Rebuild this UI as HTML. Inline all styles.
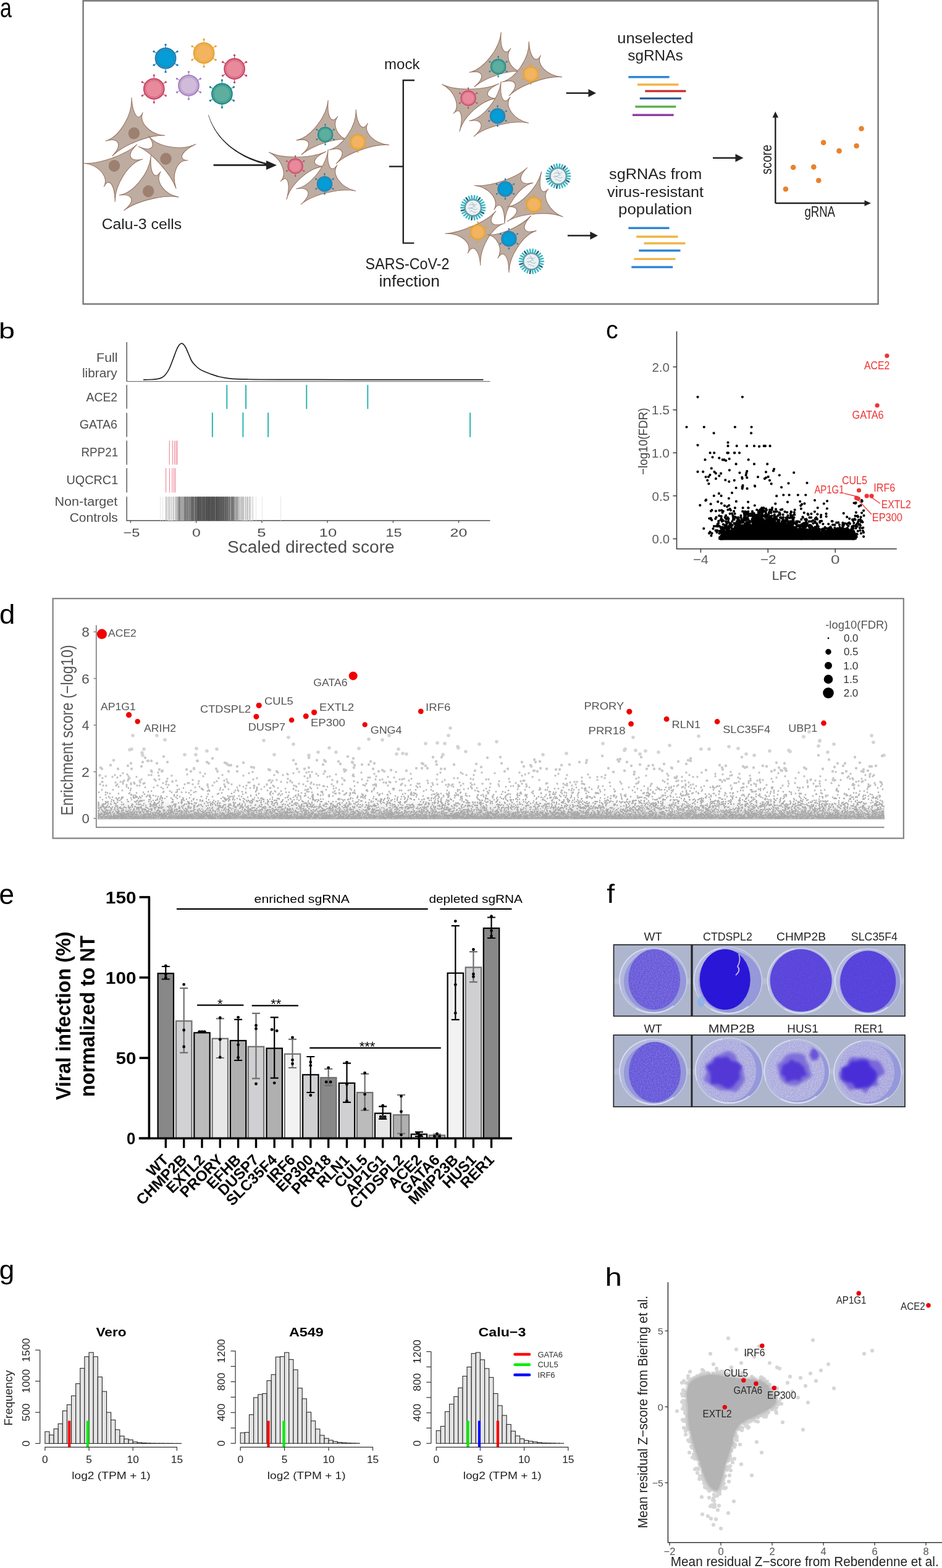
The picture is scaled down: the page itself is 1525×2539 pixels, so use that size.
<!DOCTYPE html><html><head><meta charset="utf-8"><title>Figure</title><style>html,body{margin:0;padding:0;background:#fff;}svg{display:block;font-family:"Liberation Sans",Arial,sans-serif;}</style></head><body><svg width="1525" height="2539" viewBox="0 0 1525 2539"><rect width="1525" height="2539" fill="#fff"/>
<text x="0.1" y="28.3" font-size="44.0" fill="#000" textLength="18.9" lengthAdjust="spacingAndGlyphs">a</text>
<rect x="134.6" y="1.3" width="1287" height="491" fill="none" stroke="#767676" stroke-width="2.4"/>
<g><line x1="268.1" y1="77.1" x2="268.1" y2="72.4" stroke="#1F7CB0" stroke-width="1.2"/><circle cx="268.1" cy="72.4" r="1.7" fill="#1F7CB0"/><line x1="283.1" y1="85.8" x2="287.1" y2="83.4" stroke="#1F7CB0" stroke-width="1.2"/><circle cx="287.1" cy="83.4" r="1.7" fill="#1F7CB0"/><line x1="283.1" y1="103.1" x2="287.1" y2="105.4" stroke="#1F7CB0" stroke-width="1.2"/><circle cx="287.1" cy="105.4" r="1.7" fill="#1F7CB0"/><line x1="268.1" y1="111.7" x2="268.1" y2="116.4" stroke="#1F7CB0" stroke-width="1.2"/><circle cx="268.1" cy="116.4" r="1.7" fill="#1F7CB0"/><line x1="253.1" y1="103.1" x2="249.1" y2="105.4" stroke="#1F7CB0" stroke-width="1.2"/><circle cx="249.1" cy="105.4" r="1.7" fill="#1F7CB0"/><line x1="253.1" y1="85.8" x2="249.1" y2="83.4" stroke="#1F7CB0" stroke-width="1.2"/><circle cx="249.1" cy="83.4" r="1.7" fill="#1F7CB0"/><circle cx="268.1" cy="94.4" r="16.1" fill="#049DD6" stroke="#1F7CB0" stroke-width="2.6"/><circle cx="268.1" cy="94.4" r="14.9" fill="none" stroke="#ffffff" stroke-opacity="0.3" stroke-width="0.9" stroke-dasharray="1.2 1.2"/><circle cx="268.1" cy="94.4" r="13.5" fill="none" stroke="#1F7CB0" stroke-opacity="0.7" stroke-width="1.0"/></g>
<g><line x1="330.1" y1="68.6" x2="330.1" y2="63.9" stroke="#E6A22E" stroke-width="1.2"/><circle cx="330.1" cy="63.9" r="1.7" fill="#E6A22E"/><line x1="345.1" y1="77.2" x2="349.1" y2="74.9" stroke="#E6A22E" stroke-width="1.2"/><circle cx="349.1" cy="74.9" r="1.7" fill="#E6A22E"/><line x1="345.1" y1="94.6" x2="349.1" y2="96.9" stroke="#E6A22E" stroke-width="1.2"/><circle cx="349.1" cy="96.9" r="1.7" fill="#E6A22E"/><line x1="330.1" y1="103.2" x2="330.1" y2="107.9" stroke="#E6A22E" stroke-width="1.2"/><circle cx="330.1" cy="107.9" r="1.7" fill="#E6A22E"/><line x1="315.1" y1="94.6" x2="311.1" y2="96.9" stroke="#E6A22E" stroke-width="1.2"/><circle cx="311.1" cy="96.9" r="1.7" fill="#E6A22E"/><line x1="315.1" y1="77.2" x2="311.1" y2="74.9" stroke="#E6A22E" stroke-width="1.2"/><circle cx="311.1" cy="74.9" r="1.7" fill="#E6A22E"/><circle cx="330.1" cy="85.9" r="16.1" fill="#F3B461" stroke="#E6A22E" stroke-width="2.6"/><circle cx="330.1" cy="85.9" r="14.9" fill="none" stroke="#ffffff" stroke-opacity="0.3" stroke-width="0.9" stroke-dasharray="1.2 1.2"/><circle cx="330.1" cy="85.9" r="13.5" fill="none" stroke="#E6A22E" stroke-opacity="0.7" stroke-width="1.0"/></g>
<g><line x1="379.6" y1="94.2" x2="379.6" y2="89.5" stroke="#C84868" stroke-width="1.2"/><circle cx="379.6" cy="89.5" r="1.7" fill="#C84868"/><line x1="394.6" y1="102.8" x2="398.6" y2="100.5" stroke="#C84868" stroke-width="1.2"/><circle cx="398.6" cy="100.5" r="1.7" fill="#C84868"/><line x1="394.6" y1="120.2" x2="398.6" y2="122.5" stroke="#C84868" stroke-width="1.2"/><circle cx="398.6" cy="122.5" r="1.7" fill="#C84868"/><line x1="379.6" y1="128.8" x2="379.6" y2="133.5" stroke="#C84868" stroke-width="1.2"/><circle cx="379.6" cy="133.5" r="1.7" fill="#C84868"/><line x1="364.6" y1="120.2" x2="360.6" y2="122.5" stroke="#C84868" stroke-width="1.2"/><circle cx="360.6" cy="122.5" r="1.7" fill="#C84868"/><line x1="364.6" y1="102.8" x2="360.6" y2="100.5" stroke="#C84868" stroke-width="1.2"/><circle cx="360.6" cy="100.5" r="1.7" fill="#C84868"/><circle cx="379.6" cy="111.5" r="16.1" fill="#E98A9C" stroke="#C84868" stroke-width="2.6"/><circle cx="379.6" cy="111.5" r="14.9" fill="none" stroke="#ffffff" stroke-opacity="0.3" stroke-width="0.9" stroke-dasharray="1.2 1.2"/><circle cx="379.6" cy="111.5" r="13.5" fill="none" stroke="#C84868" stroke-opacity="0.7" stroke-width="1.0"/></g>
<g><line x1="249.3" y1="126.6" x2="249.3" y2="121.9" stroke="#C84868" stroke-width="1.2"/><circle cx="249.3" cy="121.9" r="1.7" fill="#C84868"/><line x1="264.3" y1="135.2" x2="268.3" y2="132.9" stroke="#C84868" stroke-width="1.2"/><circle cx="268.3" cy="132.9" r="1.7" fill="#C84868"/><line x1="264.3" y1="152.6" x2="268.3" y2="154.9" stroke="#C84868" stroke-width="1.2"/><circle cx="268.3" cy="154.9" r="1.7" fill="#C84868"/><line x1="249.3" y1="161.2" x2="249.3" y2="165.9" stroke="#C84868" stroke-width="1.2"/><circle cx="249.3" cy="165.9" r="1.7" fill="#C84868"/><line x1="234.3" y1="152.6" x2="230.3" y2="154.9" stroke="#C84868" stroke-width="1.2"/><circle cx="230.3" cy="154.9" r="1.7" fill="#C84868"/><line x1="234.3" y1="135.2" x2="230.3" y2="132.9" stroke="#C84868" stroke-width="1.2"/><circle cx="230.3" cy="132.9" r="1.7" fill="#C84868"/><circle cx="249.3" cy="143.9" r="16.1" fill="#E98A9C" stroke="#C84868" stroke-width="2.6"/><circle cx="249.3" cy="143.9" r="14.9" fill="none" stroke="#ffffff" stroke-opacity="0.3" stroke-width="0.9" stroke-dasharray="1.2 1.2"/><circle cx="249.3" cy="143.9" r="13.5" fill="none" stroke="#C84868" stroke-opacity="0.7" stroke-width="1.0"/></g>
<g><line x1="305.5" y1="121.1" x2="305.5" y2="116.4" stroke="#A783C4" stroke-width="1.2"/><circle cx="305.5" cy="116.4" r="1.7" fill="#A783C4"/><line x1="320.5" y1="129.8" x2="324.5" y2="127.4" stroke="#A783C4" stroke-width="1.2"/><circle cx="324.5" cy="127.4" r="1.7" fill="#A783C4"/><line x1="320.5" y1="147.1" x2="324.5" y2="149.4" stroke="#A783C4" stroke-width="1.2"/><circle cx="324.5" cy="149.4" r="1.7" fill="#A783C4"/><line x1="305.5" y1="155.7" x2="305.5" y2="160.4" stroke="#A783C4" stroke-width="1.2"/><circle cx="305.5" cy="160.4" r="1.7" fill="#A783C4"/><line x1="290.5" y1="147.1" x2="286.5" y2="149.4" stroke="#A783C4" stroke-width="1.2"/><circle cx="286.5" cy="149.4" r="1.7" fill="#A783C4"/><line x1="290.5" y1="129.8" x2="286.5" y2="127.4" stroke="#A783C4" stroke-width="1.2"/><circle cx="286.5" cy="127.4" r="1.7" fill="#A783C4"/><circle cx="305.5" cy="138.4" r="16.1" fill="#D0BCD8" stroke="#A783C4" stroke-width="2.6"/><circle cx="305.5" cy="138.4" r="14.9" fill="none" stroke="#ffffff" stroke-opacity="0.3" stroke-width="0.9" stroke-dasharray="1.2 1.2"/><circle cx="305.5" cy="138.4" r="13.5" fill="none" stroke="#A783C4" stroke-opacity="0.7" stroke-width="1.0"/></g>
<g><line x1="359.4" y1="134.7" x2="359.4" y2="130.0" stroke="#1D8789" stroke-width="1.2"/><circle cx="359.4" cy="130.0" r="1.7" fill="#1D8789"/><line x1="374.4" y1="143.3" x2="378.4" y2="141.0" stroke="#1D8789" stroke-width="1.2"/><circle cx="378.4" cy="141.0" r="1.7" fill="#1D8789"/><line x1="374.4" y1="160.7" x2="378.4" y2="163.0" stroke="#1D8789" stroke-width="1.2"/><circle cx="378.4" cy="163.0" r="1.7" fill="#1D8789"/><line x1="359.4" y1="169.3" x2="359.4" y2="174.0" stroke="#1D8789" stroke-width="1.2"/><circle cx="359.4" cy="174.0" r="1.7" fill="#1D8789"/><line x1="344.4" y1="160.7" x2="340.4" y2="163.0" stroke="#1D8789" stroke-width="1.2"/><circle cx="340.4" cy="163.0" r="1.7" fill="#1D8789"/><line x1="344.4" y1="143.3" x2="340.4" y2="141.0" stroke="#1D8789" stroke-width="1.2"/><circle cx="340.4" cy="141.0" r="1.7" fill="#1D8789"/><circle cx="359.4" cy="152.0" r="16.1" fill="#5DAE9C" stroke="#1D8789" stroke-width="2.6"/><circle cx="359.4" cy="152.0" r="14.9" fill="none" stroke="#ffffff" stroke-opacity="0.3" stroke-width="0.9" stroke-dasharray="1.2 1.2"/><circle cx="359.4" cy="152.0" r="13.5" fill="none" stroke="#1D8789" stroke-opacity="0.7" stroke-width="1.0"/></g>
<path d="M212.9 158.4C214.8 186.0 224.3 198.4 231.1 182.3C224.3 198.4 242.6 217.7 266.4 219.4C242.6 217.7 198.7 234.8 181.9 252.4C198.7 234.8 193.1 222.2 171.1 228.2C193.1 222.2 214.8 186.0 212.9 158.4Z" fill="#BEACA0" stroke="#9A7764" stroke-width="1.1" stroke-linejoin="round"/><ellipse cx="216.9" cy="215.8" rx="9.2" ry="9.6" transform="rotate(15 216.9 215.8)" fill="#9E8070"/>
<path d="M135.5 264.3C159.3 266.4 204.0 250.7 221.6 234.2C204.0 250.7 209.0 263.0 231.1 257.8C209.0 263.0 185.7 298.7 186.3 326.5C185.7 298.7 176.4 286.1 168.4 302.3C176.4 286.1 159.3 266.4 135.5 264.3Z" fill="#BEACA0" stroke="#9A7764" stroke-width="1.1" stroke-linejoin="round"/><ellipse cx="185.0" cy="268.6" rx="9.2" ry="9.6" transform="rotate(15 185.0 268.6)" fill="#9E8070"/>
<path d="M224.3 237.3C245.5 246.8 253.9 237.8 240.5 220.0C253.9 237.8 293.6 244.9 316.7 233.6C293.6 244.9 286.9 258.5 303.9 259.8C286.9 258.5 277.1 282.0 285.0 305.0C277.1 282.0 245.5 246.8 224.3 237.3Z" fill="#BEACA0" stroke="#9A7764" stroke-width="1.1" stroke-linejoin="round"/><ellipse cx="268.5" cy="257.1" rx="9.2" ry="9.6" transform="rotate(15 268.5 257.1)" fill="#9E8070"/>
<path d="M244.3 252.4C242.3 279.9 250.5 293.2 260.0 278.0C250.5 293.2 265.6 314.6 289.0 319.1C265.6 314.6 219.7 325.8 200.8 340.7C219.7 325.8 215.7 313.0 193.1 316.0C215.7 313.0 242.3 279.9 244.3 252.4Z" fill="#BEACA0" stroke="#9A7764" stroke-width="1.1" stroke-linejoin="round"/><ellipse cx="240.2" cy="309.7" rx="9.2" ry="9.6" transform="rotate(15 240.2 309.7)" fill="#9E8070"/>
<text x="164.7" y="371.0" font-size="24.5" fill="#222" textLength="129.4" lengthAdjust="spacingAndGlyphs">Calu-3 cells</text>
<path d="M337.2 186.3L338.2 189.4L339.2 192.5L340.4 195.5L341.6 198.5L343.0 201.4L344.4 204.3L345.9 207.1L347.5 209.9L349.2 212.6L350.9 215.2L352.8 217.8L354.7 220.4L356.7 222.9L358.8 225.3L361.0 227.7L363.2 230.0L365.5 232.3L367.9 234.5L370.4 236.7L372.9 238.8L375.5 240.8L378.2 242.8L380.9 244.7L383.7 246.5L386.5 248.3L389.4 250.1L392.4 251.8L395.4 253.4L398.5 254.9L401.7 256.4L404.8 257.9L408.1 259.2L411.4 260.5L414.7 261.8L418.1 262.9L421.5 264.1L425.0 265.1L428.5 266.1L432.1 267.0L435.7 267.9L436.3 265.1L432.7 264.3L429.2 263.5L425.7 262.6L422.3 261.6L418.9 260.5L415.5 259.4L412.2 258.3L409.0 257.0L405.7 255.7L402.6 254.4L399.5 253.0L396.4 251.5L393.4 249.9L390.4 248.3L387.5 246.7L384.7 244.9L381.9 243.1L379.2 241.3L376.6 239.4L374.0 237.4L371.4 235.4L369.0 233.3L366.6 231.2L364.3 229.0L362.0 226.7L359.8 224.4L357.7 222.0L355.7 219.6L353.8 217.1L351.9 214.6L350.1 212.0L348.4 209.3L346.8 206.6L345.2 203.8L343.7 201.0L342.4 198.2L341.1 195.2L339.9 192.2L338.8 189.2L337.8 186.1Z" fill="#222"/>
<line x1="345.6" y1="267.4" x2="432.0" y2="267.4" stroke="#222" stroke-width="2.6"/><path d="M448.0 267.4L431.0 259.9L431.0 274.9Z" fill="#222"/>
<g transform="translate(0.0 0.0)"><path d="M531.2 162.5C529.0 189.1 537.1 202.6 546.7 188.5C537.1 202.6 545.9 222.3 563.7 226.4C545.9 222.3 506.5 234.9 488.0 250.5C506.5 234.9 502.5 222.7 480.2 227.1C502.5 222.7 529.0 189.1 531.2 162.5Z" fill="#BEACA0" stroke="#9A7764" stroke-width="1.1" stroke-linejoin="round"/><path d="M576.2 177.6C577.7 202.8 587.6 214.3 595.3 199.8C587.6 214.3 605.4 232.4 629.5 234.6C605.4 232.4 561.1 248.1 544.3 264.9C561.1 248.1 555.4 236.6 533.3 242.7C555.4 236.6 577.7 202.8 576.2 177.6Z" fill="#BEACA0" stroke="#9A7764" stroke-width="1.1" stroke-linejoin="round"/><path d="M435.7 246.5C456.1 257.3 503.8 256.7 527.6 245.5C503.8 256.7 503.1 269.3 526.2 269.6C503.1 269.3 470.8 296.8 464.0 322.6C470.8 296.8 465.7 281.7 454.3 293.6C465.7 281.7 456.1 257.3 435.7 246.5Z" fill="#BEACA0" stroke="#9A7764" stroke-width="1.1" stroke-linejoin="round"/><path d="M531.2 242.0C528.5 268.8 536.0 282.0 545.7 267.4C536.0 282.0 551.6 303.8 575.7 309.2C551.6 303.8 505.6 315.0 487.3 330.8C505.6 315.0 501.7 302.0 479.8 305.7C501.7 302.0 528.5 268.8 531.2 242.0Z" fill="#BEACA0" stroke="#9A7764" stroke-width="1.1" stroke-linejoin="round"/><g><line x1="526.6" y1="205.3" x2="526.6" y2="201.9" stroke="#1D8789" stroke-width="0.9"/><circle cx="526.6" cy="201.9" r="1.3" fill="#1D8789"/><line x1="537.5" y1="211.6" x2="540.5" y2="209.9" stroke="#1D8789" stroke-width="0.9"/><circle cx="540.5" cy="209.9" r="1.3" fill="#1D8789"/><line x1="537.5" y1="224.2" x2="540.5" y2="225.9" stroke="#1D8789" stroke-width="0.9"/><circle cx="540.5" cy="225.9" r="1.3" fill="#1D8789"/><line x1="526.6" y1="230.5" x2="526.6" y2="233.9" stroke="#1D8789" stroke-width="0.9"/><circle cx="526.6" cy="233.9" r="1.3" fill="#1D8789"/><line x1="515.7" y1="224.2" x2="512.7" y2="225.9" stroke="#1D8789" stroke-width="0.9"/><circle cx="512.7" cy="225.9" r="1.3" fill="#1D8789"/><line x1="515.7" y1="211.6" x2="512.7" y2="209.9" stroke="#1D8789" stroke-width="0.9"/><circle cx="512.7" cy="209.9" r="1.3" fill="#1D8789"/><circle cx="526.6" cy="217.9" r="11.7" fill="#5DAE9C" stroke="#1D8789" stroke-width="1.9"/><circle cx="526.6" cy="217.9" r="10.8" fill="none" stroke="#ffffff" stroke-opacity="0.3" stroke-width="0.6" stroke-dasharray="1.2 1.2"/><circle cx="526.6" cy="217.9" r="9.8" fill="none" stroke="#1D8789" stroke-opacity="0.7" stroke-width="0.8"/></g><g><line x1="579.3" y1="217.4" x2="579.3" y2="214.0" stroke="#E6A22E" stroke-width="0.9"/><circle cx="579.3" cy="214.0" r="1.3" fill="#E6A22E"/><line x1="590.2" y1="223.7" x2="593.2" y2="222.0" stroke="#E6A22E" stroke-width="0.9"/><circle cx="593.2" cy="222.0" r="1.3" fill="#E6A22E"/><line x1="590.2" y1="236.3" x2="593.2" y2="238.0" stroke="#E6A22E" stroke-width="0.9"/><circle cx="593.2" cy="238.0" r="1.3" fill="#E6A22E"/><line x1="579.3" y1="242.6" x2="579.3" y2="246.0" stroke="#E6A22E" stroke-width="0.9"/><circle cx="579.3" cy="246.0" r="1.3" fill="#E6A22E"/><line x1="568.4" y1="236.3" x2="565.4" y2="238.0" stroke="#E6A22E" stroke-width="0.9"/><circle cx="565.4" cy="238.0" r="1.3" fill="#E6A22E"/><line x1="568.4" y1="223.7" x2="565.4" y2="222.0" stroke="#E6A22E" stroke-width="0.9"/><circle cx="565.4" cy="222.0" r="1.3" fill="#E6A22E"/><circle cx="579.3" cy="230.0" r="11.7" fill="#F3B461" stroke="#E6A22E" stroke-width="1.9"/><circle cx="579.3" cy="230.0" r="10.8" fill="none" stroke="#ffffff" stroke-opacity="0.3" stroke-width="0.6" stroke-dasharray="1.2 1.2"/><circle cx="579.3" cy="230.0" r="9.8" fill="none" stroke="#E6A22E" stroke-opacity="0.7" stroke-width="0.8"/></g><g><line x1="478.1" y1="256.3" x2="478.1" y2="252.9" stroke="#C84868" stroke-width="0.9"/><circle cx="478.1" cy="252.9" r="1.3" fill="#C84868"/><line x1="489.0" y1="262.6" x2="492.0" y2="260.9" stroke="#C84868" stroke-width="0.9"/><circle cx="492.0" cy="260.9" r="1.3" fill="#C84868"/><line x1="489.0" y1="275.2" x2="492.0" y2="276.9" stroke="#C84868" stroke-width="0.9"/><circle cx="492.0" cy="276.9" r="1.3" fill="#C84868"/><line x1="478.1" y1="281.5" x2="478.1" y2="284.9" stroke="#C84868" stroke-width="0.9"/><circle cx="478.1" cy="284.9" r="1.3" fill="#C84868"/><line x1="467.2" y1="275.2" x2="464.2" y2="276.9" stroke="#C84868" stroke-width="0.9"/><circle cx="464.2" cy="276.9" r="1.3" fill="#C84868"/><line x1="467.2" y1="262.6" x2="464.2" y2="260.9" stroke="#C84868" stroke-width="0.9"/><circle cx="464.2" cy="260.9" r="1.3" fill="#C84868"/><circle cx="478.1" cy="268.9" r="11.7" fill="#E98A9C" stroke="#C84868" stroke-width="1.9"/><circle cx="478.1" cy="268.9" r="10.8" fill="none" stroke="#ffffff" stroke-opacity="0.3" stroke-width="0.6" stroke-dasharray="1.2 1.2"/><circle cx="478.1" cy="268.9" r="9.8" fill="none" stroke="#C84868" stroke-opacity="0.7" stroke-width="0.8"/></g><g><line x1="525.5" y1="285.3" x2="525.5" y2="281.9" stroke="#1F7CB0" stroke-width="0.9"/><circle cx="525.5" cy="281.9" r="1.3" fill="#1F7CB0"/><line x1="536.4" y1="291.6" x2="539.4" y2="289.9" stroke="#1F7CB0" stroke-width="0.9"/><circle cx="539.4" cy="289.9" r="1.3" fill="#1F7CB0"/><line x1="536.4" y1="304.2" x2="539.4" y2="305.9" stroke="#1F7CB0" stroke-width="0.9"/><circle cx="539.4" cy="305.9" r="1.3" fill="#1F7CB0"/><line x1="525.5" y1="310.5" x2="525.5" y2="313.9" stroke="#1F7CB0" stroke-width="0.9"/><circle cx="525.5" cy="313.9" r="1.3" fill="#1F7CB0"/><line x1="514.6" y1="304.2" x2="511.6" y2="305.9" stroke="#1F7CB0" stroke-width="0.9"/><circle cx="511.6" cy="305.9" r="1.3" fill="#1F7CB0"/><line x1="514.6" y1="291.6" x2="511.6" y2="289.9" stroke="#1F7CB0" stroke-width="0.9"/><circle cx="511.6" cy="289.9" r="1.3" fill="#1F7CB0"/><circle cx="525.5" cy="297.9" r="11.7" fill="#049DD6" stroke="#1F7CB0" stroke-width="1.9"/><circle cx="525.5" cy="297.9" r="10.8" fill="none" stroke="#ffffff" stroke-opacity="0.3" stroke-width="0.6" stroke-dasharray="1.2 1.2"/><circle cx="525.5" cy="297.9" r="9.8" fill="none" stroke="#1F7CB0" stroke-opacity="0.7" stroke-width="0.8"/></g></g>
<g transform="translate(280.0 -110.0)"><path d="M531.2 162.5C529.0 189.1 537.1 202.6 546.7 188.5C537.1 202.6 545.9 222.3 563.7 226.4C545.9 222.3 506.5 234.9 488.0 250.5C506.5 234.9 502.5 222.7 480.2 227.1C502.5 222.7 529.0 189.1 531.2 162.5Z" fill="#BEACA0" stroke="#9A7764" stroke-width="1.1" stroke-linejoin="round"/><path d="M576.2 177.6C577.7 202.8 587.6 214.3 595.3 199.8C587.6 214.3 605.4 232.4 629.5 234.6C605.4 232.4 561.1 248.1 544.3 264.9C561.1 248.1 555.4 236.6 533.3 242.7C555.4 236.6 577.7 202.8 576.2 177.6Z" fill="#BEACA0" stroke="#9A7764" stroke-width="1.1" stroke-linejoin="round"/><path d="M435.7 246.5C456.1 257.3 503.8 256.7 527.6 245.5C503.8 256.7 503.1 269.3 526.2 269.6C503.1 269.3 470.8 296.8 464.0 322.6C470.8 296.8 465.7 281.7 454.3 293.6C465.7 281.7 456.1 257.3 435.7 246.5Z" fill="#BEACA0" stroke="#9A7764" stroke-width="1.1" stroke-linejoin="round"/><path d="M531.2 242.0C528.5 268.8 536.0 282.0 545.7 267.4C536.0 282.0 551.6 303.8 575.7 309.2C551.6 303.8 505.6 315.0 487.3 330.8C505.6 315.0 501.7 302.0 479.8 305.7C501.7 302.0 528.5 268.8 531.2 242.0Z" fill="#BEACA0" stroke="#9A7764" stroke-width="1.1" stroke-linejoin="round"/><g><line x1="526.6" y1="205.3" x2="526.6" y2="201.9" stroke="#1D8789" stroke-width="0.9"/><circle cx="526.6" cy="201.9" r="1.3" fill="#1D8789"/><line x1="537.5" y1="211.6" x2="540.5" y2="209.9" stroke="#1D8789" stroke-width="0.9"/><circle cx="540.5" cy="209.9" r="1.3" fill="#1D8789"/><line x1="537.5" y1="224.2" x2="540.5" y2="225.9" stroke="#1D8789" stroke-width="0.9"/><circle cx="540.5" cy="225.9" r="1.3" fill="#1D8789"/><line x1="526.6" y1="230.5" x2="526.6" y2="233.9" stroke="#1D8789" stroke-width="0.9"/><circle cx="526.6" cy="233.9" r="1.3" fill="#1D8789"/><line x1="515.7" y1="224.2" x2="512.7" y2="225.9" stroke="#1D8789" stroke-width="0.9"/><circle cx="512.7" cy="225.9" r="1.3" fill="#1D8789"/><line x1="515.7" y1="211.6" x2="512.7" y2="209.9" stroke="#1D8789" stroke-width="0.9"/><circle cx="512.7" cy="209.9" r="1.3" fill="#1D8789"/><circle cx="526.6" cy="217.9" r="11.7" fill="#5DAE9C" stroke="#1D8789" stroke-width="1.9"/><circle cx="526.6" cy="217.9" r="10.8" fill="none" stroke="#ffffff" stroke-opacity="0.3" stroke-width="0.6" stroke-dasharray="1.2 1.2"/><circle cx="526.6" cy="217.9" r="9.8" fill="none" stroke="#1D8789" stroke-opacity="0.7" stroke-width="0.8"/></g><g><line x1="579.3" y1="217.4" x2="579.3" y2="214.0" stroke="#E6A22E" stroke-width="0.9"/><circle cx="579.3" cy="214.0" r="1.3" fill="#E6A22E"/><line x1="590.2" y1="223.7" x2="593.2" y2="222.0" stroke="#E6A22E" stroke-width="0.9"/><circle cx="593.2" cy="222.0" r="1.3" fill="#E6A22E"/><line x1="590.2" y1="236.3" x2="593.2" y2="238.0" stroke="#E6A22E" stroke-width="0.9"/><circle cx="593.2" cy="238.0" r="1.3" fill="#E6A22E"/><line x1="579.3" y1="242.6" x2="579.3" y2="246.0" stroke="#E6A22E" stroke-width="0.9"/><circle cx="579.3" cy="246.0" r="1.3" fill="#E6A22E"/><line x1="568.4" y1="236.3" x2="565.4" y2="238.0" stroke="#E6A22E" stroke-width="0.9"/><circle cx="565.4" cy="238.0" r="1.3" fill="#E6A22E"/><line x1="568.4" y1="223.7" x2="565.4" y2="222.0" stroke="#E6A22E" stroke-width="0.9"/><circle cx="565.4" cy="222.0" r="1.3" fill="#E6A22E"/><circle cx="579.3" cy="230.0" r="11.7" fill="#F3B461" stroke="#E6A22E" stroke-width="1.9"/><circle cx="579.3" cy="230.0" r="10.8" fill="none" stroke="#ffffff" stroke-opacity="0.3" stroke-width="0.6" stroke-dasharray="1.2 1.2"/><circle cx="579.3" cy="230.0" r="9.8" fill="none" stroke="#E6A22E" stroke-opacity="0.7" stroke-width="0.8"/></g><g><line x1="478.1" y1="256.3" x2="478.1" y2="252.9" stroke="#C84868" stroke-width="0.9"/><circle cx="478.1" cy="252.9" r="1.3" fill="#C84868"/><line x1="489.0" y1="262.6" x2="492.0" y2="260.9" stroke="#C84868" stroke-width="0.9"/><circle cx="492.0" cy="260.9" r="1.3" fill="#C84868"/><line x1="489.0" y1="275.2" x2="492.0" y2="276.9" stroke="#C84868" stroke-width="0.9"/><circle cx="492.0" cy="276.9" r="1.3" fill="#C84868"/><line x1="478.1" y1="281.5" x2="478.1" y2="284.9" stroke="#C84868" stroke-width="0.9"/><circle cx="478.1" cy="284.9" r="1.3" fill="#C84868"/><line x1="467.2" y1="275.2" x2="464.2" y2="276.9" stroke="#C84868" stroke-width="0.9"/><circle cx="464.2" cy="276.9" r="1.3" fill="#C84868"/><line x1="467.2" y1="262.6" x2="464.2" y2="260.9" stroke="#C84868" stroke-width="0.9"/><circle cx="464.2" cy="260.9" r="1.3" fill="#C84868"/><circle cx="478.1" cy="268.9" r="11.7" fill="#E98A9C" stroke="#C84868" stroke-width="1.9"/><circle cx="478.1" cy="268.9" r="10.8" fill="none" stroke="#ffffff" stroke-opacity="0.3" stroke-width="0.6" stroke-dasharray="1.2 1.2"/><circle cx="478.1" cy="268.9" r="9.8" fill="none" stroke="#C84868" stroke-opacity="0.7" stroke-width="0.8"/></g><g><line x1="525.5" y1="285.3" x2="525.5" y2="281.9" stroke="#1F7CB0" stroke-width="0.9"/><circle cx="525.5" cy="281.9" r="1.3" fill="#1F7CB0"/><line x1="536.4" y1="291.6" x2="539.4" y2="289.9" stroke="#1F7CB0" stroke-width="0.9"/><circle cx="539.4" cy="289.9" r="1.3" fill="#1F7CB0"/><line x1="536.4" y1="304.2" x2="539.4" y2="305.9" stroke="#1F7CB0" stroke-width="0.9"/><circle cx="539.4" cy="305.9" r="1.3" fill="#1F7CB0"/><line x1="525.5" y1="310.5" x2="525.5" y2="313.9" stroke="#1F7CB0" stroke-width="0.9"/><circle cx="525.5" cy="313.9" r="1.3" fill="#1F7CB0"/><line x1="514.6" y1="304.2" x2="511.6" y2="305.9" stroke="#1F7CB0" stroke-width="0.9"/><circle cx="511.6" cy="305.9" r="1.3" fill="#1F7CB0"/><line x1="514.6" y1="291.6" x2="511.6" y2="289.9" stroke="#1F7CB0" stroke-width="0.9"/><circle cx="511.6" cy="289.9" r="1.3" fill="#1F7CB0"/><circle cx="525.5" cy="297.9" r="11.7" fill="#049DD6" stroke="#1F7CB0" stroke-width="1.9"/><circle cx="525.5" cy="297.9" r="10.8" fill="none" stroke="#ffffff" stroke-opacity="0.3" stroke-width="0.6" stroke-dasharray="1.2 1.2"/><circle cx="525.5" cy="297.9" r="9.8" fill="none" stroke="#1F7CB0" stroke-opacity="0.7" stroke-width="0.8"/></g></g>
<path d="M671 130H652.8V393.6H670.4" fill="none" stroke="#222" stroke-width="2.4"/>
<line x1="630" y1="269.6" x2="652.8" y2="269.6" stroke="#222" stroke-width="2.4"/>
<text x="622.1" y="112.1" font-size="24.0" fill="#222" textLength="57.4" lengthAdjust="spacingAndGlyphs">mock</text>
<text x="591.6" y="436.1" font-size="25.0" fill="#222" textLength="135.9" lengthAdjust="spacingAndGlyphs">SARS-CoV-2</text>
<text x="613.5" y="463.9" font-size="25.0" fill="#222" textLength="98.4" lengthAdjust="spacingAndGlyphs">infection</text>
<path d="M768.1 300.3C792.1 303.1 836.4 288.2 853.4 271.7C836.4 288.2 841.2 300.9 862.7 296.1C841.2 300.9 817.4 335.2 816.9 362.0C817.4 335.2 808.6 323.5 799.9 339.5C808.6 323.5 792.1 303.1 768.1 300.3Z" fill="#BEACA0" stroke="#9A7764" stroke-width="1.1" stroke-linejoin="round"/>
<path d="M876.6 278.2C870.6 303.5 876.3 318.1 887.5 306.1C876.3 318.1 888.5 341.5 911.0 351.1C888.5 341.5 841.9 345.3 821.3 358.5C841.9 345.3 841.9 333.0 821.3 334.8C841.9 333.0 870.6 303.5 876.6 278.2Z" fill="#BEACA0" stroke="#9A7764" stroke-width="1.1" stroke-linejoin="round"/>
<path d="M720.8 378.2C746.1 377.1 788.7 358.2 802.7 341.8C788.7 358.2 795.3 368.6 815.4 361.9C795.3 368.6 775.8 403.7 777.9 429.4C775.8 403.7 765.1 393.6 757.3 410.0C765.1 393.6 746.1 377.1 720.8 378.2Z" fill="#BEACA0" stroke="#9A7764" stroke-width="1.1" stroke-linejoin="round"/>
<path d="M789.0 379.8C805.8 383.1 842.5 367.4 859.6 349.5C842.5 367.4 846.9 379.9 868.1 373.6C846.9 379.9 823.9 414.9 823.9 441.0C823.9 414.9 814.6 402.8 806.1 417.7C814.6 402.8 805.8 383.1 789.0 379.8Z" fill="#BEACA0" stroke="#9A7764" stroke-width="1.1" stroke-linejoin="round"/>
<g><line x1="818.0" y1="293.5" x2="818.0" y2="290.1" stroke="#1F7CB0" stroke-width="0.9"/><circle cx="818.0" cy="290.1" r="1.3" fill="#1F7CB0"/><line x1="828.9" y1="299.8" x2="831.9" y2="298.1" stroke="#1F7CB0" stroke-width="0.9"/><circle cx="831.9" cy="298.1" r="1.3" fill="#1F7CB0"/><line x1="828.9" y1="312.4" x2="831.9" y2="314.1" stroke="#1F7CB0" stroke-width="0.9"/><circle cx="831.9" cy="314.1" r="1.3" fill="#1F7CB0"/><line x1="818.0" y1="318.7" x2="818.0" y2="322.1" stroke="#1F7CB0" stroke-width="0.9"/><circle cx="818.0" cy="322.1" r="1.3" fill="#1F7CB0"/><line x1="807.1" y1="312.4" x2="804.1" y2="314.1" stroke="#1F7CB0" stroke-width="0.9"/><circle cx="804.1" cy="314.1" r="1.3" fill="#1F7CB0"/><line x1="807.1" y1="299.8" x2="804.1" y2="298.1" stroke="#1F7CB0" stroke-width="0.9"/><circle cx="804.1" cy="298.1" r="1.3" fill="#1F7CB0"/><circle cx="818.0" cy="306.1" r="11.7" fill="#049DD6" stroke="#1F7CB0" stroke-width="1.9"/><circle cx="818.0" cy="306.1" r="10.8" fill="none" stroke="#ffffff" stroke-opacity="0.3" stroke-width="0.6" stroke-dasharray="1.2 1.2"/><circle cx="818.0" cy="306.1" r="9.8" fill="none" stroke="#1F7CB0" stroke-opacity="0.7" stroke-width="0.8"/></g>
<g><line x1="864.2" y1="318.4" x2="864.2" y2="315.0" stroke="#E6A22E" stroke-width="0.9"/><circle cx="864.2" cy="315.0" r="1.3" fill="#E6A22E"/><line x1="875.1" y1="324.7" x2="878.1" y2="323.0" stroke="#E6A22E" stroke-width="0.9"/><circle cx="878.1" cy="323.0" r="1.3" fill="#E6A22E"/><line x1="875.1" y1="337.3" x2="878.1" y2="339.0" stroke="#E6A22E" stroke-width="0.9"/><circle cx="878.1" cy="339.0" r="1.3" fill="#E6A22E"/><line x1="864.2" y1="343.6" x2="864.2" y2="347.0" stroke="#E6A22E" stroke-width="0.9"/><circle cx="864.2" cy="347.0" r="1.3" fill="#E6A22E"/><line x1="853.3" y1="337.3" x2="850.3" y2="339.0" stroke="#E6A22E" stroke-width="0.9"/><circle cx="850.3" cy="339.0" r="1.3" fill="#E6A22E"/><line x1="853.3" y1="324.7" x2="850.3" y2="323.0" stroke="#E6A22E" stroke-width="0.9"/><circle cx="850.3" cy="323.0" r="1.3" fill="#E6A22E"/><circle cx="864.2" cy="331.0" r="11.7" fill="#F3B461" stroke="#E6A22E" stroke-width="1.9"/><circle cx="864.2" cy="331.0" r="10.8" fill="none" stroke="#ffffff" stroke-opacity="0.3" stroke-width="0.6" stroke-dasharray="1.2 1.2"/><circle cx="864.2" cy="331.0" r="9.8" fill="none" stroke="#E6A22E" stroke-opacity="0.7" stroke-width="0.8"/></g>
<g><line x1="773.5" y1="363.3" x2="773.5" y2="359.9" stroke="#E6A22E" stroke-width="0.9"/><circle cx="773.5" cy="359.9" r="1.3" fill="#E6A22E"/><line x1="784.4" y1="369.6" x2="787.4" y2="367.9" stroke="#E6A22E" stroke-width="0.9"/><circle cx="787.4" cy="367.9" r="1.3" fill="#E6A22E"/><line x1="784.4" y1="382.2" x2="787.4" y2="383.9" stroke="#E6A22E" stroke-width="0.9"/><circle cx="787.4" cy="383.9" r="1.3" fill="#E6A22E"/><line x1="773.5" y1="388.5" x2="773.5" y2="391.9" stroke="#E6A22E" stroke-width="0.9"/><circle cx="773.5" cy="391.9" r="1.3" fill="#E6A22E"/><line x1="762.6" y1="382.2" x2="759.6" y2="383.9" stroke="#E6A22E" stroke-width="0.9"/><circle cx="759.6" cy="383.9" r="1.3" fill="#E6A22E"/><line x1="762.6" y1="369.6" x2="759.6" y2="367.9" stroke="#E6A22E" stroke-width="0.9"/><circle cx="759.6" cy="367.9" r="1.3" fill="#E6A22E"/><circle cx="773.5" cy="375.9" r="11.7" fill="#F3B461" stroke="#E6A22E" stroke-width="1.9"/><circle cx="773.5" cy="375.9" r="10.8" fill="none" stroke="#ffffff" stroke-opacity="0.3" stroke-width="0.6" stroke-dasharray="1.2 1.2"/><circle cx="773.5" cy="375.9" r="9.8" fill="none" stroke="#E6A22E" stroke-opacity="0.7" stroke-width="0.8"/></g>
<g><line x1="823.9" y1="374.1" x2="823.9" y2="370.7" stroke="#1F7CB0" stroke-width="0.9"/><circle cx="823.9" cy="370.7" r="1.3" fill="#1F7CB0"/><line x1="834.8" y1="380.4" x2="837.8" y2="378.7" stroke="#1F7CB0" stroke-width="0.9"/><circle cx="837.8" cy="378.7" r="1.3" fill="#1F7CB0"/><line x1="834.8" y1="393.0" x2="837.8" y2="394.7" stroke="#1F7CB0" stroke-width="0.9"/><circle cx="837.8" cy="394.7" r="1.3" fill="#1F7CB0"/><line x1="823.9" y1="399.3" x2="823.9" y2="402.7" stroke="#1F7CB0" stroke-width="0.9"/><circle cx="823.9" cy="402.7" r="1.3" fill="#1F7CB0"/><line x1="813.0" y1="393.0" x2="810.0" y2="394.7" stroke="#1F7CB0" stroke-width="0.9"/><circle cx="810.0" cy="394.7" r="1.3" fill="#1F7CB0"/><line x1="813.0" y1="380.4" x2="810.0" y2="378.7" stroke="#1F7CB0" stroke-width="0.9"/><circle cx="810.0" cy="378.7" r="1.3" fill="#1F7CB0"/><circle cx="823.9" cy="386.7" r="11.7" fill="#049DD6" stroke="#1F7CB0" stroke-width="1.9"/><circle cx="823.9" cy="386.7" r="10.8" fill="none" stroke="#ffffff" stroke-opacity="0.3" stroke-width="0.6" stroke-dasharray="1.2 1.2"/><circle cx="823.9" cy="386.7" r="9.8" fill="none" stroke="#1F7CB0" stroke-opacity="0.7" stroke-width="0.8"/></g>
<g><line x1="918.2" y1="285.2" x2="923.2" y2="285.2" stroke="#3BB8C4" stroke-width="2.6" stroke-linecap="round"/><line x1="917.8" y1="288.7" x2="922.6" y2="289.9" stroke="#3BB8C4" stroke-width="2.6" stroke-linecap="round"/><line x1="916.5" y1="291.9" x2="921.0" y2="294.3" stroke="#1F6678" stroke-width="2.6" stroke-linecap="round"/><line x1="914.6" y1="294.8" x2="918.3" y2="298.1" stroke="#3BB8C4" stroke-width="2.6" stroke-linecap="round"/><line x1="911.9" y1="297.1" x2="914.8" y2="301.2" stroke="#3BB8C4" stroke-width="2.6" stroke-linecap="round"/><line x1="908.8" y1="298.8" x2="910.6" y2="303.4" stroke="#3BB8C4" stroke-width="2.6" stroke-linecap="round"/><line x1="905.4" y1="299.6" x2="906.1" y2="304.6" stroke="#3BB8C4" stroke-width="2.6" stroke-linecap="round"/><line x1="902.0" y1="299.6" x2="901.3" y2="304.6" stroke="#1F6678" stroke-width="2.6" stroke-linecap="round"/><line x1="898.6" y1="298.8" x2="896.8" y2="303.4" stroke="#3BB8C4" stroke-width="2.6" stroke-linecap="round"/><line x1="895.5" y1="297.1" x2="892.6" y2="301.2" stroke="#3BB8C4" stroke-width="2.6" stroke-linecap="round"/><line x1="892.8" y1="294.8" x2="889.1" y2="298.1" stroke="#3BB8C4" stroke-width="2.6" stroke-linecap="round"/><line x1="890.9" y1="291.9" x2="886.4" y2="294.3" stroke="#3BB8C4" stroke-width="2.6" stroke-linecap="round"/><line x1="889.6" y1="288.7" x2="884.8" y2="289.9" stroke="#1F6678" stroke-width="2.6" stroke-linecap="round"/><line x1="889.2" y1="285.2" x2="884.2" y2="285.2" stroke="#3BB8C4" stroke-width="2.6" stroke-linecap="round"/><line x1="889.6" y1="281.7" x2="884.8" y2="280.5" stroke="#3BB8C4" stroke-width="2.6" stroke-linecap="round"/><line x1="890.9" y1="278.5" x2="886.4" y2="276.1" stroke="#3BB8C4" stroke-width="2.6" stroke-linecap="round"/><line x1="892.8" y1="275.6" x2="889.1" y2="272.3" stroke="#3BB8C4" stroke-width="2.6" stroke-linecap="round"/><line x1="895.5" y1="273.3" x2="892.6" y2="269.2" stroke="#1F6678" stroke-width="2.6" stroke-linecap="round"/><line x1="898.6" y1="271.6" x2="896.8" y2="267.0" stroke="#3BB8C4" stroke-width="2.6" stroke-linecap="round"/><line x1="902.0" y1="270.8" x2="901.3" y2="265.8" stroke="#3BB8C4" stroke-width="2.6" stroke-linecap="round"/><line x1="905.4" y1="270.8" x2="906.1" y2="265.8" stroke="#3BB8C4" stroke-width="2.6" stroke-linecap="round"/><line x1="908.8" y1="271.6" x2="910.6" y2="267.0" stroke="#3BB8C4" stroke-width="2.6" stroke-linecap="round"/><line x1="911.9" y1="273.3" x2="914.8" y2="269.2" stroke="#1F6678" stroke-width="2.6" stroke-linecap="round"/><line x1="914.6" y1="275.6" x2="918.3" y2="272.3" stroke="#3BB8C4" stroke-width="2.6" stroke-linecap="round"/><line x1="916.5" y1="278.5" x2="921.0" y2="276.1" stroke="#3BB8C4" stroke-width="2.6" stroke-linecap="round"/><line x1="917.8" y1="281.7" x2="922.6" y2="280.5" stroke="#3BB8C4" stroke-width="2.6" stroke-linecap="round"/><circle cx="903.7" cy="285.2" r="14.2" fill="#5A9AAA"/><circle cx="903.7" cy="285.2" r="12.6" fill="#EAF2F3" stroke="#6F96A6" stroke-width="1.3"/><path d="M896.7 281.2 q3.2 -2.5 6.5 -1.0 t6.5 -1.0" fill="none" stroke="#9AA6BC" stroke-width="0.8"/><path d="M895.7 286.2 q3.8 -2.5 7.5 0.5 t7.5 0.5" fill="none" stroke="#9AA6BC" stroke-width="0.8"/><path d="M898.7 291.2 q2.5 -2.5 5.0 0.5 t5.0 0.5" fill="none" stroke="#9AA6BC" stroke-width="0.8"/><path d="M900.7 277.2 q1.8 -2.5 3.5 3.0 t3.5 3.0" fill="none" stroke="#9AA6BC" stroke-width="0.8"/><path d="M897.7 288.2 q2.0 -2.5 4.0 -3.0 t4.0 -3.0" fill="none" stroke="#9AA6BC" stroke-width="0.8"/></g>
<g><line x1="780.3" y1="336.4" x2="785.3" y2="336.4" stroke="#3BB8C4" stroke-width="2.6" stroke-linecap="round"/><line x1="779.9" y1="339.9" x2="784.7" y2="341.1" stroke="#3BB8C4" stroke-width="2.6" stroke-linecap="round"/><line x1="778.6" y1="343.1" x2="783.1" y2="345.5" stroke="#1F6678" stroke-width="2.6" stroke-linecap="round"/><line x1="776.7" y1="346.0" x2="780.4" y2="349.3" stroke="#3BB8C4" stroke-width="2.6" stroke-linecap="round"/><line x1="774.0" y1="348.3" x2="776.9" y2="352.4" stroke="#3BB8C4" stroke-width="2.6" stroke-linecap="round"/><line x1="770.9" y1="350.0" x2="772.7" y2="354.6" stroke="#3BB8C4" stroke-width="2.6" stroke-linecap="round"/><line x1="767.5" y1="350.8" x2="768.2" y2="355.8" stroke="#3BB8C4" stroke-width="2.6" stroke-linecap="round"/><line x1="764.1" y1="350.8" x2="763.4" y2="355.8" stroke="#1F6678" stroke-width="2.6" stroke-linecap="round"/><line x1="760.7" y1="350.0" x2="758.9" y2="354.6" stroke="#3BB8C4" stroke-width="2.6" stroke-linecap="round"/><line x1="757.6" y1="348.3" x2="754.7" y2="352.4" stroke="#3BB8C4" stroke-width="2.6" stroke-linecap="round"/><line x1="754.9" y1="346.0" x2="751.2" y2="349.3" stroke="#3BB8C4" stroke-width="2.6" stroke-linecap="round"/><line x1="753.0" y1="343.1" x2="748.5" y2="345.5" stroke="#3BB8C4" stroke-width="2.6" stroke-linecap="round"/><line x1="751.7" y1="339.9" x2="746.9" y2="341.1" stroke="#1F6678" stroke-width="2.6" stroke-linecap="round"/><line x1="751.3" y1="336.4" x2="746.3" y2="336.4" stroke="#3BB8C4" stroke-width="2.6" stroke-linecap="round"/><line x1="751.7" y1="332.9" x2="746.9" y2="331.7" stroke="#3BB8C4" stroke-width="2.6" stroke-linecap="round"/><line x1="753.0" y1="329.7" x2="748.5" y2="327.3" stroke="#3BB8C4" stroke-width="2.6" stroke-linecap="round"/><line x1="754.9" y1="326.8" x2="751.2" y2="323.5" stroke="#3BB8C4" stroke-width="2.6" stroke-linecap="round"/><line x1="757.6" y1="324.5" x2="754.7" y2="320.4" stroke="#1F6678" stroke-width="2.6" stroke-linecap="round"/><line x1="760.7" y1="322.8" x2="758.9" y2="318.2" stroke="#3BB8C4" stroke-width="2.6" stroke-linecap="round"/><line x1="764.1" y1="322.0" x2="763.4" y2="317.0" stroke="#3BB8C4" stroke-width="2.6" stroke-linecap="round"/><line x1="767.5" y1="322.0" x2="768.2" y2="317.0" stroke="#3BB8C4" stroke-width="2.6" stroke-linecap="round"/><line x1="770.9" y1="322.8" x2="772.7" y2="318.2" stroke="#3BB8C4" stroke-width="2.6" stroke-linecap="round"/><line x1="774.0" y1="324.5" x2="776.9" y2="320.4" stroke="#1F6678" stroke-width="2.6" stroke-linecap="round"/><line x1="776.7" y1="326.8" x2="780.4" y2="323.5" stroke="#3BB8C4" stroke-width="2.6" stroke-linecap="round"/><line x1="778.6" y1="329.7" x2="783.1" y2="327.3" stroke="#3BB8C4" stroke-width="2.6" stroke-linecap="round"/><line x1="779.9" y1="332.9" x2="784.7" y2="331.7" stroke="#3BB8C4" stroke-width="2.6" stroke-linecap="round"/><circle cx="765.8" cy="336.4" r="14.2" fill="#5A9AAA"/><circle cx="765.8" cy="336.4" r="12.6" fill="#EAF2F3" stroke="#6F96A6" stroke-width="1.3"/><path d="M758.8 332.4 q3.2 -2.5 6.5 -1.0 t6.5 -1.0" fill="none" stroke="#9AA6BC" stroke-width="0.8"/><path d="M757.8 337.4 q3.8 -2.5 7.5 0.5 t7.5 0.5" fill="none" stroke="#9AA6BC" stroke-width="0.8"/><path d="M760.8 342.4 q2.5 -2.5 5.0 0.5 t5.0 0.5" fill="none" stroke="#9AA6BC" stroke-width="0.8"/><path d="M762.8 328.4 q1.8 -2.5 3.5 3.0 t3.5 3.0" fill="none" stroke="#9AA6BC" stroke-width="0.8"/><path d="M759.8 339.4 q2.0 -2.5 4.0 -3.0 t4.0 -3.0" fill="none" stroke="#9AA6BC" stroke-width="0.8"/></g>
<g><line x1="874.8" y1="423.2" x2="879.8" y2="423.2" stroke="#3BB8C4" stroke-width="2.6" stroke-linecap="round"/><line x1="874.4" y1="426.7" x2="879.2" y2="427.9" stroke="#3BB8C4" stroke-width="2.6" stroke-linecap="round"/><line x1="873.1" y1="429.9" x2="877.6" y2="432.3" stroke="#1F6678" stroke-width="2.6" stroke-linecap="round"/><line x1="871.2" y1="432.8" x2="874.9" y2="436.1" stroke="#3BB8C4" stroke-width="2.6" stroke-linecap="round"/><line x1="868.5" y1="435.1" x2="871.4" y2="439.2" stroke="#3BB8C4" stroke-width="2.6" stroke-linecap="round"/><line x1="865.4" y1="436.8" x2="867.2" y2="441.4" stroke="#3BB8C4" stroke-width="2.6" stroke-linecap="round"/><line x1="862.0" y1="437.6" x2="862.7" y2="442.6" stroke="#3BB8C4" stroke-width="2.6" stroke-linecap="round"/><line x1="858.6" y1="437.6" x2="857.9" y2="442.6" stroke="#1F6678" stroke-width="2.6" stroke-linecap="round"/><line x1="855.2" y1="436.8" x2="853.4" y2="441.4" stroke="#3BB8C4" stroke-width="2.6" stroke-linecap="round"/><line x1="852.1" y1="435.1" x2="849.2" y2="439.2" stroke="#3BB8C4" stroke-width="2.6" stroke-linecap="round"/><line x1="849.4" y1="432.8" x2="845.7" y2="436.1" stroke="#3BB8C4" stroke-width="2.6" stroke-linecap="round"/><line x1="847.5" y1="429.9" x2="843.0" y2="432.3" stroke="#3BB8C4" stroke-width="2.6" stroke-linecap="round"/><line x1="846.2" y1="426.7" x2="841.4" y2="427.9" stroke="#1F6678" stroke-width="2.6" stroke-linecap="round"/><line x1="845.8" y1="423.2" x2="840.8" y2="423.2" stroke="#3BB8C4" stroke-width="2.6" stroke-linecap="round"/><line x1="846.2" y1="419.7" x2="841.4" y2="418.5" stroke="#3BB8C4" stroke-width="2.6" stroke-linecap="round"/><line x1="847.5" y1="416.5" x2="843.0" y2="414.1" stroke="#3BB8C4" stroke-width="2.6" stroke-linecap="round"/><line x1="849.4" y1="413.6" x2="845.7" y2="410.3" stroke="#3BB8C4" stroke-width="2.6" stroke-linecap="round"/><line x1="852.1" y1="411.3" x2="849.2" y2="407.2" stroke="#1F6678" stroke-width="2.6" stroke-linecap="round"/><line x1="855.2" y1="409.6" x2="853.4" y2="405.0" stroke="#3BB8C4" stroke-width="2.6" stroke-linecap="round"/><line x1="858.6" y1="408.8" x2="857.9" y2="403.8" stroke="#3BB8C4" stroke-width="2.6" stroke-linecap="round"/><line x1="862.0" y1="408.8" x2="862.7" y2="403.8" stroke="#3BB8C4" stroke-width="2.6" stroke-linecap="round"/><line x1="865.4" y1="409.6" x2="867.2" y2="405.0" stroke="#3BB8C4" stroke-width="2.6" stroke-linecap="round"/><line x1="868.5" y1="411.3" x2="871.4" y2="407.2" stroke="#1F6678" stroke-width="2.6" stroke-linecap="round"/><line x1="871.2" y1="413.6" x2="874.9" y2="410.3" stroke="#3BB8C4" stroke-width="2.6" stroke-linecap="round"/><line x1="873.1" y1="416.5" x2="877.6" y2="414.1" stroke="#3BB8C4" stroke-width="2.6" stroke-linecap="round"/><line x1="874.4" y1="419.7" x2="879.2" y2="418.5" stroke="#3BB8C4" stroke-width="2.6" stroke-linecap="round"/><circle cx="860.3" cy="423.2" r="14.2" fill="#5A9AAA"/><circle cx="860.3" cy="423.2" r="12.6" fill="#EAF2F3" stroke="#6F96A6" stroke-width="1.3"/><path d="M853.3 419.2 q3.2 -2.5 6.5 -1.0 t6.5 -1.0" fill="none" stroke="#9AA6BC" stroke-width="0.8"/><path d="M852.3 424.2 q3.8 -2.5 7.5 0.5 t7.5 0.5" fill="none" stroke="#9AA6BC" stroke-width="0.8"/><path d="M855.3 429.2 q2.5 -2.5 5.0 0.5 t5.0 0.5" fill="none" stroke="#9AA6BC" stroke-width="0.8"/><path d="M857.3 415.2 q1.8 -2.5 3.5 3.0 t3.5 3.0" fill="none" stroke="#9AA6BC" stroke-width="0.8"/><path d="M854.3 426.2 q2.0 -2.5 4.0 -3.0 t4.0 -3.0" fill="none" stroke="#9AA6BC" stroke-width="0.8"/></g>
<line x1="916.6" y1="150.8" x2="953.5" y2="150.8" stroke="#222" stroke-width="2.6"/><path d="M965.0 150.8L952.5 144.3L952.5 157.3Z" fill="#222"/>
<line x1="918.9" y1="381.5" x2="956.4" y2="381.5" stroke="#222" stroke-width="2.6"/><path d="M967.9 381.5L955.4 375.0L955.4 388.0Z" fill="#222"/>
<line x1="1154.0" y1="255.8" x2="1191.5" y2="255.8" stroke="#222" stroke-width="2.6"/><path d="M1203.5 255.8L1190.5 249.3L1190.5 262.3Z" fill="#222"/>
<text x="999.3" y="69.6" font-size="23.5" fill="#222" textLength="123.1" lengthAdjust="spacingAndGlyphs">unselected</text>
<text x="1016.3" y="97.5" font-size="23.5" fill="#222" textLength="89.3" lengthAdjust="spacingAndGlyphs">sgRNAs</text>
<text x="986.1" y="290.0" font-size="23.5" fill="#222" textLength="150.1" lengthAdjust="spacingAndGlyphs">sgRNAs from</text>
<text x="982.9" y="318.9" font-size="23.5" fill="#222" textLength="156.0" lengthAdjust="spacingAndGlyphs">virus-resistant</text>
<text x="1001.1" y="346.6" font-size="23.5" fill="#222" textLength="119.4" lengthAdjust="spacingAndGlyphs">population</text>
<line x1="1017.4" y1="124.7" x2="1083.6" y2="124.7" stroke="#2F86D6" stroke-width="3.4"/>
<line x1="1032.0" y1="137.0" x2="1098.5" y2="137.0" stroke="#F2B443" stroke-width="3.4"/>
<line x1="1044.3" y1="147.5" x2="1110.4" y2="147.5" stroke="#CC3333" stroke-width="3.4"/>
<line x1="1035.8" y1="159.4" x2="1102.8" y2="159.4" stroke="#2E5F97" stroke-width="3.4"/>
<line x1="1028.3" y1="172.8" x2="1094.3" y2="172.8" stroke="#5DB14E" stroke-width="3.4"/>
<line x1="1024.0" y1="186.2" x2="1090.6" y2="186.2" stroke="#8E3FA0" stroke-width="3.4"/>
<line x1="1017.4" y1="369.2" x2="1083.6" y2="369.2" stroke="#2F86D6" stroke-width="3.4"/>
<line x1="1030.2" y1="383.2" x2="1097.5" y2="383.2" stroke="#F2B443" stroke-width="3.4"/>
<line x1="1042.5" y1="394.0" x2="1109.4" y2="394.0" stroke="#F2B443" stroke-width="3.4"/>
<line x1="1034.3" y1="405.8" x2="1101.5" y2="405.8" stroke="#2F86D6" stroke-width="3.4"/>
<line x1="1026.4" y1="419.4" x2="1093.4" y2="419.4" stroke="#F2B443" stroke-width="3.4"/>
<line x1="1022.3" y1="432.5" x2="1089.2" y2="432.5" stroke="#2F86D6" stroke-width="3.4"/>
<path d="M1255.3 329H1402" fill="none" stroke="#222" stroke-width="2.4"/>
<path d="M1255.3 329V189" fill="none" stroke="#222" stroke-width="2.4"/>
<path d="M1255.3 180.5L1250.5 190.5L1260.1 190.5Z" fill="#222"/>
<path d="M1410 329L1399.5 324.2L1399.5 333.8Z" fill="#222"/>
<text x="1302.4" y="350.5" font-size="23.0" fill="#222" textLength="49.6" lengthAdjust="spacingAndGlyphs">gRNA</text>
<text transform="translate(1249.4 0) rotate(-90)" x="-282.5" y="0" font-size="23.0" fill="#222" textLength="48.2" lengthAdjust="spacingAndGlyphs">score</text>
<circle cx="1271.9" cy="306.2" r="4.3" fill="#E8822A"/>
<circle cx="1284.2" cy="271.0" r="4.3" fill="#E8822A"/>
<circle cx="1317.3" cy="270.4" r="4.3" fill="#E8822A"/>
<circle cx="1325.3" cy="292.3" r="4.3" fill="#E8822A"/>
<circle cx="1333.1" cy="230.9" r="4.3" fill="#E8822A"/>
<circle cx="1358.5" cy="244.4" r="4.3" fill="#E8822A"/>
<circle cx="1386.6" cy="236.2" r="4.3" fill="#E8822A"/>
<circle cx="1394.5" cy="208.3" r="4.3" fill="#E8822A"/>
<text x="-2.0" y="548.3" font-size="35.0" fill="#000" textLength="26.0" lengthAdjust="spacingAndGlyphs">b</text>
<line x1="205.2" y1="554.0" x2="205.2" y2="617.6" stroke="#4D4D4D" stroke-width="1.4"/>
<line x1="205.2" y1="623.3" x2="205.2" y2="661.8" stroke="#4D4D4D" stroke-width="1.4"/>
<line x1="205.2" y1="668.4" x2="205.2" y2="707.6" stroke="#4D4D4D" stroke-width="1.4"/>
<line x1="205.2" y1="713.6" x2="205.2" y2="752.4" stroke="#4D4D4D" stroke-width="1.4"/>
<line x1="205.2" y1="758.0" x2="205.2" y2="797.6" stroke="#4D4D4D" stroke-width="1.4"/>
<line x1="205.2" y1="804.2" x2="205.2" y2="843.0" stroke="#4D4D4D" stroke-width="1.4"/>
<line x1="204.5" y1="617.6" x2="793.4" y2="617.6" stroke="#777" stroke-width="1.4"/>
<line x1="204.5" y1="843" x2="793.4" y2="843" stroke="#4D4D4D" stroke-width="1.4"/>
<line x1="211.4" y1="843" x2="211.4" y2="846.8" stroke="#4D4D4D" stroke-width="1.3"/>
<line x1="317.6" y1="843" x2="317.6" y2="846.8" stroke="#4D4D4D" stroke-width="1.3"/>
<line x1="423.9" y1="843" x2="423.9" y2="846.8" stroke="#4D4D4D" stroke-width="1.3"/>
<line x1="530.1" y1="843" x2="530.1" y2="846.8" stroke="#4D4D4D" stroke-width="1.3"/>
<line x1="636.4" y1="843" x2="636.4" y2="846.8" stroke="#4D4D4D" stroke-width="1.3"/>
<line x1="742.6" y1="843" x2="742.6" y2="846.8" stroke="#4D4D4D" stroke-width="1.3"/>
<text x="199.5" y="868.5" font-size="19.0" fill="#4D4D4D" textLength="27.1" lengthAdjust="spacingAndGlyphs">−5</text>
<text x="310.9" y="868.5" font-size="19.0" fill="#4D4D4D" textLength="13.8" lengthAdjust="spacingAndGlyphs">0</text>
<text x="416.2" y="868.5" font-size="19.0" fill="#4D4D4D" textLength="14.3" lengthAdjust="spacingAndGlyphs">5</text>
<text x="516.6" y="868.5" font-size="19.0" fill="#4D4D4D" textLength="28.6" lengthAdjust="spacingAndGlyphs">10</text>
<text x="624.3" y="868.5" font-size="19.0" fill="#4D4D4D" textLength="26.4" lengthAdjust="spacingAndGlyphs">15</text>
<text x="728.6" y="868.5" font-size="19.0" fill="#4D4D4D" textLength="27.8" lengthAdjust="spacingAndGlyphs">20</text>
<text x="368.0" y="894.8" font-size="27.0" fill="#4D4D4D" textLength="270.7" lengthAdjust="spacingAndGlyphs">Scaled directed score</text>
<path d="M232.1 614.8C234.2 614.8 241.2 614.7 245.0 614.5C248.8 614.3 252.2 614.1 255.0 613.6C257.8 613.1 259.8 612.7 262.0 611.5C264.2 610.3 266.0 608.9 268.0 606.5C270.0 604.1 272.0 601.1 274.0 597.0C276.0 592.9 278.0 587.2 280.0 582.0C282.0 576.8 284.3 569.9 286.0 566.0C287.7 562.1 288.8 560.4 290.0 558.8C291.2 557.2 292.1 556.5 293.2 556.2C294.3 555.9 295.3 556.2 296.5 557.2C297.7 558.2 299.1 560.0 300.5 562.5C301.9 565.0 303.5 569.1 305.0 572.5C306.5 575.9 308.2 580.4 309.5 583.0C310.8 585.6 311.6 586.5 313.0 588.2C314.4 590.0 316.3 591.9 318.0 593.5C319.7 595.1 321.0 596.3 323.0 597.6C325.0 598.9 327.2 600.0 330.0 601.3C332.8 602.6 336.0 603.8 340.0 605.2C344.0 606.6 349.6 608.7 353.8 609.8C358.0 610.9 361.3 611.4 365.0 612.0C368.7 612.6 370.2 612.9 376.0 613.3C381.8 613.7 387.7 614.0 400.0 614.2C412.3 614.4 416.7 614.5 450.0 614.6C483.3 614.7 544.6 614.8 600.0 614.8C655.4 614.8 752.0 614.9 782.4 614.9" fill="none" stroke="#222" stroke-width="1.7"/>
<text x="156.1" y="585.7" font-size="19.5" fill="#4D4D4D" textLength="34.4" lengthAdjust="spacingAndGlyphs">Full</text>
<text x="133.0" y="611.0" font-size="19.5" fill="#4D4D4D" textLength="56.6" lengthAdjust="spacingAndGlyphs">library</text>
<text x="139.5" y="649.6" font-size="19.5" fill="#4D4D4D" textLength="50.6" lengthAdjust="spacingAndGlyphs">ACE2</text>
<text x="128.7" y="694.0" font-size="19.5" fill="#4D4D4D" textLength="61.3" lengthAdjust="spacingAndGlyphs">GATA6</text>
<text x="131.5" y="738.8" font-size="19.5" fill="#4D4D4D" textLength="59.7" lengthAdjust="spacingAndGlyphs">RPP21</text>
<text x="107.5" y="783.5" font-size="19.5" fill="#4D4D4D" textLength="83.7" lengthAdjust="spacingAndGlyphs">UQCRC1</text>
<text x="88.5" y="818.9" font-size="19.5" fill="#4D4D4D" textLength="101.8" lengthAdjust="spacingAndGlyphs">Non-target</text>
<text x="112.7" y="844.9" font-size="19.5" fill="#4D4D4D" textLength="78.2" lengthAdjust="spacingAndGlyphs">Controls</text>
<line x1="367.3" y1="623.3" x2="367.3" y2="662.2" stroke="#2BB5B0" stroke-width="2"/>
<line x1="398.1" y1="623.3" x2="398.1" y2="662.2" stroke="#2BB5B0" stroke-width="2"/>
<line x1="496.3" y1="623.3" x2="496.3" y2="662.2" stroke="#2BB5B0" stroke-width="2"/>
<line x1="595.3" y1="623.3" x2="595.3" y2="662.2" stroke="#2BB5B0" stroke-width="2"/>
<line x1="343.9" y1="668.1" x2="343.9" y2="707.8" stroke="#2BB5B0" stroke-width="2"/>
<line x1="393.4" y1="668.1" x2="393.4" y2="707.8" stroke="#2BB5B0" stroke-width="2"/>
<line x1="434.1" y1="668.1" x2="434.1" y2="707.8" stroke="#2BB5B0" stroke-width="2"/>
<line x1="761.1" y1="668.1" x2="761.1" y2="707.8" stroke="#2BB5B0" stroke-width="2"/>
<line x1="274.3" y1="713.6" x2="274.3" y2="752.4" stroke="#F0909E" stroke-width="1.2"/>
<line x1="279.4" y1="713.6" x2="279.4" y2="752.4" stroke="#F0909E" stroke-width="1.2"/>
<line x1="282.5" y1="713.6" x2="282.5" y2="752.4" stroke="#F0909E" stroke-width="1.2"/>
<line x1="285.0" y1="713.6" x2="285.0" y2="752.4" stroke="#F0909E" stroke-width="1.2"/>
<line x1="287.0" y1="713.6" x2="287.0" y2="752.4" stroke="#F0909E" stroke-width="1.2"/>
<line x1="268.6" y1="758.0" x2="268.6" y2="797.6" stroke="#F0909E" stroke-width="1.2"/>
<line x1="274.5" y1="758.0" x2="274.5" y2="797.6" stroke="#F0909E" stroke-width="1.2"/>
<line x1="278.8" y1="758.0" x2="278.8" y2="797.6" stroke="#F0909E" stroke-width="1.2"/>
<line x1="281.6" y1="758.0" x2="281.6" y2="797.6" stroke="#F0909E" stroke-width="1.2"/>
<line x1="283.9" y1="758.0" x2="283.9" y2="797.6" stroke="#F0909E" stroke-width="1.2"/>
<path d="M338.5 804.2V843" stroke="#4d4d4d" stroke-width="1"/>
<path d="M337.5 804.2V843M351.5 804.2V843" stroke="#4e4e4e" stroke-width="1"/>
<path d="M342.5 804.2V843M354.5 804.2V843M357.5 804.2V843" stroke="#4f4f4f" stroke-width="1"/>
<path d="M321.5 804.2V843M334.5 804.2V843M346.5 804.2V843M349.5 804.2V843" stroke="#505050" stroke-width="1"/>
<path d="M335.5 804.2V843M343.5 804.2V843M344.5 804.2V843M350.5 804.2V843" stroke="#515151" stroke-width="1"/>
<path d="M336.5 804.2V843M339.5 804.2V843M347.5 804.2V843M358.5 804.2V843" stroke="#525252" stroke-width="1"/>
<path d="M324.5 804.2V843M329.5 804.2V843M330.5 804.2V843M345.5 804.2V843M360.5 804.2V843" stroke="#535353" stroke-width="1"/>
<path d="M320.5 804.2V843M322.5 804.2V843M333.5 804.2V843M352.5 804.2V843M361.5 804.2V843" stroke="#545454" stroke-width="1"/>
<path d="M331.5 804.2V843" stroke="#575757" stroke-width="1"/>
<path d="M319.5 804.2V843M325.5 804.2V843M340.5 804.2V843M341.5 804.2V843" stroke="#585858" stroke-width="1"/>
<path d="M315.5 804.2V843M323.5 804.2V843M327.5 804.2V843M328.5 804.2V843M355.5 804.2V843" stroke="#5a5a5a" stroke-width="1"/>
<path d="M353.5 804.2V843M367.5 804.2V843" stroke="#5c5c5c" stroke-width="1"/>
<path d="M364.5 804.2V843M365.5 804.2V843" stroke="#5f5f5f" stroke-width="1"/>
<path d="M312.5 804.2V843M313.5 804.2V843" stroke="#626262" stroke-width="1"/>
<path d="M311.5 804.2V843M317.5 804.2V843M318.5 804.2V843M326.5 804.2V843M332.5 804.2V843M375.5 804.2V843" stroke="#666666" stroke-width="1"/>
<path d="M306.5 804.2V843M310.5 804.2V843M316.5 804.2V843M356.5 804.2V843M362.5 804.2V843M368.5 804.2V843" stroke="#6a6a6a" stroke-width="1"/>
<path d="M309.5 804.2V843M363.5 804.2V843M371.5 804.2V843" stroke="#6e6e6e" stroke-width="1"/>
<path d="M298.5 804.2V843M300.5 804.2V843M303.5 804.2V843M348.5 804.2V843M359.5 804.2V843M366.5 804.2V843" stroke="#747474" stroke-width="1"/>
<path d="M291.5 804.2V843M308.5 804.2V843M369.5 804.2V843M372.5 804.2V843M374.5 804.2V843M376.5 804.2V843M377.5 804.2V843M378.5 804.2V843" stroke="#7a7a7a" stroke-width="1"/>
<path d="M299.5 804.2V843M302.5 804.2V843M370.5 804.2V843" stroke="#828282" stroke-width="1"/>
<path d="M289.5 804.2V843M290.5 804.2V843M301.5 804.2V843M304.5 804.2V843M383.5 804.2V843" stroke="#8a8a8a" stroke-width="1"/>
<path d="M293.5 804.2V843M305.5 804.2V843M307.5 804.2V843M379.5 804.2V843" stroke="#959595" stroke-width="1"/>
<path d="M288.5 804.2V843M295.5 804.2V843M296.5 804.2V843M314.5 804.2V843M381.5 804.2V843M387.5 804.2V843" stroke="#a0a0a0" stroke-width="1"/>
<path d="M287.5 804.2V843M294.5 804.2V843M297.5 804.2V843M373.5 804.2V843M380.5 804.2V843M382.5 804.2V843M384.5 804.2V843M385.5 804.2V843M389.5 804.2V843M393.5 804.2V843M403.5 804.2V843" stroke="#aeaeae" stroke-width="1"/>
<path d="M268.5 804.2V843M269.5 804.2V843M274.5 804.2V843M281.5 804.2V843M284.5 804.2V843M285.5 804.2V843M286.5 804.2V843M292.5 804.2V843M391.5 804.2V843M397.5 804.2V843M400.5 804.2V843" stroke="#bebebe" stroke-width="1"/>
<path d="M271.5 804.2V843M272.5 804.2V843M277.5 804.2V843M280.5 804.2V843M283.5 804.2V843M386.5 804.2V843M390.5 804.2V843M392.5 804.2V843M394.5 804.2V843M399.5 804.2V843M401.5 804.2V843M405.5 804.2V843M409.5 804.2V843" stroke="#d0d0d0" stroke-width="1"/>
<path d="M259.5 804.2V843M263.5 804.2V843M273.5 804.2V843M275.5 804.2V843M276.5 804.2V843M278.5 804.2V843M279.5 804.2V843M395.5 804.2V843M396.5 804.2V843M398.5 804.2V843M404.5 804.2V843M406.5 804.2V843M408.5 804.2V843M414.5 804.2V843M424.5 804.2V843M454.5 804.2V843" stroke="#e6e6e6" stroke-width="1"/>
<text x="981.1" y="548.3" font-size="40.0" fill="#000" textLength="19.7" lengthAdjust="spacingAndGlyphs">c</text>
<path d="M1166.0 872.5L1168.2 869.0L1172.5 866.2L1183.4 863.5L1199.7 861.4L1216.1 860.3L1243.3 859.3L1270.5 861.4L1297.8 864.1L1325.0 866.2L1352.2 865.5L1368.5 862.8L1376.7 864.1L1380.5 866.9L1382.7 870.4L1383.2 872.5L1383.2 874.6L1166.0 874.6Z" fill="#000"/>
<path d="M1265.6 867.5h0M1268.5 863.8h0M1277.7 863.8h0M1278.6 863.2h0M1304.3 864.3h0M1233.2 861.0h0M1186.8 861.3h0M1176.2 869.7h0M1381.0 863.3h0M1301.1 865.4h0M1201.4 857.5h0M1180.0 864.0h0M1208.5 860.7h0M1268.1 860.4h0M1263.0 858.8h0M1306.5 867.9h0M1275.9 863.7h0M1227.7 862.7h0M1384.4 866.6h0M1321.2 866.1h0M1235.7 859.2h0M1182.4 861.2h0M1334.0 870.8h0M1251.3 856.4h0M1375.7 863.9h0M1212.7 860.6h0M1365.3 871.7h0M1253.6 858.5h0M1183.0 867.2h0M1225.8 863.8h0M1186.1 867.0h0M1332.2 859.2h0M1192.8 862.2h0M1180.1 862.9h0M1340.7 864.1h0M1264.5 857.4h0M1208.6 860.9h0M1307.3 866.5h0M1192.4 864.2h0M1225.8 858.9h0M1378.5 864.6h0M1359.8 866.7h0M1213.0 865.2h0M1306.9 861.1h0M1188.9 860.6h0M1223.3 860.1h0M1335.4 867.2h0M1183.1 861.3h0M1186.7 865.0h0M1298.0 865.3h0M1248.0 867.1h0M1272.4 859.3h0M1292.2 862.3h0M1200.6 862.7h0M1364.9 862.4h0M1208.4 862.9h0M1328.1 864.3h0M1374.0 864.4h0M1359.2 866.9h0M1189.7 864.6h0M1175.5 863.3h0M1320.5 866.4h0M1223.0 858.2h0M1231.0 863.4h0M1205.3 861.2h0M1216.8 861.4h0M1288.9 860.7h0M1228.1 863.2h0M1366.9 862.9h0M1225.7 859.4h0M1264.1 859.1h0M1247.4 858.9h0M1291.7 861.6h0M1361.1 861.9h0M1380.6 869.7h0M1294.4 867.7h0M1197.6 861.1h0M1365.3 863.2h0M1319.7 865.2h0M1305.6 864.9h0M1272.1 861.9h0M1384.7 871.7h0M1183.5 868.2h0M1363.1 865.1h0M1327.6 867.7h0M1366.4 868.3h0M1243.7 861.9h0M1356.8 870.8h0M1257.9 858.9h0M1291.8 869.5h0M1303.2 867.6h0M1299.7 861.6h0M1184.5 869.5h0M1358.7 871.9h0M1325.7 870.0h0M1293.6 860.5h0M1263.0 860.1h0M1330.5 867.2h0M1173.6 868.8h0M1217.2 862.3h0M1319.2 870.0h0M1367.5 862.9h0M1222.8 857.4h0M1314.8 865.3h0M1211.2 857.4h0M1310.8 859.3h0M1263.3 858.7h0M1312.1 867.0h0M1210.3 865.7h0M1366.2 860.8h0M1358.8 867.4h0M1236.0 856.8h0M1196.7 867.6h0M1351.9 865.4h0M1322.0 863.7h0M1203.9 861.8h0M1265.2 861.3h0M1257.2 858.2h0M1303.4 867.2h0M1349.8 865.5h0M1381.0 868.8h0M1173.9 865.5h0M1357.2 860.0h0M1291.3 862.3h0M1234.4 859.4h0M1196.7 862.3h0M1266.1 855.3h0M1218.8 859.3h0M1197.8 857.5h0M1264.3 859.6h0M1304.3 867.8h0M1375.8 868.6h0M1316.2 864.5h0M1206.0 857.6h0M1169.4 872.4h0M1206.1 860.1h0M1226.4 862.6h0M1280.4 858.5h0M1300.9 864.3h0M1339.6 868.9h0M1364.4 857.4h0M1324.4 862.5h0M1195.4 866.0h0M1365.3 862.1h0M1249.1 865.4h0M1340.6 868.5h0M1372.7 867.8h0M1211.7 859.5h0M1324.3 864.4h0M1323.4 870.1h0M1213.5 853.5h0M1379.9 871.6h0M1284.0 862.1h0M1365.3 865.9h0M1353.5 866.1h0M1263.1 859.8h0M1286.9 862.6h0M1173.3 869.6h0M1343.3 860.7h0M1204.7 858.9h0M1240.0 859.0h0M1199.5 863.0h0M1279.6 863.3h0M1317.2 871.4h0M1373.1 871.0h0M1185.8 862.8h0M1215.3 862.8h0M1325.8 866.6h0M1306.2 870.6h0M1289.0 864.1h0M1235.0 863.9h0M1363.2 859.6h0M1212.4 855.7h0M1281.2 869.0h0M1291.9 862.4h0M1276.7 858.4h0M1298.9 856.3h0M1279.5 860.9h0M1254.3 858.9h0M1274.0 865.5h0M1317.6 862.2h0M1257.2 858.8h0M1375.5 861.8h0M1270.1 862.5h0M1194.7 867.2h0M1363.2 861.4h0M1270.9 862.2h0M1301.6 862.6h0M1368.6 859.1h0M1172.0 862.7h0M1209.3 860.0h0M1237.2 854.9h0M1244.5 860.4h0M1326.3 867.2h0M1193.8 864.4h0M1210.1 860.8h0M1282.6 865.3h0M1257.1 859.2h0M1282.4 861.5h0M1304.6 862.9h0M1306.1 870.7h0M1300.3 865.4h0M1353.7 864.7h0M1343.6 860.8h0M1363.7 864.7h0M1368.0 860.4h0M1214.6 854.0h0M1196.2 861.9h0M1219.2 860.5h0M1188.2 865.2h0M1348.3 870.4h0M1194.5 859.5h0M1254.8 860.4h0M1210.8 861.1h0M1315.7 858.7h0M1192.2 866.6h0M1277.2 861.9h0M1316.4 869.2h0M1208.2 859.5h0M1175.2 864.9h0M1287.2 867.0h0M1199.0 861.8h0M1207.3 859.2h0M1382.8 865.0h0M1368.9 861.9h0M1374.3 863.1h0M1267.7 860.9h0M1268.8 863.9h0M1279.3 866.0h0M1170.0 866.1h0M1319.8 864.8h0M1265.9 862.6h0M1328.1 867.8h0M1203.0 860.0h0M1278.7 855.8h0M1341.7 865.2h0M1320.5 863.1h0M1255.2 863.5h0M1297.7 872.4h0M1342.4 866.0h0M1223.3 855.7h0M1336.5 868.6h0M1344.5 871.1h0M1358.7 860.8h0M1318.4 865.2h0M1255.4 865.4h0M1324.5 863.7h0M1269.2 860.1h0M1169.4 870.9h0M1303.0 861.1h0M1217.6 855.9h0M1240.6 860.9h0M1310.8 868.6h0M1251.9 861.5h0M1384.8 871.6h0M1333.0 869.7h0M1380.5 862.8h0M1328.0 865.6h0M1223.0 860.8h0M1209.6 860.1h0M1248.9 857.8h0M1364.3 862.1h0M1286.9 871.0h0M1290.8 863.8h0M1383.8 871.4h0M1183.7 867.7h0M1297.2 864.0h0M1369.7 863.9h0M1201.9 863.1h0M1275.0 861.5h0M1300.2 857.4h0M1258.7 857.8h0M1281.8 864.9h0M1229.3 861.5h0M1309.8 867.4h0M1323.1 867.0h0M1231.5 857.4h0M1176.4 865.0h0M1201.2 861.2h0M1362.6 866.8h0M1330.1 857.4h0M1372.8 860.6h0M1183.1 860.8h0M1271.1 863.2h0M1379.0 865.7h0M1371.2 859.5h0M1324.5 871.9h0M1344.9 864.0h0M1298.5 861.0h0M1266.3 858.2h0M1211.4 857.0h0M1194.1 860.9h0M1263.5 862.5h0M1224.2 862.9h0M1293.9 868.4h0M1282.7 860.0h0M1384.4 867.7h0M1219.0 861.6h0M1191.9 858.2h0M1303.2 867.9h0M1245.3 860.1h0M1290.1 858.8h0M1295.9 867.4h0M1208.4 864.6h0M1221.3 853.3h0M1358.5 865.3h0M1175.7 863.2h0M1259.7 859.6h0M1302.8 861.5h0M1182.9 861.3h0M1185.9 864.9h0M1304.5 868.1h0M1248.3 861.8h0M1241.9 859.0h0M1329.3 865.5h0M1193.2 863.2h0M1343.3 869.5h0M1213.5 864.1h0M1259.5 860.8h0M1247.4 854.0h0M1309.4 862.3h0M1286.6 863.2h0M1329.6 863.3h0M1247.5 861.1h0M1188.2 862.0h0M1185.2 864.1h0M1290.0 868.0h0M1232.2 859.2h0M1336.0 864.1h0M1311.3 864.2h0M1184.9 864.9h0M1318.2 861.1h0M1228.7 858.0h0M1325.2 864.0h0M1246.9 856.0h0M1291.1 860.2h0M1367.1 856.7h0M1262.5 863.2h0M1342.0 866.7h0M1254.1 857.6h0M1370.6 861.3h0M1245.8 860.9h0M1246.7 861.5h0M1251.5 857.6h0M1209.5 865.7h0M1284.8 865.0h0M1349.2 867.4h0M1332.4 866.8h0M1358.9 864.5h0M1279.4 861.6h0M1285.6 870.2h0M1308.9 868.3h0M1342.3 862.2h0M1338.7 864.4h0M1185.4 858.8h0M1362.9 861.3h0M1185.5 864.3h0M1329.5 867.4h0M1308.4 864.9h0M1333.8 863.9h0M1280.7 862.1h0M1240.6 862.4h0M1378.0 866.7h0M1284.1 865.9h0M1324.1 867.9h0M1256.5 866.9h0M1347.0 868.7h0M1342.6 871.0h0M1348.7 859.7h0M1306.5 869.8h0M1281.2 863.8h0M1258.9 865.8h0M1258.6 857.4h0M1382.9 867.3h0M1248.9 858.7h0M1259.6 858.7h0M1230.7 858.7h0M1234.2 859.8h0M1192.1 865.5h0M1206.2 865.2h0M1180.6 868.1h0M1365.1 862.3h0M1175.0 864.1h0M1214.4 859.1h0M1218.3 861.0h0M1215.8 864.3h0M1207.4 861.2h0M1332.1 864.2h0M1235.0 865.0h0M1271.5 863.1h0M1223.8 854.8h0M1241.6 863.7h0M1286.3 859.6h0M1215.2 861.2h0M1177.9 859.7h0M1250.9 861.6h0M1282.0 865.0h0M1382.7 870.9h0M1310.3 865.1h0M1270.0 860.9h0M1248.0 858.2h0M1299.1 868.9h0M1201.3 859.8h0M1223.6 857.7h0M1356.4 869.2h0M1383.4 872.4h0M1225.1 861.6h0M1334.9 866.4h0M1167.4 867.7h0M1346.1 871.0h0M1185.0 863.9h0M1188.2 858.0h0M1271.6 869.0h0M1294.8 862.4h0M1353.8 867.1h0M1257.9 855.3h0M1366.7 858.2h0M1212.5 857.4h0M1285.4 864.7h0M1348.3 865.9h0M1234.9 860.0h0M1233.7 858.5h0M1268.8 861.9h0M1316.7 868.4h0M1190.1 865.3h0M1377.7 862.7h0M1347.8 865.9h0M1249.2 860.1h0M1321.7 865.7h0M1266.8 857.1h0M1169.4 862.8h0M1212.1 860.8h0M1301.2 865.2h0M1284.6 859.9h0M1232.0 861.3h0M1312.3 862.7h0M1222.9 858.5h0M1238.8 854.7h0M1372.9 868.0h0M1239.3 861.3h0M1347.2 864.3h0M1187.6 862.0h0M1314.7 865.9h0M1254.7 862.0h0M1349.4 866.7h0M1216.4 861.0h0M1201.3 859.0h0M1182.9 861.4h0M1367.6 866.2h0M1308.0 863.3h0M1334.1 864.7h0M1239.3 862.1h0M1256.8 857.2h0M1319.5 865.5h0M1380.9 866.5h0M1299.6 868.7h0M1171.1 868.5h0M1308.8 862.5h0M1190.2 865.2h0M1338.8 863.3h0M1346.8 867.1h0M1334.0 867.2h0M1363.7 866.3h0M1276.1 862.8h0M1197.9 863.6h0M1279.5 871.0h0M1322.9 865.0h0M1372.9 865.2h0M1303.7 864.2h0M1220.3 858.9h0M1292.6 864.5h0M1369.4 865.5h0M1245.7 861.0h0M1379.1 865.5h0M1196.6 858.6h0M1289.2 865.4h0M1289.1 863.9h0M1383.2 865.5h0M1345.1 867.0h0M1346.7 866.6h0M1229.9 857.9h0M1292.0 864.9h0M1348.0 864.1h0M1183.7 859.9h0M1174.0 862.0h0M1371.7 855.1h0M1310.5 866.7h0M1327.7 861.9h0M1250.2 864.4h0M1170.6 870.5h0M1210.5 862.3h0M1251.2 859.5h0M1291.1 861.8h0M1224.5 856.7h0M1290.8 865.6h0M1175.3 861.7h0M1313.2 860.6h0M1297.8 858.0h0M1269.4 864.9h0M1317.2 863.4h0M1332.2 866.0h0M1383.7 871.4h0M1349.6 863.7h0M1261.6 863.2h0M1290.3 860.3h0M1281.4 864.6h0M1261.2 858.4h0M1179.0 866.1h0M1325.1 862.2h0M1297.2 867.0h0M1330.8 867.5h0M1182.3 859.9h0M1194.2 865.5h0M1253.5 858.9h0M1178.4 866.0h0M1219.2 863.7h0M1233.8 861.4h0M1182.0 862.4h0M1365.5 858.8h0M1355.8 865.9h0M1258.9 859.7h0M1329.7 868.2h0M1290.5 862.3h0M1339.6 866.7h0M1194.0 869.4h0M1167.2 872.3h0M1220.2 860.9h0M1180.7 861.6h0M1362.0 862.6h0M1244.7 862.2h0M1294.6 863.1h0M1362.8 863.5h0M1234.1 866.7h0M1379.9 866.4h0M1270.0 860.6h0M1368.0 860.4h0M1362.4 861.8h0M1244.2 853.8h0M1270.0 858.4h0M1383.9 866.9h0M1211.1 861.9h0M1358.8 865.9h0M1178.0 861.0h0M1235.2 856.5h0M1363.2 860.4h0M1196.4 865.3h0M1318.6 862.7h0M1184.3 864.6h0M1215.7 862.0h0M1209.9 856.2h0M1206.5 860.5h0M1339.2 861.4h0M1248.2 863.0h0M1295.6 869.3h0M1216.9 862.4h0M1312.3 858.6h0M1227.4 860.7h0M1381.2 869.0h0M1263.0 864.5h0M1176.9 865.8h0M1297.7 864.6h0M1342.0 863.5h0M1186.1 864.2h0M1220.6 855.1h0M1227.9 861.7h0M1362.4 864.4h0M1382.2 866.3h0M1330.5 865.4h0M1250.9 856.6h0M1206.3 862.5h0M1288.2 864.9h0M1310.4 867.4h0M1337.6 869.5h0M1351.2 865.9h0M1316.1 872.3h0M1205.0 862.0h0M1336.9 863.8h0M1218.3 856.6h0M1263.0 860.0h0M1339.4 871.2h0M1218.5 862.3h0M1293.4 863.6h0M1275.7 857.9h0M1322.7 865.2h0M1291.8 862.2h0M1200.1 862.7h0M1170.9 870.5h0M1263.3 860.7h0M1224.3 859.6h0M1364.7 864.5h0M1291.0 868.7h0M1218.9 861.6h0M1198.9 861.8h0M1235.5 858.7h0M1302.4 866.9h0M1295.3 864.3h0M1186.3 862.3h0M1222.6 861.7h0M1201.9 863.3h0M1338.4 871.3h0M1180.4 866.7h0M1214.2 858.8h0M1378.5 862.0h0M1332.9 865.1h0M1381.9 867.0h0M1329.3 863.5h0M1175.6 865.1h0M1197.9 855.2h0M1252.6 861.0h0M1183.7 860.3h0M1174.5 860.5h0M1326.9 866.3h0M1217.1 860.3h0M1219.7 856.2h0M1267.6 858.5h0M1240.5 860.6h0M1380.8 868.0h0M1254.9 860.7h0M1308.6 862.4h0M1318.4 864.7h0M1355.3 870.4h0M1267.8 864.6h0M1252.7 858.3h0M1337.2 868.4h0M1214.0 861.5h0M1286.8 861.4h0M1202.8 860.5h0M1268.9 859.2h0M1234.3 868.8h0M1315.0 862.3h0M1355.0 864.2h0M1182.9 860.7h0M1317.6 867.3h0M1171.1 865.3h0M1206.7 861.1h0M1368.2 859.8h0M1322.8 866.4h0M1200.5 858.4h0M1371.1 866.5h0M1324.6 862.2h0M1364.6 860.7h0M1250.8 859.5h0M1185.2 861.2h0M1334.9 867.8h0M1280.2 859.5h0M1219.0 859.1h0M1176.0 863.0h0M1174.0 862.5h0M1235.1 863.0h0M1196.7 860.0h0M1321.0 866.3h0M1312.2 860.3h0M1199.1 860.7h0M1322.3 863.6h0M1255.3 864.8h0M1216.3 856.2h0M1230.7 860.9h0M1175.9 863.6h0M1172.4 869.0h0M1343.2 868.7h0M1379.6 867.6h0M1367.2 858.6h0M1214.2 862.1h0M1375.1 868.1h0M1356.2 864.4h0M1186.6 858.7h0M1260.2 861.4h0M1250.6 859.2h0M1238.5 861.9h0M1201.6 861.2h0M1254.7 862.0h0M1312.0 865.0h0M1219.3 857.8h0M1259.0 858.9h0M1199.9 865.5h0M1287.6 865.5h0M1319.6 862.8h0M1246.4 859.1h0M1180.8 865.0h0M1275.0 861.2h0M1294.7 866.5h0M1222.3 859.5h0M1172.2 870.1h0M1290.3 858.1h0M1224.1 860.9h0M1269.3 863.0h0M1301.1 861.6h0M1292.6 864.4h0M1372.3 862.8h0M1302.3 868.8h0M1256.6 862.4h0M1347.8 864.4h0M1358.7 869.4h0M1175.4 861.0h0M1196.7 864.4h0M1245.6 859.6h0M1379.9 865.3h0M1216.8 858.6h0M1315.2 865.5h0M1285.5 862.8h0M1252.9 859.8h0M1308.7 861.4h0M1286.5 865.8h0M1348.1 868.4h0M1378.1 866.6h0M1360.1 861.7h0M1235.3 860.6h0M1316.6 870.2h0M1377.0 863.6h0M1302.5 866.1h0M1273.9 864.4h0M1229.3 860.9h0M1330.2 868.3h0M1221.4 860.5h0M1237.9 857.9h0M1194.5 858.7h0M1180.8 862.8h0M1320.6 865.3h0M1191.6 867.4h0M1271.8 859.9h0M1202.5 857.1h0M1178.7 869.3h0M1222.4 865.5h0M1252.5 860.2h0M1323.0 866.1h0M1238.3 854.6h0M1239.8 859.1h0M1347.5 871.5h0M1290.7 867.6h0M1302.8 862.2h0M1348.1 865.1h0M1249.2 861.2h0M1312.9 865.1h0M1170.1 865.9h0M1294.6 856.3h0M1196.2 864.8h0M1316.8 869.4h0M1253.5 858.0h0M1370.4 862.1h0M1322.4 866.1h0M1192.9 859.8h0M1326.3 865.5h0M1383.5 870.5h0M1172.8 864.3h0M1285.2 865.8h0M1234.4 859.3h0M1341.4 864.5h0M1252.4 862.1h0M1301.6 863.6h0M1251.9 868.5h0M1318.2 871.0h0M1199.1 863.0h0M1205.2 855.4h0M1221.8 855.6h0M1273.4 859.7h0M1171.3 865.2h0M1290.3 860.7h0M1226.8 856.5h0M1216.6 863.1h0M1223.6 859.7h0M1178.2 858.8h0M1234.4 857.0h0M1184.1 861.9h0M1384.3 869.3h0M1211.1 858.2h0M1257.4 863.0h0M1342.8 866.6h0M1287.0 862.4h0M1310.1 866.9h0M1371.6 865.0h0M1355.4 861.7h0M1348.7 865.7h0M1325.0 865.9h0M1203.8 860.4h0M1192.9 859.7h0M1331.2 864.8h0M1234.6 860.0h0M1212.8 860.5h0M1376.0 860.3h0M1343.5 865.5h0M1339.6 866.1h0M1342.0 868.9h0M1347.3 864.7h0M1189.0 871.6h0M1374.1 867.6h0M1221.6 857.3h0M1365.2 859.4h0M1216.6 859.6h0M1251.7 863.0h0M1343.7 862.5h0M1246.5 861.4h0M1227.9 862.0h0M1364.2 864.1h0M1240.0 858.2h0M1328.6 864.9h0M1286.0 858.0h0M1315.2 864.8h0M1198.2 860.3h0M1243.4 859.7h0M1276.5 861.8h0M1254.9 861.8h0M1374.5 860.3h0M1211.7 858.6h0M1331.3 867.9h0M1190.7 859.3h0M1376.7 864.4h0M1214.9 864.3h0M1205.8 858.3h0M1226.6 863.2h0M1237.3 866.2h0M1207.0 866.6h0M1199.3 854.2h0M1305.3 867.9h0M1213.3 857.4h0M1301.3 859.8h0M1304.0 868.5h0M1277.0 863.4h0M1349.5 866.2h0M1317.3 870.0h0M1258.4 859.1h0M1250.8 859.3h0M1291.8 859.4h0M1279.3 858.0h0M1264.4 860.0h0M1296.3 869.9h0M1200.2 865.3h0M1269.1 856.3h0M1235.2 859.8h0M1327.5 863.1h0M1356.0 865.1h0M1194.7 858.5h0M1218.1 860.4h0M1350.1 869.9h0M1347.7 871.5h0M1340.8 871.6h0M1181.2 864.7h0M1356.6 865.3h0M1342.9 868.0h0M1266.0 867.0h0M1209.8 862.1h0M1228.0 860.6h0M1287.9 864.1h0M1338.5 868.2h0M1341.3 865.7h0M1353.3 864.8h0M1364.3 867.3h0M1340.6 864.1h0M1188.9 860.4h0M1175.1 869.0h0M1348.7 860.6h0M1192.6 861.0h0M1352.0 862.8h0M1301.5 863.5h0M1382.2 870.4h0M1212.1 864.8h0M1325.6 870.8h0M1210.0 862.3h0M1170.4 870.4h0M1241.0 861.1h0M1227.7 855.9h0M1298.4 864.9h0M1195.0 863.8h0M1318.2 867.3h0M1192.3 862.0h0M1372.0 865.6h0M1209.8 862.5h0M1383.7 872.0h0M1245.5 864.1h0M1234.6 861.0h0M1304.6 863.7h0M1259.6 859.2h0M1266.6 863.9h0M1277.4 859.4h0M1320.3 866.9h0M1218.3 862.4h0M1357.1 865.9h0M1229.5 857.0h0M1266.2 864.7h0M1370.4 866.9h0M1298.0 860.9h0M1264.7 858.0h0M1228.3 858.6h0M1263.1 858.3h0M1318.4 866.5h0M1313.4 865.2h0M1195.9 858.7h0M1362.1 863.9h0M1241.5 856.1h0M1345.8 863.3h0M1286.0 866.3h0M1188.7 861.7h0M1246.3 860.3h0M1248.6 860.5h0M1242.0 863.8h0M1362.6 863.1h0M1304.9 864.9h0M1269.3 863.5h0M1235.9 856.9h0M1313.2 871.7h0M1379.7 871.4h0M1383.3 871.1h0M1308.6 861.5h0M1319.8 864.7h0M1267.7 861.2h0M1254.5 861.3h0M1382.6 872.1h0M1212.7 861.6h0M1253.0 858.8h0M1328.6 864.5h0M1308.4 864.0h0M1302.8 864.6h0M1343.8 868.1h0M1326.3 866.0h0M1269.1 862.8h0M1170.5 862.8h0M1362.2 869.5h0M1172.3 868.6h0M1283.3 859.6h0M1191.3 861.8h0M1277.6 864.6h0M1194.2 863.5h0M1186.3 863.7h0M1278.6 863.6h0M1220.8 855.0h0M1257.2 858.3h0M1265.4 860.3h0M1288.6 869.0h0M1189.8 861.1h0M1352.2 861.0h0M1281.4 855.8h0M1255.6 864.9h0M1377.0 868.3h0M1257.1 858.6h0M1345.3 865.6h0M1327.0 866.6h0M1282.7 864.4h0M1173.3 864.0h0M1377.5 863.1h0M1307.1 864.3h0M1257.7 861.1h0M1184.1 863.5h0M1367.2 861.5h0M1238.7 863.9h0M1360.2 863.9h0M1373.2 866.8h0M1363.9 865.0h0M1253.0 861.6h0M1223.3 855.2h0M1247.2 862.7h0M1245.1 857.9h0M1260.8 861.6h0M1349.1 865.3h0M1180.5 868.0h0M1254.1 860.8h0M1215.6 857.9h0M1235.5 857.8h0M1272.5 860.9h0M1273.2 856.6h0M1169.0 871.7h0M1168.6 864.3h0M1296.3 861.2h0M1297.3 864.8h0M1247.4 860.9h0M1295.4 859.9h0M1235.7 863.2h0M1331.2 866.0h0M1178.6 862.7h0M1225.9 858.6h0M1340.4 871.3h0M1254.7 857.4h0M1229.3 860.3h0M1381.4 869.5h0M1348.2 866.9h0M1345.5 863.4h0M1338.8 866.5h0M1333.4 866.8h0M1177.5 867.7h0M1369.0 865.6h0M1306.2 857.7h0M1331.0 865.1h0M1293.4 858.7h0M1258.2 860.2h0M1315.1 858.7h0M1183.4 864.2h0M1337.3 870.7h0M1249.4 857.9h0M1264.6 862.3h0M1236.7 858.9h0M1327.1 864.8h0M1348.7 865.0h0M1312.2 866.7h0M1192.9 862.7h0M1234.6 855.8h0M1367.9 864.0h0M1213.1 863.7h0M1349.9 863.7h0M1193.9 859.7h0M1173.9 868.3h0M1261.1 863.9h0M1369.2 859.7h0M1274.6 862.9h0M1336.6 868.8h0M1190.0 862.7h0M1294.7 865.7h0M1211.1 861.6h0M1243.2 857.8h0M1295.9 867.0h0M1292.1 864.0h0M1350.5 868.1h0M1271.7 858.3h0M1380.6 869.4h0M1217.9 856.0h0M1224.0 860.5h0M1223.1 864.0h0M1181.0 862.7h0M1323.1 868.8h0M1261.3 863.6h0M1379.6 868.9h0M1365.2 866.7h0M1217.5 859.2h0M1331.1 864.0h0M1351.6 864.0h0M1174.7 866.9h0M1287.2 866.8h0M1239.6 855.0h0M1333.6 859.9h0M1342.6 861.4h0M1214.7 857.3h0M1210.5 864.7h0M1193.4 863.1h0M1333.7 871.7h0M1368.3 866.0h0M1317.2 870.6h0M1323.6 860.5h0M1230.4 856.6h0M1224.7 863.8h0M1221.3 856.3h0M1222.3 859.5h0M1230.9 859.7h0M1272.7 860.0h0M1226.4 860.4h0M1278.0 859.7h0M1357.4 861.4h0M1353.2 860.2h0M1299.8 869.1h0M1283.5 864.0h0M1310.8 860.5h0M1223.7 862.5h0M1178.9 861.9h0M1338.5 867.0h0M1217.9 863.0h0M1325.9 865.4h0M1372.6 867.4h0M1243.0 859.4h0M1217.6 858.8h0M1371.9 863.8h0M1310.2 859.2h0M1189.3 859.8h0M1290.2 856.7h0M1234.4 853.3h0M1357.0 860.5h0M1181.9 862.1h0M1173.5 872.1h0M1316.3 869.3h0M1353.4 864.5h0M1183.9 867.0h0M1281.9 861.0h0M1244.2 855.9h0M1275.8 860.3h0M1258.0 855.9h0M1272.9 858.5h0M1288.5 861.5h0M1378.9 867.3h0M1232.5 860.3h0M1240.2 861.5h0M1379.6 872.3h0M1374.0 858.3h0M1370.7 865.9h0M1171.5 871.0h0M1316.4 865.3h0M1300.5 869.8h0M1185.9 867.8h0M1280.2 861.6h0M1191.4 862.6h0M1356.3 864.2h0M1174.0 866.0h0M1347.8 867.1h0M1293.4 867.1h0M1332.0 866.0h0M1181.9 864.0h0M1340.0 860.1h0M1255.9 861.1h0M1240.2 859.7h0M1334.8 865.5h0M1224.2 863.2h0M1240.1 861.3h0M1314.1 867.5h0M1359.1 863.7h0M1205.3 859.6h0M1271.4 859.6h0M1337.8 867.0h0M1309.6 863.1h0M1223.8 862.3h0M1358.1 864.9h0M1207.3 860.6h0M1238.9 856.9h0M1325.3 868.7h0M1284.7 867.6h0M1184.2 863.2h0M1214.5 862.6h0M1257.3 857.4h0M1244.7 859.6h0M1365.5 860.3h0M1196.6 861.9h0M1339.0 865.3h0M1339.2 868.6h0M1249.7 860.7h0M1328.6 862.1h0M1270.7 861.2h0M1275.7 862.4h0M1249.9 853.6h0M1198.3 858.8h0M1211.8 854.9h0M1369.9 868.4h0M1241.5 857.8h0M1322.7 866.8h0M1373.0 862.9h0M1314.8 863.9h0M1359.3 865.4h0M1265.9 868.4h0M1248.2 857.9h0M1371.6 861.6h0M1182.7 862.5h0M1177.8 862.3h0M1233.9 859.0h0M1281.8 861.1h0M1284.8 867.5h0M1281.8 864.7h0M1373.4 861.7h0M1183.8 862.3h0M1234.5 859.1h0M1276.8 868.9h0M1202.0 863.1h0M1231.2 856.2h0M1339.7 862.5h0M1298.4 864.8h0M1351.3 867.5h0M1372.7 863.0h0M1380.1 861.5h0M1254.3 859.3h0M1178.4 863.8h0M1327.5 864.6h0M1213.2 858.3h0M1341.1 865.6h0M1275.8 863.9h0M1206.8 863.7h0M1170.4 867.9h0M1223.8 859.1h0M1301.8 866.8h0M1303.0 862.0h0M1236.1 863.5h0M1293.6 858.7h0M1257.9 863.7h0M1239.5 860.3h0M1366.1 862.4h0M1352.8 858.3h0M1359.2 862.4h0M1381.5 865.4h0M1229.9 857.4h0M1218.3 855.9h0M1294.2 859.7h0M1228.9 853.6h0M1188.2 863.9h0M1288.9 865.9h0M1275.4 858.6h0M1249.6 861.5h0M1167.4 872.5h0M1292.1 863.5h0M1304.7 866.0h0M1275.4 861.6h0M1272.0 866.6h0M1228.1 866.1h0M1263.5 856.1h0M1218.1 857.4h0M1347.6 865.0h0M1363.7 865.8h0M1276.8 865.5h0M1373.1 861.8h0M1273.8 864.2h0M1350.3 865.3h0M1276.6 863.1h0M1213.9 858.7h0M1348.7 862.8h0M1366.8 871.1h0M1316.3 864.2h0M1343.4 870.4h0M1341.6 863.3h0M1233.1 854.6h0M1220.2 859.5h0M1278.5 862.5h0M1241.8 858.2h0M1365.5 867.3h0M1370.2 863.7h0M1312.4 866.2h0M1190.9 856.3h0M1234.7 860.3h0M1207.6 862.6h0M1381.6 872.2h0M1302.7 861.0h0M1179.8 860.9h0M1356.1 864.3h0M1357.3 870.0h0M1291.0 859.4h0M1274.2 863.3h0M1250.8 860.3h0M1202.1 860.7h0M1340.4 865.2h0M1335.9 861.5h0M1318.3 868.4h0M1226.5 860.1h0M1207.9 863.6h0M1372.3 867.1h0M1239.1 853.4h0M1230.3 862.7h0M1374.4 869.5h0M1335.7 871.3h0M1239.7 860.1h0M1273.3 858.0h0M1174.8 863.2h0M1270.1 864.2h0M1329.2 866.1h0M1293.6 861.7h0M1219.6 860.7h0M1178.4 863.7h0M1244.5 866.7h0M1306.4 866.1h0M1257.3 862.2h0M1270.3 860.1h0M1376.0 861.7h0M1316.4 863.3h0M1333.1 870.2h0M1371.4 864.7h0M1363.6 863.6h0M1384.3 868.7h0M1282.0 860.6h0M1179.5 859.6h0M1199.8 863.7h0M1323.8 866.9h0M1325.4 868.4h0M1308.1 860.2h0M1320.8 869.1h0M1190.3 861.7h0M1270.5 855.2h0M1179.3 866.3h0M1182.5 864.2h0M1262.4 856.1h0M1194.9 865.5h0M1329.2 864.3h0M1254.8 862.9h0M1301.2 868.2h0M1177.2 865.4h0M1179.0 866.1h0M1270.2 860.2h0M1252.2 859.8h0M1269.1 855.3h0M1352.7 860.8h0M1273.1 863.9h0M1381.3 869.6h0M1193.2 862.9h0M1355.6 862.9h0M1277.9 864.7h0M1360.3 862.5h0M1223.1 858.8h0M1264.7 865.6h0M1246.7 862.6h0M1235.8 858.2h0M1302.9 866.8h0M1335.4 864.6h0M1266.2 867.2h0M1266.1 860.0h0M1249.0 853.0h0M1338.2 870.9h0M1254.5 862.5h0M1231.6 864.1h0M1324.8 862.0h0M1312.7 866.7h0M1261.8 861.9h0M1334.9 867.8h0M1284.5 860.0h0M1322.1 866.4h0M1170.7 871.9h0M1223.6 857.4h0M1300.7 863.8h0M1383.5 869.5h0M1209.9 859.8h0M1294.0 864.3h0M1345.9 864.1h0M1295.6 866.5h0M1322.2 865.6h0M1293.2 868.7h0M1221.9 861.1h0M1285.6 866.7h0M1382.1 865.9h0M1237.8 855.4h0M1325.3 863.9h0M1290.6 864.2h0M1282.1 864.4h0M1303.3 864.5h0M1361.7 865.2h0M1342.6 867.9h0M1258.6 857.9h0M1267.3 857.8h0M1282.5 858.6h0M1374.7 864.0h0M1243.9 859.3h0M1232.5 860.9h0M1317.8 867.8h0M1249.9 865.1h0M1226.7 862.3h0M1172.3 863.4h0M1248.6 860.6h0M1234.8 861.0h0M1357.1 862.6h0M1205.8 861.9h0M1192.7 857.6h0M1328.0 863.4h0M1224.7 864.7h0M1173.2 865.7h0M1345.4 864.4h0M1320.3 867.5h0M1319.4 869.1h0M1214.6 855.0h0M1270.3 862.6h0M1344.0 862.7h0M1291.2 870.5h0M1215.7 866.0h0M1215.6 861.6h0M1377.1 865.6h0M1241.4 862.4h0M1347.3 864.5h0M1366.4 863.9h0M1244.4 861.0h0M1320.9 864.6h0M1357.1 858.5h0M1216.4 861.7h0M1323.6 864.5h0M1177.3 865.4h0M1350.3 866.6h0M1285.4 864.1h0M1176.7 865.8h0M1244.0 855.2h0M1354.9 865.5h0M1180.7 863.6h0M1318.9 865.4h0M1205.5 861.6h0M1318.5 861.2h0M1237.3 862.0h0M1289.3 862.8h0M1244.6 860.9h0M1230.7 857.9h0M1223.9 857.3h0M1296.0 863.7h0M1225.6 855.4h0M1269.2 857.4h0M1278.5 864.6h0M1331.3 860.2h0M1302.7 867.1h0M1276.1 865.9h0M1257.1 863.1h0M1269.1 858.9h0M1282.3 867.8h0M1361.5 865.1h0M1215.9 857.7h0M1174.0 865.5h0M1340.5 867.7h0M1208.7 862.5h0M1356.3 862.5h0M1317.7 869.7h0M1329.2 869.1h0M1287.5 862.2h0M1358.8 857.6h0M1349.0 866.0h0M1183.3 863.3h0M1285.4 854.7h0M1279.2 864.5h0M1279.6 856.6h0M1382.8 862.1h0M1170.0 863.4h0M1199.4 864.8h0M1191.2 859.7h0M1289.6 860.3h0M1333.1 867.2h0M1296.0 865.6h0M1268.1 862.1h0M1363.2 864.7h0M1264.4 862.8h0M1285.5 865.0h0M1304.6 861.2h0M1171.0 866.4h0M1213.8 856.0h0M1299.9 838.0h0M1268.4 859.7h0M1232.1 841.7h0M1312.6 865.0h0M1255.3 860.0h0M1259.0 851.6h0M1224.1 834.9h0M1266.4 847.0h0M1249.1 847.4h0M1233.0 834.9h0M1232.1 850.2h0M1212.3 856.8h0M1291.0 863.1h0M1207.5 856.1h0M1203.0 845.7h0M1189.7 853.7h0M1281.4 853.7h0M1225.2 859.5h0M1235.4 853.7h0M1270.5 828.7h0M1281.8 853.7h0M1243.1 856.8h0M1185.4 844.3h0M1244.9 856.8h0M1229.9 833.9h0M1236.0 841.2h0M1168.8 844.3h0M1243.8 858.9h0M1247.5 853.7h0M1313.5 844.3h0M1260.7 860.0h0M1245.1 856.3h0M1256.4 856.8h0M1199.2 860.0h0M1229.1 850.6h0M1226.4 847.4h0M1239.7 853.7h0M1279.2 856.8h0M1202.6 822.4h0M1190.2 856.1h0M1280.7 828.7h0M1230.5 840.4h0M1271.1 844.7h0M1253.9 833.4h0M1275.4 860.2h0M1233.0 853.4h0M1322.2 847.6h0M1215.5 834.8h0M1259.9 853.7h0M1232.2 857.7h0M1291.0 860.2h0M1259.7 856.8h0M1312.8 861.5h0M1267.2 856.8h0M1311.7 866.2h0M1274.3 857.3h0M1238.3 844.3h0M1231.6 850.6h0M1208.8 833.7h0M1206.5 853.7h0M1254.9 841.2h0M1228.6 838.5h0M1216.3 857.1h0M1243.6 850.6h0M1247.2 841.2h0M1188.9 863.1h0M1282.0 838.3h0M1247.9 848.6h0M1224.0 844.3h0M1252.2 856.8h0M1245.7 847.4h0M1250.5 847.0h0M1226.3 844.4h0M1255.0 828.7h0M1167.0 855.1h0M1197.7 856.9h0M1207.0 860.0h0M1203.8 856.8h0M1189.1 863.1h0M1235.0 846.6h0M1310.2 860.0h0M1233.5 838.0h0M1279.1 853.7h0M1215.4 854.1h0M1277.4 860.9h0M1249.7 856.8h0M1188.7 841.2h0M1263.5 856.8h0M1259.5 860.4h0M1219.6 850.6h0M1294.2 863.2h0M1302.6 859.6h0M1328.6 864.8h0M1267.9 860.0h0M1211.3 828.4h0M1200.3 856.8h0M1201.2 856.3h0M1210.0 857.4h0M1320.8 856.8h0M1279.1 844.3h0M1241.1 850.6h0M1226.5 848.9h0M1258.3 850.6h0M1214.7 857.8h0M1240.0 851.8h0M1200.9 844.3h0M1251.3 857.3h0M1250.2 850.3h0M1212.0 857.8h0M1267.3 847.4h0M1221.7 846.8h0M1185.1 850.2h0M1278.8 847.4h0M1230.0 853.7h0M1215.0 854.3h0M1207.4 838.5h0M1260.2 847.4h0M1204.3 856.8h0M1265.5 856.8h0M1254.6 846.0h0M1253.0 860.0h0M1239.5 828.7h0M1208.7 850.6h0M1227.0 855.3h0M1279.4 861.8h0M1249.6 856.8h0M1203.5 860.0h0M1232.2 850.6h0M1233.6 853.7h0M1256.0 824.6h0M1218.9 838.0h0M1228.3 847.4h0M1272.9 859.2h0M1260.9 848.6h0M1304.1 859.3h0M1219.3 844.3h0M1196.4 851.7h0M1229.9 844.3h0M1256.3 860.0h0M1244.9 850.6h0M1207.5 841.2h0M1224.8 833.9h0M1289.3 844.3h0M1238.2 855.1h0M1186.9 856.8h0M1205.1 856.8h0M1235.1 856.8h0M1299.1 856.8h0M1240.1 834.9h0M1302.0 850.2h0M1243.2 856.8h0M1257.9 828.3h0M1216.8 853.7h0M1241.4 844.8h0M1245.0 850.6h0M1194.7 856.8h0M1212.4 853.7h0M1178.7 863.1h0M1208.6 860.0h0M1263.0 853.1h0M1243.1 853.7h0M1229.2 853.7h0M1172.0 860.0h0M1195.9 860.0h0M1240.7 841.4h0M1208.4 860.0h0M1209.9 841.2h0M1301.9 860.0h0M1246.5 836.4h0M1207.2 848.1h0M1228.4 838.0h0M1223.5 834.5h0M1279.6 859.1h0M1270.2 860.0h0M1201.4 856.8h0M1289.2 863.1h0M1218.5 841.2h0M1239.9 860.0h0M1252.4 847.4h0M1206.8 860.6h0M1224.4 853.7h0M1214.6 860.0h0M1260.4 856.8h0M1283.8 862.4h0M1246.5 853.7h0M1229.0 858.3h0M1236.4 847.4h0M1200.0 851.6h0M1294.5 845.1h0M1217.0 850.6h0M1197.5 851.3h0M1246.2 840.1h0M1227.5 847.1h0M1282.0 856.0h0M1252.1 856.8h0M1280.0 853.0h0M1291.7 844.3h0M1248.4 830.3h0M1303.4 863.9h0M1236.2 822.4h0M1223.5 860.0h0M1227.8 829.7h0M1254.2 856.8h0M1228.9 856.8h0M1298.2 860.0h0M1182.9 826.3h0M1251.8 856.8h0M1212.0 846.2h0M1234.8 856.8h0M1245.3 841.2h0M1266.9 857.2h0M1245.6 828.7h0M1323.1 856.8h0M1301.8 853.7h0M1231.2 844.3h0M1287.2 861.7h0M1266.3 824.9h0M1281.8 850.6h0M1176.2 847.0h0M1244.2 858.5h0M1227.5 850.5h0M1282.2 846.9h0M1235.3 844.3h0M1228.1 827.8h0M1226.1 838.0h0M1250.3 844.3h0M1280.8 860.0h0M1213.3 856.8h0M1256.2 852.8h0M1290.3 846.5h0M1206.0 842.6h0M1215.2 859.3h0M1267.3 860.3h0M1289.3 849.5h0M1205.7 837.6h0M1231.1 846.5h0M1239.6 831.7h0M1235.3 834.8h0M1181.7 831.8h0M1274.0 855.7h0M1240.4 853.7h0M1231.1 853.7h0M1220.6 856.8h0M1172.8 860.4h0M1272.1 860.0h0M1238.9 854.4h0M1244.7 853.7h0M1206.1 850.6h0M1233.0 853.7h0M1265.8 844.3h0M1173.7 837.9h0M1258.2 841.2h0M1266.8 847.4h0M1282.1 860.5h0M1235.7 858.5h0M1236.1 854.5h0M1266.5 855.7h0M1167.7 839.1h0M1236.3 856.8h0M1314.0 864.5h0M1283.2 853.7h0M1284.3 841.2h0M1295.0 860.0h0M1188.6 847.4h0M1222.7 844.3h0M1226.4 854.3h0M1175.4 853.7h0M1205.5 856.3h0M1232.6 853.7h0M1220.1 860.1h0M1257.6 841.0h0M1225.4 856.8h0M1230.1 846.6h0M1270.7 856.8h0M1228.4 856.8h0M1195.3 855.5h0M1239.5 854.2h0M1219.2 859.7h0M1234.0 831.8h0M1229.0 843.6h0M1209.5 841.2h0M1297.3 841.2h0M1326.5 862.4h0M1269.0 860.6h0M1251.8 853.7h0M1220.8 852.2h0M1259.5 844.3h0M1224.3 851.8h0M1234.9 855.3h0M1239.4 838.0h0M1278.6 850.6h0M1216.1 844.3h0M1252.6 856.8h0M1282.3 861.3h0M1226.5 858.1h0M1244.4 833.0h0M1313.1 854.5h0M1238.8 856.8h0M1241.5 836.7h0M1217.9 844.3h0M1240.8 856.8h0M1192.3 838.0h0M1180.3 860.0h0M1228.1 831.7h0M1238.4 834.9h0M1303.8 850.6h0M1197.2 856.8h0M1191.8 854.5h0M1305.2 844.3h0M1224.5 847.4h0M1193.0 853.7h0M1224.2 850.6h0M1231.5 852.2h0M1232.5 850.6h0M1305.6 860.0h0M1262.3 853.7h0M1250.0 850.6h0M1249.2 835.3h0M1272.6 860.0h0M1199.4 834.9h0M1202.8 860.0h0M1191.9 854.5h0M1289.1 863.1h0M1218.9 852.8h0M1245.3 860.0h0M1264.5 838.0h0M1241.9 847.4h0M1243.8 846.0h0M1237.3 847.4h0M1204.8 841.2h0M1279.8 831.8h0M1235.2 853.7h0M1296.7 856.8h0M1295.0 850.6h0M1279.4 856.0h0M1169.6 830.0h0M1206.4 853.7h0M1220.0 856.2h0M1280.7 860.0h0M1188.7 856.8h0M1267.1 850.9h0M1195.6 850.7h0M1189.4 860.0h0M1219.5 852.1h0M1270.0 850.6h0M1226.7 850.6h0M1242.1 856.8h0M1221.1 856.8h0M1281.5 859.9h0M1261.7 847.9h0M1182.1 860.0h0M1244.8 844.3h0M1184.0 852.3h0M1228.4 851.9h0M1276.1 844.3h0M1204.8 851.5h0M1208.7 860.0h0M1210.1 848.2h0M1184.6 855.3h0M1190.4 849.7h0M1180.1 853.7h0M1219.7 844.5h0M1285.2 853.7h0M1199.5 858.9h0M1235.1 856.9h0M1281.0 834.9h0M1326.3 856.8h0M1225.3 856.8h0M1267.7 860.0h0M1186.9 841.2h0M1247.1 854.1h0M1211.4 849.5h0M1218.9 859.5h0M1204.3 860.0h0M1240.5 850.6h0M1211.8 847.4h0M1218.6 838.1h0M1246.9 847.4h0M1236.0 851.5h0M1302.3 847.4h0M1267.9 853.7h0M1205.9 850.6h0M1200.7 841.2h0M1245.1 858.7h0M1237.3 853.7h0M1259.3 834.9h0M1280.5 860.0h0M1271.4 852.1h0M1249.6 845.2h0M1189.4 847.4h0M1205.4 859.4h0M1271.4 853.7h0M1241.8 853.7h0M1263.3 856.8h0M1254.4 844.3h0M1217.5 840.9h0M1187.6 857.3h0M1191.0 860.0h0M1251.4 844.3h0M1254.6 850.6h0M1241.6 855.1h0M1216.1 844.4h0M1245.5 847.4h0M1176.1 840.0h0M1222.7 856.0h0M1254.9 850.6h0M1250.8 847.4h0M1278.7 838.7h0M1222.7 851.6h0M1196.7 859.9h0M1239.9 823.9h0M1217.5 853.7h0M1283.4 841.2h0M1189.3 860.5h0M1243.5 853.7h0M1238.6 851.6h0M1292.9 850.6h0M1275.4 856.8h0M1236.2 844.3h0M1214.1 856.8h0M1325.9 863.1h0M1251.7 841.5h0M1304.7 862.5h0M1257.5 841.2h0M1164.6 860.0h0M1234.1 856.8h0M1256.8 847.4h0M1283.9 847.4h0M1212.2 834.9h0M1204.6 831.5h0M1270.8 844.3h0M1175.8 860.0h0M1221.5 847.4h0M1211.7 847.4h0M1240.2 842.8h0M1272.5 856.8h0M1196.9 847.8h0M1251.8 839.6h0M1221.1 850.6h0M1217.3 834.9h0M1209.0 850.6h0M1233.9 853.7h0M1327.6 863.1h0M1175.0 834.9h0M1209.0 845.1h0M1330.0 863.1h0M1270.9 851.9h0M1260.2 855.8h0M1257.7 860.0h0M1262.2 848.4h0M1284.2 844.3h0M1255.9 856.8h0M1219.5 847.4h0M1226.5 856.7h0M1182.3 853.7h0M1180.0 856.8h0M1205.7 860.0h0M1281.0 860.0h0M1171.9 859.5h0M1227.3 846.8h0M1218.1 854.2h0M1323.0 840.7h0M1266.7 860.0h0M1297.5 860.0h0M1259.8 859.2h0M1272.8 855.5h0M1286.3 833.5h0M1286.7 825.5h0M1225.0 853.7h0M1229.3 847.4h0M1238.3 850.6h0M1221.8 834.4h0M1274.1 858.0h0M1286.3 855.6h0M1207.0 855.7h0M1248.1 853.7h0M1178.5 825.5h0M1224.6 854.4h0M1175.3 850.6h0M1239.7 860.0h0M1229.2 853.7h0M1262.3 860.0h0M1239.0 858.1h0M1213.8 860.0h0M1203.6 841.2h0M1239.9 850.6h0M1312.4 850.6h0M1251.0 850.6h0M1231.9 850.6h0M1182.8 850.6h0M1232.7 853.7h0M1227.1 841.2h0M1221.8 850.6h0M1307.2 866.2h0M1261.7 831.8h0M1285.2 847.4h0M1219.4 852.2h0M1187.9 857.0h0M1270.0 856.8h0M1193.0 860.0h0M1259.7 844.3h0M1257.2 847.2h0M1251.9 853.7h0M1238.1 850.6h0M1228.6 848.5h0M1269.1 844.3h0M1200.7 846.3h0M1202.4 850.6h0M1206.4 856.8h0M1251.5 859.4h0M1190.6 837.8h0M1280.5 860.0h0M1328.9 863.1h0M1247.5 859.0h0M1260.6 844.3h0M1278.7 853.7h0M1225.0 844.3h0M1236.6 853.7h0M1170.8 849.0h0M1221.4 841.2h0M1225.8 837.7h0M1227.3 853.5h0M1225.6 856.8h0M1169.5 853.7h0M1279.3 861.1h0M1272.7 858.4h0M1184.8 863.1h0M1194.2 863.1h0M1230.9 856.8h0M1169.0 841.7h0M1282.2 861.3h0M1209.2 846.1h0M1189.7 854.4h0M1185.1 831.7h0M1232.3 846.9h0M1226.7 857.3h0M1169.8 860.0h0M1231.9 841.2h0M1276.2 856.8h0M1253.8 834.9h0M1171.4 866.2h0M1204.5 838.0h0M1245.8 860.0h0M1247.2 846.6h0M1240.9 847.4h0M1191.7 856.8h0M1219.4 856.8h0M1201.5 844.3h0M1278.1 850.6h0M1237.1 846.9h0M1210.3 838.0h0M1175.1 844.3h0M1231.9 856.8h0M1294.9 853.7h0M1303.0 860.0h0M1202.8 860.0h0M1261.7 860.6h0M1213.1 853.8h0M1269.0 860.0h0M1232.4 825.5h0M1230.6 844.3h0M1253.2 838.4h0M1246.1 825.5h0M1297.3 851.4h0M1276.3 850.6h0M1248.4 850.6h0M1239.0 857.9h0M1217.3 856.8h0M1202.3 853.7h0M1216.9 844.3h0M1177.0 863.1h0M1193.2 856.1h0M1218.3 850.6h0M1219.2 850.6h0M1269.3 850.6h0M1275.0 850.6h0M1233.9 834.9h0M1225.0 856.8h0M1225.2 825.5h0M1224.7 853.7h0M1266.2 856.8h0M1182.0 863.1h0M1220.9 847.4h0M1299.8 850.6h0M1248.7 856.8h0M1192.2 847.4h0M1204.6 856.8h0M1250.0 847.4h0M1245.0 830.3h0M1302.2 863.1h0M1322.3 863.1h0M1238.2 850.6h0M1245.5 855.8h0M1274.1 838.0h0M1206.3 841.5h0M1197.8 856.8h0M1291.6 862.5h0M1237.3 834.9h0M1285.8 829.6h0M1214.2 844.1h0M1175.1 853.0h0M1189.9 822.4h0M1222.3 856.8h0M1213.4 847.4h0M1297.7 856.8h0M1218.3 858.5h0M1195.9 847.4h0M1200.3 851.5h0M1268.1 837.8h0M1206.5 838.1h0M1263.3 857.1h0M1250.1 822.4h0M1245.7 841.2h0M1310.5 838.0h0M1180.3 851.0h0M1228.4 827.0h0M1190.1 856.8h0M1252.5 847.4h0M1265.9 860.0h0M1208.3 860.0h0M1165.1 872.2h0M1221.8 839.3h0M1211.6 822.4h0M1277.5 860.9h0M1260.0 856.8h0M1231.0 838.0h0M1230.7 856.8h0M1226.6 841.2h0M1267.7 853.7h0M1257.0 856.8h0M1176.0 851.3h0M1277.3 855.7h0M1278.3 849.5h0M1325.4 860.0h0M1185.7 850.6h0M1225.7 859.8h0M1201.6 860.0h0M1224.0 839.4h0M1236.1 857.8h0M1272.6 860.0h0M1274.1 853.7h0M1184.8 856.8h0M1254.8 853.7h0M1302.5 860.0h0M1168.6 860.0h0M1266.3 856.8h0M1235.1 850.6h0M1220.9 856.8h0M1255.0 860.0h0M1288.6 861.5h0M1204.6 860.0h0M1219.0 835.2h0M1282.7 834.9h0M1274.3 853.7h0M1244.2 853.7h0M1257.5 853.7h0M1217.9 834.9h0M1211.1 856.7h0M1248.5 842.2h0M1326.7 866.2h0M1243.7 847.4h0M1264.8 838.8h0M1233.2 822.4h0M1230.3 838.0h0M1188.1 827.9h0M1241.5 852.4h0M1255.0 853.7h0M1271.6 853.7h0M1311.7 866.2h0M1223.1 838.0h0M1273.6 850.6h0M1262.0 853.7h0M1196.1 841.2h0M1282.0 859.9h0M1211.8 831.8h0M1314.1 852.4h0M1168.4 856.8h0M1208.9 839.5h0M1307.2 857.8h0M1239.6 828.2h0M1246.1 841.2h0M1168.7 867.3h0M1266.1 844.3h0M1293.1 863.1h0M1221.0 853.7h0M1241.1 825.8h0M1303.5 863.1h0M1227.7 850.6h0M1270.0 856.8h0M1215.0 850.6h0M1292.7 863.1h0M1219.3 843.9h0M1189.4 855.3h0M1239.4 860.0h0M1247.6 853.7h0M1203.7 856.2h0M1280.7 844.3h0M1267.3 844.3h0M1224.2 853.7h0M1224.6 847.4h0M1287.3 860.0h0M1249.6 847.4h0M1250.7 846.2h0M1247.4 838.0h0M1293.8 859.7h0M1181.7 824.1h0M1212.3 860.0h0M1210.6 857.0h0M1205.6 828.7h0M1190.2 860.0h0M1176.0 856.6h0M1303.8 861.0h0M1220.2 847.4h0M1301.6 860.7h0M1261.1 844.3h0M1208.9 856.8h0M1209.5 857.1h0M1255.2 850.3h0M1248.5 838.5h0M1236.4 850.6h0M1210.1 850.6h0M1253.3 853.7h0M1251.6 856.8h0M1310.0 844.3h0M1307.0 847.4h0M1285.4 838.0h0M1228.0 827.8h0M1243.3 841.2h0M1166.3 860.2h0M1229.5 851.5h0M1233.8 841.2h0M1300.7 854.3h0M1210.3 860.6h0M1165.7 872.5h0M1270.8 856.8h0M1198.0 847.0h0M1177.0 863.1h0M1178.9 845.9h0M1280.0 834.9h0M1232.9 849.4h0M1284.5 860.0h0M1176.5 848.1h0M1267.4 841.2h0M1311.8 856.3h0M1285.7 859.5h0M1313.1 864.3h0M1210.0 853.7h0M1246.2 854.1h0M1316.5 847.4h0M1221.3 853.7h0M1225.0 834.9h0M1245.6 838.0h0M1253.2 834.9h0M1263.1 860.0h0M1178.0 838.0h0M1289.5 859.6h0M1229.5 850.6h0M1224.7 850.6h0M1222.8 849.8h0M1199.3 844.3h0M1262.6 831.3h0M1225.5 841.2h0M1197.2 847.4h0M1191.0 850.6h0M1207.9 856.8h0M1174.1 861.7h0M1240.5 831.8h0M1265.4 860.0h0M1266.0 853.7h0M1287.8 861.5h0M1231.0 850.6h0M1196.0 847.4h0M1239.5 860.0h0M1237.8 850.8h0M1291.8 852.2h0M1217.9 841.2h0M1236.9 853.7h0M1230.3 848.7h0M1319.0 860.0h0M1185.3 850.8h0M1211.1 853.7h0M1237.8 855.1h0M1185.9 860.0h0M1216.6 833.4h0M1200.3 856.8h0M1206.6 852.8h0M1199.5 838.0h0M1202.2 828.1h0M1214.8 857.6h0M1220.8 841.2h0M1203.2 844.3h0M1175.2 834.9h0M1170.4 860.7h0M1228.8 850.6h0M1222.0 844.3h0M1228.6 853.7h0M1267.6 833.4h0M1196.0 853.7h0M1182.8 847.4h0M1239.7 828.7h0M1262.9 858.8h0M1223.2 853.7h0M1198.4 850.6h0M1206.1 847.6h0M1226.2 834.9h0M1175.0 850.6h0M1276.9 847.4h0M1240.4 855.3h0M1213.6 858.5h0M1266.4 853.7h0M1240.7 857.8h0M1283.9 857.3h0M1258.0 852.4h0M1243.3 860.0h0M1205.3 853.7h0M1275.8 853.7h0M1258.0 847.4h0M1282.9 844.3h0M1260.4 860.0h0M1201.3 858.0h0M1258.9 856.8h0M1221.2 853.7h0M1224.2 849.1h0M1296.7 858.9h0M1168.9 859.1h0M1307.7 860.8h0M1262.8 833.6h0M1197.2 854.3h0M1218.0 828.2h0M1235.8 828.7h0M1239.8 850.6h0M1226.6 850.6h0M1196.4 842.0h0M1224.4 856.8h0M1240.7 850.6h0M1274.1 841.6h0M1235.5 850.6h0M1271.9 847.4h0M1192.7 855.5h0M1207.6 856.8h0M1261.6 842.0h0M1256.7 854.2h0M1253.1 847.4h0M1263.0 838.0h0M1284.9 847.4h0M1204.4 856.8h0M1244.5 853.7h0M1235.4 855.5h0M1224.8 843.0h0M1220.2 860.0h0M1170.2 856.8h0M1187.7 856.8h0M1284.8 844.3h0M1209.0 830.8h0M1203.3 856.1h0M1236.0 844.3h0M1195.1 850.6h0M1232.3 825.5h0M1252.8 828.7h0M1210.0 850.6h0M1286.9 860.0h0M1219.2 856.8h0M1236.5 853.7h0M1254.1 844.3h0M1267.4 856.8h0M1217.8 855.4h0M1207.2 860.0h0M1324.6 856.8h0M1213.8 850.6h0M1207.7 850.0h0M1255.7 847.4h0M1212.0 831.8h0M1299.1 859.9h0M1168.0 856.8h0M1247.5 849.4h0M1183.1 860.0h0M1303.0 853.4h0M1241.4 841.2h0M1197.9 860.0h0M1321.0 863.1h0M1231.1 860.0h0M1178.8 861.7h0M1231.4 853.7h0M1236.4 826.6h0M1235.1 844.9h0M1219.0 856.2h0M1230.5 856.8h0M1276.0 859.6h0M1220.5 854.1h0M1187.0 838.0h0M1295.4 860.0h0M1269.7 847.4h0M1229.2 844.3h0M1218.1 850.6h0M1283.5 849.8h0M1302.1 860.0h0M1218.4 852.3h0M1294.2 860.0h0M1265.4 860.0h0M1244.7 852.7h0M1269.2 859.9h0M1218.6 847.4h0M1261.7 860.0h0M1179.1 844.3h0M1205.0 853.6h0M1234.6 856.8h0M1275.4 838.0h0M1213.5 854.4h0M1205.1 834.6h0M1226.3 841.2h0M1193.1 846.8h0M1181.6 847.4h0M1274.5 841.2h0M1274.0 841.2h0M1271.9 852.9h0M1319.0 862.0h0M1244.6 847.4h0M1261.7 830.0h0M1273.3 844.0h0M1203.1 860.0h0M1242.4 847.4h0M1231.1 824.8h0M1240.2 850.6h0M1252.6 850.6h0M1273.5 838.0h0M1252.4 856.8h0M1314.2 863.1h0M1206.8 831.1h0M1314.7 864.4h0M1214.1 857.8h0M1230.9 844.3h0M1246.6 828.7h0M1216.2 860.0h0M1199.8 856.2h0M1250.7 856.8h0M1212.7 857.3h0M1263.5 860.0h0M1261.6 856.8h0M1290.8 861.7h0M1246.1 849.6h0M1172.8 860.5h0M1233.5 848.8h0M1164.6 863.7h0M1272.7 856.8h0M1189.9 836.8h0M1218.7 857.4h0M1196.8 860.0h0M1222.5 853.7h0M1230.5 860.0h0M1209.7 860.0h0M1242.7 853.7h0M1282.2 859.8h0M1290.3 850.6h0M1214.3 850.1h0M1226.9 851.5h0M1249.9 844.3h0M1243.7 850.6h0M1226.6 853.7h0M1189.6 831.8h0M1195.3 860.0h0M1256.2 856.8h0M1248.8 857.4h0M1208.2 838.0h0M1273.9 850.6h0M1246.8 847.4h0M1205.6 851.4h0M1202.0 843.9h0M1222.7 836.9h0M1246.1 856.4h0M1212.3 853.7h0M1237.2 855.1h0M1216.0 857.3h0M1230.3 853.7h0M1310.0 853.7h0M1226.2 856.0h0M1216.2 856.8h0M1278.6 860.0h0M1227.4 856.8h0M1237.8 847.4h0M1247.9 840.8h0M1258.2 856.8h0M1229.4 847.4h0M1288.6 853.7h0M1225.0 860.0h0M1215.9 831.8h0M1275.9 847.4h0M1242.5 834.9h0M1185.2 860.3h0M1229.2 847.4h0M1238.2 843.5h0M1228.1 844.3h0M1308.6 862.4h0M1267.9 838.0h0M1243.0 853.7h0M1233.4 856.8h0M1268.0 857.9h0M1183.4 850.6h0M1311.0 856.8h0M1271.8 847.4h0M1302.8 859.3h0M1257.8 847.4h0M1198.0 857.2h0M1186.4 834.9h0M1183.3 860.0h0M1214.1 856.8h0M1185.4 860.0h0M1177.0 856.8h0M1235.2 844.3h0M1285.1 860.0h0M1212.7 844.3h0M1225.6 850.6h0M1225.2 856.8h0M1216.3 856.8h0M1208.8 850.6h0M1229.4 856.5h0M1241.4 856.8h0M1179.7 863.1h0M1327.7 866.2h0M1270.3 855.9h0M1253.1 850.6h0M1221.4 856.8h0M1268.2 844.3h0M1239.3 838.0h0M1249.2 855.3h0M1288.5 848.1h0M1227.9 860.0h0M1261.5 858.0h0M1197.9 856.8h0M1196.7 844.3h0M1266.0 845.8h0M1241.5 857.6h0M1233.3 828.7h0M1228.9 853.3h0M1182.7 862.8h0M1222.5 857.8h0M1246.8 845.1h0M1179.4 839.9h0M1242.9 860.0h0M1282.1 860.0h0M1235.7 856.8h0M1219.0 830.8h0M1229.9 850.6h0M1214.8 855.1h0M1251.8 839.7h0M1310.1 864.0h0M1267.1 845.8h0M1230.1 831.8h0M1242.0 844.3h0M1252.0 844.3h0M1216.8 853.7h0M1240.6 856.7h0M1225.0 858.7h0M1259.8 843.5h0M1181.2 859.7h0M1299.6 859.9h0M1238.9 844.5h0M1211.8 853.7h0M1201.6 853.7h0M1183.7 860.7h0M1203.2 860.5h0M1300.7 847.4h0M1226.3 856.8h0M1243.2 847.4h0M1238.7 848.3h0M1219.1 850.6h0M1239.7 853.7h0M1264.0 856.8h0M1249.7 825.5h0M1247.8 850.6h0M1244.4 838.0h0M1237.2 853.7h0M1176.6 853.4h0M1255.5 860.0h0M1230.7 853.7h0M1284.1 860.0h0M1293.3 856.8h0M1257.8 847.4h0M1222.6 856.8h0M1310.0 862.8h0M1172.4 856.8h0M1246.4 853.7h0M1220.2 860.0h0M1283.7 860.0h0M1220.8 831.4h0M1205.7 834.9h0M1249.4 853.7h0M1263.8 825.5h0M1175.5 840.3h0M1195.4 838.0h0M1203.7 853.3h0M1275.5 834.9h0M1213.8 845.2h0M1264.2 847.4h0M1235.7 850.5h0M1233.9 841.4h0M1330.1 863.1h0M1248.1 828.7h0M1287.2 847.4h0M1264.3 851.2h0M1260.3 860.4h0M1211.3 822.4h0M1221.5 850.0h0M1257.7 850.6h0M1242.2 856.8h0M1260.5 851.7h0M1233.9 840.8h0M1267.0 856.8h0M1225.4 860.0h0M1245.2 856.8h0M1253.8 848.5h0M1193.9 843.2h0M1257.4 841.2h0M1234.2 856.8h0M1254.0 856.4h0M1254.9 838.0h0M1173.4 853.7h0M1217.0 850.6h0M1258.4 856.8h0M1185.7 856.8h0M1208.4 851.2h0M1319.6 844.3h0M1264.2 847.4h0M1248.0 853.7h0M1296.1 857.1h0M1225.6 860.0h0M1214.0 853.7h0M1226.1 847.4h0M1288.0 858.1h0M1244.3 856.9h0M1269.9 861.3h0M1246.9 829.3h0M1211.5 841.2h0M1194.1 841.2h0M1181.3 863.1h0M1248.4 825.5h0M1231.4 829.0h0M1173.1 850.6h0M1194.4 850.6h0M1244.9 838.0h0M1192.8 845.1h0M1257.4 836.9h0M1237.9 856.8h0M1238.9 850.6h0M1170.2 859.6h0M1249.3 853.7h0M1235.8 847.4h0M1259.4 856.8h0M1222.3 856.8h0M1227.6 855.9h0M1235.9 856.8h0M1215.4 853.7h0M1304.7 860.0h0M1231.1 847.4h0M1217.4 858.4h0M1233.0 827.6h0M1224.9 835.8h0M1254.9 857.5h0M1181.5 853.7h0M1214.8 860.0h0M1243.5 856.8h0M1230.2 856.8h0M1297.8 860.0h0M1247.5 844.3h0M1227.9 847.4h0M1234.3 825.5h0M1214.2 860.0h0M1316.7 863.1h0M1227.9 860.0h0M1237.9 853.7h0M1227.5 847.4h0M1196.8 844.5h0M1179.6 853.7h0M1214.3 834.9h0M1303.1 841.2h0M1254.4 851.3h0M1300.9 859.7h0M1207.3 828.7h0M1222.4 847.4h0M1187.8 856.8h0M1247.1 856.8h0M1236.9 836.0h0M1230.9 844.2h0M1256.0 846.0h0M1229.7 837.7h0M1232.1 856.8h0M1226.4 836.2h0M1283.7 838.0h0M1307.4 850.9h0M1252.3 857.4h0M1227.1 856.8h0M1256.5 853.7h0M1192.9 847.4h0M1239.5 846.3h0M1264.1 857.4h0M1195.7 850.6h0M1205.4 860.0h0M1165.2 870.1h0M1291.8 863.1h0M1296.2 856.8h0M1256.5 847.4h0M1255.8 856.8h0M1301.8 830.3h0M1285.4 863.1h0M1194.2 850.6h0M1243.1 844.3h0M1229.2 841.2h0M1243.7 838.0h0M1205.0 850.6h0M1198.8 853.7h0M1179.1 841.2h0M1340.2 861.1h0M1364.4 846.7h0M1314.4 865.3h0M1371.2 837.2h0M1326.3 859.8h0M1330.3 862.7h0M1351.5 857.4h0M1373.8 860.5h0M1339.5 861.7h0M1381.0 862.6h0M1375.2 839.8h0M1300.2 854.1h0M1307.2 860.1h0M1350.9 865.0h0M1346.6 857.5h0M1327.1 860.8h0M1331.2 864.9h0M1319.3 846.1h0M1351.5 860.1h0M1365.7 850.6h0M1361.6 860.4h0M1343.3 863.1h0M1303.2 846.6h0M1304.5 861.4h0M1369.6 860.4h0M1374.7 863.7h0M1310.4 861.0h0M1351.4 854.6h0M1373.4 851.7h0M1313.4 832.0h0M1301.7 860.1h0M1327.2 866.0h0M1379.6 863.3h0M1382.1 860.2h0M1300.5 857.9h0M1315.0 863.2h0M1358.3 862.9h0M1327.5 866.1h0M1324.9 863.7h0M1307.3 864.2h0M1332.1 865.5h0M1376.8 862.1h0M1328.8 865.7h0M1366.3 861.7h0M1304.2 861.4h0M1374.8 846.4h0M1337.1 859.9h0M1303.9 848.4h0M1361.4 862.0h0M1368.6 861.6h0M1338.5 863.5h0M1345.6 863.7h0M1343.6 863.7h0M1299.1 863.4h0M1364.3 859.3h0M1341.0 858.3h0M1319.3 864.3h0M1332.2 856.4h0M1359.5 860.0h0M1349.0 863.6h0M1377.8 857.8h0M1365.6 860.1h0M1346.6 857.1h0M1342.7 855.8h0M1320.7 855.2h0M1324.6 861.2h0M1309.9 861.5h0M1372.6 863.2h0M1313.6 859.9h0M1353.3 857.3h0M1355.7 856.1h0M1348.6 864.5h0M1343.7 863.5h0M1298.2 859.3h0M1380.0 862.2h0M1361.9 857.1h0M1300.9 858.8h0M1381.2 860.6h0M1322.9 849.7h0M1354.2 846.4h0M1369.3 856.8h0M1337.2 860.7h0M1324.7 852.9h0M1308.5 833.4h0M1326.4 862.2h0M1349.1 863.0h0M1349.1 865.2h0M1371.1 862.4h0M1371.5 849.6h0M1364.2 853.8h0M1313.5 859.5h0M1303.0 855.0h0M1364.2 861.8h0M1335.1 865.3h0M1354.1 856.9h0M1302.8 857.9h0M1371.9 862.0h0M1374.4 861.5h0M1299.1 863.6h0M1361.6 862.4h0M1370.3 859.1h0M1304.7 852.9h0M1325.4 865.2h0M1298.1 861.7h0M1336.7 861.2h0M1346.9 865.1h0M1298.0 849.0h0M1333.6 857.1h0M1373.3 857.3h0M1360.3 862.4h0M1315.6 860.5h0M1381.0 843.0h0M1317.3 858.6h0M1322.2 862.9h0M1330.1 861.8h0M1305.0 851.6h0M1305.0 852.4h0M1318.0 863.8h0M1301.3 861.4h0M1378.4 862.3h0M1325.8 856.7h0M1317.2 855.8h0M1379.3 852.6h0M1301.2 853.8h0M1364.4 852.5h0M1346.6 864.9h0M1354.9 859.0h0M1338.7 855.7h0M1313.2 862.1h0M1351.1 849.8h0M1381.3 853.1h0M1319.9 862.0h0M1342.0 861.5h0M1304.4 861.5h0M1376.3 860.8h0M1372.0 847.9h0M1341.2 848.5h0M1380.2 866.6h0M1347.6 844.2h0M1323.9 863.0h0M1310.6 850.3h0M1345.3 859.5h0M1348.1 849.8h0M1341.4 860.3h0M1335.5 863.1h0M1379.5 859.0h0M1339.5 865.2h0M1351.7 865.2h0M1337.5 864.3h0M1330.8 864.3h0M1316.7 861.6h0M1307.9 862.9h0M1358.5 863.7h0M1369.2 859.2h0M1315.7 855.2h0M1329.5 862.9h0M1297.8 862.8h0M1376.9 859.5h0M1334.5 859.8h0M1305.3 863.6h0M1370.5 856.2h0M1324.7 852.4h0M1322.3 861.9h0M1364.0 850.2h0M1321.4 838.0h0M1315.5 863.4h0M1341.1 860.1h0M1343.3 861.4h0M1363.5 861.6h0M1334.5 858.2h0M1372.9 861.5h0M1327.7 861.7h0M1320.4 860.9h0M1377.1 862.6h0M1367.9 847.6h0M1339.0 862.9h0M1307.7 859.4h0M1369.0 859.5h0M1319.3 853.5h0M1311.0 859.4h0M1362.4 858.8h0M1322.5 859.7h0M1326.2 858.5h0M1364.9 852.1h0M1363.1 862.8h0M1320.5 858.2h0M1351.4 850.0h0M1334.9 865.5h0M1304.0 864.3h0M1343.2 863.0h0M1300.9 847.8h0M1303.2 861.6h0M1363.1 855.7h0M1316.2 842.8h0M1335.5 853.9h0M1333.4 858.8h0M1378.4 865.0h0M1345.7 859.5h0M1379.4 859.7h0M1319.8 864.8h0M1344.5 864.5h0M1327.4 844.0h0M1313.2 863.7h0M1354.3 860.3h0M1374.4 861.0h0M1361.7 860.2h0M1381.7 851.3h0M1314.1 862.2h0M1337.8 861.5h0M1347.7 857.5h0M1310.4 857.8h0M1367.2 859.3h0M1320.5 863.9h0M1349.0 864.7h0M1315.6 863.0h0M1355.9 855.5h0M1343.6 864.6h0M1327.6 865.7h0M1381.9 864.8h0M1368.5 860.8h0M1321.0 864.9h0M1330.5 858.0h0M1344.3 863.0h0M1308.6 862.8h0M1362.7 862.4h0M1381.4 855.8h0M1312.0 865.2h0M1367.3 862.7h0M1354.2 860.3h0M1332.5 860.0h0M1299.2 854.6h0M1368.7 862.5h0M1321.5 853.2h0M1314.3 864.3h0M1365.7 831.2h0M1381.1 866.4h0M1308.9 864.9h0M1307.7 862.1h0M1378.8 855.9h0M1313.0 861.8h0M1344.1 864.6h0M1302.6 863.0h0M1323.0 865.8h0M1380.0 841.3h0M1337.6 862.0h0M1344.5 853.2h0M1332.4 848.5h0M1378.5 863.2h0M1346.6 844.0h0M1323.4 832.7h0M1340.0 858.1h0M1305.8 861.3h0M1353.1 863.8h0M1379.7 862.8h0M1345.6 855.2h0M1324.1 857.7h0M1359.6 853.9h0M1324.6 863.3h0M1347.0 861.5h0M1337.6 860.1h0M1361.8 862.8h0M1315.7 864.6h0M1341.5 864.2h0M1376.3 862.5h0M1335.5 855.8h0M1321.6 865.4h0M1317.3 857.2h0M1327.2 846.0h0M1310.9 862.6h0M1339.5 863.0h0M1322.7 865.3h0M1340.4 856.2h0M1328.9 837.3h0M1350.3 862.5h0M1328.6 863.9h0M1305.8 860.3h0M1342.8 854.7h0M1304.4 864.4h0M1374.4 860.6h0M1358.9 849.8h0M1321.4 864.6h0M1363.6 861.1h0M1340.1 865.8h0M1346.9 861.6h0M1315.4 864.0h0M1376.0 848.1h0M1324.0 863.5h0M1326.4 863.3h0M1330.1 843.7h0M1299.1 861.1h0M1344.0 859.2h0M1325.9 857.3h0M1333.9 864.9h0M1374.6 862.2h0M1357.2 846.2h0M1312.1 855.4h0M1363.4 860.7h0M1375.1 862.8h0M1390.6 819.8h0M1396.5 845.4h0M1390.1 841.8h0M1393.9 863.6h0M1392.8 841.3h0M1385.1 871.9h0M1398.0 862.2h0M1392.0 849.2h0M1395.0 810.2h0M1392.9 851.0h0M1384.6 835.4h0M1398.1 826.8h0M1392.4 859.0h0M1395.1 830.5h0M1394.9 843.4h0M1384.6 841.4h0M1385.5 852.5h0M1384.9 866.0h0M1385.6 855.3h0M1387.7 865.1h0M1388.7 860.1h0M1382.9 867.4h0M1389.8 844.0h0M1398.1 868.9h0M1385.3 835.5h0M1383.5 840.3h0M1395.8 855.1h0M1387.9 852.3h0M1393.7 837.3h0M1391.9 854.9h0M1385.9 829.8h0M1388.7 847.2h0M1383.8 866.9h0M1386.7 869.4h0M1398.5 834.8h0M1393.4 818.4h0M1391.1 849.6h0M1387.5 848.1h0M1395.1 811.8h0M1392.0 849.2h0M1384.8 815.0h0M1388.3 835.4h0M1389.3 844.6h0M1389.0 836.8h0M1385.6 850.4h0M1386.2 853.7h0M1397.3 854.5h0M1395.7 811.6h0M1382.6 814.5h0M1393.8 845.0h0M1385.5 814.2h0M1386.1 864.6h0M1386.0 866.6h0M1382.3 846.8h0M1397.0 859.5h0M1151.0 827.6h0M1167.8 861.5h0M1159.6 837.6h0M1163.2 846.8h0M1161.2 859.0h0M1149.5 861.3h0M1160.5 861.9h0M1169.7 855.3h0M1148.3 839.5h0M1164.3 835.2h0M1158.9 827.5h0M1164.6 826.7h0M1167.5 856.1h0M1158.6 859.1h0M1163.5 851.0h0M1159.3 852.0h0M1152.3 842.1h0M1165.8 852.8h0M1151.2 840.9h0M1163.3 843.9h0M1168.3 826.4h0M1166.7 841.7h0M1171.0 843.2h0M1160.7 859.1h0M1155.9 852.1h0M1154.5 856.1h0M1152.5 863.7h0M1161.6 848.9h0M1167.7 836.0h0M1170.8 827.8h0M1150.7 839.0h0M1170.7 864.6h0M1151.4 867.4h0M1152.4 826.2h0M1169.6 862.0h0M1148.1 863.6h0M1169.2 853.9h0M1162.0 852.3h0M1158.3 840.0h0M1171.1 865.4h0M1201.6 774.8h0M1142.3 810.5h0M1222.2 787.5h0M1209.3 763.1h0M1209.6 791.2h0M1177.2 820.4h0M1201.6 788.5h0M1174.3 777.3h0M1240.0 764.3h0M1197.4 765.6h0M1243.7 772.1h0M1143.1 809.4h0M1240.0 773.6h0M1167.9 815.1h0M1191.6 790.0h0M1156.5 764.1h0M1191.9 811.9h0M1201.3 773.1h0M1179.9 807.0h0M1163.9 799.2h0M1150.6 816.2h0M1147.4 783.3h0M1164.3 770.6h0M1147.1 772.1h0M1208.3 766.1h0M1221.9 786.7h0M1276.5 782.6h0M1185.0 798.1h0M1162.2 812.4h0M1211.1 812.8h0M1155.8 802.8h0M1180.2 818.4h0M1221.8 818.5h0M1173.0 818.9h0M1201.7 791.1h0M1180.3 779.8h0M1149.4 769.1h0M1257.2 803.2h0M1158.8 766.4h0M1209.3 773.4h0M1207.6 769.4h0M1202.2 788.7h0M1255.3 815.7h0M1167.6 802.9h0M1180.9 761.3h0M1299.4 837.2h0M1296.9 823.8h0M1272.4 838.7h0M1307.7 832.0h0M1319.7 840.2h0M1275.0 812.9h0M1323.7 822.3h0M1313.2 838.0h0M1281.1 829.2h0M1318.9 828.6h0M1305.9 841.9h0M1337.7 836.3h0M1298.1 816.6h0M1337.5 831.9h0M1302.4 815.4h0M1305.1 840.5h0M1285.9 832.9h0M1270.7 842.5h0M1333.8 815.6h0M1329.2 834.1h0M1295.2 812.0h0M1274.2 829.6h0M1296.3 818.8h0M1319.0 810.1h0M1338.9 823.5h0M1129.5 642.8h0M1201.9 642.8h0M1111.5 691.5h0M1139.8 691.5h0M1189.9 691.5h0M1216.6 691.5h0M1155.6 701.3h0M1216.1 701.3h0M1129.5 720.8h0M1178.5 716.6h0M1178.5 722.2h0M1192.7 722.2h0M1209.0 722.2h0M1221.0 722.2h0M1229.1 722.9h0M1238.9 722.2h0M1246.6 722.2h0M1236.8 722.2h0M1149.6 733.3h0M1156.2 733.3h0M1177.4 733.3h0M1179.0 733.3h0M1189.4 733.3h0M1197.0 733.3h0M1188.8 733.3h0M1153.5 740.3h0M1141.5 744.4h0M1164.3 741.7h0M1169.8 744.4h0M1172.5 744.4h0M1175.2 745.8h0M1180.7 743.0h0M1211.7 744.4h0M1191.6 751.4h0M1221.0 751.4h0M1242.2 751.4h0M1129.5 763.9h0M1138.2 763.9h0M1151.8 758.4h0M1253.1 759.7h0M1252.0 762.5h0M1261.8 769.5h0M1285.2 765.3h0M1306.5 782.0h0M1304.3 801.5h0M1291.8 801.5h0M1277.6 801.5h0M1268.3 801.5h0M1339.1 811.3h0M1133.3 818.2h0M1139.3 855.8h0M1142.6 772.3h0M1145.3 777.8h0M1158.9 775.1h0M1167.1 766.7h0M1188.8 777.8h0M1202.5 786.2h0M1227.0 772.3h0M1237.9 775.1h0M1246.0 777.8h0M1248.7 783.4h0M1265.1 789.0h0" stroke="#000" stroke-width="4.2" stroke-linecap="round" fill="none"/>
<path d="M1095.5 536.6V888.8H1451.8" fill="none" stroke="#333333" stroke-width="1.5"/>
<line x1="1089.4" y1="872.5" x2="1095.5" y2="872.5" stroke="#333333" stroke-width="1.4"/>
<text x="1055.6" y="880.1" font-size="21.0" fill="#5E5E5E" textLength="28.4" lengthAdjust="spacingAndGlyphs">0.0</text>
<line x1="1089.4" y1="802.9" x2="1095.5" y2="802.9" stroke="#333333" stroke-width="1.4"/>
<text x="1055.6" y="810.5" font-size="21.0" fill="#5E5E5E" textLength="28.5" lengthAdjust="spacingAndGlyphs">0.5</text>
<line x1="1089.4" y1="733.3" x2="1095.5" y2="733.3" stroke="#333333" stroke-width="1.4"/>
<text x="1054.8" y="740.9" font-size="21.0" fill="#5E5E5E" textLength="29.2" lengthAdjust="spacingAndGlyphs">1.0</text>
<line x1="1089.4" y1="663.7" x2="1095.5" y2="663.7" stroke="#333333" stroke-width="1.4"/>
<text x="1054.8" y="671.3" font-size="21.0" fill="#5E5E5E" textLength="29.3" lengthAdjust="spacingAndGlyphs">1.5</text>
<line x1="1089.4" y1="594.1" x2="1095.5" y2="594.1" stroke="#333333" stroke-width="1.4"/>
<text x="1055.4" y="601.7" font-size="21.0" fill="#5E5E5E" textLength="28.6" lengthAdjust="spacingAndGlyphs">2.0</text>
<line x1="1134.4" y1="888.8" x2="1134.4" y2="894.9" stroke="#333333" stroke-width="1.4"/>
<text x="1121.9" y="912.8" font-size="21.0" fill="#5E5E5E" textLength="25.2" lengthAdjust="spacingAndGlyphs">−4</text>
<line x1="1243.3" y1="888.8" x2="1243.3" y2="894.9" stroke="#333333" stroke-width="1.4"/>
<text x="1230.9" y="912.8" font-size="21.0" fill="#5E5E5E" textLength="25.7" lengthAdjust="spacingAndGlyphs">−2</text>
<line x1="1352.2" y1="888.8" x2="1352.2" y2="894.9" stroke="#333333" stroke-width="1.4"/>
<text x="1345.0" y="912.8" font-size="21.0" fill="#5E5E5E" textLength="14.5" lengthAdjust="spacingAndGlyphs">0</text>
<text x="1249.7" y="938.6" font-size="21.0" fill="#444" textLength="39.9" lengthAdjust="spacingAndGlyphs">LFC</text>
<text transform="translate(1047.5 0) rotate(-90)" x="-768.9" y="0" font-size="20.5" fill="#444" textLength="108.5" lengthAdjust="spacingAndGlyphs">−log10(FDR)</text>
<g fill="#EE3434">
<circle cx="1435.9" cy="576.1" r="3.6"/>
<circle cx="1420.1" cy="656.5" r="3.6"/>
<circle cx="1390.5" cy="794.0" r="3.6"/>
<circle cx="1403.2" cy="803.1" r="3.6"/>
<circle cx="1411.0" cy="803.1" r="3.6"/>
<circle cx="1386.6" cy="806.3" r="3.6"/>
<circle cx="1389.3" cy="807.5" r="3.6"/>
</g>
<path d="M1366.5 798.8L1385.4 803.5M1424.8 815.3L1411 805.5M1411 833L1389.3 809.4" stroke="#EE3434" stroke-width="1.3" fill="none"/>
<text x="1399.0" y="597.8" font-size="18.0" fill="#EE3434" textLength="41.2" lengthAdjust="spacingAndGlyphs">ACE2</text>
<text x="1379.5" y="678.2" font-size="18.0" fill="#EE3434" textLength="51.2" lengthAdjust="spacingAndGlyphs">GATA6</text>
<text x="1362.9" y="783.8" font-size="18.0" fill="#EE3434" textLength="41.0" lengthAdjust="spacingAndGlyphs">CUL5</text>
<text x="1414.3" y="796.4" font-size="18.0" fill="#EE3434" textLength="34.9" lengthAdjust="spacingAndGlyphs">IRF6</text>
<text x="1318.4" y="798.8" font-size="18.0" fill="#EE3434" textLength="48.1" lengthAdjust="spacingAndGlyphs">AP1G1</text>
<text x="1426.7" y="823.2" font-size="18.0" fill="#EE3434" textLength="48.1" lengthAdjust="spacingAndGlyphs">EXTL2</text>
<text x="1411.7" y="844.1" font-size="18.0" fill="#EE3434" textLength="49.3" lengthAdjust="spacingAndGlyphs">EP300</text>
<text x="-0.9" y="1010.4" font-size="44.0" fill="#000" textLength="25.4" lengthAdjust="spacingAndGlyphs">d</text>
<rect x="85.6" y="969.2" width="1377.2" height="388.2" fill="none" stroke="#808080" stroke-width="2.2"/>
<defs><linearGradient id="dband" x1="0" y1="0" x2="0" y2="1"><stop offset="0" stop-color="#A8A8A8" stop-opacity="0"/><stop offset="0.55" stop-color="#A8A8A8" stop-opacity="0.25"/><stop offset="1" stop-color="#A4A4A4" stop-opacity="0.75"/></linearGradient></defs>
<rect x="158" y="1293.2" width="1274" height="33.6" fill="url(#dband)"/>
<path d="M1066 1218h0M1431 1223h0M318 1212h0M658 1221h0M230 1219h0M726 1191h0M1025 1194h0M1277 1215h0M475 1205h0M879 1222h0M267 1198h0M317 1222h0M1325 1208h0M500 1223h0M335 1216h0M754 1217h0M1036 1221h0M1279 1217h0M597 1197h0M1135 1213h0M619 1198h0M1084 1207h0M299 1222h0M917 1220h0M1131 1192h0M729 1179h0M581 1212h0M1221 1223h0M804 1201h0M533 1211h0M444 1222h0M1350 1205h0M467 1194h0M741 1209h0M1340 1218h0M1029 1215h0M630 1191h0M231 1223h0M233 1213h0M351 1213h0M210 1214h0M717 1222h0M1012 1213h0M1180 1209h0M1148 1213h0M742 1211h0M1327 1200h0M776 1205h0M1310 1185h0M689 1204h0M1246 1216h0M1045 1216h0M976 1204h0M652 1220h0M215 1191h0M1327 1199h0M213 1213h0M642 1221h0M645 1213h0M1411 1191h0M427 1199h0M1208 1221h0M544 1218h0M1011 1215h0M720 1204h0M708 1203h0M254 1191h0M1301 1193h0M1414 1202h0M1195 1212h0M515 1218h0" stroke="#D3D3D3" stroke-width="5.6" stroke-linecap="round" fill="none"/>
<path d="M1266 1248h0M191 1245h0M1011 1248h0M789 1227h0M352 1249h0M810 1226h0M184 1231h0M370 1249h0M701 1226h0M900 1246h0M949 1235h0M1165 1239h0M1004 1229h0M619 1247h0M407 1242h0M239 1232h0M769 1248h0M335 1234h0M735 1238h0M262 1249h0M212 1236h0M706 1233h0M685 1237h0M1235 1240h0M338 1236h0M367 1237h0M350 1245h0M720 1245h0M163 1243h0M1257 1235h0M975 1224h0M604 1245h0M563 1225h0M909 1239h0M344 1228h0M1418 1240h0M1249 1249h0M906 1246h0M523 1238h0M374 1239h0M1351 1242h0M245 1248h0M1261 1243h0M263 1248h0M1356 1236h0M1075 1237h0M1118 1228h0M715 1226h0M1057 1239h0M950 1231h0M435 1246h0M985 1244h0M574 1239h0M689 1240h0M229 1241h0M1368 1236h0M1332 1245h0M475 1231h0M558 1249h0M1272 1247h0M1201 1226h0M448 1249h0M1036 1238h0M1209 1242h0M875 1244h0M1203 1241h0M707 1238h0M319 1232h0M683 1236h0M845 1234h0M692 1244h0M1270 1244h0M993 1250h0M1000 1230h0M1206 1243h0M714 1245h0M922 1238h0M271 1234h0M165 1245h0M859 1239h0M370 1239h0M1405 1248h0M1305 1245h0M874 1233h0M1384 1226h0M1386 1244h0M1072 1248h0M527 1233h0M525 1231h0M254 1236h0M865 1248h0M213 1245h0M1002 1233h0M551 1237h0M674 1244h0M1273 1248h0M265 1225h0M314 1245h0M493 1245h0M1098 1233h0M309 1249h0M371 1239h0M235 1227h0M779 1242h0M570 1234h0M1348 1249h0M817 1249h0M1428 1224h0M258 1246h0M1270 1236h0M1088 1244h0M870 1249h0M1220 1243h0M1143 1247h0M633 1247h0M1398 1246h0M384 1241h0M1114 1231h0M179 1239h0M860 1241h0M500 1243h0M683 1244h0M1370 1249h0M571 1235h0M1111 1237h0M1059 1245h0M481 1245h0M864 1248h0M1365 1240h0M1087 1243h0M1325 1223h0M658 1248h0M231 1234h0M606 1236h0M1015 1234h0M302 1246h0M1392 1235h0M384 1249h0M771 1237h0M1302 1243h0M1038 1226h0M1175 1240h0M560 1247h0M245 1232h0M586 1238h0M600 1233h0M320 1232h0M1254 1247h0M938 1234h0M597 1238h0M437 1247h0M1027 1250h0M207 1240h0M364 1235h0M411 1243h0M1408 1241h0M1241 1241h0M314 1244h0M500 1227h0M1169 1243h0M367 1236h0M572 1228h0M1342 1230h0M573 1243h0M613 1249h0M848 1241h0M1272 1245h0M885 1245h0M548 1233h0M1050 1240h0M1068 1245h0M867 1234h0M513 1231h0M822 1245h0M1022 1240h0M240 1232h0M557 1246h0M1118 1232h0M526 1249h0M1047 1245h0M479 1237h0M1395 1249h0M1411 1241h0M812 1236h0M865 1230h0M394 1235h0M1170 1246h0M1264 1247h0M622 1249h0" stroke="#CACACA" stroke-width="4.4" stroke-linecap="round" fill="none"/>
<path d="M1358 1272h0M195 1266h0M735 1260h0M370 1268h0M923 1267h0M465 1267h0M1198 1261h0M727 1271h0M1409 1272h0M1241 1271h0M182 1258h0M767 1255h0M731 1272h0M388 1272h0M505 1250h0M416 1260h0M1267 1272h0M166 1260h0M630 1266h0M942 1259h0M1260 1252h0M217 1268h0M329 1257h0M918 1269h0M375 1270h0M403 1252h0M498 1265h0M926 1272h0M744 1267h0M1004 1266h0M573 1257h0M324 1251h0M780 1251h0M1033 1268h0M399 1272h0M1406 1270h0M409 1250h0M207 1264h0M1073 1264h0M246 1250h0M1353 1250h0M942 1265h0M1380 1271h0M1337 1263h0M1093 1260h0M1363 1252h0M498 1260h0M1416 1268h0M363 1270h0M1288 1260h0M1165 1263h0M595 1264h0M1408 1258h0M1390 1265h0M167 1272h0M171 1257h0M1082 1256h0M588 1271h0M1415 1255h0M458 1255h0M504 1267h0M1110 1272h0M1413 1257h0M188 1272h0M229 1262h0M918 1255h0M1081 1262h0M641 1266h0M967 1263h0M845 1269h0M1427 1267h0M1115 1267h0M402 1267h0M713 1251h0M839 1271h0M496 1251h0M466 1254h0M1158 1257h0M1144 1264h0M1203 1269h0M221 1258h0M435 1264h0M607 1271h0M1109 1264h0M1327 1269h0M1386 1266h0M1145 1264h0M411 1272h0M1189 1268h0M1408 1255h0M218 1269h0M1098 1264h0M195 1256h0M161 1256h0M351 1265h0M432 1271h0M432 1270h0M586 1262h0M1212 1268h0M1216 1271h0M768 1270h0M934 1266h0M1251 1266h0M654 1261h0M190 1270h0M538 1263h0M619 1262h0M1221 1269h0M1185 1255h0M312 1270h0M1348 1263h0M515 1256h0M596 1259h0M679 1269h0M537 1270h0M609 1257h0M1055 1269h0M649 1271h0M508 1270h0M665 1253h0M1349 1260h0M394 1256h0M1030 1261h0M1092 1259h0M1381 1270h0M573 1265h0M1401 1263h0M1382 1272h0M1034 1259h0M1170 1254h0M609 1270h0M843 1265h0M952 1254h0M873 1263h0M726 1270h0M750 1269h0M733 1270h0M979 1260h0M693 1268h0M651 1269h0M1401 1255h0M766 1262h0M615 1263h0M234 1268h0M1361 1263h0M845 1256h0M930 1266h0M256 1251h0M321 1269h0M465 1253h0M322 1265h0M856 1252h0M651 1262h0M226 1272h0M546 1267h0M932 1270h0M287 1272h0M1417 1271h0M1122 1258h0M347 1267h0M1118 1271h0M444 1255h0M410 1262h0M517 1271h0M1204 1269h0M741 1260h0M1230 1262h0M1287 1268h0M245 1255h0M886 1268h0M650 1270h0M749 1253h0M336 1270h0M787 1262h0M491 1270h0M1104 1258h0M1212 1265h0M899 1256h0M915 1271h0M354 1260h0M439 1267h0M360 1255h0M707 1262h0M722 1271h0M701 1271h0M625 1268h0M1046 1256h0M165 1266h0M1196 1266h0M502 1258h0M1293 1251h0M1129 1258h0M466 1261h0M222 1272h0M808 1265h0M206 1254h0M1076 1266h0M1027 1254h0M716 1266h0M1426 1267h0M1034 1266h0M1374 1257h0M484 1250h0M1169 1266h0M1380 1260h0M641 1250h0M1172 1263h0M1351 1264h0M1271 1257h0M437 1263h0M781 1269h0M470 1265h0M604 1271h0M916 1261h0M746 1272h0M208 1257h0M764 1271h0M273 1271h0M187 1267h0M607 1270h0M625 1267h0M208 1261h0M190 1259h0M967 1258h0M762 1261h0M1122 1270h0M332 1253h0M226 1264h0M572 1254h0M199 1266h0M1381 1269h0M450 1251h0M512 1253h0M849 1264h0M847 1264h0M585 1251h0M1095 1265h0M1390 1272h0M700 1268h0M1229 1251h0M755 1255h0M513 1271h0M201 1264h0M442 1272h0M363 1264h0M1398 1250h0M1352 1263h0M524 1253h0M172 1272h0M918 1272h0M579 1267h0M250 1262h0M1080 1253h0M904 1253h0M1192 1268h0M1104 1265h0M628 1258h0M791 1262h0M1215 1264h0M217 1267h0M270 1265h0M1111 1251h0M1307 1264h0M980 1255h0M1081 1269h0M534 1257h0M1224 1270h0M850 1254h0M205 1271h0M1167 1263h0M264 1268h0M1317 1269h0M554 1270h0M946 1270h0M470 1264h0M279 1265h0M599 1259h0M258 1262h0M1328 1257h0M1054 1270h0M1277 1269h0M1276 1265h0M162 1270h0M1307 1267h0M336 1272h0M255 1272h0M862 1258h0M344 1272h0M166 1266h0M441 1264h0M493 1257h0M304 1268h0M162 1255h0M632 1267h0M1395 1261h0M1428 1270h0M835 1268h0M1235 1263h0M1395 1266h0M241 1255h0M708 1254h0M647 1262h0M476 1272h0M544 1254h0M746 1251h0M312 1263h0M1302 1257h0M591 1272h0M475 1252h0M1195 1259h0M1230 1264h0M1182 1256h0M257 1256h0M720 1263h0M1365 1252h0M1180 1261h0M912 1269h0M503 1269h0M593 1269h0M974 1258h0M1377 1253h0M306 1268h0M1055 1269h0M530 1258h0M1425 1266h0M1327 1265h0M1183 1272h0M571 1256h0M987 1267h0M554 1260h0M1383 1271h0M841 1251h0M801 1252h0M1158 1253h0M1320 1264h0M692 1264h0M1030 1269h0M1257 1259h0M708 1270h0M665 1271h0M1231 1267h0M1098 1271h0M1409 1253h0M606 1253h0M402 1267h0M1136 1251h0M628 1272h0M212 1270h0M825 1266h0M1116 1255h0M557 1263h0M279 1266h0M621 1267h0M199 1269h0M1382 1270h0M807 1270h0M303 1254h0M269 1270h0M1183 1250h0M212 1268h0M1381 1262h0M1197 1253h0M232 1269h0M762 1268h0M1094 1259h0M419 1270h0M208 1262h0M186 1255h0M368 1266h0M299 1270h0M500 1250h0M1397 1265h0M1095 1260h0M278 1256h0M367 1262h0M1226 1264h0M271 1261h0M656 1272h0M944 1269h0M638 1259h0M608 1262h0M1110 1270h0M1376 1261h0M1249 1261h0M794 1269h0M1174 1264h0M285 1264h0M210 1260h0M1372 1259h0M1215 1261h0M558 1264h0M1346 1268h0M1214 1256h0M546 1265h0M1177 1261h0M1313 1262h0M455 1266h0M902 1269h0M824 1261h0M448 1263h0M473 1267h0M955 1259h0M1312 1263h0M676 1269h0M884 1269h0M252 1264h0M199 1252h0M662 1264h0M404 1267h0M269 1266h0M852 1270h0M1096 1257h0M484 1269h0M502 1255h0M1026 1254h0M227 1267h0M1006 1269h0M942 1269h0M666 1261h0" stroke="#C0C0C0" stroke-width="3.4" stroke-linecap="round" fill="none"/>
<path d="M514 1276h0M419 1285h0M505 1283h0M533 1290h0M338 1279h0M532 1289h0M480 1274h0M891 1282h0M1397 1290h0M1331 1285h0M954 1275h0M270 1290h0M1409 1286h0M571 1284h0M499 1278h0M450 1287h0M609 1273h0M514 1286h0M685 1289h0M1324 1273h0M539 1289h0M744 1279h0M1124 1277h0M787 1277h0M1087 1280h0M727 1285h0M972 1282h0M297 1276h0M1041 1285h0M1230 1286h0M898 1277h0M1426 1273h0M1377 1288h0M1008 1278h0M1070 1291h0M1224 1281h0M579 1289h0M857 1275h0M994 1290h0M192 1285h0M1297 1285h0M165 1279h0M1219 1282h0M994 1278h0M1429 1278h0M1420 1290h0M1253 1280h0M838 1285h0M211 1280h0M335 1290h0M533 1289h0M1154 1275h0M1035 1291h0M1192 1291h0M1174 1284h0M882 1290h0M909 1280h0M906 1288h0M327 1277h0M1027 1274h0M365 1274h0M392 1282h0M1046 1288h0M803 1282h0M797 1290h0M789 1282h0M1404 1283h0M415 1280h0M1085 1288h0M954 1290h0M428 1274h0M1268 1282h0M998 1290h0M329 1279h0M1355 1277h0M842 1284h0M741 1279h0M525 1273h0M462 1277h0M1048 1288h0M764 1276h0M950 1281h0M965 1284h0M969 1285h0M1064 1275h0M1186 1285h0M1308 1275h0M762 1274h0M555 1281h0M1407 1274h0M290 1278h0M1106 1274h0M606 1277h0M1012 1289h0M792 1280h0M574 1284h0M398 1283h0M724 1287h0M1205 1289h0M928 1283h0M483 1281h0M727 1289h0M391 1290h0M925 1280h0M205 1274h0M1182 1284h0M674 1290h0M876 1291h0M1241 1290h0M967 1284h0M265 1282h0M520 1282h0M466 1291h0M1011 1288h0M968 1276h0M212 1287h0M1116 1291h0M352 1286h0M664 1279h0M690 1279h0M1091 1273h0M438 1283h0M438 1276h0M1224 1273h0M260 1291h0M810 1291h0M445 1281h0M1213 1286h0M746 1290h0M1187 1284h0M892 1291h0M1228 1288h0M1383 1277h0M493 1289h0M710 1286h0M1105 1282h0M1167 1277h0M1236 1278h0M444 1274h0M282 1289h0M818 1283h0M632 1285h0M647 1280h0M1230 1289h0M1113 1287h0M1185 1276h0M183 1279h0M1332 1291h0M605 1290h0M1135 1275h0M823 1286h0M505 1290h0M1390 1288h0M1401 1288h0M1072 1288h0M865 1289h0M611 1284h0M726 1286h0M1414 1290h0M875 1278h0M220 1289h0M707 1288h0M925 1288h0M1052 1286h0M1043 1273h0M590 1290h0M746 1283h0M373 1290h0M387 1289h0M370 1278h0M1231 1277h0M441 1291h0M433 1280h0M483 1286h0M478 1289h0M1187 1284h0M1367 1286h0M698 1274h0M1376 1289h0M361 1291h0M232 1283h0M220 1291h0M483 1288h0M1291 1275h0M1199 1280h0M1155 1279h0M593 1280h0M698 1279h0M707 1284h0M1406 1273h0M479 1273h0M398 1277h0M1185 1291h0M1224 1290h0M416 1279h0M226 1291h0M906 1288h0M594 1279h0M1382 1284h0M876 1284h0M369 1289h0M1107 1288h0M793 1275h0M542 1285h0M741 1287h0M176 1290h0M1356 1287h0M1423 1288h0M1251 1275h0M375 1285h0M863 1281h0M1295 1285h0M826 1286h0M627 1287h0M686 1281h0M925 1290h0M309 1287h0M989 1289h0M557 1287h0M1281 1286h0M760 1289h0M913 1288h0M936 1285h0M495 1288h0M636 1277h0M585 1290h0M234 1286h0M872 1290h0M285 1283h0M1151 1289h0M908 1290h0M950 1290h0M1260 1281h0M725 1291h0M1111 1282h0M239 1288h0M237 1290h0M742 1288h0M1242 1283h0M592 1288h0M1385 1291h0M1404 1278h0M533 1287h0M406 1288h0M628 1287h0M745 1284h0M652 1286h0M405 1276h0M230 1289h0M956 1291h0M714 1285h0M1051 1286h0M1050 1290h0M337 1275h0M1067 1277h0M665 1285h0M1232 1291h0M216 1290h0M773 1288h0M1270 1291h0M739 1287h0M1060 1285h0M1021 1290h0M783 1290h0M539 1283h0M1005 1286h0M1273 1287h0M614 1288h0M1049 1276h0M726 1287h0M415 1288h0M1042 1284h0M1217 1291h0M1412 1287h0M738 1284h0M841 1273h0M946 1277h0M1144 1289h0M1211 1290h0M748 1290h0M301 1283h0M787 1288h0M294 1283h0M926 1284h0M1422 1283h0M544 1285h0M1212 1287h0M1367 1285h0M252 1289h0M210 1284h0M996 1281h0M287 1279h0M465 1291h0M819 1289h0M574 1280h0M1087 1284h0M754 1285h0M665 1287h0M1217 1282h0M1271 1287h0M309 1280h0M863 1285h0M949 1285h0M1293 1280h0M1089 1281h0M271 1275h0M416 1277h0M282 1287h0M1165 1282h0M264 1277h0M1039 1291h0M285 1291h0M336 1281h0M1354 1279h0M1253 1289h0M838 1288h0M549 1279h0M1051 1287h0M401 1291h0M316 1275h0M197 1291h0M1355 1280h0M630 1282h0M1278 1282h0M1049 1279h0M1142 1286h0M1047 1284h0M734 1274h0M1071 1279h0M528 1279h0M958 1278h0M171 1283h0M1316 1289h0M249 1275h0M1115 1286h0M1175 1285h0M442 1285h0M575 1285h0M1068 1279h0M1183 1289h0M323 1274h0M853 1273h0M337 1286h0M339 1280h0M1231 1280h0M384 1275h0M751 1278h0M1127 1282h0M935 1288h0M1159 1288h0M1308 1273h0M1096 1273h0M606 1276h0M995 1288h0M927 1284h0M1269 1289h0M979 1287h0M1087 1274h0M1117 1281h0M1354 1280h0M1006 1289h0M412 1273h0M468 1283h0M1156 1285h0M826 1291h0M962 1290h0M354 1285h0M821 1287h0M1080 1281h0M385 1279h0M586 1286h0M772 1276h0M291 1290h0M1162 1273h0M1319 1280h0M1111 1280h0M1154 1273h0M1041 1285h0M437 1285h0M1024 1280h0M769 1280h0M1288 1285h0M364 1274h0M1086 1276h0M1043 1284h0M963 1291h0M605 1279h0M1209 1274h0M523 1287h0M1076 1279h0M702 1286h0M818 1290h0M666 1284h0M1150 1275h0M457 1286h0M890 1288h0M1374 1278h0M705 1290h0M1053 1273h0M640 1289h0M199 1291h0M937 1283h0M1204 1287h0M573 1283h0M523 1273h0M243 1290h0M908 1283h0M671 1285h0M242 1288h0M1357 1282h0M1122 1284h0M479 1288h0M900 1283h0M808 1273h0M704 1291h0M954 1275h0M544 1276h0M1102 1285h0M240 1282h0M587 1289h0M1294 1289h0M559 1286h0M1049 1289h0M475 1277h0M1273 1289h0M1404 1283h0M1074 1288h0M1249 1275h0M220 1289h0M818 1290h0M522 1284h0M595 1281h0M540 1277h0M1081 1290h0M1057 1282h0M1100 1291h0M221 1290h0M787 1289h0M500 1282h0M171 1287h0M219 1288h0M843 1285h0M814 1282h0M965 1285h0M1264 1276h0M666 1283h0M1056 1290h0M1300 1275h0M1329 1284h0M758 1277h0M1231 1279h0M673 1279h0M455 1281h0M1295 1291h0M1077 1288h0M1160 1274h0M1078 1275h0M567 1277h0M670 1284h0M415 1287h0M1053 1279h0M1062 1279h0M1322 1286h0M1173 1288h0M212 1277h0M317 1282h0M1424 1291h0M1111 1286h0M1406 1289h0M1405 1275h0M661 1280h0M823 1280h0M1327 1290h0M506 1289h0M479 1280h0M198 1280h0M192 1274h0M676 1275h0M827 1273h0M1164 1281h0M650 1280h0M812 1286h0M1425 1289h0M953 1283h0M838 1291h0M661 1291h0M1348 1291h0M1130 1284h0M1217 1279h0M984 1291h0M261 1289h0M1281 1283h0M741 1281h0M243 1288h0M1090 1279h0M326 1277h0M773 1281h0M507 1287h0M843 1283h0M602 1281h0M704 1286h0M1340 1288h0M264 1283h0M1329 1280h0M1250 1277h0M1086 1290h0M256 1290h0M912 1275h0M1238 1276h0M737 1289h0M287 1288h0M742 1287h0M841 1288h0M1115 1290h0M1073 1289h0M486 1289h0M1165 1273h0M890 1286h0M853 1273h0M1201 1288h0M454 1288h0M1295 1276h0M379 1283h0M550 1285h0M661 1289h0M895 1286h0M1083 1275h0M446 1282h0M1013 1290h0M452 1285h0M463 1283h0M1202 1287h0M1057 1284h0M567 1284h0M850 1288h0M1276 1273h0M964 1284h0M1148 1286h0M929 1279h0M1032 1289h0M588 1287h0M178 1285h0M1222 1282h0M993 1288h0M896 1283h0M718 1288h0M542 1281h0M416 1277h0M1391 1286h0M414 1282h0M1228 1278h0M1224 1286h0M1370 1286h0M838 1278h0M1187 1289h0M995 1282h0M916 1291h0M727 1283h0M504 1277h0M584 1291h0M675 1287h0M494 1285h0M495 1273h0M680 1274h0M411 1276h0M884 1287h0M851 1287h0M1140 1273h0M314 1283h0M1248 1282h0M874 1276h0M948 1276h0M726 1291h0M724 1280h0M1200 1276h0M852 1289h0M561 1284h0M1164 1286h0M1102 1287h0M1104 1289h0M566 1288h0M779 1288h0M216 1288h0M710 1287h0M1184 1278h0M1194 1282h0M221 1284h0M718 1290h0M575 1285h0M1110 1288h0M1104 1275h0M450 1276h0M275 1281h0M361 1279h0M673 1285h0M790 1285h0M1328 1273h0M667 1287h0M1321 1273h0M359 1284h0M1321 1274h0M1115 1274h0M1050 1285h0M969 1273h0M1094 1286h0M220 1289h0M1388 1291h0M948 1278h0M579 1291h0M1065 1277h0M487 1291h0M560 1285h0M1253 1281h0M819 1274h0M398 1284h0M764 1277h0M326 1290h0M507 1290h0M947 1280h0M772 1291h0M1049 1283h0M357 1276h0M921 1279h0M515 1287h0M540 1273h0M798 1289h0M1294 1276h0M756 1289h0M1259 1287h0M775 1282h0M1109 1276h0M933 1275h0M976 1273h0M910 1280h0M853 1291h0M897 1286h0M887 1275h0M783 1280h0M1032 1277h0M1398 1288h0M782 1287h0M372 1290h0M356 1279h0M638 1277h0M615 1286h0M522 1282h0M437 1276h0M861 1283h0M160 1283h0M549 1284h0M723 1285h0M344 1290h0M381 1280h0M644 1291h0M488 1284h0M674 1273h0M1013 1287h0M530 1274h0M736 1288h0M208 1276h0M494 1279h0M1177 1290h0M1381 1291h0M394 1274h0M1151 1290h0M1386 1290h0M708 1287h0M901 1291h0M519 1288h0M1372 1288h0M339 1281h0M1399 1281h0M1038 1280h0M883 1279h0M261 1275h0M656 1285h0M475 1278h0M971 1279h0M1155 1285h0M988 1273h0M754 1288h0M1239 1288h0M1331 1290h0M569 1279h0M393 1286h0M942 1276h0M438 1287h0M1215 1279h0M1337 1288h0M1151 1288h0M852 1274h0M586 1290h0M876 1285h0M209 1285h0M917 1288h0M423 1278h0M968 1284h0M1136 1281h0M406 1289h0M917 1284h0M1337 1290h0M701 1281h0M650 1290h0M886 1279h0M926 1277h0M1119 1276h0M710 1290h0M1335 1279h0M1127 1273h0M591 1290h0M837 1287h0M497 1282h0M1155 1275h0M873 1279h0M853 1287h0M1137 1279h0M1131 1285h0M791 1284h0M1120 1285h0M637 1279h0M774 1287h0M174 1284h0M1392 1281h0M850 1279h0M937 1279h0M1164 1281h0M467 1288h0M1294 1285h0M497 1279h0M567 1286h0M699 1287h0M278 1283h0M889 1282h0M287 1282h0M574 1273h0M1202 1275h0M613 1287h0M1421 1276h0M506 1287h0M248 1288h0M306 1284h0M670 1288h0M1186 1285h0M1077 1284h0M1018 1275h0M914 1283h0M602 1282h0M831 1273h0M904 1277h0M1051 1288h0M1157 1276h0M1112 1284h0M910 1285h0M799 1287h0M1253 1284h0M242 1290h0M1321 1286h0M416 1275h0M226 1290h0M178 1285h0M1357 1281h0M1028 1283h0M182 1291h0M844 1285h0M899 1286h0M502 1275h0M711 1291h0M979 1279h0M245 1281h0M386 1281h0M1105 1288h0M235 1275h0M725 1274h0M1148 1286h0M1204 1275h0M376 1290h0M654 1290h0M951 1289h0M1247 1285h0M1203 1280h0M726 1288h0M1370 1288h0M590 1290h0M1383 1276h0M1083 1278h0M1304 1287h0M1272 1287h0M619 1285h0M213 1287h0M364 1273h0M439 1282h0M1245 1289h0M379 1289h0M898 1290h0M328 1278h0M1386 1284h0M839 1274h0" stroke="#B6B6B6" stroke-width="2.8" stroke-linecap="round" fill="none"/>
<path d="M951 1292h0M1382 1302h0M561 1300h0M610 1294h0M296 1292h0M1253 1303h0M1327 1306h0M220 1299h0M1090 1291h0M1417 1292h0M618 1294h0M1043 1296h0M777 1301h0M1198 1292h0M601 1297h0M766 1299h0M953 1304h0M643 1307h0M339 1308h0M1377 1293h0M296 1305h0M1382 1294h0M489 1302h0M687 1294h0M499 1291h0M979 1297h0M1202 1303h0M1317 1305h0M387 1303h0M227 1302h0M1216 1291h0M913 1297h0M757 1305h0M1353 1302h0M981 1297h0M278 1308h0M866 1303h0M1253 1293h0M309 1307h0M1136 1299h0M171 1307h0M897 1299h0M1034 1297h0M1299 1298h0M1304 1293h0M372 1295h0M1215 1298h0M915 1301h0M1096 1291h0M635 1302h0M250 1299h0M1046 1307h0M226 1298h0M1307 1304h0M1153 1298h0M630 1299h0M543 1305h0M832 1306h0M510 1297h0M492 1305h0M225 1308h0M700 1303h0M963 1307h0M757 1306h0M992 1298h0M1090 1299h0M462 1303h0M633 1296h0M190 1295h0M952 1306h0M1070 1305h0M739 1301h0M1254 1295h0M688 1303h0M1220 1306h0M233 1296h0M438 1307h0M567 1294h0M379 1305h0M937 1305h0M1242 1298h0M912 1298h0M779 1305h0M871 1303h0M450 1308h0M1139 1293h0M215 1303h0M943 1302h0M1337 1300h0M988 1293h0M835 1304h0M787 1303h0M874 1301h0M1271 1303h0M162 1291h0M736 1303h0M462 1292h0M825 1302h0M389 1308h0M1305 1293h0M1407 1306h0M498 1303h0M408 1296h0M941 1299h0M302 1302h0M1343 1307h0M758 1303h0M632 1308h0M315 1300h0M1112 1307h0M1197 1295h0M433 1301h0M927 1303h0M344 1303h0M467 1295h0M935 1295h0M899 1293h0M892 1308h0M503 1305h0M748 1293h0M294 1295h0M1342 1305h0M627 1300h0M1372 1301h0M693 1293h0M843 1302h0M468 1306h0M963 1302h0M253 1302h0M391 1307h0M496 1305h0M928 1307h0M698 1296h0M352 1301h0M1083 1304h0M805 1296h0M715 1306h0M446 1307h0M437 1306h0M739 1305h0M1154 1299h0M366 1294h0M1155 1308h0M251 1301h0M1029 1301h0M352 1304h0M1108 1307h0M1006 1292h0M319 1295h0M562 1307h0M1109 1298h0M1217 1297h0M1231 1307h0M643 1295h0M803 1299h0M296 1308h0M1298 1297h0M328 1296h0M854 1300h0M1109 1298h0M1216 1291h0M1235 1305h0M1173 1308h0M1302 1307h0M167 1302h0M1112 1300h0M1096 1306h0M1366 1302h0M1401 1292h0M604 1304h0M1109 1307h0M489 1305h0M294 1301h0M306 1302h0M884 1305h0M1168 1294h0M1232 1304h0M806 1302h0M271 1306h0M370 1306h0M1265 1305h0M471 1294h0M973 1306h0M814 1307h0M889 1301h0M166 1305h0M361 1297h0M809 1303h0M1258 1293h0M990 1308h0M510 1307h0M415 1297h0M367 1294h0M1114 1307h0M722 1298h0M1359 1307h0M841 1294h0M1294 1304h0M306 1306h0M296 1295h0M356 1300h0M809 1299h0M293 1299h0M371 1304h0M1251 1306h0M263 1293h0M936 1300h0M1165 1301h0M285 1302h0M935 1304h0M1267 1307h0M187 1305h0M206 1295h0M917 1306h0M439 1298h0M1315 1306h0M262 1292h0M773 1308h0M264 1299h0M627 1298h0M812 1303h0M1135 1301h0M934 1305h0M597 1307h0M298 1296h0M573 1301h0M591 1293h0M1139 1307h0M1116 1295h0M1024 1307h0M1418 1301h0M1168 1299h0M617 1297h0M1296 1304h0M1082 1308h0M1184 1297h0M1072 1304h0M630 1308h0M1099 1297h0M371 1302h0M931 1305h0M423 1296h0M802 1307h0M769 1300h0M939 1308h0M961 1305h0M656 1298h0M815 1304h0M188 1293h0M1050 1297h0M213 1295h0M168 1306h0M355 1305h0M1220 1303h0M1385 1297h0M481 1291h0M517 1307h0M967 1298h0M434 1297h0M1326 1297h0M671 1295h0M1164 1292h0M473 1299h0M473 1299h0M829 1299h0M1060 1295h0M1065 1308h0M559 1303h0M966 1308h0M216 1292h0M1390 1299h0M420 1305h0M617 1296h0M1362 1305h0M659 1303h0M1020 1298h0M515 1295h0M408 1300h0M451 1293h0M1348 1302h0M241 1298h0M632 1301h0M712 1306h0M756 1296h0M720 1307h0M314 1293h0M1268 1302h0M853 1304h0M1171 1303h0M349 1303h0M542 1307h0M377 1295h0M214 1302h0M1154 1307h0M807 1306h0M210 1308h0M1416 1304h0M996 1302h0M656 1307h0M598 1295h0M1411 1306h0M519 1306h0M557 1304h0M532 1298h0M892 1292h0M1263 1297h0M1148 1308h0M1136 1296h0M180 1298h0M401 1306h0M378 1304h0M774 1294h0M221 1297h0M936 1297h0M255 1295h0M1157 1297h0M574 1306h0M423 1302h0M218 1292h0M384 1293h0M1143 1304h0M1334 1302h0M736 1305h0M391 1307h0M1300 1295h0M1035 1300h0M1367 1303h0M315 1304h0M999 1297h0M1065 1305h0M190 1299h0M772 1305h0M1062 1304h0M754 1304h0M989 1293h0M732 1306h0M1150 1303h0M295 1299h0M942 1293h0M378 1299h0M764 1305h0M847 1295h0M784 1308h0M1347 1302h0M526 1302h0M860 1307h0M609 1305h0M867 1308h0M297 1293h0M481 1308h0M357 1305h0M409 1308h0M718 1303h0M219 1306h0M951 1305h0M771 1304h0M1003 1298h0M1379 1305h0M508 1295h0M1179 1297h0M423 1306h0M949 1292h0M760 1300h0M370 1297h0M473 1297h0M583 1303h0M858 1307h0M1062 1307h0M745 1295h0M414 1303h0M1267 1300h0M1253 1308h0M1248 1296h0M188 1302h0M969 1305h0M355 1304h0M1312 1307h0M1330 1303h0M1222 1307h0M1264 1305h0M1370 1300h0M1014 1305h0M186 1308h0M1163 1296h0M1337 1305h0M510 1306h0M692 1306h0M1135 1299h0M341 1304h0M920 1299h0M1097 1297h0M686 1294h0M420 1304h0M1196 1306h0M591 1307h0M687 1306h0M864 1306h0M1038 1300h0M1014 1307h0M836 1307h0M291 1308h0M1398 1300h0M290 1307h0M588 1292h0M1136 1294h0M1421 1294h0M1044 1305h0M412 1292h0M988 1308h0M895 1295h0M513 1306h0M1258 1304h0M808 1308h0M224 1299h0M1035 1306h0M1026 1307h0M1368 1306h0M777 1296h0M1073 1304h0M434 1303h0M1073 1294h0M1036 1308h0M782 1301h0M1079 1292h0M1145 1302h0M406 1300h0M879 1292h0M1135 1304h0M725 1299h0M1351 1301h0M1173 1306h0M457 1306h0M670 1295h0M1329 1297h0M1376 1294h0M965 1307h0M694 1302h0M453 1306h0M584 1307h0M1378 1298h0M276 1307h0M715 1292h0M1425 1296h0M539 1308h0M770 1304h0M516 1307h0M779 1299h0M489 1297h0M1243 1302h0M1332 1292h0M597 1303h0M616 1298h0M979 1300h0M884 1298h0M1317 1303h0M208 1308h0M394 1307h0M1019 1305h0M1197 1297h0M162 1307h0M1148 1307h0M1175 1306h0M1041 1307h0M587 1303h0M1179 1301h0M785 1297h0M1396 1308h0M1057 1294h0M1238 1308h0M200 1302h0M631 1301h0M1361 1304h0M559 1306h0M749 1303h0M899 1304h0M1072 1302h0M1122 1295h0M881 1304h0M731 1305h0M494 1300h0M581 1307h0M418 1292h0M1057 1302h0M1166 1292h0M720 1304h0M685 1300h0M1222 1308h0M1398 1304h0M776 1295h0M647 1300h0M1327 1299h0M538 1306h0M1111 1304h0M362 1304h0M1225 1304h0M255 1293h0M1382 1305h0M204 1308h0M1043 1292h0M602 1306h0M716 1300h0M1198 1297h0M939 1307h0M474 1304h0M1174 1302h0M700 1303h0M449 1301h0M664 1304h0M207 1298h0M838 1307h0M555 1295h0M1219 1306h0M472 1299h0M224 1299h0M1224 1299h0M420 1296h0M1319 1300h0M1225 1300h0M652 1308h0M937 1307h0M540 1304h0M1326 1301h0M909 1308h0M737 1303h0M1159 1306h0M395 1299h0M246 1304h0M884 1304h0M1419 1303h0M657 1307h0M1253 1300h0M721 1301h0M1244 1300h0M977 1307h0M907 1308h0M1406 1294h0M805 1297h0M1412 1292h0M815 1294h0M897 1308h0M1011 1299h0M1180 1307h0M455 1299h0M458 1295h0M571 1297h0M1420 1303h0M914 1305h0M970 1306h0M1068 1293h0M364 1294h0M1252 1308h0M254 1306h0M714 1298h0M1336 1297h0M860 1307h0M781 1307h0M1354 1293h0M1132 1308h0M258 1304h0M1365 1299h0M703 1301h0M786 1294h0M1202 1295h0M664 1307h0M306 1308h0M868 1294h0M785 1307h0M1248 1298h0M1431 1306h0M1139 1305h0M699 1292h0M430 1308h0M1314 1303h0M1242 1294h0M1219 1308h0M1028 1296h0M1096 1295h0M396 1294h0M866 1306h0M724 1296h0M1424 1302h0M201 1307h0M457 1306h0M1327 1303h0M212 1292h0M717 1304h0M284 1304h0M963 1298h0M407 1300h0M1263 1295h0M175 1298h0M1278 1308h0M243 1303h0M1007 1294h0M1358 1297h0M262 1303h0M217 1292h0M907 1308h0M525 1305h0M549 1293h0M544 1298h0M1063 1302h0M629 1296h0M353 1297h0M1161 1302h0M337 1300h0M1061 1300h0M475 1291h0M214 1307h0M313 1295h0M896 1307h0M1142 1308h0M1067 1292h0M1070 1301h0M900 1307h0M1264 1292h0M1293 1304h0M365 1307h0M937 1301h0M1211 1302h0M1125 1298h0M926 1299h0M1346 1304h0M1094 1300h0M536 1303h0M612 1297h0M305 1305h0M309 1308h0M245 1304h0M723 1307h0M1391 1308h0M382 1306h0M1238 1307h0M185 1300h0M727 1302h0M971 1304h0M759 1300h0M1350 1293h0M928 1304h0M981 1305h0M370 1304h0M943 1297h0M322 1303h0M250 1299h0M904 1308h0M1156 1301h0M406 1297h0M502 1293h0M243 1295h0M1301 1308h0M593 1304h0M851 1295h0M1334 1298h0M1276 1303h0M360 1308h0M1398 1293h0M424 1292h0M838 1295h0M504 1307h0M793 1296h0M441 1300h0M258 1304h0M906 1296h0M528 1302h0M228 1292h0M781 1296h0M1399 1294h0M281 1303h0M852 1306h0M621 1296h0M695 1301h0M669 1304h0M626 1305h0M1043 1297h0M681 1308h0M630 1293h0M912 1300h0M709 1299h0M1034 1292h0M506 1304h0M499 1297h0M315 1306h0M1239 1293h0M682 1303h0M248 1296h0M187 1301h0M1233 1306h0M1294 1299h0M1272 1306h0M382 1308h0M921 1298h0M705 1300h0M1349 1306h0M1402 1301h0M408 1308h0M711 1304h0M262 1300h0M1338 1302h0M1161 1297h0M765 1299h0M197 1299h0M930 1299h0M448 1299h0M476 1302h0M843 1302h0M889 1302h0M1245 1303h0M508 1303h0M1349 1308h0M251 1307h0M897 1300h0M773 1300h0M345 1299h0M1273 1305h0M163 1308h0M974 1300h0M940 1308h0M1212 1296h0M165 1304h0M422 1299h0M389 1305h0M960 1307h0M886 1306h0M429 1306h0M1086 1308h0M783 1307h0M944 1307h0M1285 1298h0M886 1293h0M324 1297h0M748 1308h0M1033 1305h0M224 1293h0M259 1308h0M560 1308h0M342 1301h0M1361 1305h0M1064 1294h0M1428 1305h0M1014 1306h0M976 1302h0M1138 1297h0M1300 1302h0M1149 1305h0M659 1306h0M829 1300h0M1326 1304h0M181 1295h0M484 1305h0M1057 1300h0M887 1301h0M328 1306h0M1126 1306h0M604 1298h0M1266 1301h0M889 1306h0M1419 1299h0M1018 1302h0M1208 1304h0M598 1306h0M952 1301h0M638 1306h0M773 1299h0M778 1303h0M655 1299h0M1124 1308h0M392 1304h0M827 1297h0M1108 1302h0M1215 1302h0M505 1301h0M783 1305h0M1274 1307h0M388 1302h0M1368 1308h0M690 1307h0M534 1307h0M444 1304h0M1384 1307h0M818 1292h0M507 1293h0M252 1296h0M1161 1305h0M773 1292h0M506 1306h0M748 1294h0M628 1291h0M294 1297h0M1254 1299h0M356 1307h0M363 1303h0M248 1306h0M894 1296h0M1268 1293h0M1129 1299h0M442 1304h0M1167 1303h0M546 1303h0M1085 1305h0M1164 1301h0M446 1296h0M310 1301h0M171 1298h0M565 1302h0M1045 1303h0M1285 1293h0M1070 1298h0M322 1304h0M448 1296h0M283 1302h0M1103 1305h0M910 1300h0M655 1294h0M1182 1299h0M1208 1302h0M1208 1292h0M310 1297h0M797 1301h0M1428 1297h0M1073 1300h0M1119 1308h0M578 1305h0M415 1297h0M160 1304h0M578 1292h0M608 1304h0M999 1304h0M878 1295h0M1196 1296h0M716 1307h0M221 1302h0M202 1307h0M200 1303h0M394 1293h0M899 1306h0M965 1298h0M1242 1303h0M173 1307h0M365 1296h0M508 1307h0M255 1301h0M172 1299h0M883 1307h0M1239 1301h0M944 1302h0M1309 1300h0M616 1294h0M981 1300h0M755 1300h0M1280 1299h0M771 1304h0M900 1292h0M1397 1294h0M1202 1307h0M1132 1294h0M794 1301h0M665 1293h0M1155 1298h0M656 1299h0M829 1306h0M936 1291h0M1163 1296h0M795 1298h0M175 1301h0M1316 1305h0M1090 1295h0M635 1305h0M1115 1305h0M547 1294h0M444 1301h0M222 1291h0M254 1295h0M1396 1305h0M1381 1305h0M558 1295h0M690 1302h0M1306 1296h0M1150 1307h0M1134 1297h0M299 1303h0M418 1307h0M539 1306h0M377 1294h0M403 1297h0M622 1300h0M1122 1295h0M804 1293h0M404 1299h0M223 1307h0M641 1307h0M1365 1303h0M1217 1301h0M812 1293h0M1075 1295h0M678 1294h0M1019 1298h0M1092 1296h0M991 1308h0M823 1305h0M498 1307h0M648 1300h0M1059 1301h0M1256 1296h0M994 1302h0M970 1304h0M457 1297h0M714 1299h0M1114 1302h0M1427 1303h0M544 1308h0M946 1299h0M1020 1308h0M628 1301h0M1048 1308h0M1340 1297h0M213 1304h0M734 1297h0M190 1306h0M1039 1301h0M1005 1306h0M1208 1301h0M581 1295h0M817 1299h0M949 1307h0M568 1292h0M1138 1308h0M851 1305h0M679 1303h0M261 1306h0M1419 1305h0M1363 1301h0M1201 1308h0M302 1294h0M1352 1292h0M853 1301h0M1399 1301h0M705 1306h0M650 1307h0M306 1299h0M1263 1304h0M552 1294h0M1321 1305h0M914 1307h0M1236 1302h0M1429 1299h0M1214 1299h0M371 1295h0M1358 1303h0M486 1307h0M394 1297h0M539 1303h0M804 1298h0M609 1295h0M863 1300h0M1164 1303h0M470 1293h0M648 1298h0M1084 1303h0M424 1303h0M1031 1306h0M648 1308h0M480 1300h0M545 1306h0M915 1305h0M1054 1302h0M388 1294h0M1234 1302h0M167 1304h0M1017 1307h0M586 1305h0M938 1299h0M378 1300h0M1099 1306h0M1113 1307h0M1240 1305h0M1088 1305h0M197 1293h0M1016 1299h0M227 1296h0M505 1299h0M778 1303h0M605 1305h0M1304 1307h0M856 1298h0M1421 1304h0M1111 1298h0M1037 1291h0M1054 1303h0M1061 1303h0M264 1300h0M909 1299h0M1093 1295h0M1201 1308h0M1333 1308h0M257 1308h0M502 1302h0M1340 1302h0M547 1301h0M528 1300h0M1025 1296h0M173 1306h0M252 1308h0M166 1303h0M378 1292h0M1158 1296h0M1014 1303h0M1270 1297h0M229 1307h0M1205 1297h0M370 1292h0M1172 1304h0M1200 1308h0M1120 1307h0M1073 1299h0M1012 1300h0M1375 1294h0M556 1297h0M967 1308h0M748 1303h0M666 1303h0M1098 1298h0M779 1302h0M836 1293h0M514 1298h0M689 1301h0M933 1298h0M1217 1292h0M1047 1294h0M193 1308h0M273 1307h0M334 1298h0M716 1303h0M584 1297h0M365 1303h0M652 1304h0M1150 1294h0M485 1307h0M809 1303h0M1158 1304h0M409 1298h0M578 1304h0M869 1292h0M1063 1295h0M427 1308h0M1134 1293h0M1201 1307h0M283 1305h0M305 1301h0M597 1304h0M866 1303h0M800 1295h0M539 1303h0M382 1307h0M1186 1294h0M1206 1303h0M184 1297h0M751 1307h0M1016 1294h0M1393 1300h0M806 1295h0M1062 1295h0M684 1307h0M1331 1301h0M596 1306h0M645 1299h0M528 1306h0M263 1292h0M1377 1294h0M694 1303h0M1298 1301h0M951 1304h0M1379 1291h0M828 1304h0M1066 1298h0M896 1292h0M957 1306h0M704 1297h0M243 1306h0M174 1304h0M1237 1305h0M1149 1306h0M497 1303h0M1199 1304h0M1321 1296h0M521 1298h0M730 1294h0M462 1307h0M631 1300h0M1065 1298h0M1253 1298h0M1055 1302h0M406 1304h0M1275 1304h0M1381 1305h0M506 1292h0M488 1303h0M1393 1307h0M1412 1308h0M1225 1306h0M1249 1303h0M1049 1303h0M1208 1302h0M947 1304h0M1030 1296h0M549 1307h0M838 1303h0M452 1294h0M823 1307h0M1425 1307h0M623 1293h0M1234 1299h0M232 1304h0M393 1307h0M604 1293h0M372 1308h0M949 1305h0M535 1306h0M1297 1304h0M968 1308h0M1206 1298h0M736 1304h0M501 1306h0M1356 1305h0M171 1301h0M578 1299h0M499 1300h0M668 1302h0M1418 1293h0M441 1299h0M1137 1307h0M758 1304h0M1414 1292h0M441 1298h0M1327 1299h0M191 1293h0M1238 1294h0M397 1305h0M647 1308h0M582 1307h0M422 1293h0M344 1302h0M877 1306h0M178 1292h0M373 1302h0M724 1308h0M1138 1306h0M1142 1291h0M464 1298h0M630 1299h0M166 1295h0M790 1298h0M1256 1308h0M236 1307h0M322 1304h0M1124 1294h0M1332 1306h0M1385 1306h0M1248 1295h0M1006 1299h0M1292 1300h0M1086 1295h0M928 1305h0M627 1293h0M1239 1295h0M453 1308h0M832 1302h0M472 1304h0M930 1292h0M1338 1298h0M1330 1307h0M1127 1307h0M1219 1295h0M586 1297h0M337 1300h0M446 1300h0M1263 1294h0M492 1301h0M319 1306h0M347 1301h0M1290 1305h0M480 1304h0M253 1304h0M328 1297h0M606 1304h0M747 1307h0M930 1295h0M382 1308h0M1046 1301h0M686 1308h0M1337 1304h0M554 1306h0M427 1294h0M1126 1296h0M709 1299h0M659 1296h0M524 1304h0M1171 1301h0M1024 1297h0M412 1308h0M942 1308h0M227 1307h0M478 1300h0M1287 1307h0M1342 1306h0M488 1304h0M307 1292h0M402 1308h0M698 1306h0M503 1303h0M571 1306h0M554 1300h0M171 1301h0M1368 1305h0M318 1300h0M211 1307h0M250 1302h0M1052 1304h0M462 1303h0M982 1302h0M950 1301h0M841 1299h0M560 1306h0M556 1308h0M1286 1295h0M738 1300h0M195 1307h0M1296 1303h0M1113 1305h0M530 1302h0M747 1305h0M643 1293h0M1155 1308h0M1150 1295h0M305 1300h0M202 1307h0M1293 1308h0M1097 1298h0M230 1296h0M258 1298h0M714 1297h0M712 1304h0M496 1301h0M484 1296h0M773 1304h0M1388 1296h0M882 1296h0M164 1307h0M875 1301h0M723 1308h0M927 1296h0M872 1306h0M1195 1301h0M279 1294h0M1366 1293h0M228 1297h0M566 1303h0M1400 1308h0M951 1305h0M466 1303h0M508 1307h0M826 1295h0M1057 1304h0M827 1297h0M466 1304h0M1090 1302h0M1158 1297h0M208 1306h0M1420 1299h0M606 1302h0M729 1294h0M1129 1307h0M864 1297h0M248 1303h0M1315 1297h0M249 1301h0M1380 1305h0M1332 1297h0M1090 1302h0M176 1307h0M1314 1304h0M1348 1303h0M1051 1300h0M331 1301h0M1183 1302h0M1073 1301h0M702 1293h0M160 1301h0M224 1302h0M1162 1305h0M1281 1307h0M380 1295h0M296 1308h0M681 1298h0M1428 1302h0M561 1301h0M839 1307h0M1426 1302h0M229 1304h0M563 1295h0M1105 1303h0M1028 1308h0M1103 1293h0M869 1302h0M647 1301h0M1421 1299h0M637 1303h0M314 1308h0M518 1303h0M769 1299h0M597 1300h0M1275 1303h0M1136 1304h0M425 1308h0M958 1293h0M546 1305h0M379 1301h0M859 1301h0M830 1307h0M1142 1304h0M1152 1301h0M677 1303h0M516 1296h0M664 1306h0M267 1293h0M1028 1302h0M440 1302h0M550 1300h0M735 1303h0M280 1298h0M790 1294h0M1306 1302h0M341 1303h0M927 1303h0M346 1296h0M446 1300h0M276 1305h0M1048 1300h0M789 1293h0M1145 1305h0M872 1303h0M639 1307h0M436 1307h0M549 1295h0M1015 1295h0M566 1300h0M1285 1303h0M1088 1302h0M979 1293h0M363 1292h0M389 1295h0M284 1306h0M341 1302h0M1386 1307h0M819 1294h0M994 1304h0M975 1302h0M216 1291h0M594 1304h0M753 1305h0M1150 1300h0M1181 1297h0M658 1298h0M1292 1303h0M1170 1294h0M262 1296h0M336 1300h0M905 1302h0M188 1292h0M1238 1303h0M683 1295h0M700 1300h0M765 1307h0M1418 1297h0M1147 1308h0M1326 1294h0M497 1304h0M954 1307h0M1217 1305h0M487 1305h0M523 1304h0M1079 1308h0M338 1295h0M287 1293h0M560 1305h0M807 1303h0M1105 1303h0M639 1298h0M208 1298h0M726 1296h0M349 1298h0M1400 1302h0M1117 1306h0M1308 1295h0M909 1304h0M1271 1308h0M469 1301h0M1134 1305h0M505 1307h0M576 1299h0M368 1294h0M1242 1302h0M615 1297h0M580 1302h0M1411 1296h0M640 1305h0M1043 1301h0M218 1298h0M683 1303h0M580 1298h0M537 1301h0M289 1300h0M893 1296h0M357 1307h0M304 1298h0M1038 1305h0M797 1298h0M639 1303h0M1010 1305h0M660 1294h0M1197 1302h0M1206 1305h0M686 1298h0M1048 1307h0M255 1293h0M1247 1304h0M694 1292h0M724 1307h0M835 1294h0M787 1299h0M1198 1300h0M392 1302h0M520 1307h0M679 1302h0M564 1305h0M1318 1296h0M567 1308h0M964 1301h0M695 1302h0M495 1300h0M512 1295h0M985 1296h0M433 1295h0M279 1305h0M894 1304h0M831 1295h0M571 1293h0M889 1302h0M478 1301h0M1156 1305h0M397 1302h0M501 1301h0M1343 1302h0M983 1295h0M712 1304h0M277 1292h0M1085 1307h0M680 1303h0M1058 1306h0M1388 1296h0M1153 1301h0M902 1293h0M1345 1307h0M337 1304h0M385 1303h0M294 1306h0M821 1303h0M893 1307h0M1026 1306h0M1358 1300h0M1413 1305h0M344 1299h0M705 1294h0M479 1303h0M198 1292h0M1143 1292h0M423 1299h0M703 1299h0M1389 1302h0M1262 1299h0M667 1307h0M1198 1293h0M449 1303h0M1087 1304h0M402 1296h0M1299 1307h0M1074 1307h0M1062 1301h0M454 1307h0M1359 1292h0M1244 1298h0M250 1308h0M563 1304h0M177 1306h0M760 1305h0M1091 1307h0M214 1306h0M533 1308h0M1154 1305h0M973 1308h0M1123 1300h0M1105 1304h0M430 1301h0M1239 1295h0M487 1294h0M692 1292h0M314 1306h0M666 1294h0M1201 1303h0M1423 1303h0M979 1300h0M1043 1298h0M1003 1298h0M1211 1306h0M1151 1298h0M503 1305h0M320 1305h0M1335 1305h0M510 1296h0M911 1298h0M610 1308h0M1245 1304h0M1025 1300h0M517 1305h0M563 1307h0M794 1300h0M1130 1308h0M714 1294h0M411 1295h0M1164 1305h0M1291 1308h0M1314 1299h0M782 1301h0M766 1302h0M901 1300h0M1196 1307h0M960 1308h0M1418 1303h0M441 1294h0M1248 1302h0M430 1307h0M620 1299h0M1311 1305h0M821 1296h0M274 1305h0M182 1307h0M519 1294h0M358 1293h0M1259 1308h0M243 1301h0M1108 1294h0M233 1301h0M1368 1301h0M194 1296h0M786 1292h0M1387 1304h0M608 1294h0M760 1304h0M402 1305h0M768 1304h0M1032 1292h0M1245 1295h0M949 1305h0M616 1299h0M245 1298h0M1296 1296h0M549 1301h0M1231 1305h0M1171 1298h0M1076 1306h0M1418 1304h0M996 1303h0M655 1300h0M1270 1305h0M566 1303h0M1243 1301h0M1222 1294h0M649 1303h0M1292 1298h0M976 1307h0M917 1303h0M172 1292h0M1194 1304h0M725 1302h0M1261 1305h0M611 1301h0M922 1307h0M1105 1303h0M314 1304h0M378 1305h0M433 1299h0M970 1305h0M754 1295h0M218 1306h0M437 1294h0M972 1292h0M817 1300h0M1299 1306h0M188 1305h0M1148 1308h0M1374 1297h0M550 1303h0M1385 1298h0M452 1293h0M435 1298h0M1114 1305h0M1394 1299h0M1428 1304h0M190 1305h0M1097 1307h0M919 1293h0M1287 1306h0M1247 1303h0M667 1303h0M670 1305h0M810 1304h0M832 1306h0M564 1294h0M704 1308h0M1277 1307h0M1233 1304h0M575 1302h0M828 1295h0M780 1296h0M1388 1300h0M371 1308h0M578 1305h0M709 1296h0M1317 1304h0M334 1293h0M290 1306h0M371 1293h0M1255 1304h0M159 1308h0M551 1303h0M1292 1303h0M1297 1293h0M374 1304h0M1008 1298h0M1018 1301h0M262 1308h0M873 1305h0M656 1292h0M1213 1308h0M727 1297h0M381 1300h0M324 1295h0M1026 1297h0M462 1292h0M486 1307h0M1093 1301h0M280 1299h0M723 1295h0M879 1305h0M856 1304h0M1220 1295h0M771 1308h0M889 1306h0M259 1295h0M941 1294h0M1015 1308h0M1316 1306h0M1188 1302h0M366 1296h0M1077 1295h0M1207 1294h0M663 1308h0M1097 1308h0M363 1298h0M911 1308h0M894 1296h0M437 1307h0M1269 1298h0M927 1307h0M915 1291h0M197 1303h0M451 1307h0M539 1298h0M940 1306h0M643 1296h0M971 1296h0M565 1298h0M487 1294h0M894 1299h0M904 1307h0M165 1304h0M748 1297h0M413 1304h0M1121 1301h0M1224 1297h0M1074 1294h0M535 1301h0M236 1304h0M426 1307h0M837 1298h0M710 1298h0M326 1304h0M1392 1299h0M550 1303h0M984 1300h0M617 1301h0M1244 1299h0M939 1297h0M693 1306h0M1138 1298h0M1229 1306h0M612 1303h0M709 1305h0M357 1306h0M179 1302h0M714 1295h0M1121 1306h0M1363 1300h0M1429 1305h0M918 1294h0M1138 1296h0M1419 1292h0M622 1300h0M695 1296h0M257 1300h0M159 1299h0M1178 1307h0M230 1297h0M1214 1305h0M361 1307h0M709 1301h0M173 1299h0M1169 1302h0M1372 1306h0M1085 1305h0M1367 1293h0M656 1308h0M1280 1301h0M751 1299h0M444 1296h0M1388 1302h0M625 1302h0M626 1303h0M923 1304h0M1220 1292h0M1289 1305h0M913 1295h0M1157 1301h0M884 1302h0M868 1300h0M1284 1302h0M349 1304h0M426 1307h0M1174 1294h0M457 1303h0M251 1304h0M492 1306h0M1136 1292h0M1169 1299h0M1045 1292h0M884 1307h0M812 1308h0M1288 1301h0M939 1303h0M806 1306h0M846 1303h0M761 1305h0M385 1305h0M669 1307h0M777 1299h0M1164 1303h0M344 1307h0M1289 1296h0M901 1302h0M1225 1297h0M639 1307h0M221 1308h0M848 1298h0M391 1305h0M1280 1301h0M869 1299h0M278 1299h0M1312 1299h0M613 1307h0M400 1298h0M886 1302h0M180 1302h0M1060 1305h0M1120 1305h0M971 1299h0M656 1307h0M170 1302h0M495 1301h0M449 1293h0M340 1299h0M558 1307h0M238 1308h0M184 1296h0M168 1307h0M1417 1301h0M815 1293h0M928 1307h0M556 1308h0M481 1294h0M484 1304h0M1173 1307h0M618 1308h0M905 1295h0M1320 1300h0M1210 1301h0M960 1308h0M1276 1308h0M299 1302h0M1265 1302h0M776 1301h0M388 1301h0M425 1294h0M1311 1308h0M716 1305h0M997 1292h0M901 1299h0M841 1302h0M919 1304h0M574 1308h0M1092 1304h0M1104 1307h0M807 1305h0M600 1305h0M1040 1304h0M307 1301h0M987 1298h0M818 1301h0M1407 1307h0M1066 1300h0M882 1302h0M1110 1308h0M1373 1303h0M742 1301h0M1063 1302h0M1283 1306h0M166 1306h0M191 1296h0M1130 1295h0M959 1292h0M890 1292h0M721 1304h0M1164 1298h0M379 1303h0M658 1306h0M519 1298h0M196 1294h0M982 1297h0M325 1303h0M1235 1292h0M910 1307h0M702 1305h0M399 1307h0M476 1295h0M648 1298h0M354 1308h0M1212 1308h0M746 1292h0M491 1298h0M656 1308h0M364 1292h0M1174 1301h0M804 1303h0M1321 1299h0M622 1294h0M1107 1296h0M1331 1304h0M1117 1295h0M488 1308h0M870 1307h0M172 1307h0M1054 1301h0M1416 1302h0M1055 1307h0M987 1299h0M821 1308h0M954 1300h0M736 1292h0M264 1307h0M645 1304h0M713 1298h0M1173 1308h0M1061 1307h0M186 1301h0M777 1301h0M798 1292h0M1137 1305h0M1357 1307h0M880 1295h0M1209 1293h0M1207 1306h0M426 1308h0M263 1299h0M758 1299h0M1241 1299h0M957 1305h0M356 1301h0M1052 1306h0M1396 1307h0M997 1292h0M635 1295h0M676 1307h0M1036 1298h0M1352 1293h0M1220 1303h0M1427 1303h0M948 1300h0M506 1295h0M735 1308h0M1219 1308h0M1302 1291h0M971 1308h0M1295 1303h0M715 1301h0M409 1294h0M1148 1291h0M1063 1308h0M1422 1308h0M380 1307h0M757 1297h0M427 1298h0M690 1299h0M1108 1293h0M1336 1303h0M369 1306h0M1273 1302h0M976 1305h0M421 1306h0M1323 1301h0M662 1303h0M427 1295h0M411 1308h0M741 1300h0M827 1307h0M822 1297h0M297 1304h0M1254 1305h0M1279 1297h0M1036 1300h0M193 1292h0M1105 1302h0M1295 1299h0M208 1298h0M688 1308h0M159 1302h0M1198 1296h0M304 1307h0M944 1308h0M1153 1306h0M893 1306h0M854 1304h0M257 1307h0M649 1294h0M1005 1300h0M482 1301h0M1098 1307h0M1099 1298h0M631 1308h0M494 1300h0M1398 1306h0M759 1305h0M1268 1300h0M190 1295h0M417 1297h0M1061 1307h0M757 1300h0M1087 1303h0M1217 1305h0M1303 1307h0M960 1300h0M922 1296h0M1309 1305h0M427 1307h0M334 1305h0M1183 1295h0M162 1308h0M523 1294h0M1234 1304h0M1279 1302h0M1424 1300h0M735 1308h0M498 1305h0M1117 1303h0M679 1304h0M607 1306h0M328 1296h0M740 1305h0M1038 1296h0M805 1291h0M1288 1305h0M788 1299h0M223 1296h0M353 1300h0M361 1306h0M1297 1301h0M1184 1302h0M1238 1307h0M244 1306h0M755 1300h0M236 1307h0M518 1302h0M1286 1308h0M1175 1298h0M1236 1299h0M950 1298h0M698 1293h0M633 1297h0M920 1295h0M250 1304h0M1372 1308h0M893 1302h0M1028 1304h0M595 1308h0M1125 1302h0M819 1308h0M726 1303h0M317 1301h0M1162 1299h0M1421 1308h0M455 1307h0M1230 1306h0M504 1306h0M284 1305h0M568 1302h0M487 1308h0M787 1293h0M225 1303h0M1186 1292h0M244 1292h0M1231 1301h0M561 1307h0M353 1305h0M702 1307h0M1410 1300h0M1038 1308h0M468 1306h0M208 1305h0M848 1308h0M981 1303h0M1098 1301h0M1396 1306h0M244 1302h0M1208 1298h0M851 1299h0M788 1305h0M1024 1299h0M417 1298h0M946 1307h0M989 1297h0M459 1302h0M731 1295h0M666 1308h0M948 1305h0M639 1294h0M280 1295h0M490 1298h0M1158 1304h0M168 1302h0M541 1305h0M1287 1302h0M1058 1304h0M1419 1304h0M1389 1303h0M632 1304h0M693 1300h0M897 1299h0M259 1293h0M593 1303h0M661 1307h0M851 1294h0M744 1302h0M241 1295h0M327 1297h0M924 1292h0M1085 1296h0M998 1299h0M169 1308h0M1098 1297h0M866 1306h0M311 1302h0M601 1299h0M1073 1296h0M1413 1299h0M1223 1304h0M399 1296h0M779 1301h0M709 1293h0M952 1305h0M630 1299h0M595 1307h0M751 1298h0M572 1308h0M456 1298h0M1094 1304h0M592 1299h0M1303 1303h0M1183 1299h0M664 1293h0M1319 1308h0M919 1297h0M1395 1298h0M1014 1298h0M670 1307h0M1283 1305h0M816 1308h0M1421 1298h0M1023 1301h0M794 1308h0M1313 1307h0M313 1294h0M360 1306h0M779 1305h0M543 1306h0M159 1305h0M880 1305h0M1378 1305h0" stroke="#AEAEAE" stroke-width="2.4" stroke-linecap="round" fill="none"/>
<path d="M985 1321h0M756 1319h0M889 1323h0M362 1322h0M945 1325h0M1268 1323h0M1409 1318h0M1389 1318h0M618 1324h0M241 1318h0M163 1317h0M553 1312h0M231 1325h0M1113 1325h0M1161 1319h0M170 1324h0M1374 1315h0M1342 1311h0M275 1318h0M852 1322h0M384 1324h0M1036 1319h0M675 1318h0M1210 1314h0M229 1324h0M787 1322h0M1162 1321h0M348 1318h0M1401 1311h0M1087 1318h0M673 1322h0M794 1325h0M621 1318h0M898 1319h0M478 1312h0M1213 1311h0M1376 1310h0M1088 1314h0M898 1314h0M1076 1324h0M720 1320h0M1032 1324h0M759 1325h0M328 1324h0M405 1321h0M461 1325h0M675 1321h0M305 1316h0M204 1323h0M853 1319h0M1378 1314h0M1193 1316h0M605 1325h0M637 1323h0M530 1309h0M785 1320h0M314 1313h0M175 1319h0M1349 1319h0M532 1312h0M309 1318h0M838 1323h0M833 1316h0M1107 1325h0M1289 1325h0M1149 1319h0M1060 1312h0M1319 1322h0M1243 1323h0M1215 1312h0M1043 1323h0M1152 1320h0M768 1311h0M580 1319h0M1192 1323h0M1429 1324h0M1230 1317h0M1371 1322h0M531 1320h0M936 1324h0M951 1324h0M641 1325h0M330 1322h0M635 1316h0M351 1311h0M494 1319h0M1114 1322h0M457 1315h0M267 1323h0M317 1320h0M1275 1317h0M1172 1316h0M1026 1324h0M336 1316h0M458 1318h0M602 1324h0M710 1310h0M662 1325h0M416 1309h0M771 1325h0M704 1323h0M355 1322h0M649 1322h0M482 1324h0M524 1320h0M199 1310h0M759 1321h0M1010 1317h0M1087 1324h0M190 1325h0M669 1310h0M555 1318h0M1091 1322h0M166 1314h0M681 1319h0M1418 1316h0M784 1323h0M468 1321h0M235 1321h0M548 1325h0M1395 1320h0M671 1323h0M558 1319h0M431 1319h0M778 1315h0M550 1312h0M444 1322h0M557 1325h0M470 1321h0M893 1325h0M1050 1324h0M523 1325h0M694 1315h0M1126 1313h0M1085 1319h0M1192 1324h0M242 1323h0M1019 1325h0M1131 1325h0M223 1322h0M453 1322h0M579 1319h0M1211 1323h0M834 1316h0M745 1321h0M1393 1323h0M1195 1325h0M1404 1319h0M772 1315h0M433 1324h0M874 1315h0M466 1323h0M945 1324h0M1217 1325h0M374 1316h0M1304 1313h0M952 1315h0M394 1322h0M193 1322h0M765 1315h0M1040 1309h0M1175 1318h0M1023 1318h0M257 1322h0M549 1314h0M1070 1315h0M936 1320h0M851 1325h0M655 1317h0M651 1316h0M863 1316h0M1287 1323h0M444 1319h0M689 1320h0M1310 1323h0M929 1318h0M197 1319h0M927 1324h0M1086 1320h0M1221 1312h0M765 1324h0M358 1324h0M942 1315h0M954 1322h0M289 1324h0M1104 1321h0M850 1324h0M919 1317h0M535 1320h0M645 1320h0M535 1311h0M819 1321h0M461 1324h0M504 1320h0M1412 1315h0M1347 1322h0M1191 1314h0M618 1323h0M742 1320h0M722 1323h0M805 1322h0M1149 1318h0M204 1314h0M1121 1322h0M1424 1321h0M503 1318h0M1007 1324h0M741 1322h0M1301 1321h0M921 1323h0M1330 1324h0M394 1323h0M1118 1314h0M1052 1324h0M978 1322h0M465 1319h0M853 1322h0M771 1325h0M1140 1320h0M936 1324h0M796 1322h0M599 1323h0M257 1315h0M334 1320h0M879 1321h0M235 1322h0M342 1315h0M653 1319h0M494 1313h0M1301 1324h0M171 1312h0M788 1324h0M908 1316h0M937 1320h0M1367 1325h0M1029 1325h0M1076 1318h0M1232 1315h0M488 1325h0M751 1323h0M494 1317h0M271 1325h0M381 1320h0M1033 1319h0M1320 1323h0M865 1314h0M1157 1318h0M296 1322h0M1291 1318h0M974 1321h0M1139 1324h0M222 1309h0M969 1319h0M678 1325h0M241 1314h0M1266 1323h0M1300 1323h0M688 1325h0M878 1324h0M752 1314h0M305 1323h0M1415 1313h0M703 1320h0M1327 1318h0M1328 1313h0M832 1325h0M1354 1313h0M1327 1311h0M520 1319h0M329 1316h0M328 1325h0M366 1323h0M897 1322h0M225 1323h0M1131 1319h0M1329 1322h0M1275 1321h0M686 1321h0M160 1313h0M1244 1314h0M1225 1317h0M941 1322h0M788 1313h0M1141 1324h0M840 1323h0M648 1320h0M507 1317h0M899 1311h0M712 1315h0M724 1324h0M490 1322h0M231 1314h0M294 1313h0M1181 1310h0M415 1322h0M286 1325h0M439 1321h0M540 1315h0M1036 1321h0M733 1325h0M1282 1313h0M401 1323h0M1027 1321h0M838 1316h0M279 1316h0M342 1325h0M348 1324h0M260 1325h0M767 1313h0M1328 1309h0M376 1321h0M1206 1323h0M1198 1319h0M279 1314h0M553 1323h0M819 1318h0M1325 1324h0M812 1313h0M351 1321h0M249 1320h0M528 1323h0M1344 1325h0M599 1322h0M594 1317h0M746 1310h0M576 1313h0M1268 1323h0M522 1312h0M798 1320h0M1235 1313h0M995 1314h0M701 1321h0M1277 1322h0M926 1321h0M726 1324h0M244 1318h0M521 1325h0M740 1322h0M384 1317h0M954 1309h0M1355 1311h0M1428 1315h0M1084 1319h0M670 1318h0M715 1313h0M523 1312h0M997 1320h0M1150 1322h0M216 1319h0M828 1323h0M1418 1320h0M739 1324h0M403 1313h0M474 1324h0M1222 1319h0M374 1325h0M382 1311h0M172 1311h0M1319 1315h0M888 1325h0M489 1323h0M261 1322h0M1106 1317h0M658 1318h0M1247 1318h0M349 1319h0M449 1323h0M449 1317h0M902 1315h0M421 1321h0M1038 1324h0M751 1323h0M1103 1320h0M823 1318h0M556 1320h0M924 1322h0M726 1321h0M289 1325h0M793 1325h0M502 1321h0M1317 1322h0M1043 1325h0M721 1320h0M776 1317h0M1076 1309h0M580 1316h0M1055 1318h0M948 1315h0M447 1310h0M1078 1312h0M1355 1319h0M1421 1316h0M1376 1314h0M1253 1320h0M1181 1324h0M1121 1314h0M564 1324h0M401 1314h0M539 1320h0M765 1323h0M622 1324h0M348 1314h0M1358 1323h0M532 1312h0M308 1319h0M342 1323h0M718 1309h0M214 1314h0M167 1321h0M1316 1320h0M1415 1318h0M264 1320h0M764 1314h0M469 1324h0M822 1324h0M196 1321h0M172 1317h0M456 1320h0M425 1312h0M246 1309h0M894 1316h0M1004 1321h0M1224 1320h0M457 1320h0M773 1318h0M252 1317h0M1315 1324h0M601 1324h0M445 1316h0M198 1323h0M703 1323h0M1368 1321h0M513 1311h0M218 1320h0M972 1323h0M543 1311h0M779 1312h0M1364 1313h0M1164 1321h0M689 1325h0M1033 1323h0M192 1317h0M614 1317h0M1314 1320h0M1418 1319h0M978 1309h0M935 1322h0M1218 1318h0M1097 1323h0M492 1324h0M790 1320h0M892 1324h0M1089 1324h0M651 1315h0M506 1319h0M449 1313h0M897 1323h0M958 1323h0M1027 1325h0M375 1317h0M574 1315h0M1023 1309h0M1278 1313h0M837 1312h0M590 1324h0M1029 1311h0M793 1316h0M1025 1315h0M1311 1320h0M349 1318h0M220 1322h0M486 1324h0M871 1317h0M1206 1324h0M1261 1325h0M1051 1324h0M1132 1312h0M1404 1324h0M1087 1320h0M1029 1318h0M418 1319h0M703 1322h0M1325 1322h0M1044 1321h0M371 1322h0M370 1310h0M529 1324h0M304 1325h0M824 1314h0M759 1312h0M847 1315h0M705 1323h0M690 1319h0M861 1318h0M214 1322h0M1211 1319h0M287 1324h0M341 1321h0M371 1322h0M1083 1319h0M697 1322h0M1320 1313h0M961 1324h0M894 1320h0M476 1321h0M513 1320h0M363 1325h0M919 1319h0M866 1319h0M791 1321h0M1223 1317h0M462 1309h0M538 1314h0M957 1316h0M344 1319h0M784 1320h0M383 1324h0M340 1316h0M423 1315h0M1003 1321h0M1056 1325h0M1155 1313h0M1062 1320h0M293 1314h0M748 1314h0M1153 1314h0M783 1321h0M1179 1317h0M1202 1309h0M1356 1318h0M643 1309h0M475 1315h0M445 1311h0M1016 1312h0M851 1318h0M628 1316h0M1153 1312h0M537 1322h0M688 1309h0M1242 1323h0M792 1324h0M664 1324h0M1382 1319h0M1126 1310h0M1053 1317h0M205 1323h0M719 1321h0M291 1322h0M811 1321h0M283 1314h0M344 1321h0M544 1315h0M1427 1324h0M885 1311h0M793 1321h0M935 1310h0M829 1318h0M1423 1311h0M410 1319h0M419 1316h0M1196 1315h0M190 1317h0M1061 1318h0M161 1321h0M1265 1314h0M596 1319h0M1127 1316h0M307 1316h0M758 1325h0M712 1324h0M580 1325h0M1398 1308h0M693 1321h0M804 1319h0M168 1316h0M1234 1321h0M1365 1324h0M473 1317h0M410 1317h0M804 1317h0M503 1322h0M776 1322h0M1382 1316h0M740 1311h0M674 1319h0M1028 1316h0M602 1321h0M776 1325h0M1389 1324h0M335 1321h0M425 1318h0M1054 1319h0M833 1310h0M580 1320h0M192 1312h0M1041 1316h0M972 1310h0M760 1321h0M748 1313h0M1331 1325h0M757 1321h0M594 1314h0M899 1318h0M703 1322h0M1234 1314h0M667 1315h0M531 1323h0M582 1324h0M193 1314h0M1203 1325h0M549 1323h0M195 1322h0M525 1318h0M278 1316h0M879 1321h0M237 1312h0M651 1321h0M1066 1322h0M1143 1325h0M976 1324h0M598 1311h0M677 1323h0M1391 1325h0M593 1325h0M371 1323h0M424 1321h0M1146 1320h0M1272 1322h0M1072 1314h0M540 1318h0M1101 1320h0M784 1324h0M591 1321h0M823 1314h0M401 1325h0M539 1320h0M312 1318h0M433 1311h0M585 1324h0M529 1322h0M1350 1321h0M1411 1320h0M1276 1323h0M884 1316h0M766 1324h0M1178 1322h0M1309 1318h0M881 1319h0M1173 1314h0M1025 1313h0M906 1320h0M448 1311h0M554 1318h0M1151 1324h0M1383 1324h0M196 1325h0M356 1315h0M1069 1325h0M740 1325h0M975 1324h0M715 1317h0M873 1319h0M892 1315h0M723 1316h0M389 1323h0M421 1318h0M755 1323h0M927 1318h0M277 1314h0M1128 1322h0M1324 1325h0M1264 1313h0M1163 1315h0M801 1318h0M330 1319h0M569 1315h0M1210 1318h0M1353 1324h0M1269 1314h0M1168 1324h0M259 1314h0M1352 1315h0M1158 1309h0M487 1323h0M280 1324h0M1272 1321h0M349 1324h0M1385 1312h0M896 1309h0M1048 1324h0M962 1318h0M1100 1316h0M1405 1319h0M578 1320h0M286 1313h0M839 1315h0M485 1324h0M380 1323h0M170 1322h0M1267 1318h0M1040 1322h0M582 1317h0M1324 1316h0M1387 1312h0M1410 1325h0M1004 1324h0M1225 1312h0M340 1311h0M228 1324h0M1114 1312h0M854 1325h0M408 1314h0M733 1315h0M457 1312h0M906 1324h0M646 1313h0M842 1322h0M1378 1323h0M310 1313h0M1312 1310h0M489 1323h0M1393 1322h0M803 1314h0M1170 1313h0M537 1323h0M377 1318h0M213 1324h0M617 1314h0M1371 1320h0M1050 1309h0M1116 1323h0M619 1324h0M203 1324h0M418 1324h0M698 1309h0M581 1317h0M460 1315h0M886 1324h0M1273 1320h0M1224 1312h0M1009 1316h0M641 1322h0M1128 1310h0M1401 1310h0M372 1325h0M1293 1318h0M635 1320h0M412 1319h0M359 1312h0M971 1322h0M824 1314h0M646 1317h0M610 1322h0M1011 1314h0M774 1310h0M824 1324h0M406 1324h0M782 1318h0M1261 1314h0M187 1325h0M1083 1321h0M818 1323h0M453 1324h0M291 1318h0M424 1322h0M1205 1312h0M516 1309h0M455 1319h0M1173 1314h0M398 1321h0M1281 1319h0M802 1317h0M208 1322h0M582 1311h0M391 1324h0M761 1324h0M1075 1318h0M1070 1324h0M465 1311h0M1175 1325h0M847 1323h0M1345 1322h0M1014 1323h0M909 1322h0M288 1322h0M719 1310h0M1153 1323h0M383 1324h0M374 1309h0M383 1323h0M813 1323h0M500 1323h0M1260 1308h0M1148 1311h0M844 1313h0M740 1316h0M205 1320h0M682 1316h0M970 1323h0M1149 1319h0M1084 1325h0M701 1316h0M300 1325h0M881 1321h0M407 1320h0M504 1323h0M810 1325h0M1076 1316h0M704 1320h0M824 1316h0M947 1325h0M800 1324h0M954 1324h0M541 1317h0M763 1323h0M1357 1322h0M1390 1321h0M1252 1320h0M456 1312h0M1415 1313h0M264 1311h0M726 1308h0M1119 1316h0M502 1324h0M1107 1314h0M1093 1325h0M1319 1310h0M1364 1320h0M251 1311h0M952 1324h0M256 1319h0M227 1317h0M374 1316h0M827 1309h0M427 1321h0M732 1318h0M1347 1321h0M1406 1316h0M485 1318h0M1065 1309h0M428 1319h0M790 1323h0M1134 1320h0M718 1324h0M1353 1320h0M440 1322h0M548 1315h0M1263 1322h0M1325 1314h0M563 1315h0M1268 1317h0M419 1324h0M892 1317h0M292 1319h0M891 1322h0M1294 1322h0M603 1311h0M576 1321h0M590 1318h0M1290 1321h0M1108 1322h0M1200 1323h0M1423 1318h0M703 1325h0M606 1320h0M1065 1324h0M1318 1310h0M1073 1309h0M1070 1322h0M1245 1311h0M1387 1313h0M470 1315h0M1008 1323h0M275 1322h0M847 1316h0M584 1324h0M790 1322h0M1344 1324h0M1424 1321h0M1313 1315h0M246 1320h0M1078 1325h0M730 1320h0M167 1323h0M772 1323h0M933 1320h0M319 1319h0M1122 1323h0M1157 1311h0M1026 1323h0M512 1311h0M1274 1314h0M293 1324h0M811 1314h0M911 1316h0M1158 1315h0M945 1321h0M733 1322h0M949 1318h0M382 1322h0M556 1315h0M1317 1324h0M249 1324h0M254 1314h0M208 1319h0M368 1323h0M1120 1325h0M285 1311h0M689 1319h0M244 1310h0M830 1319h0M940 1325h0M997 1317h0M561 1318h0M546 1324h0M1228 1315h0M1419 1311h0M418 1321h0M1427 1324h0M751 1317h0M639 1311h0M1173 1319h0M215 1325h0M803 1315h0M669 1324h0M552 1320h0M772 1322h0M807 1316h0M1214 1313h0M1270 1313h0M1407 1324h0M1020 1322h0M1319 1315h0M725 1323h0M1063 1324h0M199 1321h0M1286 1309h0M380 1313h0M788 1311h0M930 1324h0M1427 1318h0M1213 1317h0M520 1325h0M962 1323h0M855 1315h0M1349 1312h0M903 1317h0M195 1317h0M358 1325h0M931 1323h0M402 1319h0M907 1312h0M900 1322h0M1012 1324h0M664 1325h0M304 1313h0M1297 1315h0M1208 1317h0M919 1325h0M288 1314h0M335 1319h0M432 1314h0M284 1324h0M1007 1314h0M925 1318h0M373 1321h0M1078 1321h0M745 1324h0M363 1311h0M1126 1312h0M700 1320h0M1125 1320h0M521 1309h0M1429 1322h0M525 1325h0M1036 1321h0M1268 1323h0M996 1325h0M1051 1318h0M691 1309h0M470 1323h0M918 1322h0M338 1323h0M606 1316h0M908 1309h0M854 1324h0M740 1322h0M1035 1319h0M750 1318h0M1182 1322h0M210 1322h0M495 1323h0M548 1309h0M905 1323h0M1139 1319h0M1306 1325h0M1227 1323h0M1143 1324h0M1103 1310h0M934 1319h0M605 1320h0M369 1319h0M726 1325h0M655 1324h0M913 1319h0M495 1320h0M690 1325h0M1421 1309h0M1298 1324h0M451 1323h0M941 1321h0M1030 1323h0M324 1313h0M595 1318h0M1407 1323h0M290 1312h0M767 1322h0M897 1320h0M345 1311h0M682 1313h0M625 1317h0M457 1312h0M741 1321h0M515 1321h0M946 1325h0M878 1316h0M642 1314h0M1106 1310h0M532 1324h0M878 1313h0M1269 1322h0M1047 1325h0M1130 1311h0M448 1319h0M544 1319h0M952 1317h0M1284 1314h0M1339 1322h0M522 1325h0M1102 1316h0M1131 1318h0M1011 1324h0M1067 1324h0M542 1317h0M589 1323h0M1299 1322h0M807 1321h0M1161 1323h0M1037 1324h0M308 1309h0M1417 1322h0M1086 1319h0M665 1316h0M327 1323h0M483 1310h0M1270 1322h0M639 1317h0M587 1314h0M256 1311h0M681 1324h0M323 1317h0M476 1318h0M1048 1325h0M720 1324h0M1106 1311h0M787 1310h0M233 1322h0M298 1318h0M1358 1324h0M1349 1316h0M1394 1314h0M1308 1324h0M1070 1318h0M719 1316h0M1337 1324h0M934 1309h0M322 1319h0M885 1320h0M293 1321h0M1357 1320h0M939 1313h0M245 1310h0M553 1324h0M614 1325h0M850 1321h0M407 1312h0M1296 1310h0M738 1318h0M230 1310h0M212 1322h0M1218 1314h0M763 1323h0M812 1309h0M1144 1311h0M1030 1323h0M563 1310h0M333 1325h0M281 1318h0M767 1323h0M1203 1321h0M1332 1323h0M941 1315h0M214 1319h0M1072 1319h0M1244 1312h0M673 1322h0M1399 1312h0M996 1321h0M470 1311h0M1173 1316h0M1419 1315h0M365 1322h0M939 1324h0M763 1323h0M793 1317h0M1034 1324h0M1106 1324h0M925 1311h0M1117 1320h0M676 1315h0M645 1322h0M771 1321h0M475 1312h0M543 1312h0M849 1324h0M1180 1322h0M847 1315h0M590 1323h0M547 1316h0M322 1310h0M180 1325h0M1207 1312h0M216 1317h0M934 1323h0M1202 1323h0M1218 1324h0M1175 1321h0M988 1312h0M290 1320h0M299 1324h0M705 1308h0M278 1315h0M238 1323h0M1114 1315h0M734 1324h0M871 1320h0M364 1321h0M1431 1323h0M1392 1321h0M1201 1318h0M922 1316h0M1261 1318h0M321 1325h0M1265 1322h0M988 1315h0M675 1309h0M454 1321h0M907 1309h0M793 1324h0M1243 1317h0M493 1321h0M226 1317h0M1235 1324h0M467 1312h0M859 1314h0M940 1323h0M601 1319h0M1149 1317h0M1044 1320h0M302 1317h0M212 1325h0M964 1323h0M344 1322h0M782 1317h0M185 1311h0M375 1324h0M471 1316h0M263 1319h0M1383 1324h0M1187 1321h0M1146 1322h0M1115 1309h0M936 1318h0M284 1323h0M514 1322h0M1401 1325h0M1225 1314h0M1216 1312h0M895 1325h0M559 1315h0M439 1319h0M1013 1317h0M286 1310h0M643 1321h0M495 1324h0M718 1309h0M164 1318h0M592 1317h0M1182 1320h0M1412 1323h0M539 1320h0M344 1322h0M899 1324h0M160 1309h0M975 1325h0M636 1323h0M932 1324h0M701 1324h0M1327 1320h0M1007 1321h0M1136 1325h0M898 1313h0M572 1320h0M1255 1325h0M898 1308h0M1191 1323h0M196 1324h0M1143 1311h0M274 1324h0M365 1322h0M851 1314h0M802 1321h0M998 1317h0M562 1325h0M237 1312h0M967 1322h0M1241 1311h0M186 1322h0M1431 1321h0M814 1322h0M1262 1324h0M708 1309h0M1034 1324h0M329 1322h0M607 1324h0M423 1318h0M1233 1316h0M620 1320h0M1342 1324h0M353 1322h0M1002 1322h0M504 1320h0M1271 1324h0M1186 1324h0M659 1324h0M1261 1323h0M980 1321h0M471 1324h0M1316 1325h0M563 1313h0M924 1324h0M1227 1323h0M274 1322h0M761 1313h0M1043 1315h0M1307 1325h0M458 1321h0M679 1313h0M729 1322h0M476 1324h0M531 1321h0M762 1320h0M1186 1322h0M641 1321h0M979 1315h0M1243 1324h0M883 1325h0M1020 1320h0M796 1315h0M609 1322h0M1356 1317h0M332 1313h0M1430 1324h0M1220 1322h0M632 1318h0M1358 1317h0M1189 1311h0M1223 1317h0M1017 1312h0M1264 1314h0M370 1315h0M196 1317h0M1245 1309h0M1101 1312h0M1188 1323h0M1012 1311h0M1405 1318h0M1157 1319h0M1068 1317h0M869 1313h0M1353 1324h0M1416 1321h0M376 1320h0M465 1319h0M583 1319h0M1141 1322h0M1037 1312h0M258 1320h0M1205 1322h0M352 1318h0M560 1323h0M366 1323h0M1048 1323h0M973 1311h0M712 1322h0M579 1313h0M196 1324h0M603 1315h0M975 1319h0M535 1309h0M1296 1319h0M1054 1309h0M785 1325h0M1173 1323h0M827 1325h0M1298 1324h0M704 1319h0M1323 1324h0M247 1317h0M1322 1322h0M1324 1322h0M634 1316h0M1018 1324h0M806 1320h0M442 1309h0M202 1316h0M196 1325h0M669 1311h0M1371 1314h0M1248 1324h0M1312 1321h0M947 1309h0M601 1314h0M1018 1321h0M373 1320h0M1121 1324h0M775 1312h0M1420 1319h0M408 1325h0M385 1321h0M1419 1323h0M753 1319h0M1061 1314h0M1316 1324h0M306 1319h0M446 1311h0M1335 1316h0M1382 1314h0M1088 1315h0M676 1324h0M1416 1325h0M303 1320h0M1337 1324h0M1332 1317h0M612 1312h0M522 1323h0M1126 1322h0M1267 1322h0M1353 1319h0M1394 1324h0M268 1320h0M965 1324h0M1207 1313h0M222 1318h0M537 1320h0M1289 1325h0M757 1317h0M1372 1309h0M710 1316h0M562 1325h0M220 1319h0M427 1324h0M734 1321h0M1232 1311h0M1404 1314h0M1068 1311h0M849 1324h0M1394 1324h0M1297 1325h0M309 1323h0M353 1311h0M748 1325h0M367 1320h0M1375 1319h0M1398 1319h0M1251 1317h0M363 1319h0M1263 1322h0M650 1308h0M315 1324h0M887 1309h0M1002 1320h0M159 1323h0M476 1318h0M1316 1311h0M1122 1313h0M823 1310h0M735 1323h0M684 1325h0M1072 1318h0M206 1325h0M396 1323h0M619 1324h0M397 1319h0M1403 1319h0M738 1323h0M1176 1311h0M1418 1318h0M1247 1323h0M1226 1316h0M556 1318h0M286 1322h0M635 1321h0M890 1315h0M806 1314h0M649 1325h0M758 1309h0M785 1323h0M955 1320h0M304 1325h0M1078 1325h0M786 1312h0M247 1316h0M1429 1319h0M265 1311h0M962 1315h0M1059 1309h0M1343 1317h0M1305 1311h0M200 1316h0M476 1323h0M1211 1324h0M205 1319h0M750 1318h0M891 1324h0M220 1324h0M570 1323h0M640 1310h0M646 1317h0M197 1325h0M501 1325h0M341 1325h0M879 1319h0M737 1323h0M724 1316h0M467 1324h0M407 1319h0M650 1321h0M884 1309h0M885 1321h0M1166 1324h0M528 1323h0M1258 1322h0M366 1323h0M1368 1312h0M778 1322h0M423 1316h0M1360 1319h0M374 1322h0M1045 1324h0M320 1323h0M1352 1310h0M1219 1320h0M405 1310h0M816 1324h0M627 1321h0M635 1319h0M330 1324h0M1427 1310h0M728 1324h0M245 1325h0M816 1325h0M755 1325h0M1188 1319h0M169 1323h0M339 1322h0M1049 1325h0M1219 1314h0M759 1311h0M1403 1313h0M806 1321h0M758 1325h0M1350 1313h0M1028 1325h0M596 1315h0M1413 1318h0M486 1324h0M674 1323h0M1331 1324h0M517 1317h0M634 1322h0M336 1323h0M1345 1319h0M1084 1321h0M359 1318h0M1239 1324h0M973 1321h0M445 1324h0M1245 1324h0M180 1324h0M843 1319h0M263 1323h0M1171 1324h0M253 1324h0M1068 1315h0M739 1322h0M273 1315h0M780 1310h0M1094 1324h0M1269 1317h0M448 1323h0M808 1324h0M221 1311h0M322 1323h0M581 1316h0M190 1314h0M948 1316h0M567 1325h0M1425 1315h0M464 1318h0M920 1311h0M437 1324h0M1014 1315h0M1357 1324h0M1094 1325h0M334 1316h0M1155 1321h0M191 1310h0M1171 1312h0M1154 1321h0M948 1325h0M832 1323h0M301 1323h0M300 1320h0M978 1322h0M190 1316h0M1219 1310h0M1146 1313h0M234 1311h0M903 1324h0M275 1321h0M525 1323h0M249 1320h0M1274 1323h0M488 1324h0M460 1322h0M1276 1319h0M510 1325h0M1065 1324h0M818 1324h0M1407 1321h0M373 1317h0M375 1318h0M212 1321h0M1343 1317h0M267 1318h0M1378 1325h0M1001 1320h0M1201 1323h0M508 1311h0M722 1321h0M598 1310h0M1236 1324h0M1345 1317h0M533 1322h0M1151 1322h0M190 1322h0M1389 1325h0M1369 1321h0M476 1320h0M441 1320h0M455 1325h0M914 1314h0M995 1319h0M972 1320h0M1199 1323h0M501 1316h0M762 1322h0M1013 1325h0M1304 1314h0M1097 1317h0M1144 1312h0M1254 1324h0M313 1325h0M1376 1324h0M1050 1317h0M602 1311h0M1270 1320h0M1389 1311h0M422 1324h0M680 1321h0M180 1309h0M666 1325h0M505 1323h0M288 1325h0M1225 1321h0M1164 1308h0M191 1322h0M385 1323h0M882 1324h0M1272 1309h0M559 1325h0M785 1318h0M285 1320h0M1038 1324h0M945 1313h0M950 1315h0M1081 1320h0M1141 1323h0M377 1320h0M1289 1311h0M519 1319h0M709 1324h0M902 1322h0M167 1319h0M687 1323h0M559 1325h0M185 1325h0M1130 1321h0M930 1323h0M1204 1320h0M678 1325h0M401 1320h0M824 1320h0M1305 1318h0M1169 1325h0M540 1311h0M744 1312h0M1392 1311h0M160 1325h0M986 1323h0M836 1321h0M700 1317h0M284 1317h0M898 1316h0M1308 1315h0M1355 1315h0M942 1322h0M402 1311h0M326 1314h0M836 1320h0M1348 1317h0M849 1314h0M1110 1320h0M1036 1321h0M688 1316h0M784 1312h0M259 1319h0M950 1324h0M878 1324h0M785 1320h0M692 1325h0M232 1310h0M878 1323h0M229 1319h0M469 1323h0M236 1323h0M960 1309h0M1159 1324h0M827 1309h0M888 1317h0M1059 1325h0M838 1311h0M659 1323h0M910 1324h0M231 1310h0M984 1319h0M820 1318h0M406 1310h0M943 1316h0M625 1320h0M1120 1313h0M163 1319h0M881 1313h0M558 1315h0M311 1320h0M1352 1309h0M664 1323h0M1262 1322h0M962 1314h0M419 1316h0M831 1324h0M821 1323h0M328 1322h0M924 1325h0M551 1315h0M616 1312h0M1099 1310h0M509 1318h0M1221 1322h0M1038 1324h0M949 1317h0M186 1309h0M420 1324h0M1426 1325h0M1003 1318h0M597 1311h0M190 1323h0M423 1322h0M747 1315h0M1297 1319h0M953 1316h0M858 1311h0M1193 1323h0M344 1324h0M1404 1324h0M1075 1325h0M383 1321h0M1352 1324h0M964 1320h0M1024 1311h0M395 1325h0M575 1322h0M430 1317h0M469 1321h0M1370 1322h0M362 1312h0M677 1310h0M696 1315h0M1252 1322h0M630 1320h0M839 1321h0M1425 1323h0M659 1310h0M1210 1318h0M210 1315h0M574 1325h0M371 1320h0M1327 1323h0M1194 1323h0M700 1315h0M1365 1322h0M431 1323h0M266 1324h0M860 1320h0M877 1316h0M238 1315h0M947 1321h0M605 1322h0M1063 1319h0M1115 1319h0M1267 1320h0M1126 1321h0M457 1319h0M1218 1321h0M420 1325h0M635 1317h0M1226 1316h0M1155 1324h0M856 1320h0M197 1313h0M634 1312h0M500 1321h0M1162 1315h0M407 1316h0M1142 1310h0M372 1321h0M948 1324h0M722 1310h0M959 1312h0M1257 1325h0M312 1325h0M1337 1308h0M1313 1317h0M746 1315h0M444 1324h0M1203 1315h0M364 1322h0M662 1323h0M1387 1318h0M323 1321h0M1330 1318h0M526 1325h0M1203 1324h0M739 1324h0M489 1314h0M824 1320h0M413 1323h0M819 1314h0M591 1324h0M851 1322h0M514 1320h0M1304 1317h0M671 1323h0M1035 1323h0M901 1325h0M1136 1321h0M673 1324h0M227 1322h0M1265 1317h0M583 1321h0M1250 1324h0M548 1321h0M683 1312h0M320 1323h0M340 1320h0M596 1317h0M1299 1320h0M339 1323h0M1034 1309h0M534 1322h0M985 1324h0M1058 1318h0M214 1323h0M1067 1323h0M1196 1315h0M489 1322h0M581 1314h0M987 1323h0M1092 1322h0M1142 1319h0M204 1323h0M1367 1325h0M281 1322h0M618 1316h0M634 1317h0M1186 1320h0M315 1319h0M391 1321h0M1202 1324h0M743 1319h0M1195 1325h0M901 1318h0M901 1322h0M338 1321h0M1107 1309h0M456 1310h0M579 1325h0M534 1324h0M1384 1318h0M492 1320h0M857 1317h0M444 1314h0M220 1319h0M642 1311h0M1324 1318h0M310 1325h0M850 1318h0M1308 1314h0M962 1319h0M1058 1317h0M900 1323h0M261 1323h0M1057 1315h0M312 1322h0M864 1322h0M483 1315h0M738 1323h0M813 1323h0M1407 1325h0M852 1324h0M1153 1313h0M1310 1322h0M1152 1316h0M963 1317h0M964 1323h0M709 1323h0M1408 1323h0M682 1322h0M1304 1312h0M476 1315h0M1343 1323h0M835 1318h0M383 1321h0M920 1319h0M1188 1314h0M672 1318h0M817 1315h0M845 1316h0M920 1319h0M177 1325h0M752 1324h0M270 1322h0M1085 1319h0M633 1322h0M523 1322h0M644 1317h0M1331 1317h0M196 1319h0M714 1325h0M171 1315h0M406 1323h0M959 1322h0M632 1323h0M1056 1318h0M344 1319h0M990 1324h0M180 1322h0M328 1322h0M406 1318h0M248 1320h0M329 1320h0M1430 1320h0M595 1320h0M974 1323h0M437 1313h0M1269 1317h0M643 1323h0M1136 1321h0M1184 1320h0M1427 1321h0M738 1322h0M1128 1322h0M293 1325h0M321 1315h0M1099 1325h0M939 1322h0M1108 1317h0M1413 1319h0M341 1319h0M1258 1324h0M921 1319h0M1336 1324h0M411 1313h0M1240 1315h0M975 1323h0M968 1309h0M928 1323h0M934 1325h0M956 1319h0M746 1313h0M291 1317h0M1023 1324h0M265 1318h0M671 1319h0M588 1316h0M579 1313h0M549 1312h0M747 1322h0M846 1317h0M159 1324h0M1026 1325h0M328 1324h0M748 1322h0M1283 1322h0M1035 1324h0M883 1318h0M341 1323h0M870 1315h0M1177 1315h0M971 1315h0M266 1319h0M281 1317h0M1047 1318h0M302 1324h0M716 1321h0M571 1318h0M509 1321h0M172 1316h0M1208 1324h0M566 1312h0M1157 1323h0M1266 1316h0M1037 1311h0M440 1324h0M1145 1320h0M542 1321h0M807 1321h0M688 1322h0M451 1320h0M839 1314h0M405 1322h0M1381 1322h0M968 1315h0M529 1318h0M344 1318h0M978 1313h0M1199 1324h0M175 1321h0M1097 1320h0M749 1319h0M845 1319h0M230 1320h0M1046 1320h0M1009 1323h0M602 1321h0M987 1321h0M1235 1321h0M1336 1312h0M622 1324h0M848 1324h0M323 1310h0M1174 1313h0M1333 1309h0M201 1323h0M793 1324h0M813 1324h0M1141 1321h0M295 1315h0M1349 1320h0M811 1323h0M1235 1322h0M589 1317h0M1026 1322h0M853 1315h0M1389 1315h0M231 1314h0M661 1310h0M1291 1321h0M911 1325h0M964 1319h0M266 1313h0M918 1324h0M944 1324h0M1403 1313h0M545 1313h0M283 1311h0M190 1314h0M456 1323h0M187 1322h0M840 1325h0M786 1324h0M443 1325h0M889 1325h0M805 1313h0M985 1317h0M938 1318h0M216 1311h0M819 1321h0M1394 1324h0M1348 1318h0M1282 1314h0M415 1322h0M948 1323h0M1136 1323h0M1144 1319h0M1044 1312h0M466 1325h0M489 1321h0M177 1324h0M816 1318h0M979 1324h0M1020 1312h0M1131 1319h0M325 1323h0M1279 1316h0M487 1321h0M1182 1322h0M833 1320h0M431 1316h0M1026 1324h0M605 1321h0M954 1324h0M443 1325h0M384 1317h0M325 1320h0M605 1322h0M622 1325h0M635 1321h0M1391 1323h0M707 1319h0M1008 1324h0M1259 1323h0M1279 1322h0M1383 1316h0M1416 1323h0M674 1309h0M738 1319h0M1277 1318h0M372 1325h0M1321 1309h0M1285 1316h0M682 1325h0M170 1316h0M1328 1321h0M1389 1324h0M597 1324h0M533 1315h0M525 1319h0M193 1321h0M1219 1310h0M627 1324h0M1292 1321h0M326 1318h0M851 1321h0M511 1313h0M1078 1325h0M661 1314h0M791 1324h0M725 1320h0M1000 1321h0M412 1312h0M813 1324h0M1430 1315h0M967 1312h0M817 1321h0M735 1321h0M1374 1324h0M933 1321h0M1339 1322h0M1139 1325h0M467 1310h0M951 1315h0M347 1323h0M743 1319h0M259 1308h0M733 1324h0M1075 1309h0M392 1323h0M1050 1321h0M1218 1311h0M221 1317h0M405 1325h0M1287 1323h0M607 1316h0M978 1320h0M831 1321h0M262 1317h0M1065 1322h0M868 1324h0M957 1323h0M870 1320h0M1173 1322h0M518 1314h0M182 1323h0M1417 1312h0M184 1319h0M1243 1320h0M350 1320h0M1055 1313h0M1167 1318h0M315 1318h0M604 1310h0M1331 1312h0M199 1317h0M720 1324h0M791 1322h0M1054 1314h0M191 1325h0M1305 1309h0M311 1323h0M829 1324h0M539 1323h0M191 1318h0M935 1316h0M1361 1324h0M211 1322h0M304 1319h0M1111 1323h0M1310 1313h0M819 1322h0M563 1322h0M1206 1314h0M551 1314h0M888 1318h0M529 1320h0M403 1323h0M860 1318h0M437 1315h0M1007 1325h0M1268 1325h0M205 1314h0M916 1322h0M1128 1322h0M610 1312h0M867 1323h0M1187 1316h0M921 1315h0M1144 1323h0M684 1319h0M491 1323h0M1368 1321h0M762 1323h0M876 1325h0M319 1325h0M1168 1313h0M182 1316h0M534 1313h0M928 1316h0M517 1313h0M532 1309h0M1286 1323h0M1282 1323h0M832 1318h0M1053 1320h0M905 1316h0M612 1317h0M536 1310h0M690 1316h0M709 1323h0M521 1317h0M1002 1320h0M506 1314h0M796 1323h0M520 1322h0M496 1312h0M1246 1321h0M1232 1318h0M562 1323h0M348 1321h0M684 1319h0M1141 1315h0M707 1325h0M399 1323h0M540 1322h0M1205 1321h0M1364 1315h0M581 1321h0M459 1315h0M770 1318h0M1405 1316h0M728 1313h0M364 1320h0M1259 1320h0M1001 1309h0M967 1319h0M244 1322h0M1384 1323h0M469 1325h0M1386 1309h0M267 1319h0M1212 1316h0M1332 1324h0M628 1319h0M1051 1321h0M266 1324h0M309 1320h0M550 1322h0M463 1325h0M627 1312h0M449 1319h0M917 1320h0M480 1315h0M517 1320h0M501 1310h0M319 1325h0M631 1317h0M643 1315h0M841 1322h0M276 1315h0M682 1311h0M1021 1318h0M599 1319h0M798 1314h0M159 1317h0M1299 1313h0M481 1324h0M265 1314h0M1195 1319h0M255 1318h0M598 1322h0M430 1324h0M660 1309h0M1403 1310h0M1282 1316h0M550 1319h0M1012 1319h0M1011 1313h0M896 1319h0M264 1319h0M705 1311h0M565 1319h0M355 1320h0M839 1325h0M366 1315h0M558 1311h0M525 1311h0M1423 1315h0M983 1318h0M400 1324h0M207 1321h0M1155 1317h0M498 1324h0M500 1320h0M381 1319h0M173 1317h0M753 1316h0M1176 1320h0M363 1310h0M831 1321h0M708 1320h0M422 1313h0M1263 1317h0M489 1316h0M752 1324h0M783 1312h0M1022 1322h0M1343 1325h0M1276 1310h0M1183 1316h0M1217 1316h0M345 1324h0M1271 1323h0M604 1315h0M810 1323h0M604 1311h0M987 1315h0M978 1308h0M1424 1318h0M214 1323h0M1013 1314h0M514 1319h0M1052 1320h0M527 1311h0M1092 1324h0M910 1317h0M743 1317h0M1172 1323h0M1183 1324h0M1142 1321h0M934 1317h0M1398 1323h0M1163 1321h0M416 1316h0M172 1324h0M981 1323h0M504 1316h0M991 1322h0M788 1322h0M1271 1311h0M1353 1319h0M630 1313h0M667 1314h0M1131 1323h0M647 1322h0M659 1315h0M562 1319h0M627 1317h0M1252 1323h0M813 1319h0M1346 1311h0M1026 1316h0M1425 1310h0M1368 1322h0M719 1309h0M348 1324h0M1407 1324h0M1379 1323h0M791 1320h0M1226 1316h0M913 1313h0M1192 1324h0M934 1314h0M1417 1312h0M1355 1320h0M199 1317h0M429 1312h0M429 1323h0M827 1324h0M1334 1308h0M356 1317h0M1252 1314h0M386 1320h0M479 1324h0M800 1308h0M695 1321h0M1326 1309h0M1049 1321h0M1151 1319h0M188 1321h0M770 1318h0M540 1322h0M931 1318h0M1309 1324h0M1068 1325h0M1215 1324h0M244 1324h0M1080 1313h0M1189 1321h0M335 1310h0M972 1310h0M643 1316h0M718 1323h0M483 1325h0M920 1322h0M421 1325h0M170 1324h0M1252 1319h0M340 1320h0M1390 1322h0M739 1317h0M395 1313h0M630 1321h0M397 1321h0M1361 1309h0M739 1320h0M1089 1314h0M1361 1320h0M918 1321h0M706 1313h0M889 1321h0M277 1320h0M1177 1325h0M780 1315h0M1162 1322h0M521 1313h0M862 1325h0M1090 1319h0M815 1322h0M1314 1322h0M991 1323h0M1206 1310h0M1152 1323h0M434 1311h0M1320 1319h0M451 1311h0M885 1311h0M1289 1318h0M947 1316h0M1275 1317h0M294 1313h0M160 1317h0M468 1325h0M1156 1314h0M645 1324h0M896 1324h0M1349 1323h0M353 1314h0M661 1320h0M830 1316h0M639 1317h0M1020 1313h0M1106 1324h0M732 1321h0M302 1324h0M1259 1323h0M664 1325h0M441 1309h0M331 1318h0M722 1320h0M551 1322h0M217 1315h0M1244 1320h0M227 1322h0M313 1320h0M1373 1325h0M1366 1308h0M878 1324h0M197 1322h0M1391 1319h0M369 1315h0M212 1322h0M159 1320h0M179 1318h0M1003 1325h0M1368 1315h0M788 1325h0M704 1321h0M302 1321h0M1181 1320h0M1417 1318h0M236 1317h0M798 1319h0M1144 1320h0M764 1311h0M311 1324h0M325 1325h0M371 1321h0M238 1324h0M1145 1323h0M1192 1321h0M1040 1322h0M446 1322h0M214 1316h0M596 1319h0M1015 1322h0M919 1322h0M246 1311h0M492 1322h0M996 1323h0M959 1324h0M1030 1323h0M958 1322h0M427 1325h0M159 1314h0M1423 1318h0M1033 1323h0M482 1323h0M712 1316h0M881 1322h0M949 1319h0M1299 1322h0M1323 1310h0M1301 1318h0M1327 1308h0M289 1321h0M1129 1322h0M796 1324h0M1255 1323h0M926 1321h0M572 1321h0M1417 1317h0M517 1317h0M465 1317h0M698 1322h0M973 1325h0M848 1323h0M487 1323h0M1271 1321h0M1103 1312h0M784 1318h0M931 1317h0M677 1319h0M508 1323h0M1233 1317h0M1158 1319h0M1036 1323h0M736 1309h0M185 1318h0M302 1325h0M723 1322h0M245 1312h0M824 1314h0M214 1322h0M1246 1324h0M493 1324h0M1177 1320h0M268 1323h0M1168 1323h0M808 1325h0M1105 1318h0M907 1325h0M211 1325h0M849 1318h0M1199 1325h0M243 1322h0M364 1309h0M464 1315h0M582 1321h0M840 1324h0M265 1325h0M1316 1312h0M956 1322h0M794 1317h0M822 1320h0M1367 1310h0M1255 1317h0M975 1320h0M1427 1314h0M514 1323h0M218 1325h0M258 1322h0M1327 1324h0M302 1316h0M392 1314h0M839 1321h0M430 1318h0M280 1323h0M693 1321h0M1053 1322h0M184 1325h0M230 1325h0M1136 1313h0M549 1315h0M768 1319h0M811 1313h0M1131 1325h0M934 1325h0M1233 1324h0M658 1315h0M1136 1325h0M913 1325h0M748 1320h0M272 1324h0M262 1317h0M1332 1310h0M211 1315h0M1332 1315h0M526 1323h0M1243 1324h0M978 1324h0M1310 1320h0M1228 1320h0M786 1319h0M636 1322h0M486 1322h0M1071 1324h0M825 1319h0M1157 1318h0M550 1308h0M247 1317h0M1016 1325h0M400 1314h0M1016 1313h0M398 1324h0M387 1319h0M1005 1313h0M560 1324h0M243 1318h0M481 1325h0M916 1324h0M349 1320h0M264 1325h0M303 1325h0M345 1325h0M1266 1325h0M904 1316h0M1263 1323h0M1150 1317h0M1146 1323h0M737 1321h0M1184 1325h0M1378 1315h0M1102 1325h0M445 1324h0M508 1323h0M284 1317h0M817 1325h0M243 1320h0M774 1319h0M1185 1324h0M1336 1311h0M443 1325h0M1022 1314h0M1382 1316h0M775 1316h0M433 1324h0M745 1316h0M234 1310h0M486 1323h0M1219 1320h0M193 1323h0M505 1323h0M1218 1323h0M627 1322h0M1197 1309h0M214 1318h0M1340 1321h0M276 1313h0M209 1316h0M1342 1314h0M1217 1315h0M1303 1325h0M178 1321h0M1383 1321h0M395 1324h0M1431 1325h0M725 1311h0M1098 1324h0M770 1325h0M1318 1313h0M196 1319h0M544 1316h0M308 1321h0M862 1322h0M572 1317h0M448 1320h0M1260 1321h0M1139 1324h0M773 1321h0M916 1325h0M1098 1316h0M185 1317h0M159 1320h0M1152 1324h0M1331 1319h0M738 1321h0M562 1324h0M745 1317h0M330 1315h0M428 1324h0M307 1322h0M757 1315h0M161 1322h0M931 1323h0M360 1318h0M859 1325h0M580 1317h0M920 1322h0M666 1315h0M774 1324h0M1404 1322h0M1183 1311h0M499 1323h0M1160 1324h0M878 1319h0M1003 1316h0M973 1320h0M779 1323h0M1413 1321h0M648 1316h0M912 1324h0M572 1320h0M1212 1313h0M1319 1314h0M1016 1313h0M512 1323h0M843 1323h0M429 1323h0M1411 1311h0M444 1313h0M402 1315h0M1294 1325h0M225 1313h0M555 1324h0M553 1324h0M367 1320h0M728 1321h0M1075 1319h0M1369 1321h0M174 1324h0M659 1321h0M1303 1309h0M432 1316h0M831 1324h0M632 1317h0M1390 1316h0M237 1312h0M931 1323h0M1358 1313h0M233 1323h0M1345 1325h0M313 1322h0M1215 1321h0M1237 1325h0M435 1319h0M509 1313h0M650 1322h0M931 1322h0M492 1309h0M876 1316h0M346 1325h0M462 1314h0M774 1310h0M256 1320h0M1139 1320h0M1312 1317h0M804 1319h0M963 1325h0M987 1316h0M1018 1317h0M209 1323h0M656 1309h0M374 1324h0M1091 1323h0M767 1312h0M885 1319h0M1366 1321h0M647 1312h0M496 1317h0M504 1321h0M759 1324h0M1197 1319h0M459 1321h0M370 1316h0M1291 1324h0M1067 1322h0M949 1324h0M356 1325h0M255 1312h0M725 1320h0M1257 1309h0M1191 1317h0M1212 1308h0M1357 1319h0M237 1320h0M997 1324h0M722 1325h0M952 1319h0M248 1322h0M515 1316h0M761 1315h0M549 1324h0M1128 1325h0M1421 1325h0M478 1322h0M583 1325h0M254 1313h0M1128 1322h0M443 1311h0M569 1323h0M841 1324h0M878 1322h0M868 1324h0M477 1319h0M1420 1325h0M1375 1322h0M211 1325h0M214 1323h0M316 1323h0M705 1320h0M261 1318h0M487 1311h0M308 1321h0M1187 1323h0M702 1319h0M188 1324h0M466 1325h0M546 1324h0M1200 1323h0M165 1312h0M947 1323h0M477 1318h0M634 1313h0M414 1313h0M1420 1323h0M712 1324h0M1022 1325h0M239 1318h0M1139 1320h0M1356 1324h0M1228 1319h0M820 1312h0M1043 1324h0M1233 1315h0M968 1316h0M982 1310h0M752 1315h0M1244 1322h0M1015 1315h0M789 1321h0M1010 1322h0M1314 1322h0M590 1323h0M561 1323h0M877 1316h0M885 1324h0M639 1315h0M218 1323h0M435 1319h0M270 1318h0M898 1315h0M1055 1315h0M363 1319h0M1059 1325h0M276 1317h0M489 1310h0M925 1313h0M489 1324h0M672 1316h0M1171 1321h0M1351 1322h0M1173 1318h0M1138 1312h0M278 1313h0M171 1314h0M1246 1320h0M1051 1311h0M454 1317h0M605 1313h0M772 1324h0M423 1325h0M324 1312h0M1037 1322h0M782 1309h0M439 1316h0M1125 1323h0M823 1315h0M936 1324h0M1144 1309h0M242 1319h0M215 1320h0M403 1324h0M190 1315h0M1030 1320h0M213 1324h0M652 1320h0M1397 1317h0M525 1318h0M192 1321h0M1191 1323h0M1215 1319h0M778 1316h0M626 1314h0M909 1325h0M1323 1316h0M1194 1316h0M1058 1324h0M426 1322h0M883 1322h0M184 1322h0M193 1323h0M446 1318h0M421 1311h0M1160 1323h0M1323 1322h0M630 1324h0M812 1317h0M1341 1325h0M510 1322h0M1035 1310h0M1369 1325h0M585 1316h0M602 1317h0M419 1323h0M217 1324h0M1430 1313h0M212 1318h0M1283 1322h0M655 1321h0M241 1321h0M360 1323h0M1149 1317h0M928 1323h0M1102 1322h0M434 1323h0M866 1313h0M659 1321h0M1135 1319h0M1356 1321h0M775 1324h0M1383 1320h0M451 1320h0M1052 1322h0M1222 1317h0M1385 1324h0M171 1309h0M790 1318h0M464 1314h0M331 1324h0M1372 1323h0M1249 1309h0M227 1315h0M680 1321h0M1409 1324h0M851 1324h0M925 1316h0M1275 1323h0M910 1315h0M1200 1313h0M743 1319h0M1074 1314h0M303 1323h0M788 1308h0M1409 1323h0M760 1324h0M903 1312h0M1294 1315h0M817 1312h0M831 1316h0M664 1324h0M1117 1317h0M909 1325h0M721 1316h0M570 1325h0M1361 1323h0M1163 1312h0M185 1318h0M815 1319h0M256 1317h0M571 1323h0M838 1314h0M1259 1324h0M565 1322h0M1205 1324h0M808 1321h0M1320 1322h0M725 1324h0M1272 1324h0M298 1316h0M789 1322h0M832 1322h0M969 1318h0M417 1320h0M609 1312h0M605 1322h0M1280 1317h0M1213 1322h0M261 1322h0M290 1323h0M1308 1322h0M644 1320h0M690 1314h0M937 1325h0M1389 1322h0M214 1322h0M743 1324h0M526 1313h0M879 1322h0M1028 1314h0M622 1310h0M752 1319h0M1152 1324h0M1180 1315h0M1388 1325h0M1298 1325h0M228 1324h0M178 1315h0M683 1315h0M850 1324h0M1400 1311h0M718 1318h0M597 1311h0M976 1311h0M448 1322h0M401 1323h0M623 1313h0M192 1316h0M506 1316h0M1368 1320h0M1234 1322h0M1299 1311h0M599 1324h0M962 1322h0M1036 1322h0M538 1312h0M1022 1317h0M1354 1316h0M548 1320h0M724 1309h0M639 1324h0M366 1324h0M902 1325h0M606 1323h0M1006 1325h0M590 1322h0M346 1320h0M1243 1318h0M331 1320h0M602 1315h0M1174 1324h0M642 1316h0M690 1311h0M545 1315h0M1213 1319h0M575 1321h0M369 1315h0M626 1319h0M469 1311h0M388 1323h0M204 1324h0M1142 1320h0M437 1311h0M198 1319h0M838 1322h0M1145 1319h0M404 1318h0M563 1325h0M901 1324h0M1198 1318h0M221 1315h0M1233 1321h0M855 1323h0M422 1325h0M1197 1318h0M543 1319h0M900 1311h0M511 1324h0M492 1325h0M1173 1319h0M763 1318h0M557 1322h0M1222 1318h0M1304 1325h0M931 1320h0M1400 1317h0M339 1315h0M631 1318h0M1315 1320h0M1424 1324h0M1428 1313h0M1124 1320h0M764 1321h0M1325 1323h0M473 1323h0M666 1325h0M998 1311h0M1116 1316h0M532 1324h0M496 1323h0M1074 1323h0M1061 1321h0M692 1312h0M484 1322h0M1255 1321h0M920 1324h0M1375 1324h0M432 1316h0M1313 1321h0M985 1316h0M218 1322h0M936 1316h0M738 1321h0M884 1316h0M751 1323h0M297 1323h0M1345 1320h0M1111 1315h0M529 1316h0M749 1318h0M968 1319h0M606 1322h0M472 1321h0M1000 1323h0M1410 1310h0M816 1320h0M212 1324h0M480 1325h0M1430 1310h0M985 1321h0M882 1320h0M456 1325h0M614 1317h0M416 1316h0M925 1316h0M689 1323h0M1341 1317h0M1337 1321h0M1037 1320h0M1187 1319h0M332 1322h0M423 1317h0M433 1313h0M440 1317h0M405 1314h0M490 1322h0M430 1309h0M704 1318h0M497 1318h0M1099 1319h0M930 1323h0M754 1324h0M1055 1315h0M558 1315h0M1061 1320h0M703 1325h0M180 1310h0M461 1325h0M1052 1313h0M1363 1317h0M204 1323h0M1295 1323h0M607 1310h0M262 1322h0M542 1314h0M896 1316h0M1338 1324h0M779 1325h0M844 1323h0M1105 1323h0M1072 1319h0M621 1325h0M877 1324h0M631 1315h0M1307 1320h0M249 1318h0M573 1325h0M778 1308h0M832 1317h0M707 1315h0M572 1314h0M829 1319h0M411 1321h0M366 1311h0M593 1311h0M1306 1323h0M1089 1310h0M1157 1324h0M1112 1320h0M940 1325h0M447 1317h0M365 1320h0M1424 1325h0M1206 1315h0M240 1324h0M1420 1312h0M267 1317h0M431 1312h0M1375 1320h0M756 1311h0M185 1319h0M630 1319h0M298 1324h0M365 1313h0M917 1324h0M1262 1321h0M179 1308h0M274 1320h0M907 1318h0M368 1325h0M704 1323h0M756 1322h0M1334 1309h0M824 1325h0M408 1318h0M784 1325h0M668 1320h0M1052 1318h0M628 1322h0M621 1308h0M319 1325h0M1232 1311h0M302 1325h0M825 1325h0M1388 1322h0M401 1309h0M629 1318h0M1019 1323h0M567 1325h0M523 1311h0M1291 1314h0M794 1314h0M1298 1317h0M797 1319h0M911 1320h0M1057 1318h0M1362 1325h0M372 1325h0M825 1321h0M945 1321h0M1088 1324h0M1235 1311h0M956 1309h0M851 1314h0M223 1315h0M745 1318h0M274 1318h0M768 1319h0M1242 1311h0M1329 1313h0M682 1321h0M970 1324h0M536 1322h0M537 1323h0M1319 1318h0M420 1318h0M607 1316h0M628 1321h0M1379 1321h0M695 1324h0M982 1315h0M935 1319h0M217 1315h0M491 1325h0M898 1322h0M913 1322h0M567 1319h0M916 1319h0M547 1319h0M774 1310h0M754 1311h0M982 1325h0M275 1325h0M1206 1323h0M903 1325h0M521 1322h0M1146 1317h0M846 1311h0M955 1319h0M265 1324h0M296 1320h0M556 1314h0M351 1318h0M1296 1321h0M275 1322h0M750 1321h0M362 1320h0M169 1317h0M758 1320h0M526 1321h0M782 1323h0M231 1312h0M572 1311h0M1255 1314h0M595 1325h0M1107 1321h0M217 1317h0M314 1316h0M688 1319h0M209 1318h0M987 1317h0M1060 1322h0M561 1317h0M251 1321h0M929 1323h0M389 1322h0M440 1324h0M841 1320h0M926 1313h0M575 1315h0M188 1320h0M1070 1311h0M728 1324h0M1078 1325h0M1086 1324h0M503 1320h0M274 1316h0M725 1322h0M750 1311h0M219 1319h0M1104 1319h0M706 1320h0M1172 1324h0M481 1324h0M1343 1310h0M1035 1321h0M1172 1319h0M1158 1315h0M1262 1316h0M1263 1324h0M711 1319h0M528 1320h0M462 1316h0M1175 1317h0M418 1322h0M498 1320h0M983 1313h0M211 1322h0M1342 1310h0M965 1318h0M174 1319h0M1388 1322h0M550 1324h0M916 1320h0M410 1323h0M820 1322h0M1068 1316h0M988 1320h0M562 1325h0M1146 1322h0M601 1314h0M1259 1312h0M349 1320h0M701 1325h0M831 1322h0M1201 1324h0M1231 1322h0M657 1319h0M808 1322h0M557 1314h0M1246 1319h0M461 1316h0M218 1324h0M807 1323h0M1222 1315h0M1116 1322h0M733 1309h0M774 1324h0M1342 1321h0M1044 1315h0M270 1318h0M1003 1322h0M829 1320h0M650 1322h0M1269 1312h0M534 1321h0M176 1322h0M859 1318h0M239 1315h0M725 1325h0M339 1316h0M434 1313h0M739 1312h0M842 1324h0M1277 1323h0M1355 1322h0M344 1313h0M931 1314h0M541 1317h0M417 1324h0M436 1311h0M523 1317h0M723 1320h0M294 1324h0M1128 1321h0M744 1322h0M747 1314h0M636 1316h0M1202 1321h0M1333 1324h0M871 1319h0M165 1324h0M567 1317h0M235 1319h0M1302 1316h0M204 1312h0M469 1310h0M1114 1323h0M752 1314h0M486 1310h0M1005 1314h0M180 1312h0M201 1318h0M302 1322h0M1225 1318h0M382 1318h0M206 1319h0M1008 1322h0M1351 1324h0M696 1315h0M841 1315h0M269 1316h0M444 1320h0M257 1315h0M280 1318h0M1382 1322h0M226 1316h0M298 1311h0M1288 1321h0M1115 1321h0M965 1318h0M466 1322h0M791 1322h0M414 1321h0M415 1310h0M956 1323h0M852 1322h0M232 1321h0M606 1311h0M183 1322h0M1240 1318h0M717 1319h0M834 1324h0M253 1320h0M772 1323h0M1341 1320h0M278 1320h0M927 1320h0M1339 1325h0M1052 1313h0M1335 1318h0M860 1318h0M1167 1321h0M198 1324h0M963 1316h0M671 1315h0M941 1320h0M290 1324h0M852 1312h0M997 1325h0M884 1322h0M1220 1320h0M626 1312h0M369 1312h0M570 1318h0M818 1315h0M679 1312h0M251 1319h0M948 1310h0M1313 1325h0M1302 1319h0M592 1313h0M1146 1315h0M1244 1324h0M993 1322h0M1297 1324h0M1395 1322h0M805 1312h0M388 1309h0M487 1325h0M1376 1324h0M348 1321h0M1302 1320h0M743 1309h0M1224 1319h0M336 1323h0M961 1321h0M486 1325h0M999 1322h0M533 1319h0M951 1320h0M643 1325h0M217 1323h0M1387 1319h0M1305 1309h0M838 1325h0M828 1321h0M987 1315h0M1325 1319h0M328 1314h0M197 1321h0M686 1322h0M665 1323h0M926 1319h0M233 1324h0M881 1323h0M1220 1317h0M943 1320h0M1414 1323h0M392 1324h0M608 1324h0M189 1321h0M288 1325h0M533 1325h0M1180 1321h0M806 1316h0M721 1325h0M1183 1318h0M1092 1315h0M927 1312h0M527 1323h0M739 1323h0M1034 1311h0M496 1313h0M307 1323h0M1188 1323h0M889 1325h0M1015 1320h0M360 1308h0M841 1325h0M724 1321h0M876 1314h0M858 1318h0M1086 1315h0M1015 1321h0M1405 1313h0M329 1324h0M1140 1316h0M571 1322h0M228 1309h0M1076 1322h0M194 1324h0M1368 1323h0M511 1312h0M1011 1324h0M1091 1322h0M1339 1321h0M1422 1310h0M777 1313h0M1113 1324h0M1422 1319h0M660 1315h0M1247 1321h0M244 1314h0M1400 1324h0M1404 1318h0M1255 1313h0M638 1325h0M617 1322h0M1271 1309h0M1176 1325h0M380 1311h0M1188 1311h0M897 1323h0M1026 1311h0M538 1309h0M899 1313h0M621 1314h0M970 1320h0M704 1316h0M786 1309h0M875 1317h0M1004 1324h0M291 1309h0M895 1323h0M478 1314h0M518 1325h0M481 1321h0M821 1315h0M1020 1318h0M204 1324h0M932 1325h0M1420 1316h0M1135 1317h0M1252 1312h0M1352 1316h0M1122 1315h0M1019 1319h0M826 1324h0M307 1321h0M1119 1318h0M305 1314h0M455 1322h0M348 1323h0M411 1318h0M1042 1322h0M218 1315h0M1404 1322h0M701 1324h0M1200 1325h0M268 1323h0M414 1319h0M1256 1309h0M311 1319h0M1136 1321h0M596 1320h0M1404 1324h0M870 1316h0M1321 1323h0M982 1320h0M556 1323h0M992 1314h0M217 1325h0M1138 1319h0M1234 1315h0M752 1324h0M678 1322h0M495 1318h0M356 1320h0M440 1310h0M1162 1311h0M1258 1323h0M1206 1319h0M379 1321h0M629 1323h0M215 1321h0M1363 1321h0M485 1322h0M451 1318h0M781 1324h0M751 1320h0M1234 1316h0M289 1309h0M993 1323h0M789 1315h0M730 1314h0M1417 1314h0M1120 1323h0M1186 1322h0M1394 1312h0M240 1319h0M422 1324h0M415 1313h0M1148 1313h0M674 1315h0M1068 1324h0M360 1325h0M607 1310h0M255 1313h0M557 1311h0M435 1323h0M1132 1309h0M429 1323h0M495 1314h0M940 1309h0M684 1320h0M915 1323h0M715 1317h0M811 1319h0M1288 1310h0M522 1313h0M777 1315h0M1304 1315h0M442 1315h0M219 1322h0M642 1309h0M479 1324h0M1011 1321h0M1086 1323h0M482 1315h0M1327 1324h0M572 1324h0M324 1321h0M469 1315h0M771 1311h0M927 1313h0M333 1318h0M667 1325h0M885 1312h0M396 1325h0M758 1319h0M552 1325h0M281 1317h0M883 1317h0M530 1314h0M209 1323h0M410 1323h0M1154 1320h0M252 1322h0M384 1316h0M1014 1315h0M726 1311h0M953 1325h0M1369 1325h0M224 1320h0M687 1314h0M667 1321h0M354 1310h0M1105 1325h0M604 1314h0M519 1320h0M1091 1325h0M221 1324h0M487 1322h0M1210 1320h0M886 1317h0M711 1323h0M1228 1320h0M802 1323h0M1030 1322h0M700 1314h0M294 1316h0M1423 1315h0M958 1320h0M1175 1314h0M1177 1319h0M412 1322h0M449 1321h0M446 1325h0M742 1323h0M286 1314h0M179 1323h0M1000 1322h0M807 1316h0M1388 1313h0M481 1325h0M393 1309h0M299 1321h0M740 1320h0M353 1324h0M854 1320h0M807 1321h0M444 1324h0M1249 1323h0M1138 1313h0M1267 1318h0M397 1314h0M942 1323h0M1277 1323h0M454 1320h0M697 1322h0M588 1318h0M520 1314h0M982 1317h0M647 1312h0M805 1325h0M172 1323h0M720 1321h0M253 1324h0M716 1317h0M953 1319h0M473 1325h0M510 1324h0M737 1321h0M1279 1313h0M446 1318h0M280 1322h0M653 1320h0M1192 1308h0M250 1309h0M1327 1309h0M736 1322h0M501 1320h0M1356 1324h0M455 1325h0M861 1314h0M987 1315h0M511 1312h0M431 1312h0M177 1317h0M491 1312h0M530 1324h0M433 1322h0M663 1321h0M860 1324h0M189 1322h0M1160 1323h0M410 1321h0M651 1320h0M317 1320h0M615 1322h0M890 1323h0M544 1319h0M1311 1312h0M290 1313h0M320 1316h0M802 1323h0M1191 1309h0M867 1317h0M1201 1320h0M826 1308h0M1239 1319h0M757 1312h0M1058 1323h0M321 1316h0M1354 1313h0M778 1313h0M943 1322h0M431 1314h0M631 1323h0M1231 1315h0M829 1311h0M637 1319h0M577 1325h0M1199 1320h0M483 1324h0M1370 1325h0M694 1316h0M472 1312h0M512 1318h0M1043 1325h0M462 1319h0M1362 1322h0M801 1325h0M170 1325h0M359 1316h0M702 1322h0M453 1321h0M304 1325h0M1019 1313h0M899 1325h0M872 1313h0M478 1318h0M1142 1314h0M1158 1320h0M438 1317h0M626 1322h0M1155 1324h0M730 1310h0M703 1310h0M594 1323h0M852 1316h0M373 1317h0M1370 1315h0M827 1318h0M752 1325h0M1260 1321h0M352 1323h0M732 1314h0M653 1318h0M645 1310h0M775 1315h0M452 1323h0M1084 1324h0M1134 1320h0M1130 1320h0M1396 1314h0M493 1319h0M1042 1322h0M552 1321h0M963 1320h0M904 1324h0M1025 1315h0M720 1318h0M386 1321h0M774 1325h0M891 1322h0M898 1320h0M742 1319h0M560 1313h0M1346 1323h0M471 1324h0M358 1321h0M1148 1322h0M1153 1320h0M948 1317h0M174 1324h0M1252 1324h0M408 1324h0M305 1323h0M1298 1316h0M859 1325h0M1346 1320h0M1351 1313h0M192 1318h0M473 1309h0M1393 1316h0M1190 1321h0M874 1320h0M669 1322h0M348 1322h0M1362 1320h0M524 1312h0M392 1325h0M1388 1316h0M265 1313h0M703 1324h0M1099 1325h0M185 1322h0M746 1323h0M590 1312h0M1179 1323h0M911 1319h0M632 1321h0M1429 1324h0M1195 1310h0M1353 1322h0M749 1313h0M1416 1313h0M781 1323h0M430 1318h0M1227 1308h0M342 1325h0M480 1320h0M991 1321h0M403 1317h0M1317 1323h0M855 1325h0M482 1325h0M624 1320h0M596 1311h0M1391 1320h0M1149 1324h0M1256 1318h0M1197 1325h0M896 1314h0M957 1317h0M929 1319h0M1421 1316h0M329 1323h0M737 1323h0M231 1324h0M1112 1320h0M615 1310h0M1218 1318h0M1097 1324h0M1124 1318h0M1281 1322h0M794 1317h0M1388 1318h0M482 1323h0M426 1323h0M510 1319h0M880 1324h0M917 1325h0M1231 1311h0M1035 1311h0M1302 1311h0M865 1324h0M934 1322h0M1118 1318h0M715 1316h0M1195 1309h0M439 1322h0M801 1323h0M484 1323h0M287 1321h0M251 1315h0M1070 1325h0M1271 1319h0M1416 1322h0M848 1325h0M1109 1316h0M1377 1318h0M645 1322h0M272 1317h0M994 1309h0M527 1325h0M404 1325h0M694 1315h0M801 1325h0M642 1317h0M1173 1318h0M1251 1311h0M173 1318h0M664 1322h0M1065 1322h0M1397 1322h0M846 1322h0M783 1322h0M1423 1323h0M1168 1325h0M573 1319h0M1062 1323h0M1187 1309h0M547 1324h0M1367 1309h0M1044 1323h0M1299 1318h0M1017 1323h0M775 1316h0M700 1323h0M688 1309h0M533 1316h0M1320 1322h0M550 1310h0M1184 1318h0M1124 1310h0M1109 1325h0M174 1324h0M876 1314h0M678 1314h0M227 1324h0M1086 1316h0M931 1320h0M1202 1324h0M943 1325h0M904 1322h0M185 1321h0M870 1315h0M611 1319h0M212 1323h0M1282 1323h0M512 1320h0M797 1317h0M474 1323h0M838 1325h0M179 1318h0M562 1310h0M1000 1320h0M786 1324h0M302 1322h0M775 1325h0M912 1325h0M735 1324h0M340 1319h0M784 1325h0M1323 1315h0M581 1314h0M973 1325h0M806 1310h0M1137 1319h0M238 1314h0M788 1321h0M1092 1316h0M910 1325h0M260 1315h0M494 1312h0M555 1322h0M225 1323h0M989 1319h0M1386 1320h0M697 1308h0M767 1323h0M260 1321h0M988 1314h0M669 1315h0M269 1320h0M369 1311h0M840 1317h0M1229 1322h0M946 1321h0M565 1320h0M1389 1323h0M355 1312h0M370 1322h0M197 1318h0M300 1325h0M957 1319h0M817 1319h0M433 1322h0M1276 1315h0M551 1320h0M1148 1323h0M664 1317h0M762 1319h0M235 1323h0M215 1319h0M573 1324h0M372 1322h0M293 1322h0M640 1314h0M1247 1324h0M482 1319h0M168 1320h0M959 1324h0M1275 1310h0M1316 1324h0M917 1323h0M918 1321h0M173 1312h0M1347 1323h0M850 1323h0M445 1316h0M1097 1314h0M866 1318h0M568 1319h0M1386 1311h0M315 1323h0M1142 1321h0M1426 1320h0M733 1324h0M248 1325h0M807 1323h0M679 1320h0M1098 1317h0M1346 1320h0M317 1318h0M844 1321h0M190 1311h0M1376 1321h0M449 1324h0M1279 1322h0M1183 1319h0M1271 1324h0M1175 1319h0M211 1315h0M458 1316h0M551 1320h0M429 1317h0M1243 1321h0M1213 1324h0M272 1312h0M439 1315h0M291 1322h0M858 1322h0M730 1319h0M1113 1318h0M757 1320h0M278 1311h0M523 1324h0M1293 1320h0M1004 1319h0M1291 1319h0M311 1325h0M835 1317h0M1401 1318h0M1059 1325h0M1198 1325h0M1214 1322h0M789 1325h0M196 1309h0M686 1322h0M559 1325h0M814 1320h0M402 1314h0M454 1312h0M1084 1310h0M359 1308h0M276 1315h0M1147 1324h0M545 1320h0M808 1318h0M1318 1317h0M963 1325h0M698 1322h0M621 1321h0M843 1311h0M1101 1316h0M478 1314h0M441 1314h0M251 1311h0M871 1310h0M716 1314h0M545 1325h0M867 1309h0M554 1315h0M997 1312h0M1056 1321h0M1117 1313h0M763 1322h0M510 1321h0M1166 1319h0M922 1315h0M206 1317h0M1414 1314h0M198 1325h0M1384 1322h0M1013 1318h0M1211 1319h0M1285 1324h0M423 1311h0M480 1309h0M1369 1314h0M789 1324h0M403 1320h0M924 1325h0M283 1321h0M533 1310h0M834 1308h0M470 1314h0M795 1311h0M568 1322h0M465 1312h0M1354 1322h0M949 1313h0M197 1318h0M1214 1313h0M472 1319h0M211 1322h0M243 1318h0M679 1309h0M196 1309h0M982 1310h0M1165 1314h0M991 1325h0M752 1319h0M1002 1322h0M523 1325h0M430 1320h0M1066 1320h0M1343 1318h0M302 1317h0M727 1325h0M742 1316h0M1272 1310h0M734 1313h0M299 1325h0M768 1321h0M1405 1318h0M1344 1321h0M976 1316h0M866 1311h0M424 1310h0M1006 1324h0M1194 1321h0M1405 1322h0M1203 1322h0M1152 1321h0M1379 1316h0M958 1317h0M1422 1323h0M542 1320h0M622 1317h0M1221 1318h0M1304 1320h0M176 1317h0M564 1323h0M178 1313h0M733 1322h0M986 1323h0M528 1324h0M757 1319h0M1296 1324h0M428 1315h0M597 1309h0M750 1316h0M807 1324h0M1291 1321h0M1067 1324h0M747 1317h0M868 1320h0M372 1324h0M582 1320h0M172 1322h0M443 1321h0M1344 1316h0M336 1308h0M426 1321h0M1062 1321h0M894 1320h0M1229 1313h0M755 1324h0M574 1322h0M1127 1319h0M625 1311h0M1368 1317h0M579 1319h0M1088 1316h0M977 1323h0M1256 1324h0M728 1311h0M428 1325h0M830 1322h0M679 1315h0M560 1321h0M465 1309h0M531 1325h0M1238 1320h0M421 1322h0M1035 1322h0M536 1313h0M1237 1311h0M980 1321h0M1079 1313h0M398 1324h0M1020 1325h0M273 1323h0M695 1324h0M481 1317h0M697 1325h0M365 1325h0M815 1318h0M1183 1314h0M413 1320h0M1412 1316h0M422 1322h0M577 1322h0M576 1324h0M1074 1318h0M484 1323h0M623 1324h0M812 1321h0M1053 1323h0M512 1320h0M1143 1324h0M1001 1316h0M204 1318h0M304 1322h0M612 1313h0M1402 1313h0M756 1321h0M1025 1325h0M1347 1319h0M199 1323h0M1062 1321h0M486 1309h0M1245 1324h0M757 1323h0M528 1317h0M181 1310h0M1208 1314h0M1224 1322h0M1335 1316h0M199 1313h0M295 1324h0M584 1316h0M189 1316h0M600 1321h0M411 1317h0M188 1324h0M339 1321h0M294 1320h0M981 1325h0M793 1323h0M208 1317h0M540 1325h0M1209 1324h0M318 1321h0M231 1325h0M516 1323h0M377 1316h0M1225 1319h0M1327 1313h0M187 1324h0M1059 1312h0M1186 1318h0M759 1319h0M193 1317h0M1232 1325h0M232 1321h0M1043 1309h0M1381 1314h0M1146 1319h0M188 1314h0M304 1324h0M1194 1313h0M908 1318h0M1089 1320h0M486 1324h0M703 1323h0M1220 1319h0M471 1324h0M807 1314h0M974 1325h0M842 1321h0M886 1322h0M1062 1320h0M276 1316h0M838 1323h0M1314 1325h0M1100 1322h0M1290 1323h0M887 1324h0M893 1323h0M1135 1318h0M372 1313h0M1282 1315h0M829 1323h0M260 1315h0M764 1316h0M584 1325h0M816 1325h0M537 1323h0M1353 1325h0M903 1316h0M371 1325h0M898 1322h0M289 1314h0M451 1314h0M465 1309h0M1371 1308h0M1193 1322h0M1031 1312h0M1131 1311h0M362 1325h0M611 1312h0M1270 1323h0M798 1311h0M512 1324h0M1057 1321h0M1270 1316h0M1046 1321h0M585 1317h0M176 1321h0M987 1321h0M498 1321h0M240 1309h0M301 1310h0M721 1325h0M869 1318h0M1310 1318h0M421 1318h0M772 1324h0M299 1322h0M443 1322h0M850 1316h0M809 1311h0M1321 1323h0M682 1318h0M482 1319h0M822 1323h0M1116 1309h0M1301 1316h0M167 1313h0M983 1311h0M1147 1316h0M1068 1324h0M410 1324h0M677 1318h0M1376 1308h0M580 1318h0M1407 1322h0M1340 1317h0M1406 1309h0M1219 1319h0M1408 1313h0M272 1318h0M412 1320h0M484 1322h0M1114 1318h0M1413 1325h0M516 1314h0M187 1312h0M1430 1317h0M597 1322h0M1116 1315h0M547 1325h0M794 1314h0M1200 1321h0M729 1310h0M1396 1318h0M237 1323h0M665 1321h0M1290 1322h0M478 1321h0M389 1318h0M1400 1324h0M712 1310h0M536 1325h0M1198 1323h0M1333 1312h0M901 1325h0M1332 1322h0M1085 1317h0M994 1324h0M999 1311h0M1193 1322h0M1424 1321h0M714 1309h0M794 1325h0M1285 1322h0M702 1313h0M519 1312h0M865 1324h0M784 1318h0M900 1319h0M1328 1321h0M1345 1319h0M778 1321h0M1083 1313h0M349 1316h0M428 1324h0M1038 1314h0M976 1324h0M1091 1325h0M1144 1310h0M1284 1322h0M1009 1311h0M548 1322h0M564 1324h0M693 1313h0M869 1314h0M1012 1313h0M709 1321h0M1082 1318h0M739 1322h0M198 1320h0M909 1314h0M628 1314h0M740 1312h0M439 1315h0M239 1313h0M884 1325h0M649 1321h0M895 1318h0M1228 1309h0M1057 1319h0M222 1321h0M370 1311h0M1048 1309h0M680 1320h0M1208 1317h0M1233 1320h0M522 1320h0M1039 1321h0M655 1314h0M645 1315h0M1339 1325h0M175 1312h0M1168 1323h0M287 1322h0M1337 1325h0M975 1325h0M391 1324h0M466 1314h0M733 1314h0M287 1311h0M570 1311h0M737 1320h0M646 1313h0M264 1323h0M400 1317h0M990 1323h0M1318 1315h0M581 1316h0M413 1323h0M413 1323h0M1092 1315h0M419 1318h0M578 1321h0M685 1325h0M656 1312h0M1412 1320h0M899 1325h0M238 1314h0M289 1309h0M1055 1323h0M587 1319h0M765 1318h0M1005 1319h0M213 1322h0M777 1324h0M1353 1322h0M633 1325h0M495 1315h0M608 1324h0M398 1320h0M1045 1324h0M1092 1324h0M843 1319h0M804 1323h0M620 1322h0M1128 1322h0M1000 1314h0M299 1323h0M1106 1319h0M1420 1311h0M1416 1317h0M1197 1310h0M727 1310h0M1128 1320h0M950 1320h0M1065 1325h0M793 1323h0M254 1316h0M208 1312h0M459 1315h0M1394 1322h0M258 1314h0M648 1317h0M842 1319h0M1267 1323h0M994 1322h0M1041 1312h0M496 1324h0M646 1323h0M1062 1324h0M1111 1320h0M1367 1316h0M486 1325h0M381 1324h0M1018 1313h0M370 1318h0M794 1314h0M1177 1320h0M795 1325h0M865 1324h0M925 1323h0M1150 1322h0M968 1318h0M622 1322h0M613 1321h0M1103 1320h0M1150 1315h0M1305 1319h0M1253 1311h0M507 1311h0M277 1319h0M176 1325h0M344 1324h0M1298 1323h0M1246 1316h0M672 1318h0M764 1321h0M1078 1321h0M755 1315h0M1315 1317h0M782 1322h0M300 1318h0M997 1325h0M1053 1317h0M385 1318h0M531 1323h0M480 1322h0M403 1315h0M924 1322h0M542 1314h0M199 1316h0M993 1324h0M1421 1322h0M605 1311h0M172 1324h0M658 1316h0M696 1325h0M1142 1317h0M1352 1321h0M1169 1325h0M1296 1325h0M883 1316h0M1287 1312h0M1133 1312h0M548 1324h0M686 1325h0M709 1316h0M340 1313h0M1051 1324h0M1008 1325h0M446 1317h0M334 1320h0M1202 1324h0M434 1325h0M1212 1325h0M759 1322h0M1002 1321h0M1030 1323h0M214 1323h0M1074 1316h0M1151 1324h0M1216 1309h0M422 1323h0M975 1324h0M1062 1318h0M731 1319h0M196 1325h0M906 1310h0M685 1315h0M698 1310h0M642 1321h0M875 1321h0M562 1310h0M1378 1324h0M703 1325h0M790 1314h0M1149 1321h0M1386 1310h0M526 1317h0M757 1323h0M908 1323h0M650 1321h0M425 1311h0M405 1323h0M1068 1321h0M323 1324h0M337 1310h0M1380 1309h0M1255 1321h0M1232 1322h0M1277 1325h0M1338 1321h0M1068 1322h0M1229 1323h0M327 1310h0M302 1315h0M983 1323h0M1092 1313h0M849 1318h0M1050 1324h0M956 1320h0M1223 1322h0M793 1320h0M159 1320h0M625 1325h0M398 1323h0M396 1312h0M942 1323h0M606 1325h0M1291 1317h0M598 1322h0M1224 1312h0M631 1312h0M1216 1315h0M811 1319h0M1354 1323h0M708 1318h0M757 1314h0M271 1319h0M1411 1323h0M166 1322h0M712 1322h0M735 1312h0M594 1318h0M903 1325h0M1396 1318h0M567 1325h0M1198 1321h0M233 1320h0M190 1323h0M1392 1319h0M544 1315h0M1105 1313h0M1231 1320h0M762 1320h0M880 1319h0M945 1316h0M941 1309h0M1185 1319h0M638 1321h0M773 1319h0M184 1323h0M281 1321h0M1085 1320h0M926 1321h0M1332 1324h0M1123 1315h0M1023 1311h0M529 1324h0M1229 1316h0M573 1314h0M1218 1323h0M648 1323h0M914 1319h0M634 1322h0M664 1320h0M570 1314h0M1057 1316h0M1044 1324h0M1204 1322h0M939 1317h0M1272 1324h0M340 1312h0M805 1316h0M374 1318h0M1054 1320h0M1192 1321h0M1007 1311h0M1104 1324h0M1215 1314h0M1343 1324h0M683 1324h0M751 1320h0M703 1314h0M1150 1314h0M1357 1325h0M634 1316h0M225 1325h0M1394 1314h0M382 1320h0M1403 1313h0M190 1308h0M456 1309h0M896 1315h0M1367 1324h0M379 1320h0M728 1324h0M197 1312h0M1258 1324h0M837 1310h0M859 1321h0M697 1321h0M1372 1312h0M687 1320h0M1357 1322h0M901 1323h0M258 1318h0M756 1320h0M498 1325h0M838 1318h0M1153 1323h0M285 1318h0M201 1319h0M317 1318h0M1231 1315h0M379 1318h0M1225 1321h0M617 1314h0M1210 1319h0M1087 1309h0M200 1319h0M921 1313h0M632 1311h0M1136 1321h0M1031 1325h0M322 1321h0M1424 1325h0M924 1310h0M1117 1313h0M887 1323h0M772 1316h0M1081 1323h0M643 1315h0M1390 1322h0M1257 1318h0M670 1325h0M1351 1320h0M711 1320h0M1406 1322h0M1207 1316h0M419 1321h0M1203 1323h0M990 1323h0M884 1324h0M1137 1324h0M977 1323h0M911 1325h0M1261 1321h0M1052 1320h0M212 1316h0M990 1323h0M646 1324h0M1011 1323h0M1288 1319h0M1271 1321h0M337 1323h0M1185 1311h0M1320 1323h0M741 1319h0M1211 1321h0M1211 1322h0M1100 1316h0M760 1322h0M1008 1320h0M774 1323h0M364 1323h0M1099 1324h0M748 1324h0M1132 1323h0M257 1312h0M857 1320h0M763 1323h0M837 1324h0M1104 1316h0M887 1324h0M357 1323h0M771 1325h0M223 1323h0M487 1324h0M503 1313h0M662 1309h0M548 1318h0M449 1320h0M718 1325h0M1000 1325h0M862 1314h0M1028 1316h0M1243 1324h0M258 1316h0M697 1322h0M1212 1317h0M1192 1322h0M161 1320h0M363 1320h0M674 1319h0M853 1321h0M1302 1313h0M343 1325h0M1239 1319h0M872 1323h0M487 1324h0M1133 1322h0M498 1313h0M941 1321h0M168 1314h0M164 1322h0M645 1320h0M245 1321h0M769 1318h0M1198 1325h0M905 1323h0M316 1323h0M1373 1318h0M337 1313h0M1123 1322h0M895 1319h0M777 1315h0M459 1323h0M894 1317h0M867 1324h0M1116 1323h0M1370 1322h0M362 1318h0M591 1317h0M1306 1317h0M710 1325h0M1357 1324h0M682 1318h0M966 1321h0M1009 1310h0M599 1309h0M847 1314h0M296 1309h0M1148 1321h0M1419 1324h0M1205 1319h0M663 1314h0M278 1324h0M1075 1321h0M1170 1322h0M721 1311h0M1324 1316h0M959 1323h0M1425 1324h0M1043 1321h0M1287 1316h0M442 1325h0M919 1316h0M1086 1323h0M1391 1314h0M714 1318h0M191 1320h0M272 1324h0M223 1325h0M372 1324h0M714 1318h0M296 1324h0M1061 1325h0M393 1319h0M729 1317h0M273 1314h0M522 1314h0M1053 1314h0M658 1321h0M1327 1320h0M861 1322h0M787 1324h0M953 1325h0M789 1324h0M683 1310h0M309 1314h0M1410 1322h0M1395 1322h0M772 1312h0M442 1324h0M507 1325h0M507 1324h0M1400 1310h0M1164 1323h0M853 1324h0M464 1321h0M781 1323h0M957 1324h0M1173 1318h0M941 1313h0M1092 1325h0M349 1317h0M1254 1319h0M929 1323h0M999 1321h0M169 1318h0M1181 1316h0M956 1321h0M1282 1310h0M527 1316h0M989 1322h0M1279 1321h0M641 1320h0M208 1321h0M1080 1313h0M305 1321h0M1181 1314h0M843 1324h0M1304 1315h0M302 1310h0M977 1320h0M542 1318h0M1128 1323h0M197 1319h0M1350 1324h0M897 1316h0M719 1321h0M1196 1320h0M491 1324h0M893 1325h0M339 1318h0M984 1321h0M499 1322h0M740 1318h0M938 1321h0M1378 1317h0M291 1325h0M1353 1315h0M636 1316h0M380 1317h0M797 1325h0M913 1318h0M526 1311h0M636 1318h0M1413 1324h0M299 1324h0M763 1319h0M414 1311h0M1098 1311h0M1292 1312h0M971 1324h0M1015 1311h0M486 1310h0M344 1321h0M1128 1319h0M1130 1320h0M1343 1320h0M1312 1316h0M371 1317h0M449 1317h0M617 1316h0M958 1324h0M1430 1318h0M757 1323h0M698 1321h0M240 1313h0M1070 1315h0M731 1323h0M671 1323h0M1088 1316h0M456 1318h0M449 1321h0M363 1317h0M180 1323h0M1368 1323h0M1218 1322h0M212 1316h0M1362 1321h0M983 1319h0M899 1322h0M296 1314h0M789 1318h0M277 1323h0M918 1321h0M164 1310h0M920 1314h0M882 1310h0M1368 1323h0M278 1325h0M1112 1318h0M360 1325h0M1115 1318h0M947 1324h0M482 1317h0M833 1322h0M755 1319h0M1390 1318h0M544 1321h0M774 1311h0M200 1321h0M436 1322h0M1111 1320h0M290 1322h0M911 1325h0M1076 1322h0M940 1321h0M938 1323h0M679 1325h0M773 1324h0M535 1316h0M1111 1313h0M751 1323h0M178 1312h0M1276 1318h0M966 1321h0M1041 1317h0M1033 1311h0M774 1325h0M924 1323h0M1103 1325h0M1386 1323h0M611 1312h0M1199 1320h0M1395 1320h0M1307 1323h0M1299 1315h0M256 1324h0M567 1322h0M837 1316h0M993 1311h0M197 1323h0M490 1323h0M1356 1321h0M296 1321h0M196 1323h0M174 1318h0M420 1320h0M246 1312h0M989 1325h0M598 1324h0M399 1320h0M202 1320h0M1333 1321h0M634 1323h0M963 1325h0M529 1321h0M263 1320h0M1257 1311h0M746 1323h0M885 1318h0M502 1323h0M675 1314h0M875 1310h0M1358 1324h0M917 1309h0M489 1324h0M431 1322h0M569 1325h0M791 1316h0M675 1325h0M534 1308h0M1171 1324h0M908 1316h0M843 1320h0M1315 1325h0M624 1312h0M501 1324h0M906 1321h0M750 1324h0M283 1323h0M737 1319h0M260 1318h0M1240 1320h0M229 1319h0M279 1310h0M215 1314h0M864 1322h0M349 1316h0M1102 1325h0M370 1324h0M805 1323h0M569 1319h0M1261 1313h0M838 1323h0M1248 1319h0M508 1315h0M278 1311h0M753 1311h0M1190 1310h0M854 1321h0M1245 1318h0M162 1319h0M286 1317h0M675 1309h0M1057 1316h0M1114 1311h0M749 1317h0M1175 1312h0M408 1309h0M813 1323h0M266 1324h0M1427 1317h0M543 1324h0M964 1309h0M504 1321h0M531 1323h0M217 1310h0M386 1315h0M1101 1312h0M960 1323h0M221 1319h0M493 1312h0M551 1323h0M375 1311h0M1291 1323h0M931 1319h0M301 1323h0M782 1325h0M1329 1324h0M1149 1319h0M505 1318h0M821 1322h0M333 1320h0M585 1313h0M197 1309h0M835 1315h0M779 1324h0M1354 1312h0M258 1321h0M1030 1319h0M197 1315h0M659 1315h0M298 1320h0M863 1319h0M1365 1312h0M617 1320h0M667 1319h0M1299 1323h0M1205 1325h0M482 1323h0M1392 1319h0M259 1313h0M1386 1309h0M1325 1320h0M1320 1311h0M258 1319h0M1159 1322h0M226 1315h0M1383 1323h0M800 1324h0M902 1309h0M191 1317h0M870 1314h0M1239 1312h0M1037 1323h0M1248 1317h0M202 1325h0M699 1319h0M1363 1314h0M1120 1324h0M704 1317h0M1365 1318h0M414 1319h0M225 1324h0M338 1316h0M769 1321h0M773 1321h0M486 1314h0M1286 1322h0M453 1320h0M369 1320h0M777 1315h0M160 1319h0M1213 1316h0M967 1323h0M1208 1325h0M218 1312h0M1281 1310h0M1060 1310h0M679 1320h0M1021 1320h0M1403 1318h0M1053 1324h0M1334 1314h0M604 1322h0M1352 1321h0M373 1316h0M195 1321h0M1083 1318h0M492 1318h0M1002 1320h0M504 1323h0M310 1314h0M1336 1311h0M293 1316h0M1270 1324h0M841 1321h0M1146 1310h0M249 1325h0M1117 1318h0M486 1322h0M197 1324h0M510 1324h0M965 1318h0M512 1323h0M848 1320h0M639 1325h0M1103 1324h0M1352 1318h0M1059 1324h0M405 1322h0M1121 1313h0M488 1318h0M324 1318h0M656 1322h0M467 1316h0M790 1315h0M1002 1325h0M298 1312h0M1420 1324h0M488 1313h0M785 1318h0M412 1321h0M344 1309h0M716 1324h0M253 1316h0M854 1325h0M819 1325h0M1154 1314h0M556 1316h0M173 1324h0M943 1323h0M1137 1324h0M1071 1318h0M334 1318h0M1019 1310h0M1032 1324h0M715 1318h0M1248 1318h0M924 1319h0M517 1324h0M545 1315h0M428 1309h0M902 1317h0M299 1314h0M204 1322h0M603 1324h0M982 1321h0M462 1321h0M927 1313h0M1273 1322h0M1309 1324h0M836 1323h0M558 1319h0M1423 1311h0M1136 1323h0M207 1314h0M727 1311h0M1254 1319h0M286 1325h0M419 1322h0M1331 1325h0M909 1319h0M479 1315h0M512 1320h0M1117 1313h0M1381 1316h0M161 1311h0M1329 1323h0M1114 1317h0M935 1320h0M736 1318h0M397 1311h0M1085 1325h0M1275 1315h0M1022 1322h0M1258 1322h0M657 1315h0M307 1322h0M1084 1324h0M1398 1322h0M1015 1319h0M812 1310h0M575 1317h0M651 1323h0M711 1323h0M834 1325h0M769 1323h0M1321 1313h0M1191 1320h0M1367 1318h0M961 1316h0M651 1310h0M1156 1312h0M1112 1322h0M885 1325h0M1347 1324h0M1346 1320h0M700 1310h0M580 1322h0M1079 1325h0M197 1315h0M371 1324h0M673 1317h0M194 1324h0M1016 1312h0M509 1323h0M316 1311h0M1087 1322h0M1089 1318h0M380 1314h0M633 1319h0M643 1315h0M917 1325h0M752 1320h0M929 1322h0M1085 1314h0M275 1322h0M227 1316h0M1097 1310h0M883 1319h0M823 1309h0M837 1312h0M278 1324h0M1040 1313h0M1317 1321h0M1339 1324h0M236 1311h0M905 1311h0M948 1324h0M975 1316h0M946 1309h0M423 1319h0M408 1325h0M1080 1323h0M249 1316h0M1306 1325h0M1019 1310h0M441 1314h0M165 1311h0M594 1317h0M318 1316h0M713 1321h0M1109 1318h0M201 1322h0M1133 1312h0M1295 1318h0M159 1313h0M1032 1324h0M1206 1317h0M1006 1325h0M479 1313h0M707 1321h0M618 1325h0M1363 1315h0M301 1316h0M1116 1315h0M698 1313h0M609 1324h0M491 1325h0M795 1315h0M903 1321h0M1314 1314h0M371 1318h0M1060 1324h0M643 1309h0M388 1319h0M505 1316h0M446 1324h0M1265 1324h0M249 1324h0M820 1322h0M982 1316h0M607 1323h0M935 1323h0M253 1316h0M395 1323h0M1004 1321h0M799 1317h0M791 1317h0M1054 1312h0M274 1309h0M842 1324h0M870 1325h0M547 1319h0M638 1317h0M1166 1319h0M337 1322h0M1423 1320h0M1119 1319h0M395 1318h0M963 1310h0M1114 1312h0M453 1321h0M1250 1320h0M212 1319h0M1368 1312h0M1188 1319h0M764 1322h0M344 1323h0M754 1322h0M252 1324h0M1399 1325h0M162 1322h0M864 1316h0M550 1322h0M1313 1322h0M1201 1325h0M1279 1320h0M935 1323h0M528 1317h0M675 1320h0M255 1322h0M1339 1317h0M1085 1319h0M1407 1319h0M1325 1310h0M605 1316h0M211 1325h0M919 1322h0M1100 1320h0M252 1324h0M266 1318h0M358 1319h0M935 1324h0M925 1310h0M632 1324h0M1160 1311h0M295 1317h0M206 1318h0M328 1322h0M302 1312h0M879 1308h0M841 1315h0M909 1323h0M1097 1324h0M800 1322h0M334 1319h0M436 1321h0M250 1321h0M703 1322h0M689 1324h0M783 1319h0M1068 1324h0M190 1325h0M561 1312h0M1000 1323h0M236 1320h0M1172 1315h0M288 1315h0M995 1317h0M1370 1320h0M1040 1324h0M1123 1312h0M761 1320h0M700 1322h0M343 1321h0M1171 1312h0M1324 1320h0M1127 1313h0M263 1324h0M757 1317h0M616 1321h0M164 1318h0M504 1313h0M1250 1322h0M246 1323h0M952 1324h0M989 1308h0M456 1322h0M465 1322h0M929 1320h0M283 1313h0M912 1316h0M962 1320h0M1262 1325h0M1312 1321h0M337 1320h0M511 1320h0M1267 1317h0M252 1319h0M596 1310h0M368 1322h0M1039 1315h0M274 1323h0M529 1319h0M460 1310h0M491 1324h0M213 1319h0M554 1324h0M525 1317h0M1072 1322h0M409 1312h0M1044 1322h0M342 1309h0M538 1323h0M1197 1325h0M718 1322h0M1156 1324h0M1321 1313h0M901 1322h0M1233 1311h0M470 1320h0M186 1324h0M443 1324h0M869 1320h0M1256 1325h0M1231 1319h0M464 1320h0M302 1318h0M249 1319h0M1146 1323h0M1133 1319h0M950 1324h0M482 1320h0M235 1325h0M1413 1324h0M938 1312h0M524 1313h0M1170 1323h0M675 1322h0M465 1323h0M317 1325h0M864 1320h0M556 1325h0M1167 1312h0M314 1322h0M535 1320h0M912 1318h0M907 1321h0M539 1312h0M335 1317h0M619 1319h0M697 1321h0M1009 1318h0M1260 1325h0M611 1319h0M1312 1319h0M1073 1315h0M621 1325h0M599 1324h0M884 1317h0M472 1322h0M785 1324h0M663 1322h0M807 1308h0M839 1320h0M1033 1322h0M183 1314h0M1425 1316h0M1106 1318h0M504 1323h0M1219 1317h0M461 1322h0M1106 1324h0M1406 1310h0M536 1309h0M1319 1318h0M502 1324h0M643 1325h0M691 1322h0M1197 1309h0M1369 1322h0M817 1310h0M1159 1324h0M674 1321h0M458 1310h0M922 1310h0M980 1317h0M358 1325h0M1051 1310h0M308 1313h0M1280 1320h0M206 1323h0M1284 1324h0M320 1312h0M1072 1314h0M413 1323h0M341 1319h0M1283 1321h0M900 1312h0M785 1312h0M886 1313h0M615 1325h0M556 1322h0M448 1323h0M971 1324h0M1095 1325h0M591 1320h0M763 1312h0M1249 1325h0M743 1321h0M234 1310h0M515 1322h0M1092 1315h0M288 1324h0M599 1319h0M976 1313h0M759 1324h0M924 1311h0M568 1310h0M165 1317h0M1116 1312h0M1304 1322h0M738 1324h0M276 1312h0M1216 1324h0M1360 1309h0M402 1317h0M1169 1322h0M1088 1321h0M572 1318h0M1002 1319h0M536 1325h0M763 1324h0M1286 1322h0M1041 1324h0M495 1310h0M345 1318h0M342 1324h0M1095 1317h0M492 1311h0M1049 1325h0M732 1314h0M566 1312h0M954 1311h0M221 1325h0M936 1325h0M252 1318h0M718 1312h0M751 1320h0M851 1309h0M886 1319h0M799 1318h0M1107 1312h0M579 1319h0M1025 1321h0M883 1325h0M373 1323h0M1147 1319h0M1408 1314h0M799 1320h0M914 1322h0M735 1318h0M1088 1311h0M310 1325h0M1069 1323h0M346 1313h0M324 1324h0M496 1315h0M401 1325h0M1277 1309h0M296 1325h0M1189 1319h0M783 1325h0M904 1312h0M300 1313h0M844 1315h0M537 1323h0M551 1310h0M1248 1322h0M765 1321h0M1035 1323h0M1371 1317h0M228 1316h0M1108 1321h0M987 1318h0M1223 1319h0M1336 1317h0M784 1310h0M655 1314h0M174 1316h0M276 1324h0M795 1324h0M404 1310h0M1333 1322h0M1398 1321h0M857 1320h0M521 1316h0M1265 1318h0M1382 1319h0M1021 1311h0M600 1324h0M948 1320h0M247 1318h0M1276 1324h0M200 1308h0M1295 1319h0M516 1318h0M839 1320h0M849 1325h0M413 1325h0M336 1321h0M1291 1323h0M609 1320h0M159 1321h0M976 1315h0M1258 1319h0M600 1324h0M1397 1317h0M1164 1325h0M676 1323h0M611 1322h0M504 1312h0M804 1312h0M365 1320h0M1134 1322h0M470 1324h0M1031 1320h0M556 1317h0M702 1323h0M266 1321h0M634 1325h0M763 1318h0M420 1312h0M1168 1315h0M1083 1316h0M220 1314h0M895 1320h0M501 1318h0M1318 1312h0M791 1318h0M1076 1319h0M931 1314h0M1031 1313h0M1041 1325h0M1172 1325h0M1417 1311h0M515 1322h0M1045 1320h0M758 1312h0M647 1320h0M1310 1322h0M1208 1315h0M1429 1321h0M885 1318h0M1415 1315h0M795 1317h0M791 1319h0M1226 1323h0M789 1322h0M875 1316h0M737 1322h0M641 1321h0M471 1322h0M669 1319h0M1156 1311h0M914 1314h0M820 1325h0M1125 1317h0M891 1314h0M749 1323h0M1253 1319h0M1140 1324h0M1339 1322h0M1298 1324h0M500 1321h0M621 1322h0M751 1325h0M423 1314h0M843 1310h0M1007 1320h0M423 1322h0M1102 1323h0M1386 1314h0M973 1318h0M470 1309h0M370 1313h0M1416 1323h0M1428 1319h0M625 1324h0M307 1324h0M227 1320h0M366 1310h0M328 1321h0M1113 1320h0M1269 1320h0M789 1320h0M348 1321h0M177 1315h0M195 1309h0M1299 1324h0M209 1323h0M1272 1313h0M307 1320h0M876 1324h0M797 1325h0M1091 1319h0M1282 1323h0M871 1324h0M643 1325h0M791 1319h0M728 1323h0M609 1317h0M554 1325h0M367 1319h0M1279 1323h0M893 1316h0M1221 1322h0M1398 1323h0M680 1315h0M668 1319h0M1185 1321h0M533 1321h0M605 1316h0M1109 1325h0M402 1319h0M823 1318h0M1093 1319h0M1185 1315h0M654 1324h0M288 1323h0M219 1323h0M1035 1323h0M685 1323h0M895 1308h0M604 1320h0M822 1325h0M951 1312h0M997 1323h0M1326 1321h0M894 1319h0M548 1316h0M1108 1311h0M986 1317h0M1343 1320h0M327 1320h0M513 1309h0M702 1320h0M1115 1319h0M181 1323h0M330 1316h0M1086 1319h0M811 1312h0M1311 1321h0M509 1320h0M1216 1325h0M750 1322h0M863 1324h0M805 1317h0M1263 1325h0M386 1318h0M1343 1320h0M1046 1324h0M741 1321h0M883 1321h0M273 1322h0M1210 1317h0M1371 1322h0M1255 1320h0M460 1312h0M587 1320h0M1016 1319h0M482 1324h0M839 1313h0M405 1311h0M414 1321h0M310 1322h0M324 1323h0M1007 1325h0M862 1315h0M606 1321h0M526 1316h0M691 1321h0M817 1325h0M766 1325h0M931 1325h0M1055 1323h0M1241 1315h0M913 1313h0M522 1320h0M321 1313h0M1146 1312h0M1005 1310h0M639 1322h0M361 1316h0M998 1315h0M212 1311h0M1253 1323h0M312 1313h0M758 1316h0M251 1321h0M239 1324h0M1163 1321h0M436 1316h0M1340 1324h0M304 1310h0M1051 1324h0M259 1314h0M909 1314h0M926 1311h0M1172 1316h0M249 1323h0M984 1321h0M1313 1325h0M513 1322h0M564 1323h0M850 1315h0M949 1323h0M532 1316h0M684 1317h0M755 1319h0M202 1323h0M513 1321h0M1067 1323h0M526 1312h0M1125 1316h0M496 1323h0M1330 1320h0M1042 1323h0M498 1324h0M224 1308h0M1269 1312h0M1033 1316h0M615 1315h0M571 1314h0M1125 1314h0M360 1320h0M960 1324h0M1233 1318h0M828 1310h0M1199 1325h0M213 1324h0M1185 1320h0M924 1315h0M1211 1315h0M854 1325h0M229 1323h0M738 1325h0M1015 1314h0M500 1325h0M1235 1323h0M334 1312h0M1030 1311h0M724 1321h0M1095 1321h0M336 1316h0M184 1320h0M293 1322h0M942 1315h0M607 1315h0M911 1319h0M822 1321h0M1361 1323h0M324 1322h0M889 1325h0M607 1322h0M417 1322h0M773 1318h0M981 1312h0M809 1319h0M1266 1324h0M266 1316h0M251 1320h0M1137 1323h0M844 1311h0M449 1320h0M163 1325h0M681 1319h0M217 1325h0M480 1320h0M770 1322h0M803 1321h0M584 1321h0M494 1323h0M181 1322h0M1351 1312h0M181 1324h0M1049 1310h0M570 1318h0M440 1322h0M863 1311h0M558 1318h0M968 1322h0M995 1324h0M512 1322h0M522 1318h0M910 1318h0M1406 1325h0M696 1322h0M913 1316h0M1420 1313h0M716 1321h0M615 1321h0M1012 1324h0M412 1319h0M950 1317h0M372 1321h0M1343 1321h0M470 1315h0M441 1317h0M418 1319h0M760 1313h0M982 1323h0M233 1317h0M668 1322h0M1276 1315h0M1373 1315h0M203 1321h0M1033 1312h0M795 1322h0M605 1317h0M879 1317h0M866 1321h0M192 1313h0M1426 1323h0M583 1321h0M466 1320h0M768 1319h0M1211 1324h0M1360 1321h0M1242 1322h0M489 1319h0M237 1320h0M718 1313h0M1223 1322h0M929 1315h0M1034 1314h0M1142 1317h0M455 1320h0M256 1308h0M1221 1309h0M1134 1324h0M1427 1320h0M550 1318h0M1006 1315h0M185 1323h0M1328 1321h0M1262 1316h0M1125 1322h0M1095 1322h0M445 1313h0M931 1322h0M317 1323h0M970 1319h0M956 1325h0M944 1314h0M1330 1318h0M493 1316h0M368 1318h0M1189 1315h0M447 1321h0M622 1310h0M896 1324h0M723 1321h0M444 1320h0M1353 1312h0M1347 1325h0M262 1321h0M223 1310h0M624 1325h0M216 1325h0M880 1325h0M1359 1323h0M1423 1322h0M261 1309h0M242 1322h0M1255 1324h0M434 1317h0M340 1319h0M1122 1316h0M380 1324h0M424 1321h0M1299 1324h0M1341 1309h0M469 1312h0M1019 1313h0M431 1321h0M1349 1319h0M917 1310h0M1239 1323h0M1320 1319h0M1390 1315h0M758 1317h0M588 1311h0M1369 1323h0M642 1315h0M1262 1321h0M755 1325h0M1121 1318h0M609 1324h0M569 1311h0M274 1312h0M936 1320h0M982 1310h0M780 1320h0M296 1325h0M1343 1320h0M371 1321h0M1071 1310h0M979 1317h0M361 1317h0M627 1310h0M489 1325h0M817 1322h0M604 1324h0M562 1319h0M666 1314h0M378 1323h0M807 1324h0M1245 1320h0M969 1313h0M377 1309h0M198 1323h0M419 1324h0M1343 1319h0M206 1314h0M949 1319h0M1200 1311h0M696 1322h0M1190 1315h0M641 1323h0M296 1322h0M614 1319h0M1003 1324h0M1356 1313h0M524 1321h0M546 1319h0M1147 1324h0M862 1320h0M780 1313h0M1390 1325h0M292 1325h0M1393 1317h0M1375 1324h0M352 1309h0M1285 1313h0M1130 1320h0M404 1311h0M727 1314h0M758 1314h0M727 1320h0M738 1319h0M708 1321h0M1237 1324h0M300 1325h0M1032 1324h0M1393 1322h0M1139 1325h0M196 1317h0M1221 1321h0M1143 1324h0M699 1310h0M956 1310h0M1028 1319h0M669 1315h0M415 1319h0M827 1315h0M876 1324h0M1311 1318h0M922 1322h0M816 1315h0M460 1313h0M1244 1323h0M712 1321h0M648 1322h0M1103 1319h0M296 1309h0M1263 1316h0M1371 1315h0M699 1317h0M1179 1315h0M564 1320h0M689 1325h0M891 1309h0M1267 1312h0M314 1310h0M600 1324h0M308 1322h0M170 1319h0M831 1320h0M368 1322h0M574 1317h0M961 1322h0M539 1311h0M856 1325h0M736 1324h0M366 1311h0M861 1315h0M406 1312h0M409 1316h0M751 1320h0M884 1323h0M1008 1316h0M738 1322h0M941 1324h0M380 1325h0M1077 1319h0M1340 1318h0M1192 1324h0M282 1312h0M338 1324h0M1339 1317h0M740 1324h0M1274 1316h0M1044 1312h0M836 1320h0M1187 1325h0M465 1323h0M485 1324h0M1179 1312h0M472 1315h0M448 1317h0M337 1323h0M417 1324h0M529 1310h0M1297 1318h0M256 1320h0M343 1324h0M409 1323h0M327 1324h0M493 1315h0M1281 1320h0M718 1315h0M1125 1322h0M432 1317h0M1341 1317h0M582 1321h0M452 1322h0M264 1325h0M971 1324h0M437 1325h0M164 1324h0M685 1324h0M838 1318h0M912 1309h0M768 1311h0M212 1315h0M1285 1325h0M913 1314h0M1389 1320h0M769 1324h0M515 1320h0M568 1315h0M1047 1310h0M905 1322h0M1067 1309h0M1135 1325h0M639 1318h0M233 1325h0M1247 1319h0M437 1313h0M588 1324h0M1355 1323h0M1340 1312h0M246 1311h0M820 1312h0M715 1315h0M416 1325h0M465 1325h0M1303 1320h0M728 1320h0M755 1313h0M455 1324h0M620 1322h0M518 1317h0M179 1316h0M924 1309h0M409 1316h0M1242 1310h0M1022 1323h0M1251 1311h0M953 1313h0M437 1325h0M192 1314h0M240 1321h0M1380 1321h0M1293 1320h0M726 1312h0M499 1317h0M208 1318h0M934 1323h0M1290 1318h0M338 1320h0M639 1322h0M973 1313h0M532 1322h0M468 1317h0M1153 1322h0M1219 1323h0M844 1324h0M1268 1318h0M970 1314h0M1252 1323h0M877 1323h0M959 1323h0M435 1325h0M1381 1319h0M1392 1323h0M593 1321h0M277 1322h0M1094 1320h0M812 1321h0M1044 1318h0M453 1325h0M873 1317h0M766 1322h0M661 1318h0M1385 1323h0M466 1324h0M1394 1319h0M324 1322h0M1355 1324h0M933 1325h0M343 1322h0M1125 1323h0M1391 1320h0M479 1323h0M732 1314h0M901 1317h0M982 1319h0M561 1320h0M1147 1316h0M970 1317h0M1291 1324h0M1262 1313h0M432 1316h0M1016 1323h0M1414 1318h0M1040 1310h0M1220 1318h0M314 1316h0M239 1325h0M995 1323h0M488 1322h0M636 1308h0M1283 1313h0M1224 1324h0M1112 1318h0M918 1321h0M1357 1313h0M869 1310h0M1126 1323h0M1167 1319h0M1399 1316h0M657 1313h0M385 1312h0M1334 1324h0M543 1321h0M389 1317h0M264 1321h0M385 1318h0M744 1317h0M402 1324h0M1374 1321h0M262 1319h0M375 1324h0M1097 1311h0M754 1325h0M554 1322h0M1128 1321h0M1126 1311h0M633 1315h0M736 1317h0M1214 1321h0M1260 1323h0M951 1323h0M1129 1325h0M1211 1311h0M1114 1316h0M418 1322h0M284 1319h0M934 1316h0M1314 1315h0M654 1317h0M545 1319h0M605 1317h0M1036 1317h0M982 1312h0M1288 1323h0M1296 1322h0M965 1323h0M344 1324h0M1157 1322h0M1086 1322h0M579 1314h0M371 1322h0M1097 1322h0M1417 1320h0M1191 1318h0M456 1325h0M561 1323h0M1423 1324h0M393 1321h0M752 1311h0M316 1316h0M186 1320h0M896 1311h0M309 1322h0M363 1322h0M798 1312h0M854 1315h0M990 1322h0M1379 1323h0M395 1321h0M690 1322h0M178 1316h0M522 1314h0M306 1324h0M552 1320h0M437 1324h0M715 1310h0M216 1312h0M211 1315h0M315 1323h0M226 1324h0M1065 1325h0M1141 1315h0M178 1323h0M770 1319h0M1058 1319h0M1046 1321h0M1226 1313h0M1149 1319h0M665 1325h0M1181 1315h0M666 1321h0M1046 1316h0M1008 1312h0M319 1321h0M425 1321h0M892 1323h0M1426 1308h0M195 1320h0M834 1319h0M571 1324h0M1214 1323h0M847 1310h0M959 1312h0M594 1325h0M620 1321h0M787 1325h0M790 1325h0M1065 1325h0M935 1325h0M1175 1317h0M775 1319h0M284 1323h0M343 1316h0M405 1323h0M877 1317h0M395 1323h0M211 1325h0M916 1323h0M779 1316h0M834 1320h0M648 1323h0M1174 1319h0M1131 1321h0M1418 1323h0M984 1313h0M1406 1321h0M406 1323h0M1090 1324h0M1032 1313h0M1101 1309h0M975 1325h0M1088 1315h0M174 1312h0M972 1321h0M460 1313h0M705 1321h0M481 1315h0M309 1321h0M490 1322h0M469 1321h0M838 1322h0M462 1317h0M243 1310h0M1074 1323h0M1177 1313h0M398 1319h0M594 1312h0M982 1318h0M617 1318h0M1267 1311h0M316 1315h0M923 1310h0M571 1314h0M966 1324h0M915 1325h0M1028 1322h0M1154 1322h0M575 1324h0M1045 1323h0M1378 1325h0M377 1324h0M680 1315h0M1113 1320h0M1422 1311h0M1083 1312h0M912 1321h0M295 1325h0M825 1318h0M1275 1321h0M801 1319h0M736 1322h0M412 1324h0M1369 1320h0M563 1316h0M1015 1312h0M277 1310h0M357 1322h0M718 1313h0M1299 1319h0M540 1325h0M601 1315h0M835 1321h0M1194 1312h0M1262 1325h0M661 1320h0M1144 1317h0M1389 1320h0M1345 1322h0M305 1322h0M739 1324h0M527 1322h0M984 1315h0M995 1321h0M1006 1324h0M1195 1314h0M705 1314h0M843 1323h0M670 1320h0M1088 1321h0M623 1316h0M451 1314h0M295 1320h0M598 1323h0M261 1320h0M1415 1318h0M200 1312h0M1325 1321h0M359 1319h0M184 1323h0M1259 1325h0M182 1324h0M948 1318h0M488 1324h0M1250 1324h0M608 1313h0M1413 1321h0M967 1314h0M169 1310h0M1414 1315h0M1017 1318h0M408 1318h0M242 1323h0M398 1321h0M908 1309h0M820 1324h0M1319 1322h0M446 1324h0M674 1321h0M381 1318h0M837 1312h0M580 1320h0M708 1322h0M320 1311h0M424 1322h0M294 1318h0M471 1324h0M628 1317h0M270 1318h0M1312 1318h0M1425 1322h0M383 1314h0M452 1325h0M1031 1324h0M578 1312h0M1429 1317h0M303 1313h0M1303 1320h0M1185 1321h0M1135 1311h0M811 1324h0M1183 1320h0M812 1322h0M526 1317h0M1376 1320h0M830 1317h0M1117 1321h0M939 1312h0M1332 1320h0M926 1316h0M887 1323h0M1251 1321h0M744 1323h0M1018 1321h0M316 1319h0M1058 1325h0M410 1322h0M234 1324h0M553 1318h0M496 1318h0M745 1318h0M811 1320h0M961 1324h0M523 1310h0M214 1318h0M538 1313h0M595 1309h0M434 1323h0M1412 1313h0M968 1309h0M266 1324h0M173 1322h0M726 1320h0M420 1317h0M1135 1315h0M174 1314h0M986 1325h0M173 1324h0M376 1318h0M723 1311h0M593 1315h0M1011 1323h0M417 1325h0M212 1322h0M972 1321h0M1225 1321h0M1231 1318h0M1151 1319h0M890 1313h0M898 1314h0M1389 1318h0M180 1325h0M514 1314h0M1018 1323h0M534 1319h0M568 1312h0M1176 1317h0M331 1321h0M642 1322h0M415 1315h0M388 1316h0M708 1322h0M246 1309h0M742 1320h0M409 1320h0M489 1320h0M420 1314h0M1427 1310h0M994 1319h0M232 1319h0M1353 1323h0M1342 1323h0M1339 1324h0M476 1321h0M1376 1324h0M972 1321h0M583 1318h0M1065 1325h0M1068 1308h0M202 1318h0M1213 1320h0M399 1321h0M647 1324h0M403 1320h0M578 1314h0M762 1321h0M1029 1316h0M511 1318h0M424 1324h0M1041 1322h0M1274 1317h0M1057 1311h0M1410 1324h0M340 1320h0M549 1317h0M620 1323h0M582 1316h0M1080 1322h0M1348 1319h0M1101 1324h0M1004 1312h0M221 1322h0M714 1322h0M269 1322h0M773 1321h0M733 1322h0M1377 1322h0M1135 1317h0M210 1310h0M734 1319h0M281 1315h0M765 1320h0M734 1323h0M1040 1325h0M884 1321h0M912 1325h0M1097 1309h0M1072 1316h0M307 1316h0M663 1314h0M1227 1319h0M571 1323h0M570 1318h0M977 1322h0M1392 1321h0M1118 1312h0M457 1320h0M363 1324h0M695 1324h0M870 1316h0M1133 1320h0M1216 1317h0M700 1312h0M570 1319h0M1384 1310h0M422 1324h0M1369 1311h0M393 1322h0M603 1323h0M892 1321h0M324 1322h0M1328 1325h0M612 1323h0M390 1314h0M685 1312h0M1237 1325h0M1350 1321h0M816 1312h0M915 1317h0M561 1313h0M1171 1313h0M593 1324h0M282 1321h0M1005 1314h0M969 1315h0M1038 1324h0M230 1312h0M768 1322h0M1175 1322h0M753 1324h0M554 1313h0M248 1324h0M643 1323h0M719 1318h0M264 1321h0M1182 1312h0M285 1324h0M219 1323h0M555 1323h0M310 1314h0M1250 1320h0M447 1311h0M722 1318h0M859 1310h0M1100 1316h0M622 1325h0M1324 1324h0M512 1321h0M542 1322h0M917 1321h0M821 1323h0M162 1321h0M1272 1321h0M1413 1313h0M1196 1312h0M1230 1323h0M210 1319h0M905 1325h0M1310 1313h0M985 1322h0M191 1316h0M526 1320h0M380 1324h0M614 1313h0M1041 1324h0M822 1322h0M1406 1325h0M1242 1315h0M1249 1325h0M1330 1323h0M1037 1321h0M928 1325h0M632 1319h0M954 1323h0M493 1325h0M855 1323h0M1277 1323h0M598 1320h0M1339 1315h0M1223 1319h0M536 1323h0M1327 1319h0M803 1318h0M210 1313h0M269 1325h0M960 1319h0M1161 1315h0M1083 1325h0M1191 1324h0M491 1313h0M855 1314h0M499 1325h0M1072 1319h0M1250 1315h0M574 1325h0M875 1321h0M1334 1314h0M329 1312h0M236 1318h0M218 1317h0M1175 1320h0M476 1321h0M1007 1324h0M635 1319h0M1196 1324h0M270 1317h0M750 1315h0M328 1317h0M262 1319h0M361 1325h0M1284 1317h0M328 1315h0M606 1323h0M1121 1310h0M903 1322h0M861 1323h0M466 1310h0M1309 1316h0M1150 1325h0M1055 1320h0M170 1314h0M702 1312h0M1216 1319h0M1101 1322h0M225 1309h0M1166 1325h0M998 1325h0M295 1317h0M946 1325h0M337 1324h0M786 1315h0M529 1325h0M326 1322h0M1238 1316h0M483 1324h0M759 1325h0M1159 1309h0M1334 1321h0M474 1310h0M344 1321h0M169 1320h0M1344 1319h0M746 1323h0M368 1320h0M1418 1319h0M550 1317h0M1123 1320h0M981 1317h0M1272 1311h0M1384 1311h0M1395 1324h0M930 1317h0M1099 1313h0M458 1324h0M216 1325h0M473 1317h0M336 1320h0M932 1315h0M1177 1320h0M599 1324h0M916 1324h0M985 1310h0M982 1324h0M1265 1315h0M279 1313h0M691 1317h0M331 1315h0M455 1322h0M277 1312h0M655 1322h0M249 1324h0M515 1316h0M1101 1310h0M1415 1316h0M184 1323h0M906 1321h0M429 1325h0M747 1324h0M692 1314h0M345 1323h0M208 1325h0M213 1323h0M642 1322h0M1083 1318h0M1183 1324h0M1363 1314h0M1134 1318h0M364 1325h0M273 1314h0M1302 1314h0M831 1317h0M649 1320h0M1260 1310h0M320 1313h0M616 1323h0M1171 1323h0M1165 1325h0M1275 1325h0M1051 1314h0M1321 1314h0M251 1324h0M1029 1316h0M1002 1322h0M1078 1321h0M398 1324h0M234 1319h0M1002 1322h0M1360 1316h0M1358 1318h0M1383 1317h0M1206 1323h0M655 1315h0M204 1324h0M586 1323h0M322 1325h0M215 1324h0M1266 1321h0M516 1314h0M896 1320h0M1151 1319h0M603 1309h0M1171 1323h0M765 1323h0M871 1322h0M461 1318h0M908 1325h0M1023 1323h0M614 1324h0M1277 1317h0M1124 1324h0M1012 1325h0M1265 1323h0M802 1324h0M1327 1323h0M328 1324h0M1423 1321h0M257 1309h0M311 1323h0M319 1317h0M1371 1319h0M704 1319h0M522 1317h0M1148 1313h0M272 1325h0M419 1313h0M267 1312h0M859 1315h0M380 1315h0M933 1318h0M868 1310h0M819 1325h0M486 1321h0M1236 1321h0M319 1320h0M906 1324h0M545 1319h0M838 1325h0M184 1324h0M339 1324h0M930 1317h0M455 1315h0M285 1318h0M1010 1312h0M1160 1321h0M990 1316h0M802 1320h0M183 1324h0M729 1311h0M1305 1323h0M233 1316h0M780 1323h0M1317 1312h0M909 1324h0M413 1312h0M673 1323h0M1429 1314h0M901 1323h0M1394 1325h0M1247 1311h0M463 1316h0M465 1315h0M542 1314h0M1288 1313h0M1164 1324h0M900 1325h0M300 1309h0M186 1325h0M1335 1319h0M911 1315h0M1100 1322h0M651 1318h0M1230 1318h0M253 1321h0M817 1321h0M898 1320h0M566 1321h0M399 1312h0M392 1324h0M241 1311h0M849 1318h0M1288 1318h0M294 1323h0M208 1322h0M691 1325h0M426 1318h0M353 1318h0M628 1316h0M873 1324h0M936 1319h0M580 1317h0M574 1325h0M743 1321h0M579 1322h0M880 1324h0M1294 1325h0M868 1316h0M411 1321h0M1213 1323h0M680 1323h0M900 1310h0M726 1325h0M332 1322h0M1259 1324h0M898 1325h0M755 1319h0M402 1323h0M905 1311h0M958 1316h0M1021 1309h0M869 1324h0M622 1315h0M1076 1318h0M718 1322h0M244 1316h0M869 1319h0M779 1322h0M1234 1325h0M634 1315h0M945 1322h0M199 1325h0M703 1323h0M800 1320h0M465 1310h0M175 1322h0M1017 1325h0M179 1325h0M1407 1320h0M1368 1314h0M793 1315h0M1199 1323h0M314 1311h0M184 1321h0M802 1323h0M491 1309h0M686 1320h0M701 1322h0M759 1324h0M726 1313h0M1061 1323h0M975 1308h0M1112 1322h0M1030 1324h0M1387 1325h0M576 1322h0M662 1321h0M422 1321h0M1053 1320h0M1003 1323h0M778 1319h0M1400 1324h0M326 1324h0M1325 1321h0M453 1314h0M438 1314h0M1334 1310h0M232 1315h0M1029 1323h0M1033 1316h0M225 1322h0M419 1323h0M1137 1317h0M191 1323h0M650 1315h0M710 1325h0M1117 1319h0M352 1321h0M461 1322h0M1424 1324h0M1144 1325h0M1173 1316h0M1014 1324h0M471 1320h0M1264 1313h0M1247 1325h0M668 1321h0M554 1313h0M430 1324h0M687 1319h0M685 1324h0M914 1319h0M1012 1325h0M1105 1310h0M399 1323h0M194 1319h0M836 1320h0M919 1322h0M335 1322h0M621 1323h0M1380 1322h0M722 1322h0M518 1324h0M1161 1315h0M327 1318h0M188 1320h0M863 1319h0M265 1323h0M499 1321h0M998 1324h0M1421 1311h0M308 1322h0M794 1317h0M269 1315h0M1376 1316h0M436 1322h0M1039 1313h0M740 1324h0M1275 1323h0M1231 1323h0M1253 1320h0M645 1318h0M1236 1320h0M953 1325h0M1337 1315h0M1041 1318h0M1182 1321h0M735 1325h0M1042 1324h0M424 1323h0M960 1320h0M346 1323h0M455 1321h0M731 1323h0M395 1319h0M1193 1320h0M171 1318h0M753 1325h0M967 1309h0M892 1320h0M634 1310h0M968 1325h0M1111 1318h0M1360 1309h0M785 1325h0M1308 1318h0M1029 1309h0M1111 1313h0M522 1314h0M290 1323h0M1022 1323h0M1187 1316h0M465 1316h0M665 1321h0M394 1316h0M689 1324h0M787 1320h0M846 1317h0M378 1324h0M1415 1325h0M1345 1325h0M623 1319h0M525 1324h0M909 1316h0M1204 1324h0M189 1324h0M218 1324h0M1323 1318h0M1284 1324h0M298 1319h0M304 1320h0M691 1321h0M1103 1322h0M166 1325h0M1133 1322h0M401 1312h0M937 1316h0M1414 1325h0M228 1314h0M295 1322h0M1312 1309h0M729 1321h0M1021 1321h0M1409 1323h0M499 1312h0M951 1322h0M964 1321h0M553 1315h0M1216 1311h0M824 1324h0M1259 1312h0M869 1324h0M609 1314h0M562 1312h0M763 1309h0M1326 1321h0M522 1322h0M478 1312h0M1323 1312h0M455 1322h0M930 1325h0M577 1318h0M465 1322h0M838 1309h0M702 1324h0M417 1312h0M896 1315h0M564 1322h0M355 1323h0M473 1315h0M1333 1324h0M904 1317h0M423 1321h0M857 1317h0M455 1317h0M1144 1309h0M1355 1320h0M639 1325h0M300 1313h0M1297 1313h0M745 1318h0M441 1322h0M1049 1316h0M706 1320h0M515 1323h0M297 1321h0M1178 1315h0M704 1325h0M1122 1325h0M1193 1313h0M773 1323h0M559 1320h0M1042 1318h0M747 1316h0M691 1323h0M1193 1321h0M1017 1325h0M198 1321h0M687 1312h0M1194 1309h0M428 1325h0M1111 1321h0M603 1315h0M206 1316h0M1060 1316h0M1266 1320h0M467 1322h0M476 1320h0M908 1313h0M1387 1310h0M1397 1310h0M414 1321h0M291 1314h0M900 1316h0M333 1317h0M231 1323h0M1391 1324h0M411 1316h0M433 1321h0M1277 1324h0M1112 1324h0M944 1310h0M707 1322h0M639 1322h0M671 1313h0M377 1316h0M261 1325h0M884 1321h0M1342 1323h0M687 1322h0M633 1322h0M1300 1314h0M324 1324h0M531 1320h0M299 1321h0M997 1319h0M1418 1324h0M472 1322h0M1374 1324h0M509 1324h0M597 1318h0M452 1315h0M811 1319h0M1374 1322h0M831 1319h0M698 1323h0M474 1323h0M159 1321h0M585 1323h0M774 1324h0M1216 1321h0M566 1310h0M1225 1312h0M1241 1324h0M794 1309h0M1092 1321h0M1190 1325h0M1427 1317h0M810 1324h0M649 1321h0M1283 1315h0M333 1314h0M1001 1315h0M240 1323h0M1217 1322h0M1246 1310h0M603 1313h0M875 1324h0M1342 1322h0M1137 1320h0M889 1322h0M180 1320h0M1196 1324h0M905 1320h0M384 1320h0M1003 1320h0M1401 1320h0M596 1317h0M182 1324h0M539 1324h0M1268 1325h0M1221 1319h0M931 1316h0M1355 1325h0M662 1309h0M1176 1318h0M457 1325h0M1331 1312h0M1181 1324h0M1199 1325h0M1252 1316h0M1185 1322h0M1042 1318h0M209 1321h0M990 1309h0M751 1312h0M1319 1320h0M1025 1312h0M1287 1314h0M1315 1309h0M619 1318h0M349 1325h0M783 1321h0M1103 1324h0M991 1314h0M281 1318h0M460 1315h0M782 1323h0M1034 1316h0M757 1311h0M346 1325h0M967 1325h0M608 1322h0M1342 1323h0M1174 1319h0M405 1321h0M680 1319h0M716 1309h0M1095 1313h0M1063 1316h0M522 1309h0M1139 1318h0M1283 1317h0M993 1325h0M482 1320h0M326 1319h0M338 1325h0M738 1325h0M1170 1316h0M390 1315h0M1359 1324h0M484 1322h0M1391 1314h0M720 1311h0M204 1319h0M1013 1309h0M1067 1310h0M686 1321h0M460 1315h0M1050 1317h0M348 1320h0M1005 1322h0M800 1321h0M340 1322h0M499 1315h0M1278 1315h0M1423 1324h0M990 1325h0M1291 1318h0M344 1325h0M991 1320h0M1219 1320h0M935 1314h0M1151 1325h0M625 1319h0M1122 1325h0M712 1322h0M937 1318h0M1027 1322h0M1008 1324h0M1140 1322h0M238 1318h0M1027 1325h0M1070 1309h0M523 1322h0M390 1323h0M766 1317h0M260 1325h0M789 1316h0M1091 1322h0M1070 1316h0M304 1325h0M769 1325h0M931 1315h0M1163 1319h0M685 1314h0M301 1314h0M1282 1311h0M1406 1318h0M1308 1314h0M441 1312h0M981 1325h0M883 1319h0M660 1323h0M1392 1322h0M442 1320h0M495 1323h0M486 1318h0M450 1311h0M941 1322h0M1005 1325h0M443 1321h0M446 1325h0M687 1320h0M1414 1322h0M448 1319h0M984 1311h0M303 1324h0M370 1312h0M476 1324h0M280 1321h0M963 1310h0M1289 1324h0M279 1323h0M797 1324h0M1354 1313h0M681 1324h0M695 1316h0M744 1309h0M469 1316h0M1294 1310h0M554 1324h0M1371 1322h0M381 1323h0M982 1324h0M1424 1314h0M827 1324h0M926 1324h0M843 1313h0M1424 1325h0M1218 1311h0M1221 1320h0M905 1313h0M503 1322h0M452 1317h0M928 1318h0M212 1319h0M1390 1319h0M387 1316h0M458 1324h0M330 1324h0M849 1321h0M321 1321h0M410 1319h0M961 1320h0M929 1321h0M1180 1323h0M572 1316h0M796 1318h0M465 1319h0M1240 1319h0M1417 1320h0M1354 1319h0M705 1315h0M429 1323h0M651 1321h0M1307 1322h0M160 1324h0M517 1313h0M228 1308h0M1394 1322h0M235 1310h0M1391 1321h0M445 1323h0M1118 1324h0M700 1323h0M1117 1324h0M331 1319h0M864 1320h0M1250 1314h0M642 1312h0M1181 1313h0M950 1313h0M1078 1321h0M583 1325h0M924 1316h0M414 1323h0M920 1324h0M870 1319h0M1405 1324h0M367 1324h0M1289 1313h0M594 1312h0M991 1320h0M1303 1321h0M1287 1317h0M640 1315h0M798 1324h0M1113 1313h0M1120 1311h0M1306 1316h0M982 1314h0M544 1312h0M747 1315h0M631 1312h0M524 1324h0M325 1321h0M429 1312h0M615 1325h0M697 1322h0M823 1319h0M1139 1324h0M630 1316h0M457 1324h0M288 1318h0M800 1322h0M753 1317h0M1231 1313h0M1254 1317h0M952 1311h0M915 1317h0M464 1325h0M313 1313h0M990 1322h0M935 1319h0M945 1317h0M989 1317h0M274 1311h0M823 1311h0M1043 1324h0M1088 1312h0M1292 1321h0M1321 1321h0M1126 1325h0M1332 1313h0M315 1317h0M1182 1317h0M199 1311h0M1119 1315h0M321 1318h0M764 1324h0M985 1322h0M287 1318h0M195 1320h0M582 1322h0M691 1317h0M1182 1324h0M958 1309h0M1408 1325h0M1256 1322h0M865 1315h0M715 1317h0M200 1324h0M1238 1310h0M463 1323h0M1152 1310h0M960 1313h0M819 1321h0M1170 1320h0M509 1320h0M539 1323h0M271 1313h0M1058 1323h0M1382 1309h0M882 1324h0M1426 1321h0M681 1315h0M620 1317h0M283 1325h0M488 1321h0M394 1324h0M559 1320h0M1309 1313h0M653 1322h0M1369 1324h0M686 1310h0M834 1323h0M793 1321h0M240 1322h0M398 1322h0M955 1322h0M1401 1325h0M787 1323h0M1150 1313h0M1015 1323h0M822 1316h0M1348 1324h0M460 1320h0M1127 1323h0M269 1315h0M652 1324h0M264 1320h0M787 1317h0M216 1317h0M831 1322h0M886 1320h0M265 1317h0M1076 1322h0M1205 1319h0M325 1325h0M285 1324h0M1229 1325h0M1098 1324h0M645 1321h0M658 1323h0M733 1320h0M1062 1320h0M217 1309h0M1266 1324h0M1217 1324h0M1412 1322h0M546 1310h0M1293 1315h0M1099 1317h0M1347 1319h0M178 1321h0M861 1316h0M165 1318h0M1282 1324h0M196 1317h0M457 1325h0M968 1324h0M879 1315h0M893 1316h0M777 1311h0M546 1314h0M1351 1320h0M632 1313h0M801 1324h0M1301 1322h0M905 1318h0M1104 1319h0M746 1322h0M1356 1315h0M1425 1311h0M1099 1325h0M231 1322h0M1225 1324h0M803 1313h0M1040 1318h0M1144 1314h0M234 1313h0M1308 1321h0M801 1314h0M225 1311h0M613 1312h0M698 1324h0M396 1310h0M393 1316h0M1360 1325h0M1187 1325h0M837 1324h0M1081 1318h0M1291 1325h0M670 1313h0M590 1318h0M1264 1319h0M903 1311h0M1340 1323h0M742 1315h0M609 1320h0M1430 1318h0M1413 1312h0M1230 1317h0M234 1319h0M1240 1321h0M696 1317h0M1122 1318h0M1199 1313h0M984 1323h0M767 1322h0M379 1319h0M764 1318h0M742 1321h0M1196 1319h0M1084 1325h0M614 1319h0M240 1317h0M1275 1322h0M356 1325h0M256 1319h0M488 1325h0M1238 1324h0M642 1316h0M1139 1309h0M500 1309h0M787 1324h0M602 1324h0M300 1313h0M779 1324h0M1409 1325h0M1398 1324h0M695 1319h0M747 1325h0M221 1320h0M1251 1321h0M653 1325h0M243 1325h0M268 1323h0M1225 1314h0M1380 1314h0M266 1323h0M1181 1314h0M912 1312h0M550 1317h0M905 1316h0M634 1318h0M163 1325h0M1409 1325h0M891 1313h0M561 1324h0M1383 1311h0M443 1312h0M633 1320h0M511 1325h0M1275 1317h0M341 1323h0M377 1321h0M433 1312h0M1417 1318h0M570 1311h0M1025 1319h0M721 1311h0M1031 1321h0M748 1324h0M500 1315h0M1173 1323h0M903 1316h0M886 1314h0M585 1323h0M1139 1323h0M1174 1324h0M292 1312h0M1396 1315h0M368 1321h0M1125 1318h0M1220 1319h0M1388 1322h0M852 1325h0M944 1325h0M1146 1311h0M727 1321h0M968 1317h0M1142 1315h0M738 1316h0M417 1325h0M1265 1320h0M243 1310h0M885 1312h0M1026 1316h0M614 1316h0M1183 1321h0M325 1323h0M1081 1325h0M548 1321h0M1211 1324h0M744 1320h0M1357 1316h0M1281 1320h0M284 1317h0M269 1320h0M996 1319h0M1419 1324h0M268 1321h0M974 1322h0M702 1321h0M581 1324h0M705 1324h0M283 1308h0M392 1311h0M934 1325h0M644 1311h0M1350 1325h0M1070 1321h0M1331 1313h0M952 1310h0M992 1322h0M366 1322h0M682 1323h0M282 1321h0M844 1313h0M615 1324h0M705 1322h0M739 1316h0M392 1314h0M677 1321h0M387 1314h0M223 1314h0M1413 1313h0M371 1323h0M1211 1316h0M465 1321h0M1110 1319h0M731 1322h0M757 1325h0M1147 1322h0M592 1312h0M906 1322h0M349 1313h0M1215 1319h0M980 1323h0M1140 1320h0M740 1317h0M1143 1324h0M1091 1323h0M1310 1322h0M1361 1323h0M844 1321h0M625 1315h0M735 1320h0M1037 1325h0M851 1323h0M975 1317h0M643 1324h0M1071 1316h0M647 1316h0M621 1313h0M1063 1325h0M731 1317h0M724 1320h0M629 1321h0M1334 1325h0M387 1323h0M411 1314h0M237 1314h0M605 1321h0M497 1324h0M1368 1314h0M385 1321h0M1152 1322h0M1153 1325h0M341 1312h0M1143 1318h0M1326 1323h0M1347 1320h0M605 1321h0M465 1320h0M1050 1316h0M898 1325h0M1209 1317h0M454 1318h0M860 1320h0M370 1322h0M1334 1325h0M655 1312h0M1375 1320h0M920 1315h0M1112 1316h0" stroke="#A6A6A6" stroke-width="2.0" stroke-linecap="round" fill="none"/>
<path d="M155.8 1012.2V1339.6H1431.5" fill="none" stroke="#7A7A7A" stroke-width="1.6"/>
<line x1="151.5" y1="1325.3" x2="155.8" y2="1325.3" stroke="#7A7A7A" stroke-width="1.4"/>
<text x="132.4" y="1333.4" font-size="22.5" fill="#555555" textLength="12.3" lengthAdjust="spacingAndGlyphs">0</text>
<line x1="151.5" y1="1249.7" x2="155.8" y2="1249.7" stroke="#7A7A7A" stroke-width="1.4"/>
<text x="132.1" y="1257.8" font-size="22.5" fill="#555555" textLength="12.9" lengthAdjust="spacingAndGlyphs">2</text>
<line x1="151.5" y1="1174.2" x2="155.8" y2="1174.2" stroke="#7A7A7A" stroke-width="1.4"/>
<text x="132.8" y="1182.3" font-size="22.5" fill="#555555" textLength="11.7" lengthAdjust="spacingAndGlyphs">4</text>
<line x1="151.5" y1="1098.6" x2="155.8" y2="1098.6" stroke="#7A7A7A" stroke-width="1.4"/>
<text x="132.1" y="1106.7" font-size="22.5" fill="#555555" textLength="12.8" lengthAdjust="spacingAndGlyphs">6</text>
<line x1="151.5" y1="1023.1" x2="155.8" y2="1023.1" stroke="#7A7A7A" stroke-width="1.4"/>
<text x="132.3" y="1031.2" font-size="22.5" fill="#555555" textLength="12.6" lengthAdjust="spacingAndGlyphs">8</text>
<text transform="translate(118.2 0) rotate(-90)" x="-1320.5" y="0" font-size="27.0" fill="#555555" textLength="276.3" lengthAdjust="spacingAndGlyphs">Enrichment score (−log10)</text>
<g fill="#F00000">
<circle cx="164.9" cy="1026.7" r="8.1"/>
<circle cx="571.7" cy="1094.4" r="7.0"/>
<circle cx="208.6" cy="1157.7" r="4.6"/>
<circle cx="222.7" cy="1168.2" r="4.2"/>
<circle cx="419.2" cy="1142.3" r="4.6"/>
<circle cx="414.9" cy="1160.4" r="4.5"/>
<circle cx="472.1" cy="1166.0" r="4.3"/>
<circle cx="495.3" cy="1159.8" r="4.5"/>
<circle cx="508.6" cy="1153.6" r="4.6"/>
<circle cx="590.7" cy="1173.4" r="4.2"/>
<circle cx="681.3" cy="1151.9" r="4.4"/>
<circle cx="1018.8" cy="1152.3" r="4.6"/>
<circle cx="1021.6" cy="1172.1" r="4.4"/>
<circle cx="1079.1" cy="1164.4" r="4.4"/>
<circle cx="1161.1" cy="1168.5" r="4.4"/>
<circle cx="1333.5" cy="1171.0" r="4.4"/>
</g>
<text x="175.0" y="1030.7" font-size="16.5" fill="#555555" textLength="45.9" lengthAdjust="spacingAndGlyphs">ACE2</text>
<text x="162.9" y="1150.0" font-size="16.5" fill="#555555" textLength="57.0" lengthAdjust="spacingAndGlyphs">AP1G1</text>
<text x="233.0" y="1184.5" font-size="16.5" fill="#555555" textLength="52.1" lengthAdjust="spacingAndGlyphs">ARIH2</text>
<text x="507.2" y="1110.9" font-size="16.5" fill="#555555" textLength="55.4" lengthAdjust="spacingAndGlyphs">GATA6</text>
<text x="427.9" y="1140.6" font-size="16.5" fill="#555555" textLength="46.9" lengthAdjust="spacingAndGlyphs">CUL5</text>
<text x="324.0" y="1154.2" font-size="16.5" fill="#555555" textLength="82.2" lengthAdjust="spacingAndGlyphs">CTDSPL2</text>
<text x="401.8" y="1183.0" font-size="16.5" fill="#555555" textLength="60.4" lengthAdjust="spacingAndGlyphs">DUSP7</text>
<text x="502.9" y="1176.0" font-size="16.5" fill="#555555" textLength="56.0" lengthAdjust="spacingAndGlyphs">EP300</text>
<text x="517.0" y="1150.5" font-size="16.5" fill="#555555" textLength="56.2" lengthAdjust="spacingAndGlyphs">EXTL2</text>
<text x="599.7" y="1188.1" font-size="16.5" fill="#555555" textLength="50.9" lengthAdjust="spacingAndGlyphs">GNG4</text>
<text x="689.1" y="1150.9" font-size="16.5" fill="#555555" textLength="40.4" lengthAdjust="spacingAndGlyphs">IRF6</text>
<text x="945.4" y="1148.6" font-size="16.5" fill="#555555" textLength="64.7" lengthAdjust="spacingAndGlyphs">PRORY</text>
<text x="952.5" y="1189.0" font-size="16.5" fill="#555555" textLength="60.0" lengthAdjust="spacingAndGlyphs">PRR18</text>
<text x="1087.5" y="1179.2" font-size="16.5" fill="#555555" textLength="46.6" lengthAdjust="spacingAndGlyphs">RLN1</text>
<text x="1170.2" y="1186.7" font-size="16.5" fill="#555555" textLength="76.9" lengthAdjust="spacingAndGlyphs">SLC35F4</text>
<text x="1276.3" y="1184.8" font-size="16.5" fill="#555555" textLength="47.0" lengthAdjust="spacingAndGlyphs">UBP1</text>
<text x="1336.2" y="1017.6" font-size="19.0" fill="#555555" textLength="101.2" lengthAdjust="spacingAndGlyphs">-log10(FDR)</text>
<circle cx="1341" cy="1033.4" r="1.3" fill="#000"/>
<text x="1365.9" y="1039.2" font-size="16.5" fill="#333" textLength="23.4" lengthAdjust="spacingAndGlyphs">0.0</text>
<circle cx="1341" cy="1055.5" r="4.7" fill="#000"/>
<text x="1365.9" y="1061.3" font-size="16.5" fill="#333" textLength="23.5" lengthAdjust="spacingAndGlyphs">0.5</text>
<circle cx="1341" cy="1077.8" r="6.0" fill="#000"/>
<text x="1365.3" y="1083.6" font-size="16.5" fill="#333" textLength="24.1" lengthAdjust="spacingAndGlyphs">1.0</text>
<circle cx="1341" cy="1099.9" r="7.3" fill="#000"/>
<text x="1365.3" y="1105.7" font-size="16.5" fill="#333" textLength="24.2" lengthAdjust="spacingAndGlyphs">1.5</text>
<circle cx="1341" cy="1122.0" r="8.8" fill="#000"/>
<text x="1365.7" y="1127.8" font-size="16.5" fill="#333" textLength="23.6" lengthAdjust="spacingAndGlyphs">2.0</text>
<text x="-1.4" y="1463.7" font-size="46.0" fill="#000" textLength="24.5" lengthAdjust="spacingAndGlyphs">e</text>
<rect x="255.6" y="1576.2" width="25.4" height="267.1" fill="#888888" stroke="#000" stroke-width="2.2"/>
<rect x="285.0" y="1653.3" width="25.4" height="190.0" fill="#D2D2D4" stroke="#707070" stroke-width="2.2"/>
<rect x="314.3" y="1672.3" width="25.4" height="171.0" fill="#BBBBBB" stroke="#000" stroke-width="2.2"/>
<rect x="343.6" y="1681.7" width="25.4" height="161.6" fill="#E8E8E8" stroke="#707070" stroke-width="2.2"/>
<rect x="372.9" y="1685.0" width="25.4" height="158.3" fill="#B0B0B0" stroke="#000" stroke-width="2.2"/>
<rect x="401.8" y="1694.8" width="25.4" height="148.5" fill="#D0D0D2" stroke="#707070" stroke-width="2.2"/>
<rect x="431.5" y="1697.5" width="25.4" height="145.8" fill="#B0B0B0" stroke="#000" stroke-width="2.2"/>
<rect x="460.8" y="1706.7" width="25.4" height="136.6" fill="#F2F2F2" stroke="#707070" stroke-width="2.2"/>
<rect x="490.1" y="1740.3" width="25.4" height="103.0" fill="#D0D0D2" stroke="#000" stroke-width="2.2"/>
<rect x="519.0" y="1745.0" width="25.4" height="98.3" fill="#888888" stroke="#707070" stroke-width="2.2"/>
<rect x="548.8" y="1753.8" width="25.4" height="89.5" fill="#D0D0D2" stroke="#000" stroke-width="2.2"/>
<rect x="577.9" y="1769.1" width="25.4" height="74.2" fill="#BBBBBB" stroke="#707070" stroke-width="2.2"/>
<rect x="607.0" y="1802.7" width="25.4" height="40.6" fill="#E8E8E8" stroke="#000" stroke-width="2.2"/>
<rect x="636.8" y="1805.3" width="25.4" height="38.0" fill="#B0B0B0" stroke="#707070" stroke-width="2.2"/>
<rect x="665.7" y="1836.6" width="25.4" height="6.7" fill="#E8E8E8" stroke="#000" stroke-width="2.2"/>
<rect x="694.8" y="1838.3" width="25.4" height="5.0" fill="#BBBBBB" stroke="#707070" stroke-width="2.2"/>
<rect x="724.6" y="1575.7" width="25.4" height="267.6" fill="#F2F2F2" stroke="#000" stroke-width="2.2"/>
<rect x="753.7" y="1566.4" width="25.4" height="276.9" fill="#D0D0D2" stroke="#707070" stroke-width="2.2"/>
<rect x="782.8" y="1503.0" width="25.4" height="340.3" fill="#888888" stroke="#000" stroke-width="2.2"/>
<path d="M268.3 1565.0V1585.5M261.8 1565.0H274.8M261.8 1585.5H274.8" stroke="#000" stroke-width="2.2" fill="none"/>
<circle cx="268.3" cy="1563.8" r="2.4" fill="#000"/>
<circle cx="268.3" cy="1578.1" r="2.4" fill="#000"/>
<circle cx="268.3" cy="1583.0" r="2.4" fill="#000"/>
<path d="M297.7 1600.2V1704.7M291.2 1600.2H304.2M291.2 1704.7H304.2" stroke="#707070" stroke-width="2.2" fill="none"/>
<circle cx="297.7" cy="1594.1" r="2.4" fill="#000"/>
<circle cx="297.7" cy="1668.0" r="2.4" fill="#000"/>
<circle cx="297.7" cy="1695.0" r="2.4" fill="#000"/>
<path d="M327.0 1670.6V1672.0M320.5 1670.6H333.5M320.5 1672.0H333.5" stroke="#000" stroke-width="2.2" fill="none"/>
<circle cx="323.0" cy="1670.6" r="2.4" fill="#000"/>
<circle cx="327.0" cy="1670.6" r="2.4" fill="#000"/>
<circle cx="331.0" cy="1670.6" r="2.4" fill="#000"/>
<path d="M356.3 1649.4V1713.0M349.8 1649.4H362.8M349.8 1713.0H362.8" stroke="#707070" stroke-width="2.2" fill="none"/>
<circle cx="356.3" cy="1648.0" r="2.4" fill="#000"/>
<circle cx="356.3" cy="1683.2" r="2.4" fill="#000"/>
<circle cx="356.3" cy="1712.0" r="2.4" fill="#000"/>
<path d="M385.6 1650.8V1717.0M379.1 1650.8H392.1M379.1 1717.0H392.1" stroke="#000" stroke-width="2.2" fill="none"/>
<circle cx="385.6" cy="1647.3" r="2.4" fill="#000"/>
<circle cx="385.6" cy="1691.8" r="2.4" fill="#000"/>
<circle cx="385.6" cy="1712.4" r="2.4" fill="#000"/>
<path d="M414.5 1640.8V1746.4M408.0 1640.8H421.0M408.0 1746.4H421.0" stroke="#707070" stroke-width="2.2" fill="none"/>
<circle cx="414.5" cy="1660.4" r="2.4" fill="#000"/>
<circle cx="414.5" cy="1665.7" r="2.4" fill="#000"/>
<circle cx="414.5" cy="1755.0" r="2.4" fill="#000"/>
<path d="M444.2 1647.3V1745.6M437.7 1647.3H450.7M437.7 1745.6H450.7" stroke="#000" stroke-width="2.2" fill="none"/>
<circle cx="440.2" cy="1667.2" r="2.4" fill="#000"/>
<circle cx="448.2" cy="1669.2" r="2.4" fill="#000"/>
<circle cx="444.2" cy="1753.6" r="2.4" fill="#000"/>
<path d="M473.5 1682.9V1729.0M467.0 1682.9H480.0M467.0 1729.0H480.0" stroke="#707070" stroke-width="2.2" fill="none"/>
<circle cx="473.5" cy="1680.0" r="2.4" fill="#000"/>
<circle cx="473.5" cy="1716.3" r="2.4" fill="#000"/>
<circle cx="473.5" cy="1722.5" r="2.4" fill="#000"/>
<path d="M502.8 1711.0V1769.0M496.3 1711.0H509.3M496.3 1769.0H509.3" stroke="#000" stroke-width="2.2" fill="none"/>
<circle cx="502.8" cy="1719.8" r="2.4" fill="#000"/>
<circle cx="502.8" cy="1725.3" r="2.4" fill="#000"/>
<circle cx="502.8" cy="1773.5" r="2.4" fill="#000"/>
<path d="M531.7 1730.9V1757.9M525.2 1730.9H538.2M525.2 1757.9H538.2" stroke="#707070" stroke-width="2.2" fill="none"/>
<circle cx="531.7" cy="1728.8" r="2.4" fill="#000"/>
<circle cx="528.2" cy="1752.0" r="2.4" fill="#000"/>
<circle cx="535.2" cy="1752.0" r="2.4" fill="#000"/>
<path d="M561.5 1721.6V1784.8M555.0 1721.6H568.0M555.0 1784.8H568.0" stroke="#000" stroke-width="2.2" fill="none"/>
<circle cx="561.5" cy="1720.1" r="2.4" fill="#000"/>
<circle cx="561.5" cy="1755.7" r="2.4" fill="#000"/>
<circle cx="561.5" cy="1782.7" r="2.4" fill="#000"/>
<path d="M590.6 1738.9V1797.8M584.1 1738.9H597.1M584.1 1797.8H597.1" stroke="#707070" stroke-width="2.2" fill="none"/>
<circle cx="590.6" cy="1737.4" r="2.4" fill="#000"/>
<circle cx="590.6" cy="1771.9" r="2.4" fill="#000"/>
<circle cx="590.6" cy="1796.0" r="2.4" fill="#000"/>
<path d="M619.7 1791.7V1811.8M613.2 1791.7H626.2M613.2 1811.8H626.2" stroke="#000" stroke-width="2.2" fill="none"/>
<circle cx="619.7" cy="1790.2" r="2.4" fill="#000"/>
<circle cx="616.2" cy="1808.5" r="2.4" fill="#000"/>
<circle cx="623.2" cy="1808.5" r="2.4" fill="#000"/>
<path d="M649.5 1773.0V1835.5M643.0 1773.0H656.0M643.0 1835.5H656.0" stroke="#707070" stroke-width="2.2" fill="none"/>
<circle cx="649.5" cy="1775.1" r="2.4" fill="#000"/>
<circle cx="649.5" cy="1799.9" r="2.4" fill="#000"/>
<circle cx="649.5" cy="1837.6" r="2.4" fill="#000"/>
<path d="M678.4 1833.0V1840.0M671.9 1833.0H684.9M671.9 1840.0H684.9" stroke="#000" stroke-width="2.2" fill="none"/>
<circle cx="675.4" cy="1834.5" r="2.4" fill="#000"/>
<circle cx="681.4" cy="1838.5" r="2.4" fill="#000"/>
<circle cx="678.4" cy="1840.0" r="2.4" fill="#000"/>
<path d="M707.5 1836.5V1840.0M701.0 1836.5H714.0M701.0 1840.0H714.0" stroke="#707070" stroke-width="2.2" fill="none"/>
<circle cx="707.5" cy="1836.0" r="2.4" fill="#000"/>
<circle cx="703.5" cy="1840.0" r="2.4" fill="#000"/>
<circle cx="711.5" cy="1840.0" r="2.4" fill="#000"/>
<path d="M737.3 1499.1V1651.1M730.8 1499.1H743.8M730.8 1651.1H743.8" stroke="#000" stroke-width="2.2" fill="none"/>
<circle cx="737.3" cy="1491.6" r="2.4" fill="#000"/>
<circle cx="737.3" cy="1594.4" r="2.4" fill="#000"/>
<circle cx="737.3" cy="1640.4" r="2.4" fill="#000"/>
<path d="M766.4 1541.2V1590.1M759.9 1541.2H772.9M759.9 1590.1H772.9" stroke="#707070" stroke-width="2.2" fill="none"/>
<circle cx="766.4" cy="1537.5" r="2.4" fill="#000"/>
<circle cx="766.4" cy="1577.2" r="2.4" fill="#000"/>
<circle cx="766.4" cy="1581.5" r="2.4" fill="#000"/>
<path d="M795.5 1485.5V1519.0M789.0 1485.5H802.0M789.0 1519.0H802.0" stroke="#000" stroke-width="2.2" fill="none"/>
<circle cx="795.5" cy="1483.6" r="2.4" fill="#000"/>
<circle cx="795.5" cy="1507.1" r="2.4" fill="#000"/>
<circle cx="795.5" cy="1515.9" r="2.4" fill="#000"/>
<path d="M241.4 1453.2V1843.3" stroke="#000" stroke-width="3.6" fill="none"/>
<path d="M224.8 1843.3H829" stroke="#000" stroke-width="3.6" fill="none"/>
<line x1="225.6" y1="1843.3" x2="243" y2="1843.3" stroke="#000" stroke-width="3.6"/>
<line x1="225.6" y1="1713.1" x2="243" y2="1713.1" stroke="#000" stroke-width="3.6"/>
<line x1="225.6" y1="1582.9" x2="243" y2="1582.9" stroke="#000" stroke-width="3.6"/>
<line x1="225.6" y1="1452.7" x2="243" y2="1452.7" stroke="#000" stroke-width="3.6"/>
<text x="170.8" y="1462.7" font-size="27.5" font-weight="bold" fill="#000" textLength="49.8" lengthAdjust="spacingAndGlyphs">150</text>
<text x="170.8" y="1592.9" font-size="27.5" font-weight="bold" fill="#000" textLength="49.8" lengthAdjust="spacingAndGlyphs">100</text>
<text x="187.6" y="1723.1" font-size="27.5" font-weight="bold" fill="#000" textLength="33.0" lengthAdjust="spacingAndGlyphs">50</text>
<text x="205.0" y="1853.3" font-size="27.5" font-weight="bold" fill="#000" textLength="14.3" lengthAdjust="spacingAndGlyphs">0</text>
<line x1="268.3" y1="1843.3" x2="268.3" y2="1858.8" stroke="#000" stroke-width="3.4"/>
<text transform="translate(274.3 1879.5) rotate(-45)" x="0" y="0" font-size="24.5" font-weight="bold" text-anchor="end" fill="#000">WT</text>
<line x1="297.7" y1="1843.3" x2="297.7" y2="1858.8" stroke="#000" stroke-width="3.4"/>
<text transform="translate(303.7 1879.5) rotate(-45)" x="0" y="0" font-size="24.5" font-weight="bold" text-anchor="end" fill="#000">CHMP2B</text>
<line x1="327.0" y1="1843.3" x2="327.0" y2="1858.8" stroke="#000" stroke-width="3.4"/>
<text transform="translate(333.0 1879.5) rotate(-45)" x="0" y="0" font-size="24.5" font-weight="bold" text-anchor="end" fill="#000">EXTL2</text>
<line x1="356.3" y1="1843.3" x2="356.3" y2="1858.8" stroke="#000" stroke-width="3.4"/>
<text transform="translate(362.3 1879.5) rotate(-45)" x="0" y="0" font-size="24.5" font-weight="bold" text-anchor="end" fill="#000">PRORY</text>
<line x1="385.6" y1="1843.3" x2="385.6" y2="1858.8" stroke="#000" stroke-width="3.4"/>
<text transform="translate(391.6 1879.5) rotate(-45)" x="0" y="0" font-size="24.5" font-weight="bold" text-anchor="end" fill="#000">EFHB</text>
<line x1="414.5" y1="1843.3" x2="414.5" y2="1858.8" stroke="#000" stroke-width="3.4"/>
<text transform="translate(420.5 1879.5) rotate(-45)" x="0" y="0" font-size="24.5" font-weight="bold" text-anchor="end" fill="#000">DUSP7</text>
<line x1="444.2" y1="1843.3" x2="444.2" y2="1858.8" stroke="#000" stroke-width="3.4"/>
<text transform="translate(450.2 1879.5) rotate(-45)" x="0" y="0" font-size="24.5" font-weight="bold" text-anchor="end" fill="#000">SLC35F4</text>
<line x1="473.5" y1="1843.3" x2="473.5" y2="1858.8" stroke="#000" stroke-width="3.4"/>
<text transform="translate(479.5 1879.5) rotate(-45)" x="0" y="0" font-size="24.5" font-weight="bold" text-anchor="end" fill="#000">IRF6</text>
<line x1="502.8" y1="1843.3" x2="502.8" y2="1858.8" stroke="#000" stroke-width="3.4"/>
<text transform="translate(508.8 1879.5) rotate(-45)" x="0" y="0" font-size="24.5" font-weight="bold" text-anchor="end" fill="#000">EP300</text>
<line x1="531.7" y1="1843.3" x2="531.7" y2="1858.8" stroke="#000" stroke-width="3.4"/>
<text transform="translate(537.7 1879.5) rotate(-45)" x="0" y="0" font-size="24.5" font-weight="bold" text-anchor="end" fill="#000">PRR18</text>
<line x1="561.5" y1="1843.3" x2="561.5" y2="1858.8" stroke="#000" stroke-width="3.4"/>
<text transform="translate(567.5 1879.5) rotate(-45)" x="0" y="0" font-size="24.5" font-weight="bold" text-anchor="end" fill="#000">RLN1</text>
<line x1="590.6" y1="1843.3" x2="590.6" y2="1858.8" stroke="#000" stroke-width="3.4"/>
<text transform="translate(596.6 1879.5) rotate(-45)" x="0" y="0" font-size="24.5" font-weight="bold" text-anchor="end" fill="#000">CUL5</text>
<line x1="619.7" y1="1843.3" x2="619.7" y2="1858.8" stroke="#000" stroke-width="3.4"/>
<text transform="translate(625.7 1879.5) rotate(-45)" x="0" y="0" font-size="24.5" font-weight="bold" text-anchor="end" fill="#000">AP1G1</text>
<line x1="649.5" y1="1843.3" x2="649.5" y2="1858.8" stroke="#000" stroke-width="3.4"/>
<text transform="translate(655.5 1879.5) rotate(-45)" x="0" y="0" font-size="24.5" font-weight="bold" text-anchor="end" fill="#000">CTDSPL2</text>
<line x1="678.4" y1="1843.3" x2="678.4" y2="1858.8" stroke="#000" stroke-width="3.4"/>
<text transform="translate(684.4 1879.5) rotate(-45)" x="0" y="0" font-size="24.5" font-weight="bold" text-anchor="end" fill="#000">ACE2</text>
<line x1="707.5" y1="1843.3" x2="707.5" y2="1858.8" stroke="#000" stroke-width="3.4"/>
<text transform="translate(713.5 1879.5) rotate(-45)" x="0" y="0" font-size="24.5" font-weight="bold" text-anchor="end" fill="#000">GATA6</text>
<line x1="737.3" y1="1843.3" x2="737.3" y2="1858.8" stroke="#000" stroke-width="3.4"/>
<text transform="translate(743.3 1879.5) rotate(-45)" x="0" y="0" font-size="24.5" font-weight="bold" text-anchor="end" fill="#000">MMP23B</text>
<line x1="766.4" y1="1843.3" x2="766.4" y2="1858.8" stroke="#000" stroke-width="3.4"/>
<text transform="translate(772.4 1879.5) rotate(-45)" x="0" y="0" font-size="24.5" font-weight="bold" text-anchor="end" fill="#000">HUS1</text>
<line x1="795.5" y1="1843.3" x2="795.5" y2="1858.8" stroke="#000" stroke-width="3.4"/>
<text transform="translate(801.5 1879.5) rotate(-45)" x="0" y="0" font-size="24.5" font-weight="bold" text-anchor="end" fill="#000">RER1</text>
<text transform="translate(113.6 0) rotate(-90)" x="-1781.3" y="0" font-size="33.0" font-weight="bold" fill="#000" textLength="272.8" lengthAdjust="spacingAndGlyphs">Viral infection (%)</text>
<text transform="translate(152.5 0) rotate(-90)" x="-1776.3" y="0" font-size="33.0" font-weight="bold" fill="#000" textLength="261.6" lengthAdjust="spacingAndGlyphs">normalized to NT</text>
<path d="M285.9 1471.8H692.7M712.3 1471.8H828.5" stroke="#000" stroke-width="2.2"/>
<text x="411.6" y="1462.0" font-size="18.5" fill="#000" textLength="154.4" lengthAdjust="spacingAndGlyphs">enriched sgRNA</text>
<text x="694.4" y="1462.0" font-size="18.5" fill="#000" textLength="151.6" lengthAdjust="spacingAndGlyphs">depleted sgRNA</text>
<path d="M319.1 1627.7H394.4M407.7 1628.3H482.9M501.3 1696.8H713.8" stroke="#000" stroke-width="2.2"/>
<text x="356.3" y="1632.5" font-size="22.0" text-anchor="middle" fill="#000">*</text>
<text x="446.8" y="1633.0" font-size="22.0" text-anchor="middle" fill="#000">**</text>
<text x="594.5" y="1701.5" font-size="22.0" text-anchor="middle" fill="#000">***</text>
<defs><filter id="spk" x="0" y="0" width="1" height="1"><feTurbulence type="fractalNoise" baseFrequency="0.55" numOctaves="1" seed="4"/><feColorMatrix values="0 0 0 0 1  0 0 0 0 1  0 0 0 0 1  0 0 0 -3 1.9"/><feComposite in2="SourceGraphic" operator="in"/></filter><filter id="bl" x="-20%" y="-20%" width="140%" height="140%"><feGaussianBlur stdDeviation="2.2"/></filter><filter id="soft" x="0" y="0" width="1" height="1"><feGaussianBlur stdDeviation="0.7"/></filter><clipPath id="fc1"><rect x="993.5" y="1529.8" width="471.5" height="115.6"/></clipPath><clipPath id="fc2"><rect x="993.3" y="1676" width="471.7" height="116.2"/></clipPath><clipPath id="w1"><ellipse cx="1178.6" cy="1734.3" rx="45.5" ry="49.7"/></clipPath><clipPath id="w2"><ellipse cx="1289" cy="1735" rx="46" ry="48"/></clipPath><clipPath id="w3"><ellipse cx="1402" cy="1736" rx="46" ry="49"/></clipPath></defs>
<text x="982.3" y="1462.3" font-size="42.0" fill="#000" textLength="12.8" lengthAdjust="spacingAndGlyphs">f</text>
<g clip-path="url(#fc1)"><g filter="url(#soft)">
<rect x="993.5" y="1529.8" width="471.5" height="115.6" fill="#ADB6CC"/>
<rect x="993.5" y="1583.6" width="471.5" height="10" fill="#BAC1D4" opacity="0.8"/>
<ellipse cx="1057.5" cy="1587.5" rx="54.5" ry="53.0" fill="#B3B8DD" stroke="#C9CDEA" stroke-width="1.6"/><ellipse cx="1060.5" cy="1589.5" rx="50.5" ry="49.0" fill="#7C7ED6" opacity="0.55"/><ellipse cx="1059.2" cy="1586.0" rx="42.0" ry="49.0" fill="#6657D8"/><ellipse cx="1059.2" cy="1586.0" rx="42.0" ry="49.0" fill="#fff" opacity="0.16" filter="url(#spk)"/><path d="M1005.7 1603.4A53.4 51.9 0 0 1 1046.6 1536.1" fill="none" stroke="#E4E8F6" stroke-width="1.8" opacity="0.6"/><path d="M1030.2 1633.1A53.4 51.9 0 0 0 1090.2 1628.8" fill="none" stroke="#E8ECF8" stroke-width="2" opacity="0.65"/>
<ellipse cx="1178.5" cy="1587.5" rx="55.0" ry="54.0" fill="#B3B8DD" stroke="#C9CDEA" stroke-width="1.6"/><ellipse cx="1181.5" cy="1589.5" rx="51.0" ry="50.0" fill="#7C7ED6" opacity="0.55"/><ellipse cx="1173.7" cy="1586.0" rx="41.0" ry="49.0" fill="#2A14D6"/><path d="M1126.2 1603.7A53.9 52.9 0 0 1 1167.5 1535.1" fill="none" stroke="#E4E8F6" stroke-width="1.8" opacity="0.6"/><path d="M1151.0 1633.9A53.9 52.9 0 0 0 1211.5 1629.6" fill="none" stroke="#E8ECF8" stroke-width="2" opacity="0.65"/>
<path d="M1196 1545 q4 10 -2 20 q6 6 -3 14" stroke="#C9B8E8" stroke-width="1.8" fill="none"/>
<ellipse cx="1135" cy="1622" rx="6" ry="9" fill="#8AB0E8" opacity="0.8"/>
<ellipse cx="1296.7" cy="1588.0" rx="54.0" ry="53.0" fill="#B3B8DD" stroke="#C9CDEA" stroke-width="1.6"/><ellipse cx="1296.7" cy="1587.6" rx="50.0" ry="50.5" fill="#5843DA"/><ellipse cx="1296.7" cy="1587.6" rx="50.0" ry="50.5" fill="#fff" opacity="0.05" filter="url(#spk)"/><path d="M1245.4 1603.9A52.9 51.9 0 0 1 1285.9 1536.6" fill="none" stroke="#E4E8F6" stroke-width="1.8" opacity="0.6"/><path d="M1269.7 1633.6A52.9 51.9 0 0 0 1329.1 1629.3" fill="none" stroke="#E8ECF8" stroke-width="2" opacity="0.65"/>
<ellipse cx="1405.2" cy="1589.3" rx="53.0" ry="53.0" fill="#B3B8DD" stroke="#C9CDEA" stroke-width="1.6"/><ellipse cx="1408.2" cy="1591.3" rx="49.0" ry="49.0" fill="#7C7ED6" opacity="0.55"/><ellipse cx="1405.2" cy="1589.3" rx="45.0" ry="49.7" fill="#5440DA"/><ellipse cx="1405.2" cy="1589.3" rx="45.0" ry="49.7" fill="#fff" opacity="0.05" filter="url(#spk)"/><path d="M1354.9 1605.2A51.9 51.9 0 0 1 1394.6 1537.9" fill="none" stroke="#E4E8F6" stroke-width="1.8" opacity="0.6"/><path d="M1378.7 1634.9A51.9 51.9 0 0 0 1437.0 1630.6" fill="none" stroke="#E8ECF8" stroke-width="2" opacity="0.65"/>
</g></g>
<g clip-path="url(#fc2)"><g filter="url(#soft)">
<rect x="993.5" y="1676.0" width="471.5" height="116.2" fill="#ADB6CC"/>
<rect x="993.5" y="1730.1" width="471.5" height="10" fill="#BAC1D4" opacity="0.8"/>
<ellipse cx="1057.5" cy="1735.5" rx="54.5" ry="53.0" fill="#B3B8DD" stroke="#C9CDEA" stroke-width="1.6"/><ellipse cx="1060.5" cy="1737.5" rx="50.5" ry="49.0" fill="#7C7ED6" opacity="0.55"/><ellipse cx="1060.0" cy="1736.0" rx="42.0" ry="49.0" fill="#6455D8"/><ellipse cx="1060.0" cy="1736.0" rx="42.0" ry="49.0" fill="#fff" opacity="0.16" filter="url(#spk)"/><path d="M1005.7 1751.4A53.4 51.9 0 0 1 1046.6 1684.1" fill="none" stroke="#E4E8F6" stroke-width="1.8" opacity="0.6"/><path d="M1030.2 1781.1A53.4 51.9 0 0 0 1090.2 1776.8" fill="none" stroke="#E8ECF8" stroke-width="2" opacity="0.65"/>
<ellipse cx="1180.3" cy="1733.7" rx="54.5" ry="52.8" fill="#B3B8DD" stroke="#C9CDEA" stroke-width="1.6"/><ellipse cx="1183.3" cy="1735.7" rx="50.5" ry="48.8" fill="#7C7ED6" opacity="0.55"/><ellipse cx="1178.6" cy="1734.3" rx="45.5" ry="49.7" fill="#A7A5DC"/><ellipse cx="1178.6" cy="1734.3" rx="45.5" ry="49.7" fill="#fff" opacity="0.30" filter="url(#spk)"/><path d="M1128.5 1749.5A53.4 51.7 0 0 1 1169.4 1682.5" fill="none" stroke="#E4E8F6" stroke-width="1.8" opacity="0.6"/><path d="M1153.0 1779.1A53.4 51.7 0 0 0 1213.0 1774.9" fill="none" stroke="#E8ECF8" stroke-width="2" opacity="0.65"/>
<g clip-path="url(#w1)"><path d="M1203.5 1737.0C1204.1 1740.6 1206.5 1745.0 1205.8 1748.6C1205.2 1752.2 1202.2 1755.6 1199.8 1758.8C1197.4 1762.0 1194.9 1766.7 1191.3 1767.8C1187.7 1768.9 1182.1 1765.7 1178.2 1765.3C1174.2 1765.0 1171.1 1766.4 1167.8 1765.8C1164.5 1765.2 1161.3 1763.3 1158.4 1761.6C1155.4 1759.9 1153.1 1757.9 1149.9 1755.8C1146.8 1753.6 1140.7 1751.9 1139.7 1748.8C1138.7 1745.6 1143.6 1740.8 1143.9 1737.0C1144.2 1733.2 1140.7 1729.1 1141.7 1725.9C1142.7 1722.8 1147.4 1720.8 1150.0 1718.3C1152.7 1715.8 1154.7 1713.1 1157.6 1711.1C1160.5 1709.1 1163.8 1707.7 1167.4 1706.2C1171.0 1704.7 1175.6 1701.7 1179.3 1702.1C1183.1 1702.4 1187.6 1705.4 1190.1 1708.3C1192.6 1711.3 1192.4 1716.5 1194.4 1719.6C1196.3 1722.7 1200.3 1723.9 1201.8 1726.8C1203.3 1729.7 1202.8 1733.4 1203.5 1737.0Z" fill="#7F6FDA" filter="url(#bl)"/>
<path d="M1196.8 1737.0C1196.4 1740.0 1198.6 1743.1 1197.8 1745.7C1197.0 1748.2 1194.0 1750.1 1192.1 1752.4C1190.2 1754.7 1188.8 1757.7 1186.4 1759.4C1184.0 1761.1 1180.6 1762.8 1177.7 1762.6C1174.8 1762.4 1171.7 1759.4 1169.1 1758.2C1166.5 1757.0 1165.1 1755.8 1162.0 1755.3C1159.0 1754.7 1152.9 1756.5 1150.9 1754.8C1149.0 1753.1 1150.7 1747.9 1150.4 1744.9C1150.2 1741.9 1150.2 1740.0 1149.2 1737.0C1148.3 1734.0 1144.0 1729.7 1144.7 1727.1C1145.4 1724.4 1151.0 1723.4 1153.3 1721.1C1155.6 1718.7 1156.1 1714.4 1158.6 1713.0C1161.1 1711.6 1165.3 1712.9 1168.5 1712.6C1171.7 1712.3 1175.0 1710.4 1177.7 1711.3C1180.4 1712.2 1181.9 1716.3 1184.5 1717.8C1187.2 1719.3 1191.1 1718.6 1193.8 1720.2C1196.4 1721.8 1199.8 1724.6 1200.3 1727.4C1200.8 1730.2 1197.2 1734.0 1196.8 1737.0Z" fill="#5338D6" filter="url(#bl)"/></g>
<ellipse cx="1290.1" cy="1734.9" rx="52.7" ry="51.6" fill="#B3B8DD" stroke="#C9CDEA" stroke-width="1.6"/><ellipse cx="1293.1" cy="1736.9" rx="48.7" ry="47.6" fill="#7C7ED6" opacity="0.55"/><ellipse cx="1289.0" cy="1735.0" rx="46.0" ry="48.0" fill="#A9A8DC"/><ellipse cx="1289.0" cy="1735.0" rx="46.0" ry="48.0" fill="#fff" opacity="0.30" filter="url(#spk)"/><path d="M1240.0 1750.4A51.6 50.6 0 0 1 1279.6 1684.8" fill="none" stroke="#E4E8F6" stroke-width="1.8" opacity="0.6"/><path d="M1263.8 1779.3A51.6 50.6 0 0 0 1321.7 1775.1" fill="none" stroke="#E8ECF8" stroke-width="2" opacity="0.65"/>
<g clip-path="url(#w2)"><path d="M1311.1 1733.0C1311.7 1735.8 1314.5 1739.5 1313.7 1742.0C1312.9 1744.5 1308.8 1746.5 1306.3 1748.2C1303.8 1750.0 1301.2 1751.0 1298.6 1752.6C1296.1 1754.1 1293.8 1756.7 1290.8 1757.5C1287.9 1758.4 1284.3 1758.1 1281.1 1757.6C1278.0 1757.1 1274.8 1756.0 1272.1 1754.5C1269.4 1753.1 1266.6 1751.1 1264.8 1748.9C1263.1 1746.6 1262.4 1743.5 1261.7 1740.9C1260.9 1738.3 1260.8 1735.8 1260.2 1733.0C1259.6 1730.2 1257.1 1726.5 1258.1 1723.9C1259.0 1721.4 1263.6 1720.1 1265.8 1717.8C1267.9 1715.5 1268.7 1712.1 1271.2 1710.1C1273.7 1708.2 1277.3 1706.9 1280.7 1706.1C1284.1 1705.3 1287.9 1705.1 1291.4 1705.5C1295.0 1705.9 1299.6 1706.1 1302.0 1708.3C1304.4 1710.4 1304.3 1715.5 1305.6 1718.3C1307.0 1721.1 1309.2 1722.7 1310.1 1725.2C1311.0 1727.6 1310.5 1730.2 1311.1 1733.0Z" fill="#8070DA" filter="url(#bl)"/>
<path d="M1303.0 1734.0C1303.6 1736.0 1307.1 1739.1 1306.3 1740.7C1305.5 1742.3 1300.0 1742.1 1298.2 1743.6C1296.4 1745.1 1297.1 1748.9 1295.4 1749.7C1293.6 1750.5 1290.0 1748.6 1287.7 1748.5C1285.4 1748.5 1283.9 1749.0 1281.5 1749.4C1279.1 1749.8 1274.9 1752.0 1273.1 1751.1C1271.3 1750.2 1272.1 1745.7 1270.8 1743.9C1269.5 1742.1 1266.0 1741.7 1265.1 1740.1C1264.1 1738.4 1264.8 1736.0 1265.0 1734.0C1265.2 1732.0 1265.4 1730.1 1266.2 1728.3C1266.9 1726.5 1267.8 1724.3 1269.4 1723.1C1271.0 1721.8 1273.8 1722.0 1275.7 1720.7C1277.6 1719.5 1278.9 1715.7 1280.9 1715.5C1282.9 1715.3 1285.6 1718.6 1287.7 1719.5C1289.9 1720.3 1292.2 1719.6 1293.8 1720.5C1295.5 1721.4 1296.3 1723.4 1297.7 1724.8C1299.0 1726.1 1301.2 1727.1 1302.1 1728.6C1303.0 1730.2 1302.3 1732.0 1303.0 1734.0Z" fill="#5338D6" filter="url(#bl)"/>
<path d="M1326.5 1707.4C1326.6 1708.4 1326.2 1709.7 1325.8 1710.7C1325.4 1711.6 1324.5 1712.0 1324.0 1713.1C1323.6 1714.2 1323.8 1716.6 1323.1 1717.1C1322.4 1717.5 1320.7 1715.7 1319.8 1715.7C1318.8 1715.7 1318.2 1717.0 1317.2 1717.3C1316.3 1717.5 1314.7 1717.9 1314.1 1717.2C1313.4 1716.4 1313.8 1714.0 1313.3 1713.0C1312.8 1711.9 1311.5 1711.8 1311.0 1710.9C1310.5 1710.0 1310.1 1708.5 1310.3 1707.4C1310.5 1706.3 1311.8 1705.5 1312.2 1704.5C1312.6 1703.5 1312.4 1702.3 1312.7 1701.2C1313.1 1700.2 1313.6 1698.8 1314.3 1698.2C1315.1 1697.6 1316.3 1697.9 1317.2 1697.7C1318.2 1697.5 1319.3 1696.5 1320.1 1696.8C1320.9 1697.2 1321.5 1698.9 1322.2 1699.7C1322.8 1700.5 1323.7 1700.7 1324.2 1701.5C1324.7 1702.3 1324.8 1703.4 1325.2 1704.4C1325.6 1705.4 1326.4 1706.4 1326.5 1707.4Z" fill="#6A55D8" filter="url(#bl)"/></g>
<ellipse cx="1404.7" cy="1736.7" rx="54.6" ry="52.2" fill="#B3B8DD" stroke="#C9CDEA" stroke-width="1.6"/><ellipse cx="1407.7" cy="1738.7" rx="50.6" ry="48.2" fill="#7C7ED6" opacity="0.55"/><ellipse cx="1402.0" cy="1736.0" rx="46.0" ry="49.0" fill="#A5A3DB"/><ellipse cx="1402.0" cy="1736.0" rx="46.0" ry="49.0" fill="#fff" opacity="0.30" filter="url(#spk)"/><path d="M1352.8 1752.4A53.5 51.2 0 0 1 1393.8 1686.1" fill="none" stroke="#E4E8F6" stroke-width="1.8" opacity="0.6"/><path d="M1377.4 1781.6A53.5 51.2 0 0 0 1437.5 1777.4" fill="none" stroke="#E8ECF8" stroke-width="2" opacity="0.65"/>
<g clip-path="url(#w3)"><path d="M1431.8 1738.0C1430.4 1741.1 1422.1 1742.9 1420.4 1746.1C1418.6 1749.3 1423.2 1755.1 1421.4 1757.4C1419.5 1759.6 1412.6 1757.5 1409.2 1759.6C1405.9 1761.7 1404.6 1769.6 1401.4 1769.9C1398.3 1770.2 1394.4 1762.1 1390.3 1761.3C1386.2 1760.5 1380.6 1765.9 1377.1 1765.2C1373.5 1764.5 1371.7 1759.8 1369.1 1757.0C1366.5 1754.3 1363.4 1751.8 1361.5 1748.7C1359.6 1745.5 1356.9 1741.2 1357.9 1738.0C1358.9 1734.8 1365.1 1732.1 1367.4 1729.2C1369.7 1726.4 1370.0 1723.8 1371.8 1720.9C1373.5 1718.1 1374.9 1713.6 1377.9 1712.1C1380.9 1710.7 1386.1 1712.3 1389.8 1712.4C1393.5 1712.4 1396.8 1711.9 1400.1 1712.5C1403.4 1713.1 1405.9 1715.0 1409.6 1715.9C1413.3 1716.8 1419.1 1716.0 1422.3 1717.9C1425.5 1719.8 1427.1 1723.9 1428.7 1727.3C1430.2 1730.6 1433.1 1734.9 1431.8 1738.0Z" fill="#7A68DA" filter="url(#bl)"/>
<path d="M1419.5 1738.0C1420.2 1740.5 1419.6 1743.5 1418.7 1746.1C1417.8 1748.7 1416.0 1751.2 1414.0 1753.5C1412.0 1755.8 1409.7 1758.4 1406.8 1759.8C1403.9 1761.1 1399.9 1760.9 1396.4 1761.3C1393.0 1761.8 1388.8 1763.8 1386.1 1762.6C1383.3 1761.4 1382.5 1755.9 1379.9 1754.2C1377.4 1752.4 1373.9 1753.3 1370.9 1752.0C1368.0 1750.7 1363.7 1748.9 1362.4 1746.6C1361.1 1744.3 1363.1 1740.8 1363.1 1738.0C1363.2 1735.2 1361.1 1731.6 1362.8 1729.5C1364.5 1727.4 1370.7 1727.3 1373.3 1725.6C1375.8 1723.9 1375.7 1720.4 1378.0 1719.1C1380.3 1717.9 1384.1 1718.6 1387.1 1718.1C1390.1 1717.6 1393.1 1716.0 1396.2 1716.0C1399.2 1716.1 1403.1 1716.8 1405.2 1718.5C1407.3 1720.2 1407.3 1724.0 1408.9 1726.1C1410.4 1728.2 1412.7 1729.2 1414.5 1731.2C1416.2 1733.1 1418.8 1735.5 1419.5 1738.0Z" fill="#4A2ED8" filter="url(#bl)"/></g>
</g></g>
<rect x="993.5" y="1529.8" width="125.7" height="115.6" fill="none" stroke="#262626" stroke-width="1.7"/>
<rect x="1120.8" y="1529.8" width="344.2" height="115.6" fill="none" stroke="#262626" stroke-width="1.7"/>
<rect x="993.3" y="1676.0" width="126.0" height="116.2" fill="none" stroke="#262626" stroke-width="1.7"/>
<rect x="1120.5" y="1676.0" width="344.5" height="116.2" fill="none" stroke="#262626" stroke-width="1.7"/>
<text x="1042.4" y="1522.9" font-size="18.0" fill="#262626" textLength="29.5" lengthAdjust="spacingAndGlyphs">WT</text>
<text x="1138.1" y="1522.9" font-size="18.0" fill="#262626" textLength="79.7" lengthAdjust="spacingAndGlyphs">CTDSPL2</text>
<text x="1257.0" y="1522.9" font-size="18.0" fill="#262626" textLength="80.1" lengthAdjust="spacingAndGlyphs">CHMP2B</text>
<text x="1377.8" y="1522.9" font-size="18.0" fill="#262626" textLength="75.1" lengthAdjust="spacingAndGlyphs">SLC35F4</text>
<text x="1042.4" y="1671.8" font-size="18.0" fill="#262626" textLength="29.5" lengthAdjust="spacingAndGlyphs">WT</text>
<text x="1146.8" y="1671.8" font-size="18.0" fill="#262626" textLength="75.3" lengthAdjust="spacingAndGlyphs">MMP2B</text>
<text x="1274.3" y="1671.8" font-size="18.0" fill="#262626" textLength="50.4" lengthAdjust="spacingAndGlyphs">HUS1</text>
<text x="1382.9" y="1671.8" font-size="18.0" fill="#262626" textLength="47.1" lengthAdjust="spacingAndGlyphs">RER1</text>
<text x="-1.3" y="2070.5" font-size="43.0" fill="#000" textLength="24.5" lengthAdjust="spacingAndGlyphs">g</text>
<g fill="#E5E5E5" stroke="#2A2A2A" stroke-width="1.1"><rect x="72.9" y="2318.2" width="7.12" height="19.2"/><rect x="80.0" y="2323.6" width="7.12" height="13.8"/><rect x="87.1" y="2313.7" width="7.12" height="23.7"/><rect x="94.2" y="2305.5" width="7.12" height="31.9"/><rect x="101.4" y="2284.5" width="7.12" height="52.9"/><rect x="108.5" y="2274.6" width="7.12" height="62.8"/><rect x="115.6" y="2260.2" width="7.12" height="77.2"/><rect x="122.7" y="2240.5" width="7.12" height="96.9"/><rect x="129.8" y="2215.6" width="7.12" height="121.8"/><rect x="136.9" y="2196.8" width="7.12" height="140.6"/><rect x="144.1" y="2190.0" width="7.12" height="147.4"/><rect x="151.2" y="2196.8" width="7.12" height="140.6"/><rect x="158.3" y="2229.6" width="7.12" height="107.8"/><rect x="165.4" y="2253.1" width="7.12" height="84.3"/><rect x="172.5" y="2287.0" width="7.12" height="50.5"/><rect x="179.6" y="2299.3" width="7.12" height="38.1"/><rect x="186.7" y="2315.0" width="7.12" height="22.4"/><rect x="193.9" y="2325.3" width="7.12" height="12.1"/><rect x="201.0" y="2330.0" width="7.12" height="7.4"/><rect x="208.1" y="2331.5" width="7.12" height="5.9"/><rect x="215.2" y="2334.8" width="7.12" height="2.6"/><rect x="222.3" y="2335.9" width="7.12" height="1.5"/><rect x="229.4" y="2336.5" width="7.12" height="0.9"/><rect x="236.5" y="2336.8" width="7.12" height="0.6"/><rect x="243.7" y="2337.0" width="7.12" height="0.4"/><rect x="250.8" y="2337.1" width="7.12" height="0.3"/><rect x="257.9" y="2337.1" width="7.12" height="0.3"/><rect x="265.0" y="2337.2" width="7.12" height="0.2"/><rect x="272.1" y="2337.2" width="7.12" height="0.2"/><rect x="279.2" y="2337.3" width="7.12" height="0.1"/><rect x="286.4" y="2337.3" width="7.12" height="0.1"/></g>
<line x1="112.2" y1="2300.6" x2="112.2" y2="2343.4" stroke="#FF0000" stroke-width="4.2"/>
<line x1="141.9" y1="2300.6" x2="141.9" y2="2343.4" stroke="#00EE00" stroke-width="4.2"/>
<path d="M72.9 2349V2343.4H286.4V2349" fill="none" stroke="#333" stroke-width="1.2"/>
<line x1="144.1" y1="2343.4" x2="144.1" y2="2349" stroke="#333" stroke-width="1.2"/>
<line x1="215.2" y1="2343.4" x2="215.2" y2="2349" stroke="#333" stroke-width="1.2"/>
<text x="72.9" y="2368.5" font-size="17.3" text-anchor="middle" fill="#222">0</text>
<text x="144.1" y="2368.5" font-size="17.3" text-anchor="middle" fill="#222">5</text>
<text x="215.2" y="2368.5" font-size="17.3" text-anchor="middle" fill="#222">10</text>
<text x="286.4" y="2368.5" font-size="17.3" text-anchor="middle" fill="#222">15</text>
<text x="116.2" y="2395.0" font-size="16.5" fill="#222" textLength="127.6" lengthAdjust="spacingAndGlyphs">log2 (TPM + 1)</text>
<line x1="64.7" y1="2337.4" x2="64.7" y2="2186.1" stroke="#333" stroke-width="1.2"/>
<line x1="57.1" y1="2337.4" x2="64.7" y2="2337.4" stroke="#333" stroke-width="1.2"/>
<line x1="57.1" y1="2287.0" x2="64.7" y2="2287.0" stroke="#333" stroke-width="1.2"/>
<line x1="57.1" y1="2236.5" x2="64.7" y2="2236.5" stroke="#333" stroke-width="1.2"/>
<line x1="57.1" y1="2186.1" x2="64.7" y2="2186.1" stroke="#333" stroke-width="1.2"/>
<text transform="translate(47.7 2337.4) rotate(-90)" font-size="17.4" text-anchor="middle" fill="#222">0</text>
<text transform="translate(47.7 2287.0) rotate(-90)" font-size="17.4" text-anchor="middle" fill="#222">500</text>
<text transform="translate(47.7 2236.5) rotate(-90)" font-size="17.4" text-anchor="middle" fill="#222">1000</text>
<text transform="translate(47.7 2186.1) rotate(-90)" font-size="17.4" text-anchor="middle" fill="#222">1500</text>
<text x="155.5" y="2163.5" font-size="20.5" font-weight="bold" fill="#000" textLength="49.1" lengthAdjust="spacingAndGlyphs">Vero</text>
<g fill="#E5E5E5" stroke="#2A2A2A" stroke-width="1.1"><rect x="389.2" y="2320.0" width="7.14" height="17.2"/><rect x="396.3" y="2319.4" width="7.14" height="17.8"/><rect x="403.5" y="2290.7" width="7.14" height="46.5"/><rect x="410.6" y="2263.0" width="7.14" height="74.2"/><rect x="417.8" y="2258.0" width="7.14" height="79.2"/><rect x="424.9" y="2256.5" width="7.14" height="80.7"/><rect x="432.1" y="2235.6" width="7.14" height="101.6"/><rect x="439.2" y="2225.8" width="7.14" height="111.4"/><rect x="446.4" y="2197.3" width="7.14" height="139.9"/><rect x="453.5" y="2196.7" width="7.14" height="140.5"/><rect x="460.6" y="2190.1" width="7.14" height="147.1"/><rect x="467.8" y="2201.4" width="7.14" height="135.8"/><rect x="474.9" y="2218.0" width="7.14" height="119.2"/><rect x="482.1" y="2247.7" width="7.14" height="89.5"/><rect x="489.2" y="2264.9" width="7.14" height="72.3"/><rect x="496.4" y="2286.7" width="7.14" height="50.5"/><rect x="503.5" y="2300.8" width="7.14" height="36.4"/><rect x="510.7" y="2314.0" width="7.14" height="23.2"/><rect x="517.8" y="2324.1" width="7.14" height="13.1"/><rect x="525.0" y="2329.1" width="7.14" height="8.1"/><rect x="532.1" y="2332.1" width="7.14" height="5.1"/><rect x="539.2" y="2334.2" width="7.14" height="3.0"/><rect x="546.4" y="2335.6" width="7.14" height="1.6"/><rect x="553.5" y="2336.2" width="7.14" height="1.0"/><rect x="560.7" y="2336.6" width="7.14" height="0.6"/><rect x="567.8" y="2336.8" width="7.14" height="0.4"/><rect x="575.0" y="2337.0" width="7.14" height="0.2"/></g>
<line x1="434.5" y1="2300.6" x2="434.5" y2="2343.4" stroke="#FF0000" stroke-width="4.2"/>
<line x1="459.5" y1="2300.6" x2="459.5" y2="2343.4" stroke="#00EE00" stroke-width="4.2"/>
<path d="M389.2 2349V2343.4H603.5V2349" fill="none" stroke="#333" stroke-width="1.2"/>
<line x1="460.6" y1="2343.4" x2="460.6" y2="2349" stroke="#333" stroke-width="1.2"/>
<line x1="532.1" y1="2343.4" x2="532.1" y2="2349" stroke="#333" stroke-width="1.2"/>
<text x="389.2" y="2368.5" font-size="17.3" text-anchor="middle" fill="#222">0</text>
<text x="460.6" y="2368.5" font-size="17.3" text-anchor="middle" fill="#222">5</text>
<text x="532.1" y="2368.5" font-size="17.3" text-anchor="middle" fill="#222">10</text>
<text x="603.5" y="2368.5" font-size="17.3" text-anchor="middle" fill="#222">15</text>
<text x="432.8" y="2395.0" font-size="16.5" fill="#222" textLength="126.8" lengthAdjust="spacingAndGlyphs">log2 (TPM + 1)</text>
<line x1="381.1" y1="2337.2" x2="381.1" y2="2187.6" stroke="#333" stroke-width="1.2"/>
<line x1="373.5" y1="2337.2" x2="381.1" y2="2337.2" stroke="#333" stroke-width="1.2"/>
<line x1="373.5" y1="2312.3" x2="381.1" y2="2312.3" stroke="#333" stroke-width="1.2"/>
<line x1="373.5" y1="2287.3" x2="381.1" y2="2287.3" stroke="#333" stroke-width="1.2"/>
<line x1="373.5" y1="2262.4" x2="381.1" y2="2262.4" stroke="#333" stroke-width="1.2"/>
<line x1="373.5" y1="2237.4" x2="381.1" y2="2237.4" stroke="#333" stroke-width="1.2"/>
<line x1="373.5" y1="2212.5" x2="381.1" y2="2212.5" stroke="#333" stroke-width="1.2"/>
<line x1="373.5" y1="2187.6" x2="381.1" y2="2187.6" stroke="#333" stroke-width="1.2"/>
<text transform="translate(364.1 2337.2) rotate(-90)" font-size="17.4" text-anchor="middle" fill="#222">0</text>
<text transform="translate(364.1 2287.3) rotate(-90)" font-size="17.4" text-anchor="middle" fill="#222">400</text>
<text transform="translate(364.1 2237.4) rotate(-90)" font-size="17.4" text-anchor="middle" fill="#222">800</text>
<text transform="translate(364.1 2187.6) rotate(-90)" font-size="17.4" text-anchor="middle" fill="#222">1200</text>
<text x="467.9" y="2163.5" font-size="20.5" font-weight="bold" fill="#000" textLength="56.0" lengthAdjust="spacingAndGlyphs">A549</text>
<g fill="#E5E5E5" stroke="#2A2A2A" stroke-width="1.1"><rect x="706.3" y="2316.6" width="7.12" height="20.6"/><rect x="713.4" y="2309.5" width="7.12" height="27.7"/><rect x="720.5" y="2285.8" width="7.12" height="51.4"/><rect x="727.6" y="2273.7" width="7.12" height="63.5"/><rect x="734.8" y="2261.4" width="7.12" height="75.8"/><rect x="741.9" y="2247.3" width="7.12" height="89.9"/><rect x="749.0" y="2228.4" width="7.12" height="108.8"/><rect x="756.1" y="2213.5" width="7.12" height="123.7"/><rect x="763.2" y="2191.6" width="7.12" height="145.6"/><rect x="770.3" y="2190.0" width="7.12" height="147.2"/><rect x="777.4" y="2201.8" width="7.12" height="135.4"/><rect x="784.6" y="2216.0" width="7.12" height="121.2"/><rect x="791.7" y="2230.4" width="7.12" height="106.8"/><rect x="798.8" y="2256.5" width="7.12" height="80.7"/><rect x="805.9" y="2276.0" width="7.12" height="61.2"/><rect x="813.0" y="2291.9" width="7.12" height="45.3"/><rect x="820.1" y="2306.5" width="7.12" height="30.7"/><rect x="827.3" y="2317.3" width="7.12" height="19.9"/><rect x="834.4" y="2325.1" width="7.12" height="12.1"/><rect x="841.5" y="2329.8" width="7.12" height="7.4"/><rect x="848.6" y="2332.4" width="7.12" height="4.8"/><rect x="855.7" y="2333.7" width="7.12" height="3.5"/><rect x="862.8" y="2334.8" width="7.12" height="2.4"/><rect x="869.9" y="2335.8" width="7.12" height="1.4"/><rect x="877.1" y="2336.5" width="7.12" height="0.7"/><rect x="884.2" y="2336.6" width="7.12" height="0.6"/><rect x="891.3" y="2336.8" width="7.12" height="0.4"/><rect x="898.4" y="2337.0" width="7.12" height="0.2"/><rect x="905.5" y="2337.1" width="7.12" height="0.1"/></g>
<line x1="757.5" y1="2300.6" x2="757.5" y2="2343.4" stroke="#00EE00" stroke-width="4.2"/>
<line x1="776.0" y1="2300.6" x2="776.0" y2="2343.4" stroke="#0000FF" stroke-width="4.2"/>
<line x1="805.9" y1="2300.6" x2="805.9" y2="2343.4" stroke="#FF0000" stroke-width="4.2"/>
<path d="M706.3 2349V2343.4H919.8V2349" fill="none" stroke="#333" stroke-width="1.2"/>
<line x1="777.4" y1="2343.4" x2="777.4" y2="2349" stroke="#333" stroke-width="1.2"/>
<line x1="848.6" y1="2343.4" x2="848.6" y2="2349" stroke="#333" stroke-width="1.2"/>
<text x="706.3" y="2368.5" font-size="17.3" text-anchor="middle" fill="#222">0</text>
<text x="777.4" y="2368.5" font-size="17.3" text-anchor="middle" fill="#222">5</text>
<text x="848.6" y="2368.5" font-size="17.3" text-anchor="middle" fill="#222">10</text>
<text x="919.8" y="2368.5" font-size="17.3" text-anchor="middle" fill="#222">15</text>
<text x="749.7" y="2395.0" font-size="16.5" fill="#222" textLength="127.0" lengthAdjust="spacingAndGlyphs">log2 (TPM + 1)</text>
<line x1="697.9" y1="2337.2" x2="697.9" y2="2188.6" stroke="#333" stroke-width="1.2"/>
<line x1="690.3" y1="2337.2" x2="697.9" y2="2337.2" stroke="#333" stroke-width="1.2"/>
<line x1="690.3" y1="2312.4" x2="697.9" y2="2312.4" stroke="#333" stroke-width="1.2"/>
<line x1="690.3" y1="2287.7" x2="697.9" y2="2287.7" stroke="#333" stroke-width="1.2"/>
<line x1="690.3" y1="2262.9" x2="697.9" y2="2262.9" stroke="#333" stroke-width="1.2"/>
<line x1="690.3" y1="2238.2" x2="697.9" y2="2238.2" stroke="#333" stroke-width="1.2"/>
<line x1="690.3" y1="2213.4" x2="697.9" y2="2213.4" stroke="#333" stroke-width="1.2"/>
<line x1="690.3" y1="2188.6" x2="697.9" y2="2188.6" stroke="#333" stroke-width="1.2"/>
<text transform="translate(680.9 2337.2) rotate(-90)" font-size="17.4" text-anchor="middle" fill="#222">0</text>
<text transform="translate(680.9 2287.7) rotate(-90)" font-size="17.4" text-anchor="middle" fill="#222">400</text>
<text transform="translate(680.9 2238.2) rotate(-90)" font-size="17.4" text-anchor="middle" fill="#222">800</text>
<text transform="translate(680.9 2188.6) rotate(-90)" font-size="17.4" text-anchor="middle" fill="#222">1200</text>
<text x="774.5" y="2163.5" font-size="20.5" font-weight="bold" fill="#000" textLength="76.8" lengthAdjust="spacingAndGlyphs">Calu−3</text>
<text transform="translate(19.7 0) rotate(-90)" x="-2308.5" y="0" font-size="18.5" fill="#222" textLength="89.7" lengthAdjust="spacingAndGlyphs">Frequency</text>
<line x1="833.5" y1="2193.1" x2="857" y2="2193.1" stroke="#FF0000" stroke-width="4.5" stroke-linecap="round"/>
<text x="870.4" y="2197.5" font-size="13.0" fill="#333">GATA6</text>
<line x1="833.5" y1="2209.7" x2="857" y2="2209.7" stroke="#00EE00" stroke-width="4.5" stroke-linecap="round"/>
<text x="870.4" y="2214.1" font-size="13.0" fill="#333">CUL5</text>
<line x1="833.5" y1="2226.2" x2="857" y2="2226.2" stroke="#0000FF" stroke-width="4.5" stroke-linecap="round"/>
<text x="870.4" y="2230.6" font-size="13.0" fill="#333">IRF6</text>
<text x="979.6" y="2081.7" font-size="40.0" fill="#000" textLength="27.4" lengthAdjust="spacingAndGlyphs">h</text>
<path d="M1116.4 2240.6C1119.4 2236.3 1125.0 2233.3 1130.0 2231.0C1135.0 2228.7 1140.9 2227.1 1146.7 2226.5C1152.5 2225.9 1159.3 2226.8 1165.0 2227.5C1170.7 2228.2 1175.0 2229.7 1181.1 2230.5C1187.1 2231.3 1195.1 2232.0 1201.3 2232.6C1207.5 2233.2 1213.0 2233.3 1218.0 2234.0C1223.0 2234.7 1227.4 2234.9 1231.6 2236.6C1235.8 2238.3 1240.0 2240.6 1243.0 2244.0C1246.0 2247.4 1247.6 2253.1 1249.8 2256.8C1252.0 2260.5 1255.6 2262.8 1256.0 2266.0C1256.4 2269.2 1255.0 2272.8 1252.0 2276.0C1249.0 2279.2 1243.1 2282.1 1238.0 2285.0C1232.9 2287.9 1227.0 2290.5 1221.5 2293.2C1216.0 2295.9 1209.7 2298.0 1205.0 2301.0C1200.3 2304.0 1196.2 2307.4 1193.2 2311.4C1190.2 2315.4 1188.3 2320.6 1187.0 2325.0C1185.7 2329.4 1186.1 2333.5 1185.1 2337.7C1184.1 2341.9 1182.3 2346.0 1181.0 2350.0C1179.7 2354.0 1178.5 2357.2 1177.0 2361.9C1175.5 2366.6 1173.3 2372.9 1172.0 2378.0C1170.7 2383.1 1170.1 2387.9 1168.9 2392.2C1167.7 2396.5 1166.3 2400.6 1165.0 2404.0C1163.7 2407.4 1162.9 2411.5 1160.9 2412.5C1158.9 2413.5 1155.4 2411.7 1153.0 2410.0C1150.6 2408.3 1148.9 2406.1 1146.7 2402.4C1144.5 2398.7 1142.0 2393.1 1140.0 2388.0C1138.0 2382.9 1136.4 2377.3 1134.6 2372.0C1132.8 2366.7 1130.7 2361.1 1129.0 2356.0C1127.3 2350.9 1126.0 2346.7 1124.5 2341.7C1123.0 2336.7 1121.3 2331.1 1120.0 2326.0C1118.7 2320.9 1117.3 2316.4 1116.4 2311.4C1115.5 2306.4 1114.8 2301.1 1114.5 2296.0C1114.2 2290.9 1114.7 2285.8 1114.4 2281.1C1114.2 2276.4 1113.3 2272.1 1113.0 2268.0C1112.7 2263.9 1111.7 2261.4 1112.3 2256.8C1112.9 2252.2 1113.5 2244.9 1116.4 2240.6Z" fill="#B4B4B4"/>
<path d="M1170 2221h0M1121 2237h0M1116 2233h0M1182 2358h0M1123 2342h0M1145 2409h0M1256 2264h0M1178 2362h0M1139 2397h0M1174 2390h0M1105 2281h0M1171 2383h0M1199 2227h0M1214 2302h0M1235 2232h0M1167 2410h0M1149 2411h0M1176 2365h0M1232 2230h0M1112 2292h0M1127 2230h0M1114 2232h0M1130 2379h0M1180 2376h0M1187 2229h0M1138 2391h0M1109 2282h0M1208 2303h0M1146 2403h0M1140 2402h0M1257 2250h0M1192 2331h0M1180 2399h0M1255 2263h0M1160 2216h0M1260 2274h0M1152 2411h0M1113 2287h0M1106 2251h0M1239 2291h0M1177 2376h0M1217 2295h0M1179 2357h0M1220 2233h0M1178 2362h0M1114 2283h0M1237 2294h0M1115 2309h0M1265 2273h0M1251 2278h0M1123 2360h0M1224 2293h0M1138 2390h0M1146 2410h0M1119 2342h0M1257 2279h0M1175 2409h0M1168 2400h0M1237 2233h0M1208 2302h0M1161 2226h0M1246 2242h0M1110 2323h0M1181 2389h0M1204 2228h0M1114 2293h0M1190 2321h0M1114 2293h0M1134 2230h0M1128 2354h0M1162 2227h0M1125 2379h0M1168 2227h0M1172 2402h0M1165 2405h0M1164 2411h0M1162 2414h0M1233 2233h0M1189 2362h0M1255 2269h0M1193 2313h0M1189 2343h0M1244 2287h0M1127 2378h0M1165 2415h0M1157 2413h0M1180 2358h0M1180 2364h0M1167 2221h0M1223 2301h0M1112 2291h0M1120 2237h0M1168 2405h0M1165 2413h0M1114 2228h0M1143 2409h0M1107 2273h0M1120 2235h0M1105 2260h0M1134 2373h0M1113 2284h0M1112 2258h0M1112 2269h0M1126 2353h0M1114 2310h0M1108 2299h0M1112 2268h0M1156 2411h0M1105 2299h0M1184 2224h0M1125 2350h0M1107 2301h0M1109 2274h0M1109 2288h0M1159 2422h0M1146 2225h0M1141 2408h0M1135 2394h0M1165 2419h0M1110 2239h0M1155 2411h0M1201 2315h0M1125 2362h0M1105 2270h0M1112 2303h0M1112 2296h0M1184 2348h0M1186 2368h0M1181 2353h0M1162 2413h0M1167 2400h0M1160 2414h0M1180 2361h0M1116 2352h0M1111 2254h0M1147 2224h0M1107 2312h0M1258 2271h0M1198 2339h0M1104 2239h0M1128 2358h0M1254 2280h0M1171 2396h0M1189 2323h0M1121 2336h0M1106 2268h0M1232 2292h0M1115 2314h0M1205 2230h0M1227 2295h0M1162 2227h0M1232 2233h0M1257 2271h0M1179 2226h0M1111 2299h0M1165 2224h0M1144 2401h0M1184 2222h0M1217 2229h0M1221 2233h0M1106 2258h0M1190 2339h0M1135 2225h0M1175 2376h0M1121 2331h0M1253 2259h0M1219 2231h0M1261 2273h0M1119 2328h0M1132 2395h0M1258 2248h0M1166 2411h0M1256 2285h0M1178 2360h0M1177 2228h0M1164 2407h0M1114 2303h0M1114 2332h0M1261 2255h0M1125 2347h0M1250 2252h0M1250 2248h0M1156 2420h0M1143 2399h0M1250 2255h0M1139 2220h0M1184 2363h0M1204 2302h0M1139 2224h0M1206 2306h0M1148 2406h0M1179 2358h0M1123 2355h0M1107 2276h0M1182 2374h0M1169 2405h0M1190 2340h0M1179 2365h0M1186 2336h0M1107 2260h0M1170 2223h0M1192 2325h0M1120 2344h0M1129 2362h0M1196 2314h0M1116 2334h0M1242 2237h0M1125 2343h0M1211 2312h0M1232 2235h0M1202 2312h0M1151 2412h0M1181 2363h0M1114 2293h0M1196 2227h0M1146 2403h0M1122 2232h0M1146 2408h0M1173 2378h0M1112 2259h0M1147 2224h0M1239 2237h0M1113 2287h0M1132 2230h0M1139 2386h0M1110 2317h0M1155 2224h0M1161 2422h0M1244 2244h0M1254 2274h0M1253 2276h0M1158 2422h0M1161 2221h0M1140 2391h0M1169 2222h0M1193 2327h0M1256 2259h0M1117 2312h0M1184 2349h0M1187 2337h0M1161 2415h0M1167 2405h0M1250 2282h0M1133 2390h0M1112 2254h0M1154 2411h0M1208 2309h0M1185 2220h0M1111 2277h0M1236 2290h0M1136 2390h0M1257 2288h0M1104 2257h0M1108 2274h0M1115 2241h0M1170 2395h0M1170 2390h0M1146 2227h0M1173 2391h0M1239 2287h0M1236 2290h0M1129 2378h0M1128 2231h0M1115 2304h0M1108 2259h0M1186 2229h0M1189 2321h0M1241 2284h0M1177 2380h0M1193 2332h0M1128 2354h0M1129 2385h0M1217 2300h0M1201 2316h0M1261 2270h0M1198 2312h0M1163 2415h0M1240 2292h0M1183 2349h0M1173 2410h0M1112 2313h0M1188 2325h0M1113 2311h0M1108 2278h0M1106 2252h0M1187 2339h0M1125 2231h0M1113 2285h0M1209 2306h0M1241 2291h0M1137 2218h0M1201 2223h0M1212 2311h0M1107 2236h0M1145 2223h0M1133 2371h0M1252 2277h0M1109 2284h0M1149 2407h0M1127 2360h0M1114 2239h0M1227 2302h0M1134 2227h0M1264 2265h0M1221 2298h0M1104 2270h0M1232 2235h0M1233 2230h0M1179 2357h0M1240 2294h0M1110 2272h0M1166 2224h0M1128 2230h0M1138 2382h0M1177 2225h0M1256 2247h0M1129 2228h0M1121 2360h0M1183 2381h0M1156 2411h0M1148 2425h0M1164 2438h0M1153 2437h0M1162 2401h0M1156 2408h0M1157 2436h0M1136 2424h0M1152 2405h0M1170 2406h0M1155 2469h0M1146 2455h0M1144 2402h0M1163 2417h0M1151 2459h0M1155 2426h0M1155 2440h0M1148 2414h0M1156 2430h0M1157 2440h0M1150 2439h0M1137 2452h0M1152 2405h0M1156 2406h0M1160 2409h0M1154 2429h0M1145 2410h0M1162 2445h0M1179 2167h0M1192 2185h0M1221 2197h0M1155 2209h0M1117 2221h0M1150 2192h0M1200 2207h0M1246 2207h0M1262 2216h0M1279 2229h0M1304 2244h0M1312 2224h0M1321 2236h0M1329 2219h0M1341 2209h0M1292 2263h0M1308 2271h0M1300 2315h0M1316 2170h0M1399 2192h0M1412 2187h0M1258 2214h0M1275 2239h0M1283 2253h0M1105 2258h0M1096 2285h0M1113 2308h0M1121 2344h0M1130 2362h0M1142 2396h0M1200 2371h0M1217 2389h0M1179 2450h0M1167 2475h0M1159 2460h0M1188 2431h0M1233 2352h0M1225 2335h0M1267 2303h0M1254 2276h0M1229 2180h0M1208 2194h0M1184 2214h0M1350 2248h0M1296 2231h0" stroke="#C4C4C4" stroke-opacity="0.7" stroke-width="6.2" stroke-linecap="round" fill="none"/>
<defs><filter id="hb" x="-10%" y="-10%" width="120%" height="120%"><feGaussianBlur stdDeviation="2.2"/></filter></defs>
<path d="M1116.4 2240.6C1119.4 2236.3 1125.0 2233.3 1130.0 2231.0C1135.0 2228.7 1140.9 2227.1 1146.7 2226.5C1152.5 2225.9 1159.3 2226.8 1165.0 2227.5C1170.7 2228.2 1175.0 2229.7 1181.1 2230.5C1187.1 2231.3 1195.1 2232.0 1201.3 2232.6C1207.5 2233.2 1213.0 2233.3 1218.0 2234.0C1223.0 2234.7 1227.4 2234.9 1231.6 2236.6C1235.8 2238.3 1240.0 2240.6 1243.0 2244.0C1246.0 2247.4 1247.6 2253.1 1249.8 2256.8C1252.0 2260.5 1255.6 2262.8 1256.0 2266.0C1256.4 2269.2 1255.0 2272.8 1252.0 2276.0C1249.0 2279.2 1243.1 2282.1 1238.0 2285.0C1232.9 2287.9 1227.0 2290.5 1221.5 2293.2C1216.0 2295.9 1209.7 2298.0 1205.0 2301.0C1200.3 2304.0 1196.2 2307.4 1193.2 2311.4C1190.2 2315.4 1188.3 2320.6 1187.0 2325.0C1185.7 2329.4 1186.1 2333.5 1185.1 2337.7C1184.1 2341.9 1182.3 2346.0 1181.0 2350.0C1179.7 2354.0 1178.5 2357.2 1177.0 2361.9C1175.5 2366.6 1173.3 2372.9 1172.0 2378.0C1170.7 2383.1 1170.1 2387.9 1168.9 2392.2C1167.7 2396.5 1166.3 2400.6 1165.0 2404.0C1163.7 2407.4 1162.9 2411.5 1160.9 2412.5C1158.9 2413.5 1155.4 2411.7 1153.0 2410.0C1150.6 2408.3 1148.9 2406.1 1146.7 2402.4C1144.5 2398.7 1142.0 2393.1 1140.0 2388.0C1138.0 2382.9 1136.4 2377.3 1134.6 2372.0C1132.8 2366.7 1130.7 2361.1 1129.0 2356.0C1127.3 2350.9 1126.0 2346.7 1124.5 2341.7C1123.0 2336.7 1121.3 2331.1 1120.0 2326.0C1118.7 2320.9 1117.3 2316.4 1116.4 2311.4C1115.5 2306.4 1114.8 2301.1 1114.5 2296.0C1114.2 2290.9 1114.7 2285.8 1114.4 2281.1C1114.2 2276.4 1113.3 2272.1 1113.0 2268.0C1112.7 2263.9 1111.7 2261.4 1112.3 2256.8C1112.9 2252.2 1113.5 2244.9 1116.4 2240.6Z" fill="#B6B6B6" stroke="#BBBBBB" stroke-width="5" filter="url(#hb)"/>
<path d="M1116.4 2240.6C1119.4 2236.3 1125.0 2233.3 1130.0 2231.0C1135.0 2228.7 1140.9 2227.1 1146.7 2226.5C1152.5 2225.9 1159.3 2226.8 1165.0 2227.5C1170.7 2228.2 1175.0 2229.7 1181.1 2230.5C1187.1 2231.3 1195.1 2232.0 1201.3 2232.6C1207.5 2233.2 1213.0 2233.3 1218.0 2234.0C1223.0 2234.7 1227.4 2234.9 1231.6 2236.6C1235.8 2238.3 1240.0 2240.6 1243.0 2244.0C1246.0 2247.4 1247.6 2253.1 1249.8 2256.8C1252.0 2260.5 1255.6 2262.8 1256.0 2266.0C1256.4 2269.2 1255.0 2272.8 1252.0 2276.0C1249.0 2279.2 1243.1 2282.1 1238.0 2285.0C1232.9 2287.9 1227.0 2290.5 1221.5 2293.2C1216.0 2295.9 1209.7 2298.0 1205.0 2301.0C1200.3 2304.0 1196.2 2307.4 1193.2 2311.4C1190.2 2315.4 1188.3 2320.6 1187.0 2325.0C1185.7 2329.4 1186.1 2333.5 1185.1 2337.7C1184.1 2341.9 1182.3 2346.0 1181.0 2350.0C1179.7 2354.0 1178.5 2357.2 1177.0 2361.9C1175.5 2366.6 1173.3 2372.9 1172.0 2378.0C1170.7 2383.1 1170.1 2387.9 1168.9 2392.2C1167.7 2396.5 1166.3 2400.6 1165.0 2404.0C1163.7 2407.4 1162.9 2411.5 1160.9 2412.5C1158.9 2413.5 1155.4 2411.7 1153.0 2410.0C1150.6 2408.3 1148.9 2406.1 1146.7 2402.4C1144.5 2398.7 1142.0 2393.1 1140.0 2388.0C1138.0 2382.9 1136.4 2377.3 1134.6 2372.0C1132.8 2366.7 1130.7 2361.1 1129.0 2356.0C1127.3 2350.9 1126.0 2346.7 1124.5 2341.7C1123.0 2336.7 1121.3 2331.1 1120.0 2326.0C1118.7 2320.9 1117.3 2316.4 1116.4 2311.4C1115.5 2306.4 1114.8 2301.1 1114.5 2296.0C1114.2 2290.9 1114.7 2285.8 1114.4 2281.1C1114.2 2276.4 1113.3 2272.1 1113.0 2268.0C1112.7 2263.9 1111.7 2261.4 1112.3 2256.8C1112.9 2252.2 1113.5 2244.9 1116.4 2240.6Z" fill="#B4B4B4"/>
<path d="M1081.4 2076.3V2497.8H1525" fill="none" stroke="#333" stroke-width="1.5"/>
<line x1="1076.5" y1="2401.0" x2="1081.4" y2="2401.0" stroke="#333" stroke-width="1.3"/>
<line x1="1076.5" y1="2278.0" x2="1081.4" y2="2278.0" stroke="#333" stroke-width="1.3"/>
<line x1="1076.5" y1="2155.0" x2="1081.4" y2="2155.0" stroke="#333" stroke-width="1.3"/>
<text x="1064.7" y="2160.6" font-size="15.5" fill="#555" textLength="9.0" lengthAdjust="spacingAndGlyphs">5</text>
<text x="1064.5" y="2283.6" font-size="15.5" fill="#555" textLength="9.4" lengthAdjust="spacingAndGlyphs">0</text>
<text x="1055.7" y="2406.6" font-size="15.5" fill="#555" textLength="18.0" lengthAdjust="spacingAndGlyphs">−5</text>
<line x1="1084.0" y1="2497.8" x2="1084.0" y2="2502.5" stroke="#333" stroke-width="1.3"/>
<text x="1084.0" y="2517.7" font-size="16.5" text-anchor="middle" fill="#555">−2</text>
<line x1="1167.0" y1="2497.8" x2="1167.0" y2="2502.5" stroke="#333" stroke-width="1.3"/>
<text x="1167.0" y="2517.7" font-size="16.5" text-anchor="middle" fill="#555">0</text>
<line x1="1250.0" y1="2497.8" x2="1250.0" y2="2502.5" stroke="#333" stroke-width="1.3"/>
<text x="1250.0" y="2517.7" font-size="16.5" text-anchor="middle" fill="#555">2</text>
<line x1="1333.0" y1="2497.8" x2="1333.0" y2="2502.5" stroke="#333" stroke-width="1.3"/>
<text x="1333.0" y="2517.7" font-size="16.5" text-anchor="middle" fill="#555">4</text>
<line x1="1416.0" y1="2497.8" x2="1416.0" y2="2502.5" stroke="#333" stroke-width="1.3"/>
<text x="1416.0" y="2517.7" font-size="16.5" text-anchor="middle" fill="#555">6</text>
<line x1="1499.0" y1="2497.8" x2="1499.0" y2="2502.5" stroke="#333" stroke-width="1.3"/>
<text x="1499.0" y="2517.7" font-size="16.5" text-anchor="middle" fill="#555">8</text>
<text x="1085.8" y="2535.9" font-size="21.5" fill="#222" textLength="433.9" lengthAdjust="spacingAndGlyphs">Mean residual Z−score from Rebendenne et al.</text>
<text transform="translate(1047.5 0) rotate(-90)" x="-2474.7" y="0" font-size="21.5" fill="#222" textLength="376.6" lengthAdjust="spacingAndGlyphs">Mean residual Z−score from Biering et al.</text>
<g fill="#E8000B">
<circle cx="1390.2" cy="2094.3" r="3.7"/>
<circle cx="1503.0" cy="2113.8" r="3.7"/>
<circle cx="1233.8" cy="2179.2" r="3.7"/>
<circle cx="1203.8" cy="2235.1" r="3.7"/>
<circle cx="1223.9" cy="2240.4" r="3.7"/>
<circle cx="1253.3" cy="2247.5" r="3.7"/>
<circle cx="1173.3" cy="2278.6" r="3.7"/>
</g>
<text x="1353.8" y="2111.3" font-size="17.0" fill="#262626" textLength="48.6" lengthAdjust="spacingAndGlyphs">AP1G1</text>
<text x="1458.1" y="2120.8" font-size="17.0" fill="#262626" textLength="39.7" lengthAdjust="spacingAndGlyphs">ACE2</text>
<text x="1204.5" y="2196.2" font-size="17.0" fill="#262626" textLength="33.9" lengthAdjust="spacingAndGlyphs">IRF6</text>
<text x="1171.8" y="2228.7" font-size="17.0" fill="#262626" textLength="39.3" lengthAdjust="spacingAndGlyphs">CUL5</text>
<text x="1187.5" y="2257.4" font-size="17.0" fill="#262626" textLength="46.6" lengthAdjust="spacingAndGlyphs">GATA6</text>
<text x="1242.1" y="2265.2" font-size="17.0" fill="#262626" textLength="46.8" lengthAdjust="spacingAndGlyphs">EP300</text>
<text x="1137.4" y="2295.3" font-size="17.0" fill="#262626" textLength="47.3" lengthAdjust="spacingAndGlyphs">EXTL2</text>
</svg></body></html>
